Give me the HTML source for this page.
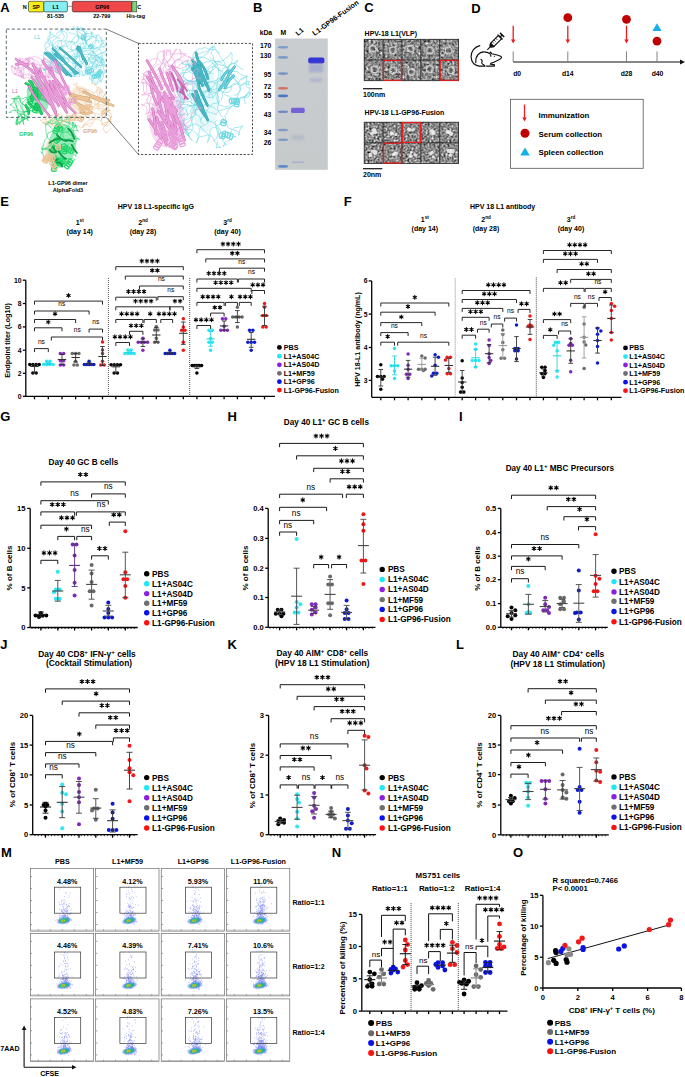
<!DOCTYPE html><html><head><meta charset="utf-8"><style>html,body{margin:0;padding:0;background:#fff;overflow:hidden;}svg{display:block;}</style></head><body><svg width="685" height="1077" viewBox="0 0 685 1077" font-family='"Liberation Sans", sans-serif'>
<rect width="685" height="1077" fill="#fff"/>
<text x="0.30" y="12.38" font-size="13" font-weight="bold" text-anchor="start" fill="#000">A</text>
<text x="24.80" y="9.18" font-size="5.5" font-weight="bold" text-anchor="middle" fill="#000">N</text>
<rect x="28.5" y="1.3" width="15.3" height="10.6" rx="1.5" fill="#f6ee1a" stroke="#222" stroke-width="0.6"/>
<text x="36.10" y="8.58" font-size="5.5" font-weight="bold" text-anchor="middle" fill="#000">SP</text>
<rect x="43.8" y="1.3" width="23.6" height="10.6" rx="1.5" fill="#84eef2" stroke="#222" stroke-width="0.6"/>
<text x="55.60" y="8.58" font-size="5.5" font-weight="bold" text-anchor="middle" fill="#000">L1</text>
<line x1="67.40" y1="6.30" x2="72.30" y2="6.30" stroke="#555" stroke-width="0.6"/>
<rect x="72.3" y="1.3" width="59.7" height="10.6" rx="1.5" fill="#f04848" stroke="#222" stroke-width="0.6"/>
<text x="102.20" y="8.58" font-size="5.5" font-weight="bold" text-anchor="middle" fill="#000">GP96</text>
<rect x="132" y="1.3" width="4.8" height="10.6" fill="#7ad67a" stroke="#222" stroke-width="0.5"/>
<text x="139.20" y="8.98" font-size="5.5" font-weight="bold" text-anchor="middle" fill="#000">C</text>
<text x="55.60" y="18.48" font-size="5.5" font-weight="bold" text-anchor="middle" fill="#000">81-535</text>
<text x="101.80" y="18.48" font-size="5.5" font-weight="bold" text-anchor="middle" fill="#000">22-799</text>
<text x="135.70" y="18.48" font-size="5.5" font-weight="bold" text-anchor="middle" fill="#000">His-tag</text>
<path d="M79.0,37.7 L80.8,38.4 L82.7,39.1 L84.4,40.2 L86.4,40.5 L88.3,40.0 L90.1,39.0 L92.0,38.5 L93.6,37.3 L95.6,37.3 L97.2,36.1 L98.3,34.4 L99.5,36.0 L100.1,37.9 L101.0,39.7 L102.0,41.4 L103.3,42.9 L104.4,44.6 L105.7,46.1 L103.7,46.4 L101.8,47.0 L100.1,48.0 L99.1,49.7 L97.5,50.9 L95.6,51.7 L93.7,51.9 L91.8,51.2 L89.9,50.7 L87.9,50.6 L85.9,50.6 L83.9,51.0 L81.9,50.8 L80.3,52.0 L78.7,53.2 L77.1,54.4 L75.8,55.9 L75.6,57.9 L75.0,59.8 L75.6,61.7 L76.1,63.6 L77.5,65.1 L79.4,65.5 L81.4,64.9 L82.7,63.4 L83.1,61.5 L84.0,59.7 M88.0,45.6 L86.8,44.0 L85.6,42.4 L85.3,40.4 L84.5,38.6 L84.8,36.6 L85.6,34.7 L86.8,33.1 L86.7,31.1 L85.6,29.5 L83.6,28.9 L81.7,28.8 L80.1,27.5 L81.8,28.6 L82.7,30.4 L84.4,31.4 L85.8,32.9 L86.5,34.8 L86.3,36.7 L85.4,38.5 L85.4,40.5 L86.3,42.3 L86.5,44.3 L85.9,46.2 L84.4,47.6 L83.1,49.0 L81.1,49.6 L79.7,51.0 L77.7,51.3 L75.9,50.5 L73.9,50.2 L72.1,51.0 L70.2,51.7 L68.3,51.9 L66.4,52.5 L65.2,54.1 L64.5,56.0 L63.1,57.4 L62.7,59.4 L61.2,60.8 L60.3,62.5 L60.2,64.5 L61.1,66.3 L60.7,68.3 L59.4,69.7 L58.4,71.5 M49.3,59.2 L49.6,57.2 L50.3,55.3 L51.9,54.0 L53.3,52.7 L54.9,51.4 L56.8,51.0 L58.5,49.8 L59.7,48.2 L61.2,46.9 L62.8,45.8 L64.5,44.7 L65.9,43.2 L67.9,42.9 L69.6,41.9 L71.6,41.4 L73.5,42.1 L75.4,42.4 L77.2,41.5 L78.6,40.0 L78.8,38.0 L78.1,36.2 L76.5,34.9 L74.7,34.1 L72.8,33.6 L70.8,33.2 L69.0,32.4 L67.4,31.1 L66.2,29.5 L64.8,28.2 L66.6,28.8 L68.5,29.6 L70.5,29.4 L72.5,29.3 L74.4,28.7 L76.4,28.6 L78.3,29.2 L80.3,29.0 L82.2,28.6 L84.2,28.1 L83.4,30.0 L83.8,31.9 L85.3,33.2 L85.7,35.2 L85.3,37.2 L85.2,39.2 M84.2,41.2 L84.9,39.3 L86.3,37.9 L87.6,36.4 L89.6,36.0 L91.4,36.8 L93.4,36.4 L95.3,35.8 L97.1,35.0 L96.7,37.0 L95.9,38.8 L96.1,40.8 L95.7,42.7 L94.3,44.2 L94.0,46.2 L93.3,48.0 L93.1,50.0 L92.6,52.0 L91.6,53.7 L89.7,54.4 L87.8,54.3 L85.8,54.7 L83.8,54.4 L81.9,55.1 L79.9,55.2 L78.0,55.6 L76.2,56.5 L74.9,58.0 L74.3,59.9 L73.0,61.4 L72.7,63.4 L73.1,65.4 L74.3,67.0 L76.1,67.8 L77.5,69.2 L78.8,70.8 L79.7,72.6 L79.5,74.6 L79.4,76.6 L77.5,75.9 L75.5,76.1 L73.5,76.3 L71.6,75.8 L70.2,74.4 L68.8,72.9 L67.0,72.1 M79.7,72.3 L77.9,73.2 L75.9,73.0 L73.9,72.5 L72.0,72.1 L70.1,72.7 L68.8,74.3 L68.6,76.3 L67.9,74.4 L67.6,72.4 L68.7,70.8 L70.1,69.3 L72.0,69.0 L73.9,68.4 L75.3,66.9 L75.6,65.0 L75.3,63.0 L75.1,61.0 L76.2,59.3 L76.8,57.4 L76.6,55.4 L77.1,53.5 L77.3,51.5 L77.6,49.5 L76.9,47.6 L77.3,45.6 L78.6,44.2 L80.4,43.3 L82.4,43.6 L84.4,43.4 L85.9,42.1 L86.9,40.4 L88.7,39.5 L90.5,38.5 L91.7,37.0 L92.0,35.0 L91.4,33.1 L90.7,31.2 L91.5,33.0 L91.3,35.0 L90.4,36.8 L88.9,38.2 L88.1,40.0 L86.7,41.4 L85.9,43.2 L85.0,45.1 M45.4,70.4 L43.5,69.8 L45.5,69.6 L43.8,70.6 L45.1,69.0 L45.3,71.0 L44.6,69.1 L45.3,71.0 L43.9,69.6 L45.3,71.0 L43.7,69.8 L45.3,68.7 L47.2,68.0 L48.4,66.4 L49.9,65.1 L51.2,63.5 L53.0,62.7 L54.0,61.0 L55.9,60.2 L56.9,58.5 L56.7,56.5 L55.2,55.1 L53.3,54.6 L52.1,53.0 L51.8,51.0 L52.6,49.2 L52.5,47.2 L53.0,45.2 L54.2,43.7 L55.9,42.5 L57.1,40.9 L59.0,40.4 L61.0,40.5 L62.9,41.1 L64.9,41.2 L66.9,40.9 L68.8,41.4 L70.8,41.9 L72.7,42.3 L74.1,43.8 L75.6,45.1 L76.3,47.0 L78.0,48.1 L79.6,49.2 L80.8,50.8 L82.8,51.3 M86.0,42.0 L84.9,40.3 L83.1,39.5 L82.1,37.7 L80.6,36.4 L78.7,36.0 L76.7,35.7 L74.9,36.7 L73.9,38.4 L72.3,39.7 L71.7,41.6 L70.9,43.4 L69.3,44.6 L67.8,45.9 L65.9,46.4 L63.9,46.1 L62.0,46.6 L60.7,48.1 L58.9,49.0 L56.9,48.9 L55.2,47.9 L53.9,46.4 L52.5,44.9 L52.4,42.9 L52.9,41.0 L54.1,39.4 L55.9,38.7 L57.0,37.0 L58.6,35.8 L60.3,34.7 L61.0,32.9 L61.0,30.9 L61.6,29.0 L62.2,30.9 L62.6,32.8 L63.5,34.6 L64.3,36.5 L64.0,38.4 L62.5,39.8 L61.0,41.1 L59.1,41.8 L58.0,43.4 L57.7,45.4 L57.3,47.4 L56.1,48.9 L55.8,50.9 M52.4,52.0 L52.7,54.0 L53.9,55.6 L55.3,57.1 L55.9,58.9 L57.3,60.3 L58.1,62.2 L59.7,63.4 L61.6,63.9 L63.4,64.8 L65.3,64.5 L67.2,63.6 L68.4,62.0 L68.9,60.1 L70.3,58.7 L71.0,56.8 L72.2,55.2 L74.1,54.5 L75.6,53.2 L77.6,52.8 L79.3,51.9 L81.3,51.8 L83.3,51.9 L85.3,51.5 L87.2,52.3 L88.8,53.5 L90.6,54.2 L92.4,55.2 L94.3,55.6 L96.3,55.4 L98.1,56.4 L98.8,58.3 L100.3,59.6 L100.9,61.5 L100.8,63.5 L102.1,65.1 L100.1,65.6 L98.3,66.3 L96.3,66.0 L94.8,64.7 L92.9,64.0 L91.0,63.4 L89.7,61.9 L87.9,61.0 L85.9,61.1 L84.0,61.5 M85.1,69.4 L85.3,67.5 L84.6,65.6 L83.1,64.3 L81.8,62.8 L80.3,61.5 L79.7,59.5 L79.5,57.6 L79.6,55.6 L80.2,53.7 L80.0,51.7 L80.9,49.9 L82.6,48.7 L84.5,48.4 L86.5,48.9 L88.4,48.4 L89.8,46.9 L90.8,45.2 L92.3,43.9 L93.1,42.1 L94.7,40.9 L96.7,40.6 L98.7,40.9 L100.6,41.1 L102.5,40.4 L104.5,40.5 L103.5,42.2 L102.4,44.0 L100.9,45.2 L99.1,46.1 L97.8,47.6 L95.9,48.2 L94.2,49.3 L92.6,50.6 L91.2,52.0 L89.4,52.9 L88.6,54.7 L87.4,56.3 L86.2,57.9 L84.5,58.9 L83.0,60.3 L81.4,61.4 L79.4,61.4 L77.7,62.5 L75.7,62.8 L73.8,63.2 M61.8,41.5 L61.2,43.4 L61.5,45.4 L60.5,47.1 L59.5,48.8 L59.0,50.8 L57.9,52.4 L56.5,53.9 L54.6,54.4 L53.2,55.9 L51.5,56.9 L50.7,58.7 L50.8,60.7 L51.2,62.7 L52.0,64.5 L53.4,66.0 L54.6,67.6 L55.1,69.5 L56.0,71.3 L56.7,73.2 L55.6,71.5 L53.8,70.5 L53.2,68.6 L51.5,67.5 L49.7,66.7 L48.4,65.2 L46.6,64.3 L44.7,63.8 L46.0,62.3 L48.0,62.0 L49.9,62.6 L51.8,62.2 L53.8,61.8 L55.3,60.6 L55.8,58.6 L55.5,56.6 L55.7,54.7 L56.0,52.7 L55.7,50.7 L55.7,48.7 L54.5,47.1 L53.1,45.7 L51.1,45.4 L49.5,44.2 L47.7,43.3 L46.2,41.9 M63.9,48.0 L62.0,47.8 L60.0,47.4 L58.3,46.3 L56.3,46.3 L54.5,47.1 L53.6,48.9 L52.7,50.7 L52.9,52.7 L53.1,54.7 L54.1,56.4 L55.1,58.2 L56.5,59.5 L57.4,61.3 L57.5,63.3 L56.3,65.0 L55.2,66.6 L53.4,67.5 L51.4,67.4 L49.5,67.8 L47.7,66.8 L46.9,65.0 L45.3,63.8 L44.2,62.1 L43.6,60.2 L43.3,58.2 L43.7,56.2 L43.4,54.3 L44.0,52.4 L45.1,50.7 L45.5,48.8 L47.0,47.4 L48.8,46.6 L49.9,44.9 L49.6,42.9 L48.5,41.3 L47.8,39.4 L47.8,37.4 L48.8,35.7 L50.6,34.8 L51.9,33.2 L52.6,35.1 L54.2,36.3 L56.0,37.2 L57.9,37.9 L59.9,38.3 M93.6,57.3 L95.1,56.0 L97.0,55.3 L98.9,54.6 L100.7,53.7 L102.5,52.9 L104.3,52.0 L106.3,51.6 L104.4,52.3 L102.4,52.5 L100.6,53.4 L98.8,54.1 L96.9,55.0 L95.8,56.6 L95.7,58.6 L95.7,60.6 L94.6,62.3 L93.0,63.5 L92.5,65.5 L91.0,66.8 L89.2,67.6 L87.2,68.1 L86.1,69.7 L85.4,71.6 L85.2,73.6 L85.0,75.6 L83.2,74.6 L81.7,73.3 L80.4,71.8 L79.3,70.1 L78.3,68.4 L77.4,66.6 L75.8,65.5 L74.7,63.8 L74.7,61.8 L75.6,60.0 L77.1,58.7 L78.0,56.9 L78.4,54.9 L77.6,53.1 L77.5,51.1 L78.4,49.3 L80.2,48.4 L82.0,47.7 L84.0,47.8 L85.7,48.9 M50.8,31.8 L49.3,33.2 L50.3,31.4 L50.2,33.4 L50.4,35.4 L49.6,37.2 L49.5,39.2 L50.5,41.0 L50.7,42.9 L52.0,44.4 L52.8,46.3 L53.2,48.2 L54.6,49.7 L56.1,51.0 L57.9,51.8 L59.2,53.3 L59.9,55.2 L61.0,56.9 L62.8,57.8 L64.7,58.4 L66.6,58.8 L68.5,59.5 L69.6,61.1 L71.1,62.5 L73.1,62.9 L74.9,63.7 L76.8,64.3 L78.4,65.5 L79.7,67.0 L80.9,68.6 L81.3,70.6 L82.5,72.2 L82.9,74.2 L84.2,75.8 L82.2,75.3 L80.3,74.6 L78.5,73.9 L76.5,74.2 L74.5,74.6 L72.8,75.6 L71.5,77.1 L71.5,75.1 L71.2,73.1 L70.2,71.4 L69.6,69.5 L70.3,67.6 M101.4,37.0 L101.9,39.0 L102.1,41.0 L101.8,42.9 L101.2,44.9 L100.7,46.8 L99.1,47.9 L97.1,47.8 L95.3,46.9 L93.3,46.7 L91.5,45.7 L89.6,46.0 L87.8,45.1 L86.3,43.7 L85.9,41.8 L85.3,39.9 L85.2,37.9 L84.5,36.0 L84.9,34.1 L84.4,32.1 L82.8,30.9 L81.0,30.2 L79.3,29.1 L77.7,28.0 L76.7,26.2 L78.2,27.5 L79.2,29.3 L78.9,31.2 L79.8,33.0 L81.6,34.0 L83.5,34.5 L85.4,34.0 L87.4,33.6 L89.4,33.8 L91.3,33.1 L93.2,32.5 L92.7,34.4 L93.5,36.2 L94.9,37.7 L96.6,38.6 L98.1,40.0 L98.5,41.9 L99.9,43.4 L101.3,44.8 L102.8,46.1 L104.0,47.7 M52.5,73.4 L51.8,71.5 L50.8,69.7 L50.1,67.9 L50.3,65.9 L50.9,64.0 L51.1,62.0 L52.4,60.5 L52.9,58.5 L54.4,57.3 L56.3,56.4 L57.7,55.0 L59.7,54.8 L61.5,55.6 L63.3,56.4 L64.6,57.9 L66.6,58.5 L68.6,58.4 L70.6,58.3 L72.3,59.3 L74.1,60.1 L75.1,61.8 L75.9,63.6 L76.0,65.6 L75.4,67.5 L75.9,69.5 L75.1,71.4 L74.2,73.1 L74.2,75.1 L75.2,76.9 L73.9,75.4 L72.7,73.7 L72.6,71.7 L73.5,70.0 L74.5,68.2 L75.4,66.4 L76.8,65.0 L78.8,64.8 L80.6,64.0 L82.5,63.3 L83.8,61.8 L83.8,59.8 L82.8,58.1 L81.4,56.6 L80.3,55.0 L80.1,53.0 M89.3,73.7 L88.3,75.4 L87.6,73.6 L86.6,71.8 L85.7,70.0 L86.2,68.1 L86.5,66.1 L85.7,64.3 L84.5,62.7 L83.5,61.0 L82.9,59.0 L81.6,57.6 L79.8,56.6 L77.8,56.5 L75.8,56.4 L73.8,56.6 L71.9,57.3 L70.1,57.9 L68.1,57.9 L66.1,57.5 L64.3,56.5 L62.5,55.8 L61.4,54.1 L59.6,53.3 L57.6,53.6 L56.1,54.9 L54.6,56.3 L53.5,58.0 L53.2,59.9 L54.3,61.7 L54.5,63.6 L55.9,65.1 L57.0,66.8 L56.8,68.8 L57.4,70.7 L57.6,72.7 L57.2,70.7 L56.6,68.8 L57.1,66.9 L56.3,65.1 L55.8,63.1 L56.0,61.1 L56.2,59.2 L57.3,57.5 L59.1,56.8 L61.1,57.1 M72.7,61.0 L74.3,59.8 L74.9,57.9 L74.7,55.9 L74.7,53.9 L73.8,52.1 L72.1,51.0 L71.5,49.1 L70.9,47.2 L71.7,45.3 L73.2,44.0 L75.0,43.3 L76.9,42.5 L78.2,41.0 L78.5,39.1 L78.1,37.1 L77.6,35.2 L77.4,33.2 L76.3,31.5 L75.1,29.9 L73.6,28.6 L73.1,26.6 L74.9,27.4 L76.3,28.8 L77.3,30.6 L77.1,32.6 L77.6,34.5 L78.6,36.2 L79.7,37.9 L81.3,39.1 L82.6,40.6 L82.9,42.6 L83.0,44.6 L84.0,46.3 L85.8,47.2 L87.5,48.3 L89.2,49.3 L91.2,49.1 L93.0,48.4 L95.0,48.6 L97.0,49.1 L99.0,49.2 L100.5,50.4 L101.0,52.4 L102.5,53.7 L104.4,54.3 M80.7,44.5 L80.4,46.5 L79.0,47.9 L77.6,49.4 L75.7,49.8 L73.7,49.9 L71.7,49.7 L69.7,49.4 L68.0,48.4 L67.1,46.6 L66.2,44.8 L65.3,43.1 L65.1,41.1 L65.9,39.2 L67.0,37.6 L67.3,35.6 L66.6,33.7 L65.5,32.1 L63.6,31.3 L61.6,31.0 L59.6,31.1 L57.9,32.2 L57.0,33.9 L55.7,35.4 L53.8,36.1 L52.2,37.4 L50.4,38.1 L48.7,39.1 L48.0,41.0 L46.3,42.1 L45.5,43.9 L44.7,45.8 L45.2,47.7 L46.3,49.4 L47.8,50.8 L49.4,52.0 L51.0,53.2 L51.5,55.1 L51.7,57.1 L52.1,59.1 L51.5,61.0 L51.1,62.9 L50.1,64.7 L49.3,66.5 L47.9,67.9 L47.1,66.1" fill="none" stroke="#6ad9e3" stroke-width="0.55" stroke-linecap="round" stroke-linejoin="round" opacity="1"/>
<path d="M102.8,63.1 L104.4,61.8 L104.4,63.8 L103.6,65.7 L103.4,67.7 L104.0,69.6 L105.0,71.3 L105.4,73.3 L103.5,72.8 L101.7,71.8 L99.8,71.3 L97.8,71.7 L95.9,72.2 L94.1,73.1 L92.3,74.1 L90.3,74.0 L88.7,72.8 L86.8,72.4 L88.7,72.9 L90.5,73.8 L91.4,75.6 L91.5,77.6 L91.5,79.6 L92.2,81.5 L91.6,83.4 L92.3,81.5 L93.2,79.7 L93.2,77.7 L94.0,75.9 L95.4,74.5 L97.3,74.0 L99.2,74.8 L100.1,76.6 L100.4,78.5 L101.0,80.5 L101.6,82.4 L100.0,81.1 L99.0,79.4 L98.3,77.5 L98.5,75.5 L98.8,73.5 M97.6,83.0 L99.1,81.7 L101.0,80.9 L102.1,79.3 L103.1,77.5 L103.5,75.6 L103.3,73.6 L102.1,72.0 L100.2,71.2 L98.3,70.5 L96.9,69.2 L96.3,67.3 L97.0,65.4 L97.9,63.6 L97.4,61.6 L96.2,60.0 L94.3,59.4 L93.0,58.0 L91.3,56.9 L90.0,55.4 L92.0,55.7 L93.9,56.3 L95.3,57.7 L96.3,59.4 L98.2,60.3 L99.8,61.4 L101.7,62.2 L102.6,63.9 L104.1,65.3 L105.9,66.1 L104.1,65.4 L102.1,64.9 L100.2,65.6 L98.2,65.5 L96.6,64.3 L95.0,63.1 L93.1,62.8 L91.5,61.5 L89.7,60.6 L87.7,60.4 L88.5,58.6 M102.9,59.4 L104.5,60.5 L102.6,60.1 L101.4,58.5 L99.6,57.5 L98.1,56.3 L96.2,55.6 L94.9,54.1 L93.5,52.6 L95.3,53.5 L96.5,55.1 L97.6,56.8 L98.8,58.4 L100.7,58.9 L102.7,58.5 L101.0,59.6 L99.0,60.0 L97.0,60.1 L95.5,61.5 L93.6,62.2 L91.7,62.0 L90.0,60.8 L88.9,59.2 L88.1,57.3 L90.0,58.0 L92.0,58.3 L93.9,57.8 L95.9,57.6 L97.8,57.1 L99.8,57.3 L101.7,56.8 L101.0,58.7 L101.4,60.7 L102.4,62.4 L102.7,64.4 L102.0,66.3 L100.5,67.5 L100.0,69.4 L99.0,71.2 L97.8,72.8 L97.1,74.7 M103.9,73.9 L102.4,75.2 L101.0,76.6 L99.7,78.1 L98.4,79.6 L97.1,81.2 L97.1,83.2 L96.2,85.0 L95.3,83.2 L94.4,81.5 L92.7,80.3 L91.2,79.0 L89.2,78.9 L89.9,77.0 L89.8,75.0 L90.8,73.3 L92.2,71.8 L93.9,70.8 L94.9,69.1 L95.7,67.3 L97.1,65.8 L98.9,64.9 L100.6,63.9 L101.5,62.1 L102.0,60.1 L103.5,58.9 L102.1,60.3 L100.4,61.4 L99.0,62.8 L97.5,64.0 L95.8,65.1 L94.1,66.2 L92.1,66.5 L90.1,66.5 L88.5,67.6 L86.5,68.1 L88.2,67.0 L89.0,65.2 L89.8,63.3 L91.6,62.4 L93.5,61.9 M99.1,67.3 L97.2,66.9 L95.2,67.1 L93.2,67.4 L91.7,68.7 L90.2,70.0 L88.4,70.9 L86.4,71.3 L88.4,70.9 L90.2,70.0 L91.4,68.4 L92.3,66.6 L92.8,64.7 L94.2,63.3 L95.0,61.5 L95.8,59.6 L97.5,58.7 L99.1,57.5 L100.7,56.2 L102.1,54.8 L102.3,56.8 L103.0,58.7 L102.8,60.6 L103.8,62.3 L101.9,62.8 L99.9,62.4 L98.2,61.4 L96.3,60.6 L94.5,59.9 L92.6,59.2 L90.6,59.2 L88.6,59.4 L89.8,57.8 L91.2,56.4 L92.3,54.7 L93.5,53.1 L93.6,51.1 L93.4,53.1 L94.5,54.8 L95.7,56.4 L97.1,57.7" fill="none" stroke="#6ad9e3" stroke-width="0.55" stroke-linecap="round" stroke-linejoin="round" opacity="1"/>
<path d="M45.1,53.5 Q57.2,63.0 68.2,73.8 M54.5,54.2 Q65.7,63.0 75.7,71.7 M61.9,57.6 Q68.0,66.8 77.8,73.0 M56.9,54.0 Q65.0,63.7 76.0,73.1 M46.5,52.6 Q55.3,61.7 66.7,74.8 M49.1,53.3 Q59.6,64.1 70.9,75.9 M59.7,47.8 Q71.0,57.0 81.0,66.9 M52.7,48.5 Q65.7,61.9 75.4,73.8" fill="none" stroke="#2a9aa8" stroke-width="2.2" stroke-linecap="round" opacity="1"/>
<path d="M45.1,53.5 Q57.2,63.0 68.2,73.8 M54.5,54.2 Q65.7,63.0 75.7,71.7 M61.9,57.6 Q68.0,66.8 77.8,73.0 M56.9,54.0 Q65.0,63.7 76.0,73.1 M46.5,52.6 Q55.3,61.7 66.7,74.8 M49.1,53.3 Q59.6,64.1 70.9,75.9 M59.7,47.8 Q71.0,57.0 81.0,66.9 M52.7,48.5 Q65.7,61.9 75.4,73.8" fill="none" stroke="#4fbcc8" stroke-width="1.4" stroke-linecap="round" opacity="1"/>
<path d="M76.7,48.5 Q83.3,54.2 86.7,64.3 M77.9,46.5 Q81.8,54.6 87.0,63.2 M79.6,47.1 Q81.2,51.2 82.9,59.0" fill="none" stroke="#2a9aa8" stroke-width="2.1" stroke-linecap="round" opacity="1"/>
<path d="M76.7,48.5 Q83.3,54.2 86.7,64.3 M77.9,46.5 Q81.8,54.6 87.0,63.2 M79.6,47.1 Q81.2,51.2 82.9,59.0" fill="none" stroke="#4fbcc8" stroke-width="1.3" stroke-linecap="round" opacity="1"/>
<g fill="none" stroke="#6ad9e3" stroke-width="1.2" transform="rotate(129 100.8 71.3)"><ellipse cx="100.8" cy="71.3" rx="1.2" ry="2.1"/><ellipse cx="102.7" cy="71.3" rx="1.2" ry="2.1"/><ellipse cx="104.7" cy="71.3" rx="1.2" ry="2.1"/><ellipse cx="106.6" cy="71.3" rx="1.2" ry="2.1"/></g>
<g fill="none" stroke="#6ad9e3" stroke-width="1.2" transform="rotate(164 99.2 75.0)"><ellipse cx="99.2" cy="75.0" rx="1.2" ry="2.1"/><ellipse cx="101.1" cy="75.0" rx="1.2" ry="2.1"/><ellipse cx="103.1" cy="75.0" rx="1.2" ry="2.1"/><ellipse cx="105.0" cy="75.0" rx="1.2" ry="2.1"/></g>
<g fill="none" stroke="#6ad9e3" stroke-width="1.2" transform="rotate(160 92.2 70.1)"><ellipse cx="92.2" cy="70.1" rx="1.2" ry="2.1"/><ellipse cx="94.2" cy="70.1" rx="1.2" ry="2.1"/><ellipse cx="96.1" cy="70.1" rx="1.2" ry="2.1"/><ellipse cx="98.1" cy="70.1" rx="1.2" ry="2.1"/></g>
<g fill="none" stroke="#6ad9e3" stroke-width="1.2" transform="rotate(132 91.4 45.7)"><ellipse cx="91.4" cy="45.7" rx="1.1" ry="2.0"/><ellipse cx="93.2" cy="45.7" rx="1.1" ry="2.0"/></g>
<g fill="none" stroke="#6ad9e3" stroke-width="1.2" transform="rotate(23 82.3 37.1)"><ellipse cx="82.3" cy="37.1" rx="1.1" ry="2.0"/><ellipse cx="84.1" cy="37.1" rx="1.1" ry="2.0"/></g>
<path d="M99.1,92.6 L101.0,91.9 L102.7,90.9 L101.6,92.5 L101.4,94.5 L101.9,96.4 L102.7,98.3 L104.2,99.7 L105.2,101.4 L106.4,103.0 L107.9,104.3 L105.9,104.7 L104.3,105.8 L102.4,106.4 L100.4,105.8 L98.4,105.7 L96.7,104.7 L94.7,104.3 L93.1,103.2 L91.1,102.7 L89.2,102.1 L87.3,101.7 L85.8,100.3 L84.8,98.6 L83.1,97.6 L81.1,97.6 L79.1,97.8 L77.4,98.7 L76.0,100.2 L74.1,100.6 L72.2,99.8 L70.3,100.4 L69.1,102.0 L67.7,103.4 L65.7,103.7 L63.9,102.9 L62.3,101.6 L64.2,102.4 L66.0,103.1 L67.9,103.8 L69.3,105.2 M68.0,112.9 L66.8,111.3 L66.2,109.4 L64.8,108.0 L64.6,106.0 L65.2,104.0 L65.6,102.1 L66.2,100.2 L67.9,99.1 L69.3,97.7 L70.0,95.8 L71.3,94.2 L73.1,93.5 L74.5,92.0 L76.3,91.1 L77.9,90.0 L79.7,89.3 L81.6,88.5 L83.5,89.0 L85.4,89.6 L86.5,91.3 L86.4,93.3 L87.2,95.1 L86.9,97.1 L85.9,98.8 L85.8,100.8 L85.5,102.8 L85.9,104.8 L87.4,106.1 L89.3,106.4 L91.3,106.3 L93.1,107.2 L95.1,107.0 L97.1,106.9 L98.8,107.9 L100.7,108.5 L102.4,109.7 L103.8,111.1 L104.7,112.9 L105.6,114.7 L105.2,116.6 M80.6,92.6 L82.5,93.4 L84.5,93.2 L86.2,94.1 L88.2,94.1 L90.0,95.0 L91.3,96.5 L92.7,98.0 L94.7,98.3 L96.6,97.8 L98.5,98.6 L100.4,99.1 L102.0,100.3 L104.0,100.5 L105.7,99.5 L107.3,98.2 L107.2,100.2 L108.0,102.0 L108.4,104.0 L108.5,106.0 L108.5,108.0 L107.0,106.7 L105.3,105.7 L103.3,105.2 L101.4,104.6 L99.5,104.3 L97.6,103.6 L96.5,101.9 L95.1,100.5 L93.8,99.0 L91.9,98.3 L90.5,96.9 L89.2,95.4 L88.0,93.8 L87.0,92.1 L85.3,91.1 L84.3,89.4 L82.4,88.7 L80.4,88.8 L78.4,89.0 L76.6,88.1 M93.6,122.4 L92.4,124.0 L91.0,125.4 L90.2,127.2 L88.8,125.8 L87.1,124.8 L85.1,124.8 L83.6,126.1 L82.8,128.0 L83.4,126.1 L84.2,124.3 L85.6,122.8 L87.2,121.6 L88.7,120.3 L90.7,120.0 L92.6,119.3 L94.1,118.0 L95.2,116.3 L95.1,114.3 L93.8,112.8 L92.1,111.7 L90.6,110.4 L88.7,109.8 L86.8,109.2 L84.8,109.3 L82.9,108.6 L80.9,108.7 L78.9,108.9 L77.0,108.4 L75.3,107.3 L74.4,105.5 L72.6,104.7 L70.7,103.9 L68.7,104.0 L67.0,103.1 L65.0,102.8 L63.3,101.7 L61.7,100.6 L63.5,101.2 L65.0,102.6 L65.6,104.5 M101.8,100.9 L102.0,98.9 L103.0,97.1 L103.8,95.3 L105.4,94.1 L104.2,95.7 L103.0,97.3 L102.1,99.1 L101.2,100.9 L99.5,101.9 L98.3,103.5 L96.4,104.0 L95.0,105.5 L94.1,107.3 L92.7,108.7 L91.0,109.7 L89.5,111.1 L88.5,112.8 L87.4,114.4 L85.8,115.6 L84.3,117.0 L82.9,118.4 L81.7,120.0 L79.9,120.8 L77.9,120.6 L76.0,120.0 L74.0,120.1 L72.0,120.4 L70.1,120.9 L68.1,121.1 L69.2,119.4 L70.6,117.9 L72.0,116.5 L73.5,115.2 L75.5,115.0 L77.4,114.6 L79.1,113.6 L79.8,111.7 L79.1,109.9 L78.9,107.9 L79.8,106.1 M92.1,92.4 L94.1,92.7 L95.9,91.8 L96.8,90.0 L98.1,88.5 L98.5,86.5 L99.4,88.3 L99.3,90.3 L99.3,92.3 L99.6,94.3 L99.8,96.3 L98.9,98.1 L98.9,100.1 L98.3,102.0 L98.5,104.0 L98.3,105.9 L99.3,107.6 L101.2,108.4 L103.2,108.3 L105.1,108.9 L107.1,108.7 L105.3,109.5 L103.7,110.7 L101.8,111.1 L99.9,110.4 L98.4,109.1 L96.5,108.5 L94.6,109.1 L92.7,109.9 L91.2,111.1 L90.8,113.1 L89.8,114.8 L88.1,116.0 L86.1,116.2 L84.3,115.2 L82.7,114.2 L81.0,113.0 L80.4,111.1 L79.6,109.3 L79.4,107.3 L78.6,105.5 M104.0,110.1 L105.8,111.0 L107.4,112.2 L105.4,112.1 L103.6,113.0 L102.3,114.5 L102.1,116.5 L101.6,118.4 L101.8,120.4 L99.8,120.2 L97.9,119.6 L96.2,118.7 L94.2,118.9 L92.4,119.7 L90.4,119.5 L88.5,118.8 L87.1,117.4 L85.3,116.6 L83.3,117.0 L81.3,116.9 L79.3,116.7 L77.4,116.2 L75.5,116.9 L73.6,117.3 L71.6,116.8 L69.7,116.3 L67.8,115.7 L65.8,116.1 L66.9,114.4 L67.3,112.5 L66.4,110.6 L66.9,108.7 L66.7,106.7 L65.6,105.0 L64.6,103.3 L63.0,102.1 L62.1,100.3 L64.1,100.4 L66.1,100.1 L67.9,99.2 L68.8,97.4 M98.3,109.2 L97.9,107.2 L96.5,105.7 L95.9,103.9 L94.8,102.2 L94.6,100.2 L95.8,98.5 L96.7,96.8 L98.3,95.6 L99.7,94.2 L100.2,92.2 L100.4,90.2 L101.0,88.3 L101.6,90.2 L102.3,92.1 L103.9,93.4 L105.2,94.9 L106.0,96.7 L106.6,98.6 L107.8,100.2 L108.4,102.1 L108.3,104.1 L108.7,106.1 L106.9,105.1 L105.1,104.4 L103.3,103.4 L102.5,101.6 L102.3,99.6 L101.0,98.1 L99.3,97.1 L97.7,95.9 L97.0,94.0 L96.8,92.0 L97.5,90.2 L97.3,88.2 L96.5,86.4 L95.2,84.8 L93.3,84.2 L91.7,83.0 L93.7,83.4 L95.5,84.3 M93.7,113.2 L95.6,113.7 L97.5,114.3 L99.5,114.2 L101.4,113.4 L103.4,113.5 L105.1,112.5 L105.8,110.6 L107.4,109.4 L105.9,110.7 L104.7,112.3 L103.7,114.0 L102.1,115.2 L100.3,116.1 L98.5,117.1 L97.1,118.4 L95.4,119.5 L93.7,120.7 L92.6,122.3 L90.6,122.8 L88.7,123.2 L86.9,124.0 L84.9,124.3 L83.2,125.3 L82.0,126.9 L80.8,128.6 L79.6,127.0 L78.2,125.6 L76.2,125.2 L74.5,124.1 L72.9,122.9 L72.1,121.1 L70.5,119.9 L68.6,119.6 L66.6,119.0 L68.6,118.6 L70.4,117.7 L71.3,115.9 L72.2,114.2 L74.0,113.3 L76.0,113.2 M67.8,112.3 L67.4,110.3 L65.9,109.0 L65.1,107.1 L63.3,106.2 L61.6,105.2 L63.1,103.9 L65.1,103.4 L66.8,102.5 L68.7,101.7 L70.7,101.4 L72.7,101.3 L74.6,101.8 L76.5,101.2 L77.8,99.6 L79.5,98.6 L80.2,96.7 L79.9,94.7 L79.6,92.7 L80.1,90.8 L79.6,88.9 L78.5,87.2 L76.6,86.6 L75.1,85.2 L73.2,84.7 L75.0,83.9 L76.5,82.6 L77.2,84.5 L76.7,86.4 L77.2,88.3 L78.8,89.6 L80.1,91.0 L82.1,91.5 L84.1,91.3 L86.0,90.8 L87.8,89.8 L89.7,90.0 L91.4,91.2 L92.7,92.6 L94.0,94.2 L95.0,95.9" fill="none" stroke="#ebc498" stroke-width="0.55" stroke-linecap="round" stroke-linejoin="round" opacity="1"/>
<ellipse cx="80" cy="100" rx="12" ry="14" fill="#ebc498" opacity="0.3" transform="rotate(0 80 100)"/>
<path d="M76.2,102.9 Q84.6,107.2 89.1,109.1 M70.6,93.9 Q78.6,96.4 81.9,96.7 M75.6,98.6 Q84.5,96.8 89.1,98.3 M77.3,96.1 Q79.9,99.2 86.8,100.5 M74.5,100.8 Q81.2,107.0 83.8,110.2 M68.8,92.9 Q71.8,97.5 79.7,98.8 M81.3,98.9 Q86.2,98.6 90.7,102.0 M81.0,112.8 Q86.7,114.5 91.6,112.4" fill="none" stroke="#c99a68" stroke-width="2.5" stroke-linecap="round" opacity="1"/>
<path d="M76.2,102.9 Q84.6,107.2 89.1,109.1 M70.6,93.9 Q78.6,96.4 81.9,96.7 M75.6,98.6 Q84.5,96.8 89.1,98.3 M77.3,96.1 Q79.9,99.2 86.8,100.5 M74.5,100.8 Q81.2,107.0 83.8,110.2 M68.8,92.9 Q71.8,97.5 79.7,98.8 M81.3,98.9 Q86.2,98.6 90.7,102.0 M81.0,112.8 Q86.7,114.5 91.6,112.4" fill="none" stroke="#ebc498" stroke-width="1.7" stroke-linecap="round" opacity="1"/>
<g fill="none" stroke="#ebc498" stroke-width="1.2" transform="rotate(130 74.5 116.6)"><ellipse cx="74.5" cy="116.6" rx="1.4" ry="2.4"/><ellipse cx="76.7" cy="116.6" rx="1.4" ry="2.4"/></g>
<g fill="none" stroke="#ebc498" stroke-width="1.2" transform="rotate(79 81.7 107.3)"><ellipse cx="81.7" cy="107.3" rx="1.4" ry="2.4"/><ellipse cx="83.9" cy="107.3" rx="1.4" ry="2.4"/></g>
<g fill="none" stroke="#ebc498" stroke-width="1.2" transform="rotate(108 87.7 106.4)"><ellipse cx="87.7" cy="106.4" rx="1.4" ry="2.4"/><ellipse cx="89.9" cy="106.4" rx="1.4" ry="2.4"/><ellipse cx="92.1" cy="106.4" rx="1.4" ry="2.4"/></g>
<g fill="none" stroke="#ebc498" stroke-width="1.2" transform="rotate(61 89.2 106.4)"><ellipse cx="89.2" cy="106.4" rx="1.4" ry="2.4"/><ellipse cx="91.4" cy="106.4" rx="1.4" ry="2.4"/></g>
<g fill="none" stroke="#ebc498" stroke-width="1.2" transform="rotate(132 81.5 118.1)"><ellipse cx="81.5" cy="118.1" rx="1.4" ry="2.4"/><ellipse cx="83.7" cy="118.1" rx="1.4" ry="2.4"/></g>
<path d="M103.2,109.9 L105.0,110.0 L106.8,110.4 L108.5,109.9 L110.1,110.6 L108.3,110.6 L106.6,111.0 L105.4,112.4 L103.8,113.1 L102.0,112.8 L103.4,111.7 L104.0,110.0 L105.5,109.0 L107.3,108.9 L109.1,108.8 L108.5,110.5 L107.4,111.9 L105.6,112.3 L104.1,113.2 L102.7,114.4 L100.9,114.7 L102.5,113.9 L104.3,114.1 L106.0,114.7 L107.8,114.5 L109.4,115.4 L110.4,116.9 L110.5,118.7 L111.0,120.5 L109.4,119.8 L108.4,118.3 M110.6,109.9 L109.2,111.0 L107.5,111.7 L106.2,113.0 L105.6,114.7 L105.0,116.3 L103.4,117.3 L101.9,118.3 L101.2,119.9 L101.4,121.7 L102.1,123.4 L103.1,124.9 L104.7,125.8 L106.5,125.7 L108.2,125.3 L109.6,124.2 L110.5,122.6 L110.4,120.8 L110.4,119.0 L111.0,117.3 L111.3,115.5 L110.7,113.9 L109.8,112.3 L108.2,111.4 L106.4,111.5 L104.7,112.1 L103.0,111.7 L101.3,112.5 L102.2,110.9 L103.5,112.1 L105.0,113.1 M111.2,128.6 L109.6,129.5 L108.4,130.9 L107.2,132.1 L106.0,133.5 L105.6,131.8 L104.1,130.7 L103.2,129.1 L103.5,127.4 L104.9,126.1 L106.2,124.9 L107.3,123.5 L107.6,121.8 L109.0,120.6 L110.2,119.3 L110.5,117.5 L111.8,116.2 L111.1,117.9 L109.9,119.2 L108.6,120.5 L107.9,122.2 L106.6,123.4 L105.0,124.2 L103.3,124.9 L101.6,124.5 L102.7,123.1 L104.5,122.7 L106.3,122.5 L107.7,121.4 L109.5,121.1 L111.2,121.7" fill="none" stroke="#ebc498" stroke-width="0.6" stroke-linecap="round" stroke-linejoin="round" opacity="1"/>
<path d="M93.4,96.1 Q102.4,100.0 108.9,100.2 M90.7,96.5 Q101.8,101.3 113.2,105.6 M83.4,91.7 Q97.5,98.5 106.9,102.8" fill="none" stroke="#c99a68" stroke-width="2.5" stroke-linecap="round" opacity="1"/>
<path d="M93.4,96.1 Q102.4,100.0 108.9,100.2 M90.7,96.5 Q101.8,101.3 113.2,105.6 M83.4,91.7 Q97.5,98.5 106.9,102.8" fill="none" stroke="#ebc498" stroke-width="1.7" stroke-linecap="round" opacity="1"/>
<path d="M11.1,112.4 L8.9,112.5 L10.8,111.4 L12.7,110.4 L14.9,110.6 L17.1,110.2 L19.2,110.9 L21.3,111.3 L23.3,112.3 L24.3,114.2 L24.4,116.4 L24.2,118.6 L23.1,120.5 L23.4,122.7 L23.9,124.8 L23.1,122.8 L23.1,120.6 L22.9,118.4 L22.0,116.4 L20.6,114.7 L19.1,113.1 L17.0,112.5 L15.6,110.8 L14.5,108.9 L13.6,106.9 L11.9,105.5 L9.9,104.6 L12.0,103.9 L13.5,102.3 L14.6,100.4 L15.3,98.3 L16.7,96.6 L18.7,95.8 L18.9,98.0 L20.1,99.9 L20.3,102.1 L21.9,103.6 L23.8,104.6 L25.7,105.8 L27.6,107.0 L29.7,107.4 M25.5,116.1 L27.6,116.8 L29.7,117.2 L27.8,118.2 L25.7,119.0 L23.6,119.4 L21.4,118.8 L19.3,119.2 L17.5,120.5 L16.3,122.3 L16.1,124.5 L15.9,122.4 L16.7,120.3 L17.1,118.1 L18.0,116.2 L19.7,114.7 L21.8,114.3 L24.0,114.6 L26.1,115.2 L27.8,116.7 L29.8,117.6 L27.6,117.7 L25.5,118.5 L23.6,119.5 L21.8,120.9 L20.1,122.2 L19.6,124.4 L18.6,122.5 L17.5,120.6 L17.6,118.4 L18.4,116.3 L18.1,114.1 L17.5,112.0 L17.6,109.8 L16.5,107.9 L16.5,105.7 L15.2,103.9 L14.4,101.9 L13.7,99.8 L14.5,97.7 L15.5,99.7 M15.9,100.8 L16.1,103.0 L16.0,105.2 L16.6,107.3 L18.1,108.9 L18.6,111.1 L20.2,112.6 L20.6,114.7 L21.7,116.6 L22.0,118.8 L21.6,121.0 L20.0,122.5 L18.0,123.3 L16.9,125.2 L17.4,123.1 L19.1,121.7 L21.3,121.1 L23.4,120.6 L24.8,118.9 L24.9,116.7 L24.2,114.6 L24.1,112.4 L23.1,110.5 L22.2,108.5 L22.0,106.3 L22.1,104.1 L22.9,102.0 L24.4,100.5 L26.3,99.4 L27.2,97.4 L27.2,99.6 L27.0,101.8 L25.8,103.7 L25.4,105.8 L26.0,107.9 L27.8,109.3 L29.6,110.5 L31.8,110.7 L29.6,111.0 L27.4,111.1 L25.3,111.5 M16.5,98.2 L17.0,100.4 L18.3,102.1 L19.6,103.9 L20.6,105.8 L21.0,108.0 L22.3,109.8 L23.8,111.4 L25.9,112.0 L28.0,111.4 L30.0,110.5 L28.9,112.4 L28.2,114.5 L27.9,116.7 L27.4,118.8 L28.3,120.8 L27.1,118.9 L25.0,118.2 L22.9,117.8 L20.9,116.7 L18.8,117.1 L17.1,118.5 L16.6,120.6 L17.2,122.7 L17.6,124.9 L16.6,122.9 L17.0,120.8 L17.6,118.6 L19.1,117.1 L20.4,115.3 L21.8,113.6 L24.0,113.1 L25.3,111.4 L27.4,110.7 L29.2,109.4 L30.9,108.0 L29.3,109.5 L27.7,111.0 L25.6,111.5 L23.4,111.4 L21.4,112.4 M30.3,96.5 L32.4,97.1 L30.3,96.4 L32.0,95.1 L32.4,97.3 L30.4,96.3 L32.6,96.6 L30.9,97.9 L31.8,95.9 L31.0,98.0 L31.1,95.8 L31.3,97.9 L29.4,96.9 L31.1,95.5 L30.5,97.6 L28.9,96.1 L30.9,97.1 L28.7,97.3 L26.5,97.2 L24.4,97.9 L22.5,98.9 L20.3,99.0 L18.1,98.6 L15.9,98.8 L13.7,98.8 L11.5,98.7 L13.7,98.5 L15.9,98.7 L17.8,97.7 L18.9,95.8 L20.0,97.7 L20.1,99.9 L20.6,102.0 L22.3,103.4 L23.7,105.0 L25.3,106.6 L27.3,107.5 L29.5,107.0 L31.7,107.2 L29.7,108.3 L27.6,108.0" fill="none" stroke="#1fd46a" stroke-width="0.6" stroke-linecap="round" stroke-linejoin="round" opacity="1"/>
<ellipse cx="38" cy="96" rx="11" ry="18" fill="#1fd46a" opacity="0.45" transform="rotate(-10 38 96)"/>
<g fill="none" stroke="#1fd46a" stroke-width="1.2" transform="rotate(32 47.2 99.5)"><ellipse cx="47.2" cy="99.5" rx="1.4" ry="2.5"/><ellipse cx="49.6" cy="99.5" rx="1.4" ry="2.5"/></g>
<g fill="none" stroke="#1fd46a" stroke-width="1.2" transform="rotate(6 36.3 107.2)"><ellipse cx="36.3" cy="107.2" rx="1.4" ry="2.5"/><ellipse cx="38.7" cy="107.2" rx="1.4" ry="2.5"/></g>
<g fill="none" stroke="#1fd46a" stroke-width="1.2" transform="rotate(76 35.9 92.0)"><ellipse cx="35.9" cy="92.0" rx="1.4" ry="2.5"/><ellipse cx="38.3" cy="92.0" rx="1.4" ry="2.5"/><ellipse cx="40.6" cy="92.0" rx="1.4" ry="2.5"/><ellipse cx="43.0" cy="92.0" rx="1.4" ry="2.5"/></g>
<g fill="none" stroke="#1fd46a" stroke-width="1.2" transform="rotate(41 37.5 95.6)"><ellipse cx="37.5" cy="95.6" rx="1.4" ry="2.5"/><ellipse cx="39.8" cy="95.6" rx="1.4" ry="2.5"/></g>
<g fill="none" stroke="#1fd46a" stroke-width="1.2" transform="rotate(70 36.1 88.7)"><ellipse cx="36.1" cy="88.7" rx="1.4" ry="2.5"/><ellipse cx="38.4" cy="88.7" rx="1.4" ry="2.5"/><ellipse cx="40.7" cy="88.7" rx="1.4" ry="2.5"/><ellipse cx="43.1" cy="88.7" rx="1.4" ry="2.5"/></g>
<g fill="none" stroke="#1fd46a" stroke-width="1.2" transform="rotate(72 35.1 91.5)"><ellipse cx="35.1" cy="91.5" rx="1.4" ry="2.5"/><ellipse cx="37.5" cy="91.5" rx="1.4" ry="2.5"/></g>
<g fill="none" stroke="#1fd46a" stroke-width="1.2" transform="rotate(109 37.1 104.6)"><ellipse cx="37.1" cy="104.6" rx="1.4" ry="2.5"/><ellipse cx="39.4" cy="104.6" rx="1.4" ry="2.5"/><ellipse cx="41.8" cy="104.6" rx="1.4" ry="2.5"/><ellipse cx="44.1" cy="104.6" rx="1.4" ry="2.5"/></g>
<g fill="none" stroke="#1fd46a" stroke-width="1.2" transform="rotate(86 30.2 100.2)"><ellipse cx="30.2" cy="100.2" rx="1.4" ry="2.5"/><ellipse cx="32.6" cy="100.2" rx="1.4" ry="2.5"/></g>
<g fill="none" stroke="#1fd46a" stroke-width="1.2" transform="rotate(24 40.1 96.2)"><ellipse cx="40.1" cy="96.2" rx="1.4" ry="2.5"/><ellipse cx="42.5" cy="96.2" rx="1.4" ry="2.5"/><ellipse cx="44.8" cy="96.2" rx="1.4" ry="2.5"/><ellipse cx="47.2" cy="96.2" rx="1.4" ry="2.5"/></g>
<g fill="none" stroke="#1fd46a" stroke-width="1.2" transform="rotate(33 35.7 90.0)"><ellipse cx="35.7" cy="90.0" rx="1.4" ry="2.5"/><ellipse cx="38.0" cy="90.0" rx="1.4" ry="2.5"/><ellipse cx="40.4" cy="90.0" rx="1.4" ry="2.5"/><ellipse cx="42.7" cy="90.0" rx="1.4" ry="2.5"/></g>
<path d="M25.8,83.5 Q29.9,84.1 30.1,89.4 M37.0,89.5 Q35.8,92.5 36.3,97.1 M29.5,81.0 Q31.9,81.9 33.4,87.1 M33.3,93.0 Q30.9,98.0 32.0,100.1 M25.9,105.6 Q29.1,110.9 28.8,113.4 M28.9,103.3 Q33.3,108.0 37.5,109.6 M32.5,90.2 Q33.6,95.8 32.9,100.1 M36.4,104.1 Q38.4,106.6 41.6,113.8" fill="none" stroke="#0b9c45" stroke-width="2.7" stroke-linecap="round" opacity="1"/>
<path d="M25.8,83.5 Q29.9,84.1 30.1,89.4 M37.0,89.5 Q35.8,92.5 36.3,97.1 M29.5,81.0 Q31.9,81.9 33.4,87.1 M33.3,93.0 Q30.9,98.0 32.0,100.1 M25.9,105.6 Q29.1,110.9 28.8,113.4 M28.9,103.3 Q33.3,108.0 37.5,109.6 M32.5,90.2 Q33.6,95.8 32.9,100.1 M36.4,104.1 Q38.4,106.6 41.6,113.8" fill="none" stroke="#1fd46a" stroke-width="1.9" stroke-linecap="round" opacity="1"/>
<ellipse cx="62" cy="146" rx="14" ry="22" fill="#1fd46a" opacity="0.45" transform="rotate(10 62 146)"/>
<ellipse cx="52" cy="150" rx="7" ry="11" fill="#ebc498" opacity="0.45" transform="rotate(0 52 150)"/>
<path d="M74.4,128.0 L74.6,126.0 L75.4,124.2 L76.2,126.0 L76.7,128.0 L76.9,129.9 L78.4,131.3 L76.6,130.5 L74.6,130.6 L72.6,130.7 L70.7,129.9 L69.1,128.7 L67.9,127.1 L66.4,125.9 L64.8,124.6 L62.8,124.2 L60.9,123.8 L59.0,124.4 L57.0,123.8 L55.0,123.8 L53.1,123.6 L51.1,123.2 L49.1,123.0 L47.5,121.9 L49.5,122.3 L51.1,123.4 L53.1,123.6 L55.0,122.9 L56.1,121.3 L57.8,120.2 L59.6,119.3 L60.7,117.6 L61.6,115.9 L61.8,117.9 L62.1,119.9 L62.0,121.9 L60.6,123.4 L59.6,125.1 L58.3,126.6 L56.5,127.5 L54.5,127.5 M57.4,144.1 L57.6,142.1 L58.6,140.3 L59.7,138.7 L60.1,136.7 L60.8,134.8 L61.6,133.0 L62.8,131.4 L63.9,129.7 L65.2,128.2 L66.9,127.2 L68.3,125.7 L69.3,124.0 L69.4,122.0 L69.2,120.1 L68.2,118.3 L67.5,116.5 L69.4,116.7 L67.9,118.0 L66.6,119.5 L64.6,119.9 L62.9,120.9 L61.1,121.9 L59.3,122.6 L57.3,122.8 L55.5,121.9 L53.9,120.7 L51.9,120.8 L50.1,121.6 L48.8,123.2 L47.1,124.2 L45.1,124.0 L46.8,122.9 L48.5,122.0 L49.9,120.6 L51.7,119.5 L52.9,118.0 L54.5,116.8 L55.8,115.2 L55.4,117.2 L54.0,118.6 M75.8,154.3 L76.1,156.3 L74.6,154.9 L73.2,153.5 L72.5,151.6 L73.2,149.7 L73.1,147.7 L73.1,145.7 L74.3,144.2 L75.5,142.6 L76.6,140.9 L76.8,138.9 L75.9,137.1 L75.2,135.3 L73.9,133.8 L73.2,131.9 L73.3,129.9 L73.3,127.9 L72.4,126.1 L72.5,124.1 L72.6,122.1 L73.7,123.8 L75.0,125.3 L76.5,126.6 L74.6,126.4 L72.8,125.4 L70.9,124.7 L69.1,123.8 L68.1,122.1 L66.2,121.5 L64.2,121.8 L62.4,120.9 L60.5,120.4 L58.5,120.7 L56.7,119.9 L55.6,118.2 L53.8,117.5 L55.7,118.1 L57.7,118.5 L59.6,118.2 L61.6,118.0 M69.2,143.3 L68.0,144.9 L66.8,146.5 L66.7,148.5 L67.2,150.5 L66.4,152.3 L64.6,153.2 L62.6,152.9 L60.6,152.8 L58.6,152.7 L56.9,151.7 L55.1,150.9 L53.1,150.9 L51.1,150.9 L49.1,150.9 L47.4,149.8 L45.6,149.0 L43.7,149.3 L41.8,150.0 L43.4,148.8 L45.3,148.2 L47.2,147.6 L48.8,146.4 L50.5,145.5 L51.6,143.8 L51.4,141.8 L50.1,140.3 L48.5,139.1 L47.5,137.4 L47.4,135.4 L46.2,133.8 L46.0,131.8 L46.0,129.8 L45.7,127.8 L45.9,125.8 L45.3,123.9 L47.3,124.3 L49.1,125.2 L50.0,126.9 L51.6,128.2 L53.0,129.6 M59.3,118.4 L61.2,119.1 L62.6,120.6 L64.5,121.2 L66.0,122.4 L68.0,122.9 L70.0,122.8 L71.9,123.2 L73.9,122.8 L73.2,124.7 L73.0,126.7 L71.7,128.2 L70.3,129.7 L69.0,131.2 L67.2,132.0 L65.2,132.3 L63.2,132.3 L61.2,132.1 L59.2,131.8 L57.4,131.0 L55.4,130.6 L53.5,130.3 L51.8,131.3 L50.0,132.3 L48.1,132.9 L47.0,134.5 L47.0,136.5 L46.0,138.3 L44.8,139.8 L44.6,141.8 L43.7,143.6 L43.7,145.6 L42.9,147.4 L42.5,149.4 L42.6,151.4 L42.1,153.3 L41.0,151.7 L42.4,153.1 L43.4,154.8 L43.5,156.8 L44.4,158.6 M43.3,157.7 L45.0,158.8 L46.9,159.5 L48.8,159.9 L50.7,159.3 L52.2,158.0 L54.2,157.9 L56.2,158.4 L57.7,159.6 L59.6,160.3 L61.6,160.0 L63.5,159.3 L65.3,158.5 L67.3,158.7 L69.3,158.6 L71.3,158.8 L73.3,158.9 L75.2,159.7 L73.5,160.8 L71.5,161.0 L70.0,162.3 L68.1,163.0 L66.2,162.3 L65.0,160.8 L64.9,158.8 L63.5,157.3 L61.6,156.7 L59.7,157.2 L57.7,157.0 L56.0,155.9 L55.2,154.1 L53.6,152.9 L51.9,151.9 L50.3,150.7 L49.1,149.1 L47.2,148.4 L45.3,149.0 L43.3,148.8 L41.3,148.9 L41.9,147.0 L43.2,145.5 M65.1,139.2 L63.7,137.7 L63.0,135.9 L62.8,133.9 L63.0,131.9 L62.5,129.9 L61.2,128.4 L61.1,126.4 L59.9,124.8 L59.3,122.9 L57.7,121.6 L56.4,120.2 L55.5,118.4 L55.1,116.4 L56.0,118.2 L56.3,120.2 L57.6,121.7 L59.2,122.9 L60.3,124.6 L60.5,126.6 L61.8,128.1 L63.7,128.7 L64.9,130.3 L66.3,131.8 L68.1,132.6 L69.1,134.3 L70.9,135.3 L72.7,136.2 L74.6,136.5 L76.6,137.1 L77.9,138.6 L79.6,139.6 L77.8,138.7 L75.8,139.0 L73.9,138.5 L71.9,138.2 L70.1,139.0 L68.1,139.1 L66.1,139.5 L64.1,139.5 L62.4,138.5" fill="none" stroke="#1fd46a" stroke-width="0.6" stroke-linecap="round" stroke-linejoin="round" opacity="1"/>
<g fill="none" stroke="#1fd46a" stroke-width="1.2" transform="rotate(82 63.7 145.4)"><ellipse cx="63.7" cy="145.4" rx="1.4" ry="2.5"/><ellipse cx="66.1" cy="145.4" rx="1.4" ry="2.5"/><ellipse cx="68.4" cy="145.4" rx="1.4" ry="2.5"/><ellipse cx="70.8" cy="145.4" rx="1.4" ry="2.5"/></g>
<g fill="none" stroke="#1fd46a" stroke-width="1.2" transform="rotate(41 54.2 158.7)"><ellipse cx="54.2" cy="158.7" rx="1.4" ry="2.5"/><ellipse cx="56.5" cy="158.7" rx="1.4" ry="2.5"/><ellipse cx="58.9" cy="158.7" rx="1.4" ry="2.5"/><ellipse cx="61.2" cy="158.7" rx="1.4" ry="2.5"/></g>
<g fill="none" stroke="#1fd46a" stroke-width="1.2" transform="rotate(16 53.2 147.6)"><ellipse cx="53.2" cy="147.6" rx="1.4" ry="2.5"/><ellipse cx="55.5" cy="147.6" rx="1.4" ry="2.5"/><ellipse cx="57.9" cy="147.6" rx="1.4" ry="2.5"/><ellipse cx="60.2" cy="147.6" rx="1.4" ry="2.5"/></g>
<g fill="none" stroke="#1fd46a" stroke-width="1.2" transform="rotate(36 57.1 126.2)"><ellipse cx="57.1" cy="126.2" rx="1.4" ry="2.5"/><ellipse cx="59.5" cy="126.2" rx="1.4" ry="2.5"/><ellipse cx="61.8" cy="126.2" rx="1.4" ry="2.5"/></g>
<g fill="none" stroke="#1fd46a" stroke-width="1.2" transform="rotate(144 59.3 138.3)"><ellipse cx="59.3" cy="138.3" rx="1.4" ry="2.5"/><ellipse cx="61.6" cy="138.3" rx="1.4" ry="2.5"/><ellipse cx="64.0" cy="138.3" rx="1.4" ry="2.5"/></g>
<g fill="none" stroke="#1fd46a" stroke-width="1.2" transform="rotate(142 61.7 162.3)"><ellipse cx="61.7" cy="162.3" rx="1.4" ry="2.5"/><ellipse cx="64.1" cy="162.3" rx="1.4" ry="2.5"/></g>
<g fill="none" stroke="#1fd46a" stroke-width="1.2" transform="rotate(114 57.2 127.7)"><ellipse cx="57.2" cy="127.7" rx="1.4" ry="2.5"/><ellipse cx="59.6" cy="127.7" rx="1.4" ry="2.5"/><ellipse cx="61.9" cy="127.7" rx="1.4" ry="2.5"/></g>
<g fill="none" stroke="#1fd46a" stroke-width="1.2" transform="rotate(11 59.0 160.5)"><ellipse cx="59.0" cy="160.5" rx="1.4" ry="2.5"/><ellipse cx="61.4" cy="160.5" rx="1.4" ry="2.5"/><ellipse cx="63.7" cy="160.5" rx="1.4" ry="2.5"/></g>
<g fill="none" stroke="#1fd46a" stroke-width="1.2" transform="rotate(99 54.9 163.0)"><ellipse cx="54.9" cy="163.0" rx="1.4" ry="2.5"/><ellipse cx="57.3" cy="163.0" rx="1.4" ry="2.5"/><ellipse cx="59.6" cy="163.0" rx="1.4" ry="2.5"/><ellipse cx="61.9" cy="163.0" rx="1.4" ry="2.5"/></g>
<g fill="none" stroke="#1fd46a" stroke-width="1.2" transform="rotate(28 65.7 148.1)"><ellipse cx="65.7" cy="148.1" rx="1.4" ry="2.5"/><ellipse cx="68.1" cy="148.1" rx="1.4" ry="2.5"/><ellipse cx="70.4" cy="148.1" rx="1.4" ry="2.5"/><ellipse cx="72.7" cy="148.1" rx="1.4" ry="2.5"/></g>
<g fill="none" stroke="#1fd46a" stroke-width="1.2" transform="rotate(126 70.7 161.2)"><ellipse cx="70.7" cy="161.2" rx="1.4" ry="2.5"/><ellipse cx="73.0" cy="161.2" rx="1.4" ry="2.5"/><ellipse cx="75.3" cy="161.2" rx="1.4" ry="2.5"/><ellipse cx="77.7" cy="161.2" rx="1.4" ry="2.5"/></g>
<path d="M50.0,149.7 Q50.7,153.2 56.1,152.2 M56.9,134.8 Q60.8,140.2 66.7,141.1 M56.8,162.4 Q61.6,162.5 62.2,166.4 M52.7,147.0 Q56.4,150.8 55.7,152.4 M65.2,140.5 Q69.1,139.7 72.9,141.3 M49.6,142.8 Q52.8,139.7 59.1,138.8 M58.6,150.8 Q61.1,156.4 66.0,158.9 M71.6,144.7 Q72.9,147.5 76.9,153.0 M68.1,128.8 Q72.4,132.1 74.3,138.9 M50.1,160.6 Q54.3,160.9 57.8,159.4" fill="none" stroke="#0b9c45" stroke-width="1.8" stroke-linecap="round" opacity="1"/>
<g fill="none" stroke="#ebc498" stroke-width="1.2" transform="rotate(92 58.2 146.2)"><ellipse cx="58.2" cy="146.2" rx="1.4" ry="2.4"/><ellipse cx="60.4" cy="146.2" rx="1.4" ry="2.4"/></g>
<g fill="none" stroke="#ebc498" stroke-width="1.2" transform="rotate(57 51.8 162.7)"><ellipse cx="51.8" cy="162.7" rx="1.4" ry="2.4"/><ellipse cx="54.0" cy="162.7" rx="1.4" ry="2.4"/><ellipse cx="56.2" cy="162.7" rx="1.4" ry="2.4"/><ellipse cx="58.4" cy="162.7" rx="1.4" ry="2.4"/></g>
<g fill="none" stroke="#ebc498" stroke-width="1.2" transform="rotate(128 48.5 155.7)"><ellipse cx="48.5" cy="155.7" rx="1.4" ry="2.4"/><ellipse cx="50.7" cy="155.7" rx="1.4" ry="2.4"/><ellipse cx="52.9" cy="155.7" rx="1.4" ry="2.4"/><ellipse cx="55.2" cy="155.7" rx="1.4" ry="2.4"/></g>
<g fill="none" stroke="#ebc498" stroke-width="1.2" transform="rotate(5 49.2 158.1)"><ellipse cx="49.2" cy="158.1" rx="1.4" ry="2.4"/><ellipse cx="51.4" cy="158.1" rx="1.4" ry="2.4"/><ellipse cx="53.6" cy="158.1" rx="1.4" ry="2.4"/></g>
<g fill="none" stroke="#ebc498" stroke-width="1.2" transform="rotate(116 46.7 159.3)"><ellipse cx="46.7" cy="159.3" rx="1.4" ry="2.4"/><ellipse cx="48.9" cy="159.3" rx="1.4" ry="2.4"/></g>
<path d="M58.5,124.1 L57.2,125.6 L55.4,126.3 L53.4,125.7 L51.6,124.8 L49.7,124.4 L48.1,123.1 L46.2,122.9 L44.2,122.5 L42.3,123.1 L44.0,122.1 L45.8,121.2 L47.8,121.1 L49.5,120.1 L51.5,119.6 L53.4,120.0 L55.3,119.3 L56.6,117.8 L56.8,115.8 L56.3,113.8 L57.4,115.6 L59.2,116.4 L60.1,118.2 L61.3,119.8 L62.9,120.9 L64.9,121.2 L66.7,120.4 L68.5,119.5 L69.5,117.7 L69.4,119.7 L69.8,121.7 M45.8,119.7 L45.2,117.8 L43.6,116.6 L45.6,116.7 L47.4,115.9 L49.4,116.1 L51.3,115.5 L53.1,114.7 L55.1,114.2 L57.1,114.4 L59.0,114.2 L60.8,115.1 L62.8,115.6 L64.1,117.1 L65.8,118.2 L67.6,119.0 L69.3,120.1 L70.9,121.3 L68.9,121.6 L66.9,121.4 L65.1,120.5 L63.1,121.0 L61.6,122.3 L60.6,124.0 L58.8,124.9 L57.0,125.7 L55.9,127.3 L56.1,125.4 L55.5,123.5 L54.1,122.0 L53.8,120.1 M52.1,115.3 L53.2,117.0 L54.3,118.7 L55.6,120.2 L57.3,121.2 L59.2,121.9 L60.5,123.4 L62.2,124.5 L64.1,124.9 L66.1,124.5 L67.4,123.0 L68.4,121.3 L69.6,119.7 L71.2,118.5 L71.5,120.4 L70.0,119.1 L69.5,117.2 L68.9,115.3 L70.8,115.8 L69.6,117.4 L67.8,118.3 L65.9,118.8 L64.5,120.2 L62.8,121.3 L61.9,123.1 L61.2,124.9 L60.3,126.7 L59.8,124.8 L59.5,122.8 L58.1,121.3 L56.2,120.7 M48.7,122.9 L46.8,123.4 L44.8,123.5 L42.8,123.1 L41.4,121.6 L40.1,120.1 L42.1,120.2 L44.1,119.6 L46.0,119.4 L47.8,118.4 L49.8,118.6 L51.3,119.9 L52.5,121.5 L52.5,123.5 L52.4,125.5 L51.1,127.0 L51.7,125.1 L52.5,123.2 L52.8,121.3 L54.2,119.9 L55.4,118.3 L55.9,116.3 L56.0,114.4 L54.9,112.7 L56.7,113.4 L58.7,113.1 L58.2,115.0 L59.0,116.9 L59.8,118.7 L60.9,120.3 L61.8,122.1" fill="none" stroke="#ebc498" stroke-width="0.55" stroke-linecap="round" stroke-linejoin="round" opacity="1"/>
<path d="M27.4,73.8 L29.3,74.3 L31.3,74.5 L32.9,75.7 L34.7,76.6 L36.4,77.7 L38.4,77.7 L40.2,76.8 L42.1,76.5 L44.1,76.3 L46.1,76.7 L48.1,77.0 L50.1,77.2 L52.0,76.6 L53.5,75.4 L54.0,73.4 L53.6,71.5 L53.0,69.5 L52.7,67.6 L53.1,65.6 L53.8,63.7 L55.3,62.4 L57.1,61.6 L57.4,63.5 L56.7,65.4 L56.0,67.3 L55.4,69.2 L56.0,71.1 L57.4,72.5 L59.3,72.9 L58.3,74.6 L58.9,72.7 L59.2,70.7 L60.3,69.0 L59.2,70.7 L57.8,72.1 L57.1,74.0 L55.7,72.5 L55.5,70.5 L55.3,68.5 L54.6,66.7 M57.3,60.9 L58.3,62.6 L59.4,64.3 L60.9,65.6 L61.2,67.6 L61.7,69.5 L60.3,68.1 L59.6,66.2 L59.3,64.2 L60.0,66.1 L59.7,68.1 L60.6,69.9 L58.6,70.0 L56.7,70.3 L54.8,71.0 L52.8,70.7 L50.9,71.5 L49.0,70.9 L47.5,69.5 L46.4,67.9 L44.7,66.8 L43.7,65.1 L43.1,63.2 L43.6,61.2 L43.5,59.2 L44.2,57.3 L45.4,58.9 L46.8,60.3 L48.7,61.0 L50.7,60.9 L52.4,62.1 L52.9,64.0 L54.3,65.5 L55.3,67.2 L57.2,67.8 L59.2,68.1 L61.2,68.2 L60.0,69.8 L60.0,71.8 L59.2,70.0 L59.5,68.0 M22.0,65.2 L22.5,63.3 L23.6,61.6 L24.2,59.7 L25.8,58.5 L27.7,58.0 L29.7,58.4 L31.5,59.1 L33.5,58.9 L35.2,59.9 L36.8,61.2 L38.4,62.4 L39.6,64.0 L40.2,65.9 L41.5,67.4 L43.4,68.1 L45.4,68.4 L47.3,67.8 L49.2,67.6 L50.9,66.6 L52.8,65.8 L54.8,65.4 L56.7,65.6 L58.5,66.6 L60.1,67.7 L58.4,68.7 L56.4,68.6 L54.4,68.1 L52.5,67.6 L51.0,66.2 L50.3,64.4 L49.8,62.4 L49.0,60.6 L47.6,59.2 L45.6,58.9 L43.9,59.9 L43.1,61.7 L41.8,63.3 L41.6,65.3 L40.8,67.1 L40.6,69.1 M21.8,77.9 L20.9,76.1 L20.5,74.2 L20.4,72.2 L21.6,70.5 L23.3,69.5 L24.8,68.2 L26.5,67.1 L27.5,65.3 L28.1,63.4 L28.6,61.5 L28.3,59.5 L29.0,57.6 L28.8,59.6 L28.9,61.6 L28.1,63.4 L27.5,65.4 L27.8,67.3 L28.8,69.1 L30.5,70.1 L31.9,71.6 L33.6,72.6 L35.6,72.5 L37.2,71.3 L38.7,70.0 L40.6,69.6 L42.3,68.5 L44.3,68.3 L46.2,68.9 L48.2,68.3 L49.8,67.2 L51.8,67.2 L53.7,67.9 L55.4,68.9 L57.4,68.7 L59.2,67.8 L61.1,67.4 L60.6,69.3 L60.9,71.3 L59.0,70.9 L57.0,70.5 M21.9,74.8 L23.3,76.2 L23.6,78.2 L21.8,77.3 L19.9,76.8 L18.3,75.6 L16.4,75.1 L14.4,74.6 L15.8,73.1 L16.8,71.4 L17.9,69.7 L17.8,67.7 L18.7,65.9 L19.4,64.1 L19.0,62.1 L17.6,60.7 L19.6,60.4 L21.0,59.0 L22.8,58.1 L22.7,60.1 L22.6,62.1 L22.5,64.0 L23.0,66.0 L23.2,68.0 L23.8,69.9 L23.8,71.9 L23.7,73.9 L23.1,75.8 L21.6,77.0 L22.7,75.4 L24.5,74.5 L26.5,74.4 L28.4,75.0 L30.4,75.4 L32.4,75.5 L33.9,76.8 L35.7,77.7 L37.5,78.4 L39.5,78.6 L41.3,77.6 L43.1,76.8 M25.9,60.9 L27.1,59.3 L28.4,57.7 L30.3,57.2 L32.1,58.0 L33.3,59.6 L33.9,61.5 L35.0,63.2 L36.3,64.7 L36.9,66.6 L37.7,68.5 L37.6,70.5 L38.2,72.4 L38.3,74.4 L37.3,76.1 L36.4,77.9 L36.8,79.9 L35.0,78.9 L33.0,78.8 L31.1,78.1 L29.2,77.9 L27.2,77.8 L25.2,78.2 L23.2,77.7 L21.3,77.3 L22.3,75.5 L22.3,73.5 L21.5,71.7 L21.0,69.7 L19.9,68.1 L18.5,66.7 L18.0,64.7 L17.9,62.7 L18.6,60.9 L19.2,59.0 L19.8,60.8 L21.4,62.1 L23.4,62.4 L25.4,62.7 L27.2,63.6 L29.1,63.2 M20.6,70.5 L21.2,72.4 L21.4,74.4 L21.1,76.4 L19.3,75.5 L17.3,75.7 L18.7,74.3 L19.5,72.4 L19.2,70.4 L18.5,68.6 L17.8,66.7 L17.4,64.8 L18.3,63.0 L20.1,62.2 L22.1,62.2 L24.1,61.8 L25.6,60.4 L26.5,58.7 L27.6,60.4 L27.8,62.3 L27.3,64.3 L26.6,66.1 L27.1,68.1 L28.2,69.7 L29.0,71.6 L30.2,73.2 L31.6,74.6 L32.6,76.3 L34.5,77.0 L36.5,77.2 L38.5,77.4 L40.4,77.8 L42.4,78.3 L44.3,77.7 L45.5,76.1 L46.1,74.2 L45.4,72.3 L45.8,70.4 L47.1,68.9 L47.4,66.9 L48.4,65.2 M19.3,57.7 L20.1,59.6 L19.7,61.6 L19.8,63.6 L18.9,65.4 L18.4,67.3 L16.7,68.4 L14.8,68.7 L13.0,67.7 L11.5,66.5 L13.5,66.5 L15.1,67.7 L16.8,68.7 L18.8,68.8 L20.5,67.7 L22.3,66.9 L24.0,65.7 L25.6,64.6 L26.3,62.7 L27.1,60.9 L28.9,60.0 L30.3,58.6 L32.0,57.5 L33.8,56.6 L35.8,57.0 L37.7,57.2 L39.3,58.4 L41.2,59.0 L42.8,60.3 L44.6,61.0 L46.6,61.5 L48.0,62.9 L48.7,64.8 L49.6,66.5 L49.4,68.5 L49.8,70.5 L49.0,72.3 L49.5,74.2 L49.0,76.2 L48.4,78.1 L48.1,76.1 M54.2,60.9 L54.2,62.9 L53.2,64.6 L51.6,65.8 L50.4,67.4 L50.0,69.3 L49.2,71.2 L48.4,73.0 L48.0,75.0 L46.5,76.3 L44.6,76.8 L42.6,76.8 L40.6,76.6 L38.6,76.2 L37.1,74.9 L35.6,73.6 L35.0,71.7 L34.8,69.7 L33.5,68.2 L32.6,66.4 L31.5,64.8 L30.0,63.4 L29.6,61.5 L28.2,60.1 L26.2,59.8 L24.8,58.4 L26.8,58.6 L28.5,59.8 L29.9,61.1 L30.6,63.0 L32.3,64.1 L34.3,63.8 L36.2,64.0 L38.1,64.7 L40.0,65.4 L42.0,65.0 L43.2,63.4 L44.0,61.6 L43.8,59.6 L44.2,57.7 L45.4,59.3 M20.5,57.7 L20.1,59.6 L18.6,61.0 L18.0,62.9 L16.9,64.6 L15.9,66.3 L14.8,68.0 L15.1,70.0 L14.2,71.7 L12.4,72.7 L11.9,70.7 L11.7,68.8 L11.3,66.8 L12.0,65.0 L13.2,66.6 L14.6,68.0 L15.6,69.7 L17.3,70.8 L19.2,70.6 L21.0,71.5 L22.5,72.9 L23.6,74.5 L23.6,76.5 L23.9,78.5 L22.8,76.9 L21.0,75.9 L19.3,74.9 L17.3,75.1 L15.6,74.0 L13.6,73.9 L15.6,73.6 L17.5,72.9 L19.4,72.3 L20.8,70.9 L21.5,69.1 L22.7,67.5 L24.2,66.1 L26.0,65.3 L27.4,63.8 L28.9,62.5 L29.9,60.7" fill="none" stroke="#e99ddb" stroke-width="0.55" stroke-linecap="round" stroke-linejoin="round" opacity="1"/>
<ellipse cx="52" cy="90" rx="14" ry="20" fill="#e99ddb" opacity="0.22" transform="rotate(-30 52 90)"/>
<path d="M39.7,68.6 Q46.6,86.8 55.4,101.5 M50.3,84.5 Q61.6,100.2 75.4,113.0 M31.6,77.1 Q42.1,92.2 50.0,103.8 M51.8,87.3 Q60.7,100.6 66.7,112.6 M50.8,67.7 Q56.7,85.7 65.7,100.8 M44.0,77.0 Q52.2,93.2 58.7,105.6 M32.5,63.7 Q38.4,71.9 48.0,84.6 M43.0,87.1 Q51.4,100.0 56.0,111.9 M44.4,63.2 Q50.2,73.3 60.1,84.7 M42.5,61.0 Q52.2,75.4 63.0,88.3 M32.6,63.5 Q38.4,79.1 48.2,93.5 M49.5,81.0 Q57.0,96.8 65.8,111.4 M35.0,73.7 Q44.6,90.3 51.8,105.1 M28.9,86.3 Q37.0,101.5 49.3,115.7 M43.0,90.1 Q51.0,102.7 56.6,115.7 M54.8,60.7 Q61.5,78.5 70.3,94.1 M52.9,81.1 Q59.0,96.8 65.4,107.9 M45.4,82.6 Q48.9,92.8 54.9,101.4" fill="none" stroke="#c864b0" stroke-width="2.3" stroke-linecap="round" opacity="1"/>
<path d="M39.7,68.6 Q46.6,86.8 55.4,101.5 M50.3,84.5 Q61.6,100.2 75.4,113.0 M31.6,77.1 Q42.1,92.2 50.0,103.8 M51.8,87.3 Q60.7,100.6 66.7,112.6 M50.8,67.7 Q56.7,85.7 65.7,100.8 M44.0,77.0 Q52.2,93.2 58.7,105.6 M32.5,63.7 Q38.4,71.9 48.0,84.6 M43.0,87.1 Q51.4,100.0 56.0,111.9 M44.4,63.2 Q50.2,73.3 60.1,84.7 M42.5,61.0 Q52.2,75.4 63.0,88.3 M32.6,63.5 Q38.4,79.1 48.2,93.5 M49.5,81.0 Q57.0,96.8 65.8,111.4 M35.0,73.7 Q44.6,90.3 51.8,105.1 M28.9,86.3 Q37.0,101.5 49.3,115.7 M43.0,90.1 Q51.0,102.7 56.6,115.7 M54.8,60.7 Q61.5,78.5 70.3,94.1 M52.9,81.1 Q59.0,96.8 65.4,107.9 M45.4,82.6 Q48.9,92.8 54.9,101.4" fill="none" stroke="#e99ddb" stroke-width="1.5" stroke-linecap="round" opacity="1"/>
<path d="M19.7,61.5 Q25.1,66.1 32.1,70.2 M22.6,62.6 Q29.8,68.5 33.2,72.7 M15.9,64.3 Q20.5,63.2 28.5,64.3 M15.9,58.9 Q21.2,64.1 24.9,65.3" fill="none" stroke="#c864b0" stroke-width="2.3" stroke-linecap="round" opacity="1"/>
<path d="M19.7,61.5 Q25.1,66.1 32.1,70.2 M22.6,62.6 Q29.8,68.5 33.2,72.7 M15.9,64.3 Q20.5,63.2 28.5,64.3 M15.9,58.9 Q21.2,64.1 24.9,65.3" fill="none" stroke="#e99ddb" stroke-width="1.5" stroke-linecap="round" opacity="1"/>
<g fill="none" stroke="#e99ddb" stroke-width="1.2" transform="rotate(177 67.8 88.0)"><ellipse cx="67.8" cy="88.0" rx="1.3" ry="2.2"/><ellipse cx="69.9" cy="88.0" rx="1.3" ry="2.2"/><ellipse cx="72.0" cy="88.0" rx="1.3" ry="2.2"/><ellipse cx="74.1" cy="88.0" rx="1.3" ry="2.2"/></g>
<g fill="none" stroke="#e99ddb" stroke-width="1.2" transform="rotate(5 70.5 100.7)"><ellipse cx="70.5" cy="100.7" rx="1.3" ry="2.2"/><ellipse cx="72.5" cy="100.7" rx="1.3" ry="2.2"/><ellipse cx="74.6" cy="100.7" rx="1.3" ry="2.2"/></g>
<g fill="none" stroke="#e99ddb" stroke-width="1.2" transform="rotate(88 64.1 91.8)"><ellipse cx="64.1" cy="91.8" rx="1.3" ry="2.2"/><ellipse cx="66.2" cy="91.8" rx="1.3" ry="2.2"/></g>
<g fill="none" stroke="#e99ddb" stroke-width="1.2" transform="rotate(172 69.0 103.9)"><ellipse cx="69.0" cy="103.9" rx="1.3" ry="2.2"/><ellipse cx="71.1" cy="103.9" rx="1.3" ry="2.2"/></g>
<path d="M183.4,80.7 L185.5,80.1 L187.7,80.2 L189.8,81.0 L191.9,81.6 L193.6,83.0 L195.4,84.2 L196.4,86.1 L197.1,88.2 L198.7,89.7 L200.2,91.4 L201.7,93.0 L203.2,94.6 L205.1,95.6 L206.8,97.1 L208.9,97.7 L211.1,97.8 L213.1,97.0 L214.9,95.7 L215.8,93.7 L217.4,92.2 L219.3,91.0 L220.1,89.0 L221.1,87.0 L220.9,84.9 L221.1,82.7 L221.0,80.5 L221.1,78.3 L221.9,76.2 L223.4,74.7 L225.3,73.5 L226.8,71.9 L227.2,69.7 L227.8,67.6 L228.6,65.6 L230.3,64.2 L232.5,63.9 L234.3,62.7 L236.0,61.2 L238.0,60.3 L237.1,62.4 L235.2,63.4 L234.3,65.5 L233.8,67.6 L232.3,69.2 L230.1,69.6 M213.4,73.8 L211.3,73.1 L209.5,71.8 L207.4,71.0 L205.3,71.1 L203.1,71.0 L201.1,70.0 L199.1,69.1 L197.2,67.9 L195.5,66.6 L193.8,65.2 L191.6,65.2 L189.4,65.5 L187.4,64.8 L185.3,64.0 L187.5,64.3 L189.1,65.8 L191.2,66.1 L193.2,67.0 L195.2,68.0 L197.4,67.4 L199.1,66.0 L200.8,64.6 L202.5,63.2 L204.6,62.7 L206.6,61.9 L208.8,61.8 L211.0,61.5 L213.0,62.6 L213.8,64.6 L215.5,66.0 L216.5,68.0 L218.3,69.2 L220.4,69.9 L221.8,71.7 L223.3,73.2 L225.5,73.5 L227.3,72.4 L229.5,72.6 L231.3,73.9 L232.0,76.0 L233.1,77.9 L234.6,79.4 L235.8,81.3 L237.8,82.2 L239.7,83.3 M189.3,67.7 L188.6,65.6 L189.4,63.5 L190.6,61.7 L192.1,60.1 L193.9,58.8 L195.0,56.9 L197.1,56.1 L198.3,54.3 L200.3,53.3 L202.3,52.5 L204.5,52.0 L206.6,51.6 L208.7,50.9 L210.2,49.3 L211.4,47.4 L212.9,45.8 L213.2,48.0 L212.6,50.1 L211.4,52.0 L211.7,54.2 L213.1,55.9 L213.5,58.0 L213.8,60.2 L215.2,61.9 L216.5,63.7 L217.6,65.6 L218.2,67.7 L218.8,69.8 L218.2,71.9 L219.0,74.0 L218.6,76.1 L217.6,78.1 L217.0,80.2 L217.5,82.3 L219.1,83.9 L220.1,85.9 L220.6,88.0 L221.1,90.2 L222.6,91.7 L224.8,92.2 L226.9,92.6 L229.0,91.9 L230.8,90.6 L231.4,88.5 L231.1,86.3 M216.5,125.5 L218.7,125.1 L220.7,124.1 L222.2,122.5 L223.5,120.7 L223.3,118.5 L222.2,116.6 L220.6,115.2 L219.8,113.1 L218.6,111.3 L217.8,109.3 L217.8,107.1 L218.4,104.9 L218.8,102.8 L218.7,100.6 L218.6,98.4 L218.1,96.3 L217.0,94.3 L215.6,92.6 L213.5,92.0 L211.5,91.2 L209.4,90.6 L207.3,91.3 L205.4,92.5 L204.6,94.5 L203.7,96.6 L202.8,98.5 L200.8,99.5 L199.5,101.2 L198.0,102.9 L196.0,103.8 L194.4,105.3 L193.0,107.0 L191.4,108.5 L190.7,110.6 L190.3,112.7 L188.7,114.3 L186.6,114.8 L184.5,114.0 L182.4,114.7 L180.2,114.9 L178.1,114.3 L179.9,113.0 L181.0,111.2 L182.6,109.7 L183.9,107.8 M241.4,79.9 L243.2,78.8 L244.9,77.3 L246.9,76.4 L244.9,77.4 L242.8,77.8 L240.8,78.9 L239.7,80.8 L238.3,82.5 L236.4,83.6 L234.3,84.4 L232.7,85.9 L230.8,87.0 L228.7,87.5 L226.7,88.3 L224.5,88.6 L222.3,88.3 L220.7,86.8 L218.5,86.5 L216.9,85.1 L215.8,83.2 L213.9,82.1 L211.7,81.9 L209.5,82.2 L207.3,82.0 L205.1,81.7 L202.9,81.6 L201.1,80.4 L199.2,79.2 L197.6,77.8 L196.4,75.9 L196.2,73.7 L195.0,71.9 L193.0,71.0 L190.9,70.2 L189.4,68.6 L189.0,66.4 L188.7,64.2 L187.4,62.4 L186.5,60.4 L187.7,62.3 L188.2,64.4 L189.6,66.2 L191.7,66.8 L193.8,67.2 L196.0,66.9 M200.8,120.2 L201.3,118.1 L202.8,116.6 L204.8,115.5 L206.0,113.7 L207.0,111.8 L207.4,109.6 L209.1,108.2 L210.6,106.6 L211.6,104.6 L213.3,103.3 L215.5,103.3 L217.7,102.9 L219.7,101.9 L221.3,100.4 L221.7,98.2 L222.6,96.2 L222.0,94.1 L222.9,92.1 L224.6,90.7 L226.1,89.0 L227.7,87.5 L229.8,87.0 L231.3,85.4 L233.2,84.2 L235.4,84.1 L237.6,84.0 L239.6,85.1 L241.7,85.4 L243.6,84.2 L244.9,82.4 L247.0,81.9 L249.0,80.9 L248.5,83.0 L249.3,85.1 L247.3,84.2 L245.1,84.0 L242.9,83.9 L241.1,85.1 L240.2,87.1 L240.7,89.3 L239.9,91.3 L238.4,93.0 L237.7,95.0 L237.6,97.2 L238.3,99.3 M212.7,98.1 L212.7,95.9 L211.4,94.1 L210.3,92.2 L208.3,91.4 L206.1,90.7 L204.1,91.4 L202.2,92.5 L201.0,94.4 L199.3,95.9 L197.9,97.5 L196.0,98.5 L194.9,100.5 L194.6,102.6 L194.3,104.8 L194.0,107.0 L195.0,109.0 L195.5,111.1 L196.0,113.3 L195.3,115.4 L193.5,116.6 L191.4,117.2 L189.5,118.3 L187.5,119.1 L185.4,120.0 L184.3,121.9 L183.0,123.6 L182.2,125.7 L180.9,123.9 L179.9,122.0 L182.1,122.2 L183.8,123.5 L184.5,125.6 L186.0,127.2 L186.2,129.4 L187.4,131.2 L188.2,133.3 L187.8,135.5 L186.4,133.8 L185.8,131.6 L185.1,129.5 L183.7,127.9 L183.2,125.7 L182.6,123.6 L182.8,121.4 L184.2,119.7 M207.2,142.9 L207.7,140.8 L208.4,138.7 L209.9,137.1 L210.3,134.9 L209.7,132.8 L210.0,130.6 L211.4,128.9 L213.1,127.6 L215.3,127.4 L217.3,128.3 L218.4,130.2 L218.4,132.4 L218.6,134.6 L220.1,136.2 L221.9,137.5 L222.8,139.5 L223.3,141.7 L224.8,143.3 L226.7,144.3 L224.6,144.9 L223.3,146.7 L224.0,144.6 L224.6,142.5 L226.4,141.1 L228.5,140.5 L230.5,139.7 L232.0,138.1 L233.7,136.6 L235.9,136.6 L233.7,137.2 L232.1,138.7 L231.4,140.7 L229.9,139.2 L228.3,137.6 L226.2,137.2 L224.6,135.6 L223.0,134.1 L221.5,132.5 L220.4,130.6 L219.1,128.9 L218.0,126.9 L216.0,126.0 L214.9,124.2 L215.2,122.0 L216.7,120.4 M210.0,57.5 L211.6,59.0 L213.4,60.3 L215.1,61.7 L216.1,63.7 L215.8,65.8 L215.0,67.9 L213.5,69.5 L211.8,70.9 L210.0,72.1 L208.4,73.7 L207.4,75.6 L205.4,76.5 L203.2,76.6 L201.0,76.3 L199.0,77.3 L196.8,77.4 L194.7,78.0 L192.8,79.1 L191.0,80.3 L188.9,80.9 L187.1,82.2 L185.3,83.4 L184.4,85.5 L182.9,87.1 L182.2,89.1 L180.6,90.7 L179.7,92.7 L178.7,94.7 L179.3,96.8 L180.5,98.6 L182.6,99.4 L184.7,99.2 L186.9,98.8 L188.4,97.2 L189.7,95.4 L190.0,93.2 L189.8,91.1 L188.4,89.4 L186.8,87.8 L185.0,86.5 L183.1,85.4 L181.4,84.1 L179.2,83.9 L177.4,82.5 L179.5,81.8 M179.4,118.1 L180.2,116.1 L182.1,115.0 L184.2,114.2 L185.8,112.7 L186.1,110.5 L187.1,108.5 L188.7,106.9 L190.8,106.5 L192.7,105.3 L194.9,105.7 L196.6,107.1 L198.3,108.4 L200.3,109.4 L202.5,109.5 L204.6,109.9 L206.8,110.4 L208.4,111.9 L210.6,112.5 L212.6,113.2 L214.7,114.0 L216.8,113.4 L218.2,111.7 L219.9,110.3 L222.1,110.0 L224.2,109.7 L225.9,108.3 L228.1,108.2 L230.3,107.7 L232.2,106.7 L233.7,105.1 L234.8,103.1 L236.2,101.4 L237.6,99.7 L239.3,98.3 L241.2,97.3 L243.4,96.9 L245.3,95.8 L247.5,95.7 L249.2,94.2 L250.4,92.4 L250.3,94.6 L249.0,96.4 L247.1,97.5 L244.9,97.1 L243.0,98.2 M202.9,123.7 L201.0,122.6 L200.3,120.6 L200.3,118.4 L199.5,116.3 L197.6,115.1 L195.8,113.9 L194.8,111.9 L193.4,110.3 L192.9,108.1 L191.7,106.3 L189.6,105.6 L187.4,105.7 L185.6,107.0 L183.5,107.7 L181.3,107.9 L179.2,108.2 L177.1,107.5 L179.3,107.5 L181.0,106.1 L182.5,104.5 L183.2,102.4 L183.1,100.2 L182.3,98.2 L180.9,96.5 L180.0,94.5 L180.6,92.4 L180.5,90.2 L180.6,88.0 L180.8,85.8 L180.9,83.6 L180.9,81.4 L180.5,79.2 L180.3,77.0 L181.1,75.0 L180.7,72.8 L182.9,73.0 L185.1,72.5 L187.3,72.5 L189.1,71.4 L191.0,70.3 L192.8,69.0 L193.8,67.0 L195.3,65.4 L197.4,64.6 L199.5,65.0 M216.4,110.1 L214.9,108.5 L213.1,107.3 L211.0,106.5 L209.0,105.7 L207.1,104.6 L204.9,104.8 L202.8,105.7 L200.7,105.9 L198.6,105.2 L196.4,104.7 L194.3,105.1 L192.2,105.9 L190.0,105.5 L188.0,104.7 L185.8,104.3 L183.6,104.6 L181.4,104.6 L179.2,104.8 L177.6,106.3 L179.1,104.7 L179.5,102.5 L180.5,100.6 L181.0,98.4 L181.0,96.2 L180.6,94.1 L178.9,92.6 L176.8,92.2 L178.5,90.9 L179.5,88.9 L179.2,86.7 L177.5,85.2 L179.7,84.9 L181.9,85.2 L183.8,84.2 L186.0,84.1 L188.1,84.7 L190.3,84.4 L192.5,84.2 L194.4,83.1 L196.6,83.4 L198.5,82.3 L200.3,81.1 L201.3,79.1 L203.0,77.7 L204.0,75.8 M182.5,62.2 L182.4,64.4 L181.6,62.3 L183.2,63.8 L185.2,64.8 L186.3,66.7 L187.2,68.7 L188.0,70.8 L189.8,72.0 L191.6,73.2 L193.8,73.5 L196.0,73.8 L197.9,72.7 L200.1,73.1 L201.9,74.3 L204.0,75.0 L206.2,75.3 L208.3,74.8 L209.9,73.2 L211.2,71.5 L212.3,69.6 L212.6,67.4 L213.7,65.5 L215.4,64.1 L217.6,64.0 L219.8,64.5 L221.8,65.4 L224.0,65.5 L225.9,66.5 L227.9,67.6 L229.5,69.1 L230.1,71.2 L231.1,73.2 L231.9,75.2 L233.2,77.0 L234.8,78.5 L235.8,80.4 L237.5,81.9 L238.7,83.7 L239.0,85.9 L240.0,87.9 L240.0,90.1 L239.4,92.2 L237.8,93.7 L236.1,95.1 L233.9,95.0 M230.1,134.3 L231.2,132.5 L231.5,130.3 L233.0,128.7 L234.9,127.6 L237.1,127.6 L239.2,126.8 L241.4,126.8 L243.2,125.7 L241.4,127.0 L240.7,129.0 L239.4,130.8 L239.5,133.0 L238.7,135.1 L238.6,132.9 L237.3,131.1 L235.2,130.4 L233.1,129.9 L231.1,129.0 L229.0,128.3 L227.6,126.6 L226.9,124.5 L225.9,122.6 L225.4,120.4 L225.4,118.2 L224.9,116.1 L225.9,114.1 L227.4,112.6 L228.0,110.5 L229.5,108.8 L230.3,106.8 L232.3,105.8 L233.2,103.8 L234.0,101.7 L233.6,99.6 L232.1,98.0 L230.1,97.0 L228.2,95.9 L226.1,95.4 L224.5,93.8 L222.9,92.3 L221.2,90.9 L219.0,90.7 L217.0,91.6 L215.0,92.5 L213.1,93.6 M181.4,135.1 L183.6,134.7 L181.6,135.7 L182.6,133.7 L182.9,135.9 L181.1,134.7 L182.8,133.4 L181.4,135.0 L182.0,132.9 L183.6,134.3 L181.7,133.2 L183.9,133.6 L181.8,134.1 L182.7,132.1 L183.5,134.2 L182.7,132.1 L184.9,132.4 L186.4,134.0 L187.9,135.6 L189.6,136.9 L191.2,138.5 L192.3,140.4 L190.4,139.3 L189.2,137.4 L189.1,135.2 L188.4,133.1 L186.9,131.4 L185.5,129.8 L183.3,129.4 L185.4,128.6 L186.8,126.9 L188.7,125.8 L190.8,125.3 L192.9,124.7 L195.0,123.9 L197.1,124.6 L199.0,125.7 L200.7,127.1 L202.4,128.4 L203.2,130.5 L205.1,131.7 L206.9,133.0 L208.2,134.7 L208.9,136.8 L209.3,138.9 L208.7,141.1 M191.9,103.3 L191.0,101.3 L191.3,99.1 L190.3,97.2 L188.7,95.7 L187.4,93.9 L186.9,91.8 L185.8,89.9 L184.8,87.9 L183.7,86.0 L182.0,84.6 L181.0,82.6 L181.4,80.5 L181.2,78.3 L182.5,76.5 L183.7,74.7 L184.8,72.8 L185.9,70.8 L187.5,69.4 L189.0,67.8 L191.0,66.7 L192.7,65.3 L194.0,63.6 L196.1,62.8 L197.1,60.9 L198.8,59.4 L200.2,57.7 L202.3,57.2 L203.8,55.5 L205.7,54.5 L207.6,53.3 L208.8,51.5 L209.2,49.3 L210.8,47.8 L213.0,47.5 L214.6,46.1 L214.9,48.3 L216.2,50.0 L217.7,51.7 L218.7,53.6 L219.5,55.6 L220.7,57.5 L222.4,58.8 L223.2,60.9 L224.6,62.6 L224.9,64.7 M197.6,135.7 L196.8,133.6 L195.1,132.3 L193.5,130.7 L191.7,129.5 L189.5,129.3 L187.3,129.6 L185.6,131.0 L186.4,128.9 L188.3,127.8 L190.1,126.6 L190.8,124.5 L191.1,122.3 L192.2,120.4 L192.5,118.2 L192.8,116.0 L194.3,114.4 L195.1,112.4 L195.7,110.3 L196.8,108.3 L197.0,106.1 L197.8,104.1 L198.7,102.1 L198.8,99.9 L199.2,97.7 L200.2,95.8 L201.5,94.0 L203.1,92.6 L205.2,91.7 L207.3,91.1 L209.2,90.0 L211.2,89.2 L212.6,87.5 L213.9,85.7 L214.9,83.7 L216.4,82.1 L218.5,81.4 L220.6,80.9 L221.9,79.1 L224.1,78.7 L226.2,78.0 L228.4,78.0 L230.6,77.9 L232.6,77.0 L234.8,77.0 L237.0,77.3 M183.4,127.1 L182.5,125.1 L181.6,123.1 L180.2,121.4 L182.2,120.6 L184.2,119.5 L186.0,118.4 L187.3,116.6 L187.7,114.4 L187.1,112.3 L186.6,110.1 L184.8,108.9 L182.6,108.4 L180.9,107.0 L178.8,106.2 L177.2,104.8 L176.6,102.7 L175.9,100.6 L177.9,101.3 L179.9,102.4 L182.1,102.7 L184.0,101.7 L185.6,100.1 L187.6,99.3 L189.6,98.3 L190.7,96.4 L190.9,94.2 L192.2,92.5 L192.4,90.3 L192.7,88.1 L194.0,86.3 L195.1,84.4 L197.1,83.5 L199.3,83.2 L201.5,83.7 L203.1,85.1 L205.3,85.5 L207.3,84.6 L208.5,82.8 L210.4,81.7 L212.6,81.6 L214.7,80.7 L216.8,80.2 L218.4,78.6 L220.6,78.4 L222.1,76.8 M214.3,140.6 L216.0,139.2 L217.0,137.2 L217.5,135.1 L217.7,132.9 L216.9,130.9 L216.6,128.7 L216.0,126.6 L215.8,124.4 L214.3,122.8 L212.3,121.7 L210.1,121.5 L208.0,122.1 L206.6,123.8 L204.9,125.2 L202.8,125.6 L200.8,126.7 L199.9,128.7 L199.6,130.9 L198.7,132.9 L199.1,135.1 L198.4,137.2 L197.9,139.3 L196.9,141.3 L195.9,143.2 L197.0,141.3 L197.8,139.2 L198.9,137.4 L201.0,136.5 L203.1,136.2 L205.3,135.8 L207.4,135.0 L209.6,135.2 L211.6,136.1 L212.9,137.9 L213.8,139.9 L214.5,141.9 L216.2,143.3 L217.4,145.2 L218.8,146.9 L220.8,147.7 L218.6,147.4 L216.5,148.1 L216.4,145.9 L217.4,143.9 L217.6,141.7 M209.2,97.5 L209.1,95.3 L209.0,93.1 L209.2,90.9 L210.3,89.0 L210.1,86.8 L208.9,85.0 L208.3,82.9 L209.2,80.9 L209.1,78.7 L208.1,76.7 L206.8,75.0 L206.3,72.8 L205.9,70.7 L206.4,68.5 L208.1,67.1 L209.9,65.8 L211.3,64.2 L213.2,63.1 L215.2,62.1 L217.2,61.2 L219.4,61.4 L221.5,61.0 L223.7,60.4 L225.0,58.7 L226.8,57.3 L228.6,56.1 L229.9,54.3 L230.7,52.3 L232.0,54.0 L232.1,56.2 L231.9,58.4 L232.1,60.6 L231.5,62.7 L230.4,64.6 L229.4,66.6 L228.2,68.5 L227.5,70.5 L227.9,72.7 L227.8,74.9 L227.7,77.1 L226.9,79.1 L225.6,80.9 L224.4,82.7 L224.1,84.9 L224.7,87.1 M220.6,71.1 L218.7,69.9 L217.6,68.0 L216.0,66.5 L213.8,66.1 L211.8,67.0 L209.9,68.1 L208.1,69.5 L207.2,71.5 L206.2,73.4 L205.1,75.3 L203.1,76.3 L201.1,77.2 L199.7,78.9 L198.6,80.8 L196.5,81.5 L194.3,81.5 L192.1,81.6 L189.9,81.8 L188.1,80.5 L186.1,79.6 L184.4,78.2 L182.3,77.6 L180.1,77.7 L178.4,79.1 L177.4,81.1 L178.0,79.0 L178.2,76.8 L179.2,78.8 L181.1,79.9 L183.0,81.0 L185.1,81.7 L187.0,82.8 L189.1,83.4 L191.3,83.1 L192.8,81.5 L194.9,80.9 L197.0,80.3 L199.1,81.0 L201.3,81.4 L203.5,81.5 L205.5,80.5 L206.9,78.8 L207.6,76.8 L208.7,74.8 L210.3,73.3 M191.4,59.6 L190.2,57.7 L192.4,57.8 L194.6,57.8 L196.8,58.0 L198.8,57.0 L201.0,57.2 L203.2,57.1 L205.3,57.5 L207.1,58.9 L209.0,59.8 L211.0,60.8 L213.2,60.6 L215.2,61.5 L217.4,61.9 L219.6,62.0 L221.6,62.8 L223.1,64.4 L224.5,66.1 L226.2,67.6 L227.9,69.0 L229.2,70.8 L231.2,71.7 L233.4,71.4 L235.6,71.4 L237.7,71.8 L239.3,73.3 L241.0,74.7 L243.1,75.2 L245.2,76.1 L247.3,75.6 L246.4,77.6 L246.9,79.8 L246.3,81.9 L246.2,84.1 L246.5,86.2 L248.1,87.8 L250.2,88.1 L249.4,90.1 L248.9,92.3 L247.1,93.5 L245.7,95.2 L244.8,97.2 L244.2,99.4 L245.0,101.4 L245.1,103.6 M243.2,69.7 L241.2,68.7 L239.4,67.5 L237.6,66.3 L236.5,64.3 L234.5,63.5 L232.3,63.6 L230.4,64.7 L228.9,66.3 L227.1,67.6 L224.9,67.7 L222.9,68.7 L222.1,70.8 L220.9,72.6 L220.8,74.8 L220.6,77.0 L219.2,78.7 L218.6,80.8 L217.6,82.8 L217.3,84.9 L216.5,87.0 L217.0,89.1 L216.8,91.3 L217.6,93.4 L217.6,95.6 L216.8,97.7 L217.1,99.8 L217.7,102.0 L218.6,104.0 L220.3,105.4 L222.5,105.7 L224.5,106.6 L226.7,106.9 L228.8,106.2 L230.3,104.6 L232.2,103.5 L234.4,103.2 L236.3,102.1 L237.5,100.2 L239.2,98.8 L241.3,98.0 L243.2,97.0 L245.3,96.6 L247.0,95.1 L247.9,93.1 L249.9,92.1 M190.8,93.0 L188.8,93.9 L187.3,95.5 L185.9,97.2 L183.9,98.0 L182.4,99.6 L181.1,101.4 L181.0,103.6 L180.7,105.8 L180.1,107.9 L180.1,110.1 L179.6,112.2 L180.4,114.3 L181.3,116.2 L181.6,118.4 L183.1,120.1 L183.5,122.2 L184.4,124.2 L184.8,126.4 L185.5,128.5 L185.7,130.7 L186.7,132.6 L187.5,134.7 L189.0,136.2 L187.5,134.7 L189.5,133.8 L190.5,131.8 L191.9,130.1 L193.1,128.3 L192.8,126.1 L192.7,123.9 L191.9,121.8 L191.2,119.7 L191.0,117.6 L191.0,115.4 L191.5,113.2 L192.7,111.4 L194.3,109.8 L196.4,109.4 L198.6,109.7 L200.5,110.8 L201.2,112.9 L202.5,114.7 L204.5,115.5 L206.0,117.1 L206.7,119.2 M209.3,95.2 L210.7,93.6 L211.3,91.5 L211.0,89.3 L209.5,87.7 L207.9,86.1 L206.0,85.1 L203.9,84.4 L202.4,82.8 L200.5,81.7 L198.3,81.4 L196.1,81.6 L193.9,81.6 L191.7,81.4 L189.6,82.0 L187.6,81.3 L186.4,79.4 L184.5,78.2 L183.5,76.3 L183.3,74.1 L183.0,71.9 L182.3,69.8 L184.5,70.1 L186.7,69.8 L188.6,68.7 L189.8,66.9 L190.5,64.8 L191.9,63.0 L191.9,60.8 L193.1,59.0 L192.9,56.8 L193.2,54.6 L194.1,52.6 L195.5,50.9 L197.4,49.9 L199.3,48.7 L201.5,49.0 L203.3,47.8 L205.5,47.7 L207.5,48.7 L209.6,49.2 L211.8,49.6 L214.0,49.5 L216.1,50.1 L217.4,51.9 L219.4,52.8 M199.8,104.4 L197.6,104.6 L195.4,104.9 L193.3,104.3 L191.6,102.8 L189.8,101.6 L187.6,101.4 L185.7,102.4 L183.5,102.3 L181.6,101.1 L179.4,100.9 L177.2,100.7 L178.7,99.1 L179.2,96.9 L178.3,94.9 L177.3,92.9 L176.0,91.2 L178.2,91.6 L180.2,92.3 L182.4,91.7 L184.5,92.2 L186.7,91.8 L188.5,90.6 L190.7,90.4 L192.9,90.2 L195.1,90.5 L197.0,89.4 L198.9,88.4 L200.4,86.8 L202.5,86.1 L204.7,85.8 L206.6,87.0 L208.7,87.4 L210.4,88.9 L212.4,89.7 L214.6,89.8 L216.4,88.6 L218.3,87.4 L219.8,85.8 L221.6,84.6 L223.8,84.3 L225.7,83.2 L227.4,81.8 L228.4,79.8 L229.0,77.7 L228.7,75.6" fill="none" stroke="#6ad9e3" stroke-width="0.6" stroke-linecap="round" stroke-linejoin="round" opacity="1"/>
<ellipse cx="205" cy="100" rx="14" ry="32" fill="#6ad9e3" opacity="0.15" transform="rotate(0 205 100)"/>
<path d="M198.9,87.3 Q204.1,98.7 207.5,105.5 M192.6,94.4 Q197.6,105.4 205.6,116.5 M195.0,91.3 Q200.5,103.8 207.7,120.0 M196.4,91.4 Q198.3,98.2 202.7,107.6 M195.6,98.1 Q201.6,107.8 203.7,113.7 M198.7,60.9 Q205.3,67.8 207.8,78.5 M192.1,68.3 Q197.9,76.7 199.0,87.2 M194.7,62.5 Q204.3,75.2 208.9,90.4 M192.7,60.3 Q198.3,70.9 203.7,80.8 M193.7,64.6 Q197.4,77.3 202.7,85.4 M196.0,52.9 Q200.5,71.1 206.1,84.4" fill="none" stroke="#2a9aa8" stroke-width="2.7" stroke-linecap="round" opacity="1"/>
<path d="M198.9,87.3 Q204.1,98.7 207.5,105.5 M192.6,94.4 Q197.6,105.4 205.6,116.5 M195.0,91.3 Q200.5,103.8 207.7,120.0 M196.4,91.4 Q198.3,98.2 202.7,107.6 M195.6,98.1 Q201.6,107.8 203.7,113.7 M198.7,60.9 Q205.3,67.8 207.8,78.5 M192.1,68.3 Q197.9,76.7 199.0,87.2 M194.7,62.5 Q204.3,75.2 208.9,90.4 M192.7,60.3 Q198.3,70.9 203.7,80.8 M193.7,64.6 Q197.4,77.3 202.7,85.4 M196.0,52.9 Q200.5,71.1 206.1,84.4" fill="none" stroke="#48b8c4" stroke-width="1.9" stroke-linecap="round" opacity="1"/>
<path d="M224.7,81.2 Q223.3,85.9 219.2,89.8 M233.6,75.7 Q228.5,79.8 225.0,87.9 M234.4,66.8 Q229.2,72.7 225.6,81.0 M228.0,70.8 Q222.7,75.7 221.6,79.6" fill="none" stroke="#2a9aa8" stroke-width="2.6" stroke-linecap="round" opacity="1"/>
<path d="M224.7,81.2 Q223.3,85.9 219.2,89.8 M233.6,75.7 Q228.5,79.8 225.0,87.9 M234.4,66.8 Q229.2,72.7 225.6,81.0 M228.0,70.8 Q222.7,75.7 221.6,79.6" fill="none" stroke="#6ad9e3" stroke-width="1.8" stroke-linecap="round" opacity="1"/>
<g fill="none" stroke="#6ad9e3" stroke-width="1.2" transform="rotate(105 223.8 121.4)"><ellipse cx="223.8" cy="121.4" rx="1.6" ry="2.8"/><ellipse cx="226.4" cy="121.4" rx="1.6" ry="2.8"/></g>
<g fill="none" stroke="#6ad9e3" stroke-width="1.2" transform="rotate(19 223.9 133.8)"><ellipse cx="223.9" cy="133.8" rx="1.6" ry="2.8"/><ellipse cx="226.5" cy="133.8" rx="1.6" ry="2.8"/><ellipse cx="229.1" cy="133.8" rx="1.6" ry="2.8"/><ellipse cx="231.7" cy="133.8" rx="1.6" ry="2.8"/></g>
<g fill="none" stroke="#6ad9e3" stroke-width="1.2" transform="rotate(13 220.9 135.5)"><ellipse cx="220.9" cy="135.5" rx="1.6" ry="2.8"/><ellipse cx="223.5" cy="135.5" rx="1.6" ry="2.8"/></g>
<g fill="none" stroke="#6ad9e3" stroke-width="1.2" transform="rotate(97 237.2 100.7)"><ellipse cx="237.2" cy="100.7" rx="1.4" ry="2.5"/><ellipse cx="239.6" cy="100.7" rx="1.4" ry="2.5"/><ellipse cx="241.9" cy="100.7" rx="1.4" ry="2.5"/></g>
<g fill="none" stroke="#6ad9e3" stroke-width="1.2" transform="rotate(175 237.6 100.5)"><ellipse cx="237.6" cy="100.5" rx="1.4" ry="2.5"/><ellipse cx="240.0" cy="100.5" rx="1.4" ry="2.5"/><ellipse cx="242.3" cy="100.5" rx="1.4" ry="2.5"/><ellipse cx="244.6" cy="100.5" rx="1.4" ry="2.5"/></g>
<path d="M175.7,111.1 L177.5,112.4 L178.9,114.1 L180.0,116.0 L180.0,118.2 L180.5,120.4 L180.2,122.5 L179.2,124.5 L179.4,126.7 L179.0,128.9 L178.3,130.9 L176.7,132.5 L174.6,133.2 L172.4,133.4 L170.2,133.3 L168.5,132.0 L166.3,131.5 L164.2,132.1 L162.0,132.2 L159.9,131.8 L158.4,130.1 L157.5,128.1 L156.7,126.1 L157.1,123.9 L156.4,121.8 L155.0,120.1 L155.0,117.9 L155.6,115.8 L156.6,113.9 L157.7,111.9 L157.4,109.8 L156.9,107.6 L155.5,105.9 L153.6,104.8 L151.7,103.7 L149.5,103.8 L147.5,102.9 L145.3,103.1 L143.7,104.7 L142.2,106.2 L141.8,104.1 L143.9,104.9 L145.5,106.3 L146.9,108.0 L147.3,110.2 L146.3,112.1 M159.0,94.8 L158.5,97.0 L158.8,99.2 L159.5,101.3 L160.3,103.3 L160.5,105.5 L159.3,107.4 L157.3,108.3 L156.2,110.3 L155.9,112.4 L154.4,114.1 L152.3,114.6 L150.1,115.0 L148.3,116.2 L147.4,118.2 L148.0,120.3 L147.4,118.2 L147.7,116.0 L148.1,113.9 L149.0,111.8 L149.4,109.7 L149.9,107.5 L149.4,105.4 L149.7,103.2 L150.3,101.1 L151.1,99.0 L150.8,96.8 L149.3,95.3 L147.1,95.0 L145.2,94.0 L144.1,92.1 L143.5,90.0 L143.6,87.8 L143.4,85.6 L143.1,83.4 L142.0,81.5 L142.0,79.3 L144.1,79.9 L145.8,81.3 L146.6,83.3 L148.1,84.9 L149.3,86.8 L150.7,88.5 L151.0,90.7 L152.3,92.5 L153.5,94.3 M173.1,79.1 L172.3,81.2 L171.3,83.1 L170.0,84.9 L168.3,86.4 L167.9,88.5 L166.2,90.0 L164.3,91.1 L162.6,92.5 L160.4,92.7 L158.5,91.6 L156.3,91.6 L154.1,91.8 L152.3,92.9 L150.1,93.4 L147.9,93.4 L145.9,94.5 L143.9,95.2 L141.7,94.8 L143.8,94.1 L145.7,93.0 L147.0,91.2 L146.9,89.0 L146.3,86.9 L146.8,84.7 L147.0,82.6 L146.0,80.6 L144.1,79.5 L143.2,77.5 L143.8,75.4 L143.1,73.3 L144.4,75.1 L146.5,75.8 L148.0,77.4 L149.5,78.9 L151.2,80.4 L151.9,82.5 L152.4,84.6 L152.5,86.8 L152.7,89.0 L152.0,91.1 L150.6,92.8 L148.9,94.2 L148.4,96.3 L147.9,98.5 L146.2,99.9 M166.3,56.1 L166.4,53.9 L166.4,51.7 L166.7,49.5 L168.7,50.4 L169.9,52.3 L171.2,54.0 L173.3,54.5 L175.3,53.5 L177.5,53.8 L179.6,53.2 L181.7,54.0 L183.7,54.7 L185.5,56.0 L187.7,56.1 L189.7,57.0 L191.6,58.1 L193.3,59.6 L191.1,59.8 L189.1,60.8 L186.9,61.0 L184.7,61.4 L182.6,60.9 L180.6,59.9 L178.6,59.2 L176.5,59.8 L174.6,61.0 L173.3,62.8 L172.8,64.9 L171.3,66.5 L170.1,68.3 L168.9,70.2 L169.1,72.4 L169.5,74.5 L170.4,76.5 L170.7,78.7 L170.3,80.9 L169.4,82.9 L168.0,84.5 L165.8,84.9 L163.7,85.7 L162.3,87.3 L161.4,89.4 L161.3,91.6 L160.1,93.4 L159.8,95.6 M179.9,122.2 L177.9,121.2 L175.7,121.5 L173.7,120.7 L172.5,118.8 L170.6,117.9 L168.4,117.7 L166.2,117.2 L164.0,117.3 L162.1,118.4 L160.8,120.1 L159.1,121.5 L157.3,122.8 L155.3,123.6 L153.7,125.1 L154.4,123.0 L155.1,120.9 L155.6,118.8 L157.1,117.2 L158.3,115.4 L159.0,113.3 L158.6,111.1 L158.1,109.0 L158.0,106.8 L157.8,104.6 L158.1,102.4 L156.9,100.6 L156.1,98.5 L156.3,96.3 L156.3,94.1 L156.7,92.0 L156.7,89.8 L157.0,87.6 L157.7,85.5 L159.6,84.4 L160.7,82.5 L162.5,81.2 L164.3,79.9 L166.2,78.8 L167.8,77.3 L169.3,75.7 L170.6,73.9 L171.2,71.8 L170.7,69.7 L170.0,67.6 L168.3,66.2 M170.6,85.8 L172.8,86.0 L174.5,87.3 L176.0,89.0 L176.6,91.1 L177.5,93.1 L178.3,95.1 L179.8,96.7 L180.9,98.6 L181.1,100.8 L180.1,102.8 L178.6,104.4 L177.3,106.1 L175.2,106.8 L173.2,107.8 L171.9,109.5 L171.2,111.6 L171.7,113.8 L172.4,115.9 L172.9,118.0 L172.9,120.2 L173.1,122.4 L173.6,124.6 L174.9,126.3 L176.6,127.7 L178.7,128.5 L180.9,128.7 L183.0,129.0 L185.2,129.5 L187.4,129.3 L185.2,129.7 L183.0,130.0 L181.3,131.4 L180.4,133.4 L179.0,131.7 L178.3,129.6 L176.7,128.1 L175.8,126.1 L173.9,125.0 L173.1,122.9 L171.7,121.3 L170.0,119.9 L167.8,119.4 L165.7,119.8 L163.6,119.0 L161.9,117.7 M147.7,80.2 L149.3,81.7 L151.3,82.7 L153.4,82.1 L155.6,82.5 L157.7,83.0 L159.6,84.2 L161.7,84.6 L163.9,84.9 L166.0,85.6 L168.2,85.9 L170.2,85.1 L172.4,85.1 L174.6,85.1 L176.7,85.5 L178.7,86.6 L179.6,88.5 L180.2,90.7 L179.5,92.8 L179.3,95.0 L177.8,96.6 L175.7,97.4 L173.6,98.0 L171.5,97.4 L169.4,97.8 L167.2,97.5 L165.2,96.5 L163.3,95.4 L162.2,93.5 L160.7,91.8 L160.5,89.6 L159.4,87.7 L159.1,85.5 L158.7,83.4 L158.8,81.2 L159.1,79.0 L159.8,76.9 L161.0,75.1 L161.3,72.9 L160.3,71.0 L159.8,68.8 L160.6,66.8 L161.0,64.6 L162.6,63.1 L163.5,61.2 L163.3,59.0 M188.7,56.6 L188.6,58.8 L187.3,60.6 L185.3,61.5 L183.5,62.8 L181.5,63.7 L179.5,64.7 L178.3,66.5 L176.5,67.7 L174.5,68.7 L172.3,68.5 L170.3,67.5 L169.0,65.8 L168.1,63.8 L167.1,61.8 L165.9,60.0 L164.5,58.3 L163.7,56.2 L163.1,54.1 L163.6,51.9 L164.3,49.8 L164.4,52.0 L163.9,54.2 L164.0,56.4 L164.2,58.6 L164.4,60.8 L163.4,62.7 L161.9,64.3 L160.3,65.9 L159.6,68.0 L157.9,69.3 L156.6,71.1 L155.0,72.6 L152.8,72.8 L150.6,72.4 L148.5,71.9 L146.3,72.1 L144.3,73.0 L145.9,71.5 L147.9,70.7 L149.9,69.6 L151.9,68.9 L154.0,68.2 L155.6,66.7 L157.2,65.2 L159.2,64.3 M154.9,111.1 L152.9,112.0 L151.6,113.8 L150.9,115.9 L150.3,118.0 L149.6,120.1 L149.2,122.3 L148.2,120.3 L150.3,120.6 L152.5,121.1 L154.6,121.8 L155.8,123.6 L155.8,125.8 L156.1,128.0 L157.4,129.8 L156.0,128.1 L154.7,126.3 L154.7,124.1 L155.9,122.3 L156.0,120.1 L157.4,118.4 L159.4,117.5 L161.5,118.0 L163.5,117.1 L164.8,115.3 L165.6,113.3 L167.4,112.0 L168.9,110.4 L170.5,109.0 L171.9,107.3 L173.0,105.4 L173.4,103.2 L174.1,101.1 L173.6,98.9 L174.6,97.0 L175.3,94.9 L174.5,92.8 L173.3,91.0 L171.8,89.4 L170.1,88.0 L169.4,85.9 L169.4,83.7 L170.3,81.7 L171.6,79.9 L171.9,77.7 L172.8,75.7 M193.3,60.2 L194.3,62.2 L195.7,63.9 L193.5,64.1 L191.3,63.9 L189.3,64.9 L187.2,65.4 L185.3,66.5 L183.3,67.6 L181.3,68.4 L179.1,68.3 L177.0,67.5 L174.9,67.0 L172.8,66.2 L170.7,65.6 L168.6,66.1 L166.5,65.3 L164.7,64.1 L162.5,63.9 L160.6,62.8 L159.7,60.8 L158.3,59.1 L156.3,58.1 L154.2,58.7 L152.1,59.4 L150.2,60.5 L149.4,62.6 L149.9,64.7 L150.6,66.8 L151.3,68.9 L150.8,71.0 L150.2,73.2 L150.0,75.3 L148.4,76.9 L146.8,78.4 L144.8,79.3 L142.7,79.1 L143.9,77.3 L145.9,76.2 L148.0,76.6 L149.7,78.0 L151.9,78.0 L153.8,76.9 L155.5,75.4 L157.6,74.8 L159.0,73.1 M146.9,99.6 L147.3,101.8 L147.6,103.9 L149.0,105.7 L150.0,107.6 L149.8,109.8 L149.2,112.0 L147.7,113.5 L145.5,114.1 L147.3,112.8 L149.4,112.3 L151.6,112.8 L153.8,113.0 L155.9,112.4 L158.1,112.8 L160.2,112.2 L162.3,112.6 L164.3,111.7 L166.5,111.5 L168.7,111.7 L170.9,111.4 L173.0,110.7 L175.2,110.6 L177.3,110.0 L179.2,108.9 L180.1,106.9 L181.5,105.2 L183.4,104.0 L184.1,102.0 L183.8,99.8 L182.3,98.2 L182.0,96.0 L182.6,93.9 L182.6,91.7 L183.9,90.0 L184.1,87.8 L184.1,85.6 L185.4,83.8 L187.5,83.2 L189.6,82.5 L191.2,81.0 L192.5,79.2 L194.4,78.1 L196.5,77.6 L198.6,78.1 L200.8,78.6 M162.0,61.7 L162.8,59.7 L164.1,57.9 L164.4,55.7 L164.7,53.5 L166.3,52.0 L168.3,51.0 L169.9,49.5 L170.5,51.6 L170.7,53.8 L170.8,56.0 L170.9,58.2 L169.9,60.2 L168.2,61.6 L166.4,62.9 L165.4,64.9 L164.2,66.7 L163.1,68.6 L163.4,70.8 L162.7,72.8 L161.0,74.3 L159.3,75.5 L157.8,77.2 L155.7,77.9 L153.5,77.5 L151.6,78.6 L149.5,78.4 L147.8,77.0 L145.9,75.8 L143.8,75.1 L146.0,74.5 L148.1,74.1 L149.7,72.6 L150.7,70.6 L152.4,69.2 L152.9,67.1 L153.9,65.1 L155.6,63.8 L156.4,61.7 L156.7,59.5 L157.5,57.5 L157.1,55.3 L158.0,53.3 L159.5,51.8 L161.7,51.4 L163.9,51.0 M186.2,82.5 L187.2,84.4 L187.0,86.6 L185.6,88.3 L184.1,89.9 L181.9,90.2 L179.9,89.4 L177.8,88.7 L175.6,89.1 L173.4,88.5 L172.2,86.7 L171.8,84.6 L171.1,82.5 L170.8,80.3 L170.4,78.1 L171.2,76.1 L171.9,74.0 L172.6,71.9 L172.9,69.7 L174.3,68.1 L175.1,66.0 L174.9,63.8 L174.8,61.6 L173.9,59.6 L172.3,58.1 L171.8,56.0 L172.9,54.0 L174.1,52.2 L175.3,50.4 L177.0,48.9 L175.3,50.4 L174.8,52.5 L173.2,54.0 L172.0,55.9 L170.7,57.7 L169.4,59.4 L168.1,61.2 L166.0,61.9 L164.9,63.8 L165.2,66.0 L165.7,68.2 L167.5,69.5 L169.7,69.7 L171.9,69.3 L173.3,67.7 L175.4,66.8 M170.6,93.0 L168.9,94.5 L168.2,96.5 L169.0,98.6 L169.2,100.8 L168.3,102.8 L168.3,105.0 L168.3,107.2 L168.0,109.4 L168.5,111.5 L169.7,113.3 L170.6,115.4 L172.0,117.1 L173.1,119.0 L173.2,121.2 L173.5,123.4 L173.5,125.6 L173.6,127.7 L173.7,129.9 L172.5,131.8 L171.6,133.8 L169.7,134.8 L169.3,132.7 L170.2,130.7 L171.7,129.1 L171.9,126.9 L172.1,124.7 L173.7,123.1 L175.8,122.6 L177.9,123.4 L180.0,122.9 L182.2,123.1 L183.9,124.5 L185.9,125.3 L187.6,126.8 L189.4,128.1 L187.4,127.0 L185.8,125.5 L183.7,125.0 L181.5,125.3 L179.4,124.7 L177.2,124.5 L175.1,125.2 L173.0,124.8 L170.8,124.8 L168.9,123.7 M177.9,61.0 L179.3,59.3 L180.6,57.6 L181.3,55.5 L180.5,53.5 L180.4,51.3 L179.5,49.2 L180.6,51.1 L181.9,52.9 L183.9,53.8 L186.1,53.5 L184.9,55.3 L183.0,56.4 L181.2,57.6 L179.6,59.1 L177.5,59.7 L176.1,61.5 L174.1,62.4 L172.8,64.1 L171.1,65.6 L170.0,67.4 L168.8,69.3 L167.1,70.7 L165.0,71.4 L163.6,73.1 L162.4,74.9 L161.1,76.7 L160.9,78.9 L161.2,81.1 L160.3,83.1 L159.4,85.1 L157.6,86.4 L155.5,86.3 L153.3,86.1 L151.4,84.9 L149.3,84.3 L147.6,82.9 L145.5,82.7 L143.3,83.1 L141.1,82.8 L143.3,82.5 L145.4,83.0 L147.6,83.2 L149.3,84.6 L149.8,86.7 L151.5,88.1 M180.5,125.3 L182.4,126.4 L183.6,128.2 L184.1,130.4 L184.1,132.6 L182.6,130.9 L182.0,128.8 L182.8,126.8 L184.7,125.6 L185.6,123.6 L187.4,122.4 L189.4,121.5 L190.5,119.6 L191.4,117.6 L191.3,115.4 L192.3,113.4 L194.3,112.4 L195.9,110.9 L197.3,109.2 L199.1,108.0 L201.1,107.0 L200.7,109.2 L199.0,107.9 L198.1,105.9 L197.0,104.0 L195.3,102.5 L194.3,100.6 L194.5,98.4 L195.1,96.3 L195.0,94.1 L194.7,91.9 L194.7,89.7 L193.5,87.8 L192.4,86.0 L192.1,83.8 L192.3,81.6 L192.7,79.4 L192.3,77.2 L192.8,75.1 L193.0,72.9 L194.0,71.0 L195.8,69.6 L197.8,68.8 L198.1,70.9 L197.7,73.1 L197.1,75.2" fill="none" stroke="#e99ddb" stroke-width="0.6" stroke-linecap="round" stroke-linejoin="round" opacity="1"/>
<ellipse cx="167" cy="120" rx="18" ry="28" fill="#e99ddb" opacity="0.35" transform="rotate(0 167 120)"/>
<path d="M161.7,122.4 Q164.4,129.2 166.5,139.5 M152.7,108.8 Q155.0,119.7 155.9,134.2 M147.3,76.9 Q153.8,89.1 163.8,101.7 M149.0,72.3 Q153.5,84.0 160.0,95.1 M166.8,73.0 Q170.7,83.2 173.0,90.4 M174.0,109.2 Q180.2,125.4 184.5,140.1 M147.0,60.6 Q156.6,76.2 162.1,88.6 M159.7,68.9 Q165.3,85.6 173.4,98.5 M165.1,95.0 Q168.9,106.0 175.2,113.8 M150.9,84.2 Q152.4,97.0 157.1,104.7 M156.8,117.6 Q161.1,131.4 166.4,144.8 M158.5,111.1 Q165.6,123.0 171.1,131.0 M149.2,119.7 Q154.6,127.5 161.1,138.3 M172.1,66.0 Q178.7,74.9 182.6,88.3 M162.7,114.7 Q171.8,122.3 176.3,133.8 M158.2,93.8 Q159.9,108.1 164.7,119.0 M169.9,72.1 Q175.8,81.6 177.3,88.0 M164.3,92.5 Q169.2,102.1 176.7,110.8 M170.2,98.3 Q173.4,111.1 177.6,122.9 M165.4,104.5 Q168.2,120.6 171.1,134.9 M163.7,96.2 Q167.1,107.9 172.1,116.1 M166.0,101.0 Q173.5,117.8 176.4,129.9 M167.1,99.0 Q168.9,108.5 174.9,115.5 M173.7,69.0 Q180.9,76.6 184.1,86.5" fill="none" stroke="#c864b0" stroke-width="2.7" stroke-linecap="round" opacity="1"/>
<path d="M161.7,122.4 Q164.4,129.2 166.5,139.5 M152.7,108.8 Q155.0,119.7 155.9,134.2 M147.3,76.9 Q153.8,89.1 163.8,101.7 M149.0,72.3 Q153.5,84.0 160.0,95.1 M166.8,73.0 Q170.7,83.2 173.0,90.4 M174.0,109.2 Q180.2,125.4 184.5,140.1 M147.0,60.6 Q156.6,76.2 162.1,88.6 M159.7,68.9 Q165.3,85.6 173.4,98.5 M165.1,95.0 Q168.9,106.0 175.2,113.8 M150.9,84.2 Q152.4,97.0 157.1,104.7 M156.8,117.6 Q161.1,131.4 166.4,144.8 M158.5,111.1 Q165.6,123.0 171.1,131.0 M149.2,119.7 Q154.6,127.5 161.1,138.3 M172.1,66.0 Q178.7,74.9 182.6,88.3 M162.7,114.7 Q171.8,122.3 176.3,133.8 M158.2,93.8 Q159.9,108.1 164.7,119.0 M169.9,72.1 Q175.8,81.6 177.3,88.0 M164.3,92.5 Q169.2,102.1 176.7,110.8 M170.2,98.3 Q173.4,111.1 177.6,122.9 M165.4,104.5 Q168.2,120.6 171.1,134.9 M163.7,96.2 Q167.1,107.9 172.1,116.1 M166.0,101.0 Q173.5,117.8 176.4,129.9 M167.1,99.0 Q168.9,108.5 174.9,115.5 M173.7,69.0 Q180.9,76.6 184.1,86.5" fill="none" stroke="#e99ddb" stroke-width="1.9" stroke-linecap="round" opacity="1"/>
<g fill="none" stroke="#e99ddb" stroke-width="1.2" transform="rotate(4 161.7 133.5)"><ellipse cx="161.7" cy="133.5" rx="1.6" ry="2.8"/><ellipse cx="164.3" cy="133.5" rx="1.6" ry="2.8"/><ellipse cx="166.9" cy="133.5" rx="1.6" ry="2.8"/></g>
<g fill="none" stroke="#e99ddb" stroke-width="1.2" transform="rotate(29 171.0 144.6)"><ellipse cx="171.0" cy="144.6" rx="1.6" ry="2.8"/><ellipse cx="173.6" cy="144.6" rx="1.6" ry="2.8"/><ellipse cx="176.2" cy="144.6" rx="1.6" ry="2.8"/></g>
<g fill="none" stroke="#e99ddb" stroke-width="1.2" transform="rotate(61 170.5 133.5)"><ellipse cx="170.5" cy="133.5" rx="1.6" ry="2.8"/><ellipse cx="173.1" cy="133.5" rx="1.6" ry="2.8"/><ellipse cx="175.7" cy="133.5" rx="1.6" ry="2.8"/><ellipse cx="178.3" cy="133.5" rx="1.6" ry="2.8"/></g>
<g fill="none" stroke="#e99ddb" stroke-width="1.2" transform="rotate(36 169.1 141.5)"><ellipse cx="169.1" cy="141.5" rx="1.6" ry="2.8"/><ellipse cx="171.7" cy="141.5" rx="1.6" ry="2.8"/><ellipse cx="174.3" cy="141.5" rx="1.6" ry="2.8"/><ellipse cx="176.9" cy="141.5" rx="1.6" ry="2.8"/></g>
<g fill="none" stroke="#e99ddb" stroke-width="1.2" transform="rotate(53 174.3 139.3)"><ellipse cx="174.3" cy="139.3" rx="1.6" ry="2.8"/><ellipse cx="176.9" cy="139.3" rx="1.6" ry="2.8"/></g>
<g fill="none" stroke="#e99ddb" stroke-width="1.2" transform="rotate(37 175.6 135.0)"><ellipse cx="175.6" cy="135.0" rx="1.6" ry="2.8"/><ellipse cx="178.2" cy="135.0" rx="1.6" ry="2.8"/><ellipse cx="180.8" cy="135.0" rx="1.6" ry="2.8"/></g>
<g fill="none" stroke="#e99ddb" stroke-width="1.2" transform="rotate(47 171.2 131.9)"><ellipse cx="171.2" cy="131.9" rx="1.6" ry="2.8"/><ellipse cx="173.8" cy="131.9" rx="1.6" ry="2.8"/><ellipse cx="176.4" cy="131.9" rx="1.6" ry="2.8"/></g>
<g fill="none" stroke="#e99ddb" stroke-width="1.2" transform="rotate(68 180.7 140.0)"><ellipse cx="180.7" cy="140.0" rx="1.6" ry="2.8"/><ellipse cx="183.3" cy="140.0" rx="1.6" ry="2.8"/><ellipse cx="185.9" cy="140.0" rx="1.6" ry="2.8"/></g>
<g fill="none" stroke="#e99ddb" stroke-width="1.2" transform="rotate(122 160.3 141.3)"><ellipse cx="160.3" cy="141.3" rx="1.6" ry="2.8"/><ellipse cx="162.9" cy="141.3" rx="1.6" ry="2.8"/><ellipse cx="165.5" cy="141.3" rx="1.6" ry="2.8"/><ellipse cx="168.1" cy="141.3" rx="1.6" ry="2.8"/></g>
<path d="M177.6,79.4 Q182.0,83.7 187.0,90.8 M171.8,73.4 Q175.6,81.0 177.6,90.9 M180.9,89.5 Q185.2,95.7 184.7,98.8 M179.7,91.5 Q184.6,94.4 187.8,98.9 M182.1,86.5 Q183.7,94.2 186.0,97.4" fill="none" stroke="#c864b0" stroke-width="1.8" stroke-linecap="round" opacity="1"/>
<rect x="6.3" y="29.1" width="100" height="88.3" fill="none" stroke="#4a5963" stroke-width="0.9" stroke-dasharray="3.2,2.2"/>
<text x="37.00" y="39.48" font-size="5.5" font-weight="normal" text-anchor="middle" fill="#5cd3e0">L1</text>
<text x="15.00" y="93.48" font-size="5.5" font-weight="normal" text-anchor="middle" fill="#d070c0">L1</text>
<text x="26.00" y="136.48" font-size="5.5" font-weight="bold" text-anchor="middle" fill="#19c860">GP96</text>
<text x="90.00" y="133.48" font-size="5.5" font-weight="bold" text-anchor="middle" fill="#d9ad80">GP96</text>
<text x="68.00" y="184.82" font-size="5.6" font-weight="bold" text-anchor="middle" fill="#000">L1-GP96 dimer</text>
<text x="68.00" y="191.62" font-size="5.6" font-weight="bold" text-anchor="middle" fill="#000">AlphaFold3</text>
<line x1="106.30" y1="29.10" x2="138.50" y2="43.40" stroke="#222" stroke-width="0.6"/>
<line x1="106.30" y1="117.40" x2="138.50" y2="154.50" stroke="#222" stroke-width="0.6"/>
<rect x="138.5" y="43.4" width="114" height="111.1" fill="none" stroke="#222" stroke-width="0.8" stroke-dasharray="2.2,1.6"/>
<text x="253.00" y="12.48" font-size="13" font-weight="bold" text-anchor="start" fill="#000">B</text>
<text x="265.90" y="34.55" font-size="6.8" font-weight="bold" text-anchor="middle" fill="#000">kDa</text>
<text x="283.30" y="34.55" font-size="6.8" font-weight="bold" text-anchor="middle" fill="#000">M</text>
<text x="298" y="36" font-size="6.8" font-weight="bold" transform="rotate(-40 298 36)">L1</text>
<text x="314.6" y="36.0" font-size="7.2" font-weight="bold" transform="rotate(-36 314.6 36.0)">L1-GP96-Fusion</text>
<defs><linearGradient id="gel" x1="0" y1="0" x2="0" y2="1"><stop offset="0" stop-color="#cacdd0"/><stop offset="1" stop-color="#c6cacb"/></linearGradient><filter id="blur1" x="-20%" y="-50%" width="140%" height="200%"><feGaussianBlur stdDeviation="0.6"/></filter><filter id="blur2" x="-20%" y="-50%" width="140%" height="200%"><feGaussianBlur stdDeviation="1.2"/></filter></defs>
<rect x="275.10" y="38.50" width="52.70" height="131.30" fill="url(#gel)" stroke="none" stroke-width="1"/>
<ellipse cx="283" cy="47.3" rx="5.2" ry="1.3" fill="#7d9cc8" filter="url(#blur1)"/>
<ellipse cx="283" cy="57.4" rx="5.2" ry="1.3" fill="#7d9cc8" filter="url(#blur1)"/>
<ellipse cx="283" cy="73.6" rx="5.2" ry="1.3" fill="#7894c4" filter="url(#blur1)"/>
<ellipse cx="283" cy="88.2" rx="5.2" ry="1.3" fill="#d47060" filter="url(#blur1)"/>
<ellipse cx="283" cy="95.9" rx="5.2" ry="1.3" fill="#4a78c8" filter="url(#blur1)"/>
<ellipse cx="283" cy="111.7" rx="5.2" ry="1.3" fill="#6f8cc4" filter="url(#blur1)"/>
<ellipse cx="283" cy="130.0" rx="5.2" ry="1.3" fill="#7d9cc8" filter="url(#blur1)"/>
<ellipse cx="283" cy="139.7" rx="5.2" ry="1.3" fill="#7d9cc8" filter="url(#blur1)"/>
<ellipse cx="283" cy="166.4" rx="5.2" ry="1.3" fill="#5f8ad0" filter="url(#blur1)"/>
<rect x="291" y="107.8" width="13.7" height="5.2" rx="1.5" fill="#7464d6" filter="url(#blur1)"/>
<rect x="292" y="135" width="12" height="5" fill="#aab4c8" opacity="0.6" filter="url(#blur2)"/>
<rect x="292" y="161.5" width="12" height="1.6" fill="#a8b2cc" filter="url(#blur1)"/>
<rect x="308.2" y="57.6" width="16.2" height="6.0" rx="2" fill="#3434d4" filter="url(#blur1)"/>
<rect x="309" y="63.5" width="14" height="9" fill="#9098d0" opacity="0.55" filter="url(#blur2)"/>
<rect x="310" y="78" width="12" height="4" fill="#a0a8cc" opacity="0.6" filter="url(#blur2)"/>
<text x="271.40" y="48.45" font-size="6.8" font-weight="bold" text-anchor="end" fill="#000">170</text>
<text x="271.40" y="58.45" font-size="6.8" font-weight="bold" text-anchor="end" fill="#000">130</text>
<text x="271.40" y="76.85" font-size="6.8" font-weight="bold" text-anchor="end" fill="#000">95</text>
<text x="271.40" y="88.55" font-size="6.8" font-weight="bold" text-anchor="end" fill="#000">72</text>
<text x="271.40" y="98.15" font-size="6.8" font-weight="bold" text-anchor="end" fill="#000">55</text>
<text x="271.40" y="117.05" font-size="6.8" font-weight="bold" text-anchor="end" fill="#000">43</text>
<text x="271.40" y="135.45" font-size="6.8" font-weight="bold" text-anchor="end" fill="#000">34</text>
<text x="271.40" y="144.65" font-size="6.8" font-weight="bold" text-anchor="end" fill="#000">26</text>
<text x="364.30" y="12.28" font-size="13" font-weight="bold" text-anchor="start" fill="#000">C</text>
<defs><filter id="noisea" x="0" y="0" width="100%" height="100%" filterUnits="objectBoundingBox" color-interpolation-filters="sRGB"><feTurbulence type="fractalNoise" baseFrequency="0.42" numOctaves="2" seed="3"/><feColorMatrix type="matrix" values="0.6 0.6 0.6 0 -0.36  0.6 0.6 0.6 0 -0.36  0.6 0.6 0.6 0 -0.36  0 0 0 0 1"/></filter><filter id="noiseb" x="0" y="0" width="100%" height="100%" filterUnits="objectBoundingBox" color-interpolation-filters="sRGB"><feTurbulence type="fractalNoise" baseFrequency="0.5" numOctaves="2" seed="9"/><feColorMatrix type="matrix" values="0.65 0.65 0.65 0 -0.44  0.65 0.65 0.65 0 -0.44  0.65 0.65 0.65 0 -0.44  0 0 0 0 1"/></filter></defs>
<text x="364.60" y="36.12" font-size="7.0" font-weight="bold" text-anchor="start" fill="#000">HPV-18 L1(VLP)</text>
<rect x="364.2" y="39.3" width="94.4" height="41.4" fill="#333"/>
<rect x="364.80" y="39.90" width="17.68" height="19.50" fill="#888" filter="url(#noisea)"/>
<circle cx="372.8" cy="48.6" r="3.3" fill="none" stroke="#dadada" stroke-width="1.2" opacity="0.85"/>
<circle cx="372.8" cy="48.6" r="1.6" fill="#555" opacity="0.8"/>
<rect x="383.68" y="39.90" width="17.68" height="19.50" fill="#888" filter="url(#noisea)"/>
<circle cx="392.8" cy="50.3" r="3.3" fill="none" stroke="#dadada" stroke-width="1.2" opacity="0.85"/>
<circle cx="392.8" cy="50.3" r="1.6" fill="#555" opacity="0.8"/>
<rect x="402.56" y="39.90" width="17.68" height="19.50" fill="#888" filter="url(#noisea)"/>
<circle cx="410.9" cy="48.6" r="3.3" fill="none" stroke="#dadada" stroke-width="1.2" opacity="0.85"/>
<circle cx="410.9" cy="48.6" r="1.6" fill="#555" opacity="0.8"/>
<rect x="421.44" y="39.90" width="17.68" height="19.50" fill="#888" filter="url(#noisea)"/>
<circle cx="430.1" cy="50.5" r="3.3" fill="none" stroke="#dadada" stroke-width="1.2" opacity="0.85"/>
<circle cx="430.1" cy="50.5" r="1.6" fill="#555" opacity="0.8"/>
<rect x="440.32" y="39.90" width="17.68" height="19.50" fill="#888" filter="url(#noisea)"/>
<circle cx="448.7" cy="50.5" r="3.3" fill="none" stroke="#dadada" stroke-width="1.2" opacity="0.85"/>
<circle cx="448.7" cy="50.5" r="1.6" fill="#555" opacity="0.8"/>
<rect x="364.80" y="60.60" width="17.68" height="19.50" fill="#888" filter="url(#noisea)"/>
<circle cx="374.7" cy="69.4" r="3.3" fill="none" stroke="#dadada" stroke-width="1.2" opacity="0.85"/>
<circle cx="374.7" cy="69.4" r="1.6" fill="#555" opacity="0.8"/>
<rect x="383.68" y="60.60" width="17.68" height="19.50" fill="#888" filter="url(#noisea)"/>
<circle cx="393.2" cy="70.3" r="3.3" fill="none" stroke="#dadada" stroke-width="1.2" opacity="0.85"/>
<circle cx="393.2" cy="70.3" r="1.6" fill="#555" opacity="0.8"/>
<rect x="402.56" y="60.60" width="17.68" height="19.50" fill="#888" filter="url(#noisea)"/>
<circle cx="411.7" cy="71.9" r="3.3" fill="none" stroke="#dadada" stroke-width="1.2" opacity="0.85"/>
<circle cx="411.7" cy="71.9" r="1.6" fill="#555" opacity="0.8"/>
<rect x="421.44" y="60.60" width="17.68" height="19.50" fill="#888" filter="url(#noisea)"/>
<circle cx="429.7" cy="69.0" r="3.3" fill="none" stroke="#dadada" stroke-width="1.2" opacity="0.85"/>
<circle cx="429.7" cy="69.0" r="1.6" fill="#555" opacity="0.8"/>
<rect x="440.32" y="60.60" width="17.68" height="19.50" fill="#888" filter="url(#noisea)"/>
<circle cx="451.1" cy="70.2" r="3.3" fill="none" stroke="#dadada" stroke-width="1.2" opacity="0.85"/>
<circle cx="451.1" cy="70.2" r="1.6" fill="#555" opacity="0.8"/>
<line x1="383.08" y1="39.30" x2="383.08" y2="80.70" stroke="#2a2a2a" stroke-width="0.9"/>
<line x1="401.96" y1="39.30" x2="401.96" y2="80.70" stroke="#2a2a2a" stroke-width="0.9"/>
<line x1="420.84" y1="39.30" x2="420.84" y2="80.70" stroke="#2a2a2a" stroke-width="0.9"/>
<line x1="439.72" y1="39.30" x2="439.72" y2="80.70" stroke="#2a2a2a" stroke-width="0.9"/>
<line x1="364.20" y1="60.00" x2="458.60" y2="60.00" stroke="#2a2a2a" stroke-width="0.9"/>
<rect x="364.20" y="39.30" width="94.40" height="41.40" fill="none" stroke="#2a2a2a" stroke-width="0.8"/>
<rect x="383.48" y="60.40" width="18.08" height="19.90" fill="none" stroke="#e41e1e" stroke-width="1.25"/>
<rect x="440.12" y="60.40" width="18.08" height="19.90" fill="none" stroke="#e41e1e" stroke-width="1.25"/>
<line x1="363.00" y1="88.70" x2="382.30" y2="88.70" stroke="#111" stroke-width="1.2"/>
<text x="363.00" y="96.92" font-size="7.0" font-weight="bold" text-anchor="start" fill="#000">100nm</text>
<text x="364.60" y="115.32" font-size="7.0" font-weight="bold" text-anchor="start" fill="#000">HPV-18 L1-GP96-Fusion</text>
<rect x="364.2" y="122.2" width="94.4" height="41.2" fill="#333"/>
<rect x="364.80" y="122.80" width="17.68" height="19.40" fill="#888" filter="url(#noiseb)"/>
<circle cx="372.0" cy="133.7" r="1.9" fill="#eee" opacity="0.85"/>
<circle cx="374.1" cy="129.7" r="1.9" fill="#eee" opacity="0.85"/>
<circle cx="374.7" cy="131.9" r="2.3" fill="#eee" opacity="0.85"/>
<rect x="383.68" y="122.80" width="17.68" height="19.40" fill="#888" filter="url(#noiseb)"/>
<circle cx="391.8" cy="133.5" r="1.5" fill="#eee" opacity="0.85"/>
<circle cx="391.8" cy="133.4" r="2.2" fill="#eee" opacity="0.85"/>
<circle cx="395.9" cy="134.5" r="1.6" fill="#eee" opacity="0.85"/>
<rect x="402.56" y="122.80" width="17.68" height="19.40" fill="#888" filter="url(#noiseb)"/>
<circle cx="413.1" cy="129.5" r="1.6" fill="#eee" opacity="0.85"/>
<circle cx="408.3" cy="129.2" r="1.4" fill="#eee" opacity="0.85"/>
<circle cx="410.0" cy="129.8" r="1.7" fill="#eee" opacity="0.85"/>
<rect x="421.44" y="122.80" width="17.68" height="19.40" fill="#888" filter="url(#noiseb)"/>
<circle cx="433.7" cy="132.8" r="2.0" fill="#eee" opacity="0.85"/>
<circle cx="432.5" cy="133.0" r="2.0" fill="#eee" opacity="0.85"/>
<circle cx="430.8" cy="130.7" r="1.6" fill="#eee" opacity="0.85"/>
<rect x="440.32" y="122.80" width="17.68" height="19.40" fill="#888" filter="url(#noiseb)"/>
<circle cx="449.1" cy="131.9" r="1.9" fill="#eee" opacity="0.85"/>
<circle cx="451.0" cy="133.8" r="2.1" fill="#eee" opacity="0.85"/>
<circle cx="447.4" cy="131.9" r="2.1" fill="#eee" opacity="0.85"/>
<rect x="364.80" y="143.40" width="17.68" height="19.40" fill="#888" filter="url(#noiseb)"/>
<circle cx="372.3" cy="151.1" r="1.4" fill="#eee" opacity="0.85"/>
<circle cx="370.4" cy="154.9" r="2.1" fill="#eee" opacity="0.85"/>
<circle cx="375.1" cy="152.6" r="2.4" fill="#eee" opacity="0.85"/>
<rect x="383.68" y="143.40" width="17.68" height="19.40" fill="#888" filter="url(#noiseb)"/>
<circle cx="394.3" cy="153.6" r="1.6" fill="#eee" opacity="0.85"/>
<circle cx="393.6" cy="154.7" r="1.6" fill="#eee" opacity="0.85"/>
<circle cx="396.0" cy="153.6" r="2.0" fill="#eee" opacity="0.85"/>
<rect x="402.56" y="143.40" width="17.68" height="19.40" fill="#888" filter="url(#noiseb)"/>
<circle cx="411.2" cy="152.4" r="1.4" fill="#eee" opacity="0.85"/>
<circle cx="410.6" cy="155.9" r="2.0" fill="#eee" opacity="0.85"/>
<circle cx="415.3" cy="155.0" r="1.7" fill="#eee" opacity="0.85"/>
<rect x="421.44" y="143.40" width="17.68" height="19.40" fill="#888" filter="url(#noiseb)"/>
<circle cx="432.1" cy="152.4" r="1.7" fill="#eee" opacity="0.85"/>
<circle cx="430.6" cy="153.8" r="1.5" fill="#eee" opacity="0.85"/>
<circle cx="433.3" cy="156.9" r="1.6" fill="#eee" opacity="0.85"/>
<rect x="440.32" y="143.40" width="17.68" height="19.40" fill="#888" filter="url(#noiseb)"/>
<circle cx="450.5" cy="155.5" r="1.8" fill="#eee" opacity="0.85"/>
<circle cx="452.2" cy="151.1" r="2.4" fill="#eee" opacity="0.85"/>
<circle cx="449.0" cy="151.0" r="2.3" fill="#eee" opacity="0.85"/>
<line x1="383.08" y1="122.20" x2="383.08" y2="163.40" stroke="#2a2a2a" stroke-width="0.9"/>
<line x1="401.96" y1="122.20" x2="401.96" y2="163.40" stroke="#2a2a2a" stroke-width="0.9"/>
<line x1="420.84" y1="122.20" x2="420.84" y2="163.40" stroke="#2a2a2a" stroke-width="0.9"/>
<line x1="439.72" y1="122.20" x2="439.72" y2="163.40" stroke="#2a2a2a" stroke-width="0.9"/>
<line x1="364.20" y1="142.80" x2="458.60" y2="142.80" stroke="#2a2a2a" stroke-width="0.9"/>
<rect x="364.20" y="122.20" width="94.40" height="41.20" fill="none" stroke="#2a2a2a" stroke-width="0.8"/>
<rect x="402.36" y="122.60" width="18.08" height="19.80" fill="none" stroke="#e41e1e" stroke-width="1.25"/>
<rect x="383.48" y="143.20" width="18.08" height="19.80" fill="none" stroke="#e41e1e" stroke-width="1.25"/>
<line x1="363.00" y1="168.70" x2="382.30" y2="168.70" stroke="#111" stroke-width="1.2"/>
<text x="363.00" y="177.22" font-size="7.0" font-weight="bold" text-anchor="start" fill="#000">20nm</text>
<text x="471.20" y="12.68" font-size="13" font-weight="bold" text-anchor="start" fill="#000">D</text>
<g fill="none" stroke="#111" stroke-width="1.15" stroke-linecap="round" stroke-linejoin="round"><path d="M479.8,45.6 C474.5,46.8 471,51.5 471.1,56.8 C471.3,62 474.6,65.4 479.2,66.1 L484.8,66.1"/><path d="M486.4,66.1 L494.2,66.1 C494.8,65.5 494.6,64.8 493.8,64.6 L490.4,64.3"/><path d="M475.8,62.6 C475.2,56.5 479,51.8 484,51.8 C486.6,51.8 488.6,52.6 489.8,53.4"/><path d="M489.6,53.6 L490.6,52.0 L491.8,53.8 C495.2,54.4 498.8,55.4 501.2,56.6 C501.9,57.5 501.3,58.6 499.5,59.4 C496.6,60.8 493.4,62.6 490.6,63.4"/><path d="M481.0,59.4 C482.2,60.2 482.6,61.6 481.6,63.0 C482.6,64.2 483.8,64.8 484.8,66.0"/><path d="M490.6,54.6 L490.9,56.3"/></g>
<circle cx="494.40" cy="56.30" r="0.6" fill="#111"/>
<g transform="translate(487.3,49.8) rotate(-45) scale(1.22)" fill="none" stroke="#111" stroke-width="1.0" stroke-linejoin="round"><line x1="0" y1="0" x2="3.6" y2="0" stroke-width="0.9"/><path d="M3.6,-0.6 L5.6,-1.9 L5.6,1.9 L3.6,0.6 Z" fill="#111"/><rect x="5.6" y="-1.9" width="9.2" height="3.8"/><line x1="7.6" y1="-1.9" x2="7.6" y2="0.2" stroke-width="0.6"/><line x1="9.6" y1="-1.9" x2="9.6" y2="0.2" stroke-width="0.6"/><line x1="11.6" y1="-1.9" x2="11.6" y2="0.2" stroke-width="0.6"/><line x1="14.8" y1="-2.8" x2="14.8" y2="2.8" stroke-width="1.0"/><line x1="14.8" y1="0" x2="17.2" y2="0" stroke-width="1.0"/><line x1="17.2" y1="-2.4" x2="17.2" y2="2.4" stroke-width="1.2"/></g>
<line x1="513.20" y1="62.00" x2="681.00" y2="62.00" stroke="#111" stroke-width="1.1"/>
<polygon points="680,59.6 685,62 680,64.4" fill="#111"/>
<line x1="513.20" y1="51.40" x2="513.20" y2="62.00" stroke="#777" stroke-width="0.9"/>
<line x1="567.80" y1="51.40" x2="567.80" y2="62.00" stroke="#777" stroke-width="0.9"/>
<line x1="626.50" y1="51.40" x2="626.50" y2="62.00" stroke="#777" stroke-width="0.9"/>
<line x1="657.00" y1="51.40" x2="657.00" y2="62.00" stroke="#777" stroke-width="0.9"/>
<line x1="513.20" y1="25.70" x2="513.20" y2="40.40" stroke="#ee1c1c" stroke-width="1.3"/>
<polygon points="511.0,39.4 515.4,39.4 513.2,43.4" fill="#ee1c1c"/>
<line x1="567.80" y1="25.70" x2="567.80" y2="40.40" stroke="#ee1c1c" stroke-width="1.3"/>
<polygon points="565.6,39.4 570.0,39.4 567.8,43.4" fill="#ee1c1c"/>
<line x1="626.50" y1="25.70" x2="626.50" y2="40.40" stroke="#ee1c1c" stroke-width="1.3"/>
<polygon points="624.3,39.4 628.7,39.4 626.5,43.4" fill="#ee1c1c"/>
<circle cx="567.80" cy="17.70" r="4.4" fill="#c00000"/>
<circle cx="626.50" cy="19.30" r="4.4" fill="#c00000"/>
<circle cx="657.00" cy="41.10" r="4.4" fill="#c00000"/>
<polygon points="657,23.2 661.6,31.0 652.4,31.0" fill="#18aee8"/>
<text x="513.20" y="75.65" font-size="6.8" font-weight="bold" text-anchor="start" fill="#000">d0</text>
<text x="567.80" y="75.65" font-size="6.8" font-weight="bold" text-anchor="middle" fill="#000">d14</text>
<text x="626.50" y="75.65" font-size="6.8" font-weight="bold" text-anchor="middle" fill="#000">d28</text>
<text x="657.50" y="75.65" font-size="6.8" font-weight="bold" text-anchor="middle" fill="#000">d40</text>
<rect x="510.50" y="99.30" width="132.70" height="69.00" fill="none" stroke="#555" stroke-width="0.8"/>
<line x1="524.50" y1="104.50" x2="524.50" y2="118.50" stroke="#ee1c1c" stroke-width="1.3"/>
<polygon points="522.3,117.5 526.7,117.5 524.5,121.5" fill="#ee1c1c"/>
<text x="538.50" y="117.84" font-size="7.9" font-weight="bold" text-anchor="start" fill="#000">Immunization</text>
<circle cx="525.00" cy="133.20" r="4.5" fill="#c00000"/>
<text x="538.50" y="137.24" font-size="7.9" font-weight="bold" text-anchor="start" fill="#000">Serum collection</text>
<polygon points="525,147.6 529.8,155.6 520.2,155.6" fill="#18aee8"/>
<text x="538.50" y="155.04" font-size="7.9" font-weight="bold" text-anchor="start" fill="#000">Spleen collection</text>
<text x="0.30" y="206.08" font-size="13" font-weight="bold" text-anchor="start" fill="#000">E</text>
<text x="155.80" y="209.42" font-size="7.0" font-weight="bold" text-anchor="middle" fill="#000">HPV 18 L1-specific IgG</text>
<text x="79.70" y="224.50" font-size="7" font-weight="bold" text-anchor="middle">1<tspan dy="-2.6" font-size="4.6">st</tspan></text>
<text x="79.70" y="233.82" font-size="7" font-weight="bold" text-anchor="middle" fill="#000">(day 14)</text>
<text x="143.00" y="224.50" font-size="7" font-weight="bold" text-anchor="middle">2<tspan dy="-2.6" font-size="4.6">nd</tspan></text>
<text x="143.00" y="233.82" font-size="7" font-weight="bold" text-anchor="middle" fill="#000">(day 28)</text>
<text x="227.50" y="224.50" font-size="7" font-weight="bold" text-anchor="middle">3<tspan dy="-2.6" font-size="4.6">rd</tspan></text>
<text x="227.50" y="233.82" font-size="7" font-weight="bold" text-anchor="middle" fill="#000">(day 40)</text>
<line x1="25.80" y1="280.20" x2="25.80" y2="396.20" stroke="#000" stroke-width="1.3"/>
<line x1="22.80" y1="280.20" x2="25.80" y2="280.20" stroke="#000" stroke-width="1.3"/>
<text x="21.50" y="282.65" font-size="6.8" font-weight="bold" text-anchor="end" fill="#000">10</text>
<line x1="22.80" y1="303.50" x2="25.80" y2="303.50" stroke="#000" stroke-width="1.3"/>
<text x="21.50" y="305.95" font-size="6.8" font-weight="bold" text-anchor="end" fill="#000">8</text>
<line x1="22.80" y1="326.90" x2="25.80" y2="326.90" stroke="#000" stroke-width="1.3"/>
<text x="21.50" y="329.35" font-size="6.8" font-weight="bold" text-anchor="end" fill="#000">6</text>
<line x1="22.80" y1="350.20" x2="25.80" y2="350.20" stroke="#000" stroke-width="1.3"/>
<text x="21.50" y="352.65" font-size="6.8" font-weight="bold" text-anchor="end" fill="#000">4</text>
<line x1="22.80" y1="373.30" x2="25.80" y2="373.30" stroke="#000" stroke-width="1.3"/>
<text x="21.50" y="375.75" font-size="6.8" font-weight="bold" text-anchor="end" fill="#000">2</text>
<line x1="22.80" y1="396.30" x2="25.80" y2="396.30" stroke="#000" stroke-width="1.3"/>
<text x="21.50" y="398.75" font-size="6.8" font-weight="bold" text-anchor="end" fill="#000">0</text>
<text x="7.80" y="343.09" font-size="7.2" font-weight="bold" text-anchor="middle" fill="#000" transform="rotate(-90 7.80 340.50)">Endpoint titer (Log10)</text>
<line x1="25.80" y1="396.30" x2="275.00" y2="396.30" stroke="#000" stroke-width="1.3"/>
<line x1="34.50" y1="396.30" x2="34.50" y2="399.30" stroke="#000" stroke-width="1.3"/>
<line x1="48.30" y1="396.30" x2="48.30" y2="399.30" stroke="#000" stroke-width="1.3"/>
<line x1="62.00" y1="396.30" x2="62.00" y2="399.30" stroke="#000" stroke-width="1.3"/>
<line x1="75.60" y1="396.30" x2="75.60" y2="399.30" stroke="#000" stroke-width="1.3"/>
<line x1="89.10" y1="396.30" x2="89.10" y2="399.30" stroke="#000" stroke-width="1.3"/>
<line x1="102.50" y1="396.30" x2="102.50" y2="399.30" stroke="#000" stroke-width="1.3"/>
<line x1="115.80" y1="396.30" x2="115.80" y2="399.30" stroke="#000" stroke-width="1.3"/>
<line x1="129.50" y1="396.30" x2="129.50" y2="399.30" stroke="#000" stroke-width="1.3"/>
<line x1="142.90" y1="396.30" x2="142.90" y2="399.30" stroke="#000" stroke-width="1.3"/>
<line x1="156.30" y1="396.30" x2="156.30" y2="399.30" stroke="#000" stroke-width="1.3"/>
<line x1="169.90" y1="396.30" x2="169.90" y2="399.30" stroke="#000" stroke-width="1.3"/>
<line x1="183.30" y1="396.30" x2="183.30" y2="399.30" stroke="#000" stroke-width="1.3"/>
<line x1="196.90" y1="396.30" x2="196.90" y2="399.30" stroke="#000" stroke-width="1.3"/>
<line x1="210.60" y1="396.30" x2="210.60" y2="399.30" stroke="#000" stroke-width="1.3"/>
<line x1="224.10" y1="396.30" x2="224.10" y2="399.30" stroke="#000" stroke-width="1.3"/>
<line x1="237.40" y1="396.30" x2="237.40" y2="399.30" stroke="#000" stroke-width="1.3"/>
<line x1="251.20" y1="396.30" x2="251.20" y2="399.30" stroke="#000" stroke-width="1.3"/>
<line x1="264.50" y1="396.30" x2="264.50" y2="399.30" stroke="#000" stroke-width="1.3"/>
<line x1="108.40" y1="278.00" x2="108.40" y2="396.00" stroke="#222" stroke-width="0.8" stroke-dasharray="1,1"/>
<line x1="189.70" y1="278.00" x2="189.70" y2="396.00" stroke="#222" stroke-width="0.8" stroke-dasharray="1,1"/>
<circle cx="32.92" cy="364.50" r="1.75" fill="#000000"/>
<circle cx="39.23" cy="364.50" r="1.75" fill="#000000"/>
<circle cx="29.77" cy="364.50" r="1.75" fill="#000000"/>
<circle cx="36.08" cy="364.50" r="1.75" fill="#000000"/>
<circle cx="32.84" cy="373.00" r="1.75" fill="#000000"/>
<circle cx="36.16" cy="373.00" r="1.75" fill="#000000"/>
<line x1="34.50" y1="364.80" x2="34.50" y2="373.00" stroke="#333" stroke-width="0.9"/>
<line x1="32.20" y1="364.80" x2="36.80" y2="364.80" stroke="#333" stroke-width="0.9"/>
<line x1="32.20" y1="373.00" x2="36.80" y2="373.00" stroke="#333" stroke-width="0.9"/>
<line x1="30.30" y1="366.50" x2="38.70" y2="366.50" stroke="#333" stroke-width="1.08"/>
<circle cx="46.64" cy="361.30" r="1.75" fill="#2ee6f2"/>
<circle cx="49.96" cy="361.30" r="1.75" fill="#2ee6f2"/>
<circle cx="49.88" cy="364.60" r="1.75" fill="#2ee6f2"/>
<circle cx="43.57" cy="364.60" r="1.75" fill="#2ee6f2"/>
<circle cx="46.72" cy="364.60" r="1.75" fill="#2ee6f2"/>
<circle cx="53.02" cy="364.60" r="1.75" fill="#2ee6f2"/>
<line x1="48.30" y1="362.20" x2="48.30" y2="364.90" stroke="#22d8e6" stroke-width="0.9"/>
<line x1="46.00" y1="362.20" x2="50.60" y2="362.20" stroke="#22d8e6" stroke-width="0.9"/>
<line x1="46.00" y1="364.90" x2="50.60" y2="364.90" stroke="#22d8e6" stroke-width="0.9"/>
<line x1="44.10" y1="363.50" x2="52.50" y2="363.50" stroke="#22d8e6" stroke-width="1.08"/>
<circle cx="60.34" cy="353.40" r="1.75" fill="#7f2aba"/>
<circle cx="63.66" cy="353.40" r="1.75" fill="#7f2aba"/>
<circle cx="60.34" cy="360.70" r="1.75" fill="#7f2aba"/>
<circle cx="63.66" cy="360.70" r="1.75" fill="#7f2aba"/>
<circle cx="60.34" cy="364.90" r="1.75" fill="#7f2aba"/>
<circle cx="63.66" cy="364.90" r="1.75" fill="#7f2aba"/>
<line x1="62.00" y1="354.50" x2="62.00" y2="364.50" stroke="#333" stroke-width="0.9"/>
<line x1="59.70" y1="354.50" x2="64.30" y2="354.50" stroke="#333" stroke-width="0.9"/>
<line x1="59.70" y1="364.50" x2="64.30" y2="364.50" stroke="#333" stroke-width="0.9"/>
<line x1="57.80" y1="359.50" x2="66.20" y2="359.50" stroke="#333" stroke-width="1.08"/>
<circle cx="75.60" cy="353.40" r="1.75" fill="#6a6a6a"/>
<circle cx="78.92" cy="353.40" r="1.75" fill="#6a6a6a"/>
<circle cx="72.27" cy="353.40" r="1.75" fill="#6a6a6a"/>
<circle cx="75.60" cy="361.30" r="1.75" fill="#6a6a6a"/>
<circle cx="73.94" cy="364.90" r="1.75" fill="#6a6a6a"/>
<circle cx="77.26" cy="364.90" r="1.75" fill="#6a6a6a"/>
<line x1="75.60" y1="353.50" x2="75.60" y2="362.00" stroke="#333" stroke-width="0.9"/>
<line x1="73.30" y1="353.50" x2="77.90" y2="353.50" stroke="#333" stroke-width="0.9"/>
<line x1="73.30" y1="362.00" x2="77.90" y2="362.00" stroke="#333" stroke-width="0.9"/>
<line x1="71.40" y1="357.50" x2="79.80" y2="357.50" stroke="#333" stroke-width="1.08"/>
<circle cx="89.10" cy="361.30" r="1.75" fill="#0c1ad0"/>
<circle cx="91.46" cy="364.60" r="1.75" fill="#0c1ad0"/>
<circle cx="86.74" cy="364.60" r="1.75" fill="#0c1ad0"/>
<circle cx="89.10" cy="364.60" r="1.75" fill="#0c1ad0"/>
<circle cx="93.82" cy="364.60" r="1.75" fill="#0c1ad0"/>
<circle cx="84.38" cy="364.60" r="1.75" fill="#0c1ad0"/>
<line x1="89.10" y1="362.80" x2="89.10" y2="364.80" stroke="#333" stroke-width="0.9"/>
<line x1="86.80" y1="362.80" x2="91.40" y2="362.80" stroke="#333" stroke-width="0.9"/>
<line x1="86.80" y1="364.80" x2="91.40" y2="364.80" stroke="#333" stroke-width="0.9"/>
<line x1="84.90" y1="364.00" x2="93.30" y2="364.00" stroke="#333" stroke-width="1.08"/>
<circle cx="102.50" cy="342.00" r="1.75" fill="#f01818"/>
<circle cx="102.50" cy="349.90" r="1.75" fill="#f01818"/>
<circle cx="102.50" cy="353.40" r="1.75" fill="#f01818"/>
<circle cx="102.50" cy="361.30" r="1.75" fill="#f01818"/>
<circle cx="100.84" cy="364.90" r="1.75" fill="#f01818"/>
<circle cx="104.16" cy="364.90" r="1.75" fill="#f01818"/>
<line x1="102.50" y1="346.50" x2="102.50" y2="365.50" stroke="#333" stroke-width="0.9"/>
<line x1="100.20" y1="346.50" x2="104.80" y2="346.50" stroke="#333" stroke-width="0.9"/>
<line x1="100.20" y1="365.50" x2="104.80" y2="365.50" stroke="#333" stroke-width="0.9"/>
<line x1="98.30" y1="356.50" x2="106.70" y2="356.50" stroke="#333" stroke-width="1.08"/>
<circle cx="114.22" cy="364.80" r="1.75" fill="#000000"/>
<circle cx="120.52" cy="364.80" r="1.75" fill="#000000"/>
<circle cx="111.08" cy="364.80" r="1.75" fill="#000000"/>
<circle cx="117.38" cy="364.80" r="1.75" fill="#000000"/>
<circle cx="114.14" cy="372.90" r="1.75" fill="#000000"/>
<circle cx="117.46" cy="372.90" r="1.75" fill="#000000"/>
<line x1="115.80" y1="364.80" x2="115.80" y2="372.50" stroke="#333" stroke-width="0.9"/>
<line x1="113.50" y1="364.80" x2="118.10" y2="364.80" stroke="#333" stroke-width="0.9"/>
<line x1="113.50" y1="372.50" x2="118.10" y2="372.50" stroke="#333" stroke-width="0.9"/>
<line x1="111.60" y1="366.80" x2="120.00" y2="366.80" stroke="#333" stroke-width="1.08"/>
<circle cx="127.84" cy="349.90" r="1.75" fill="#2ee6f2"/>
<circle cx="131.16" cy="349.90" r="1.75" fill="#2ee6f2"/>
<circle cx="127.92" cy="353.60" r="1.75" fill="#2ee6f2"/>
<circle cx="134.22" cy="353.60" r="1.75" fill="#2ee6f2"/>
<circle cx="124.78" cy="353.60" r="1.75" fill="#2ee6f2"/>
<circle cx="131.07" cy="353.60" r="1.75" fill="#2ee6f2"/>
<line x1="129.50" y1="351.00" x2="129.50" y2="353.80" stroke="#22d8e6" stroke-width="0.9"/>
<line x1="127.20" y1="351.00" x2="131.80" y2="351.00" stroke="#22d8e6" stroke-width="0.9"/>
<line x1="127.20" y1="353.80" x2="131.80" y2="353.80" stroke="#22d8e6" stroke-width="0.9"/>
<line x1="125.30" y1="352.50" x2="133.70" y2="352.50" stroke="#22d8e6" stroke-width="1.08"/>
<circle cx="142.90" cy="338.30" r="1.75" fill="#7f2aba"/>
<circle cx="141.33" cy="342.20" r="1.75" fill="#7f2aba"/>
<circle cx="147.62" cy="342.20" r="1.75" fill="#7f2aba"/>
<circle cx="138.18" cy="342.20" r="1.75" fill="#7f2aba"/>
<circle cx="144.47" cy="342.20" r="1.75" fill="#7f2aba"/>
<circle cx="142.90" cy="350.20" r="1.75" fill="#7f2aba"/>
<line x1="142.90" y1="338.80" x2="142.90" y2="346.50" stroke="#333" stroke-width="0.9"/>
<line x1="140.60" y1="338.80" x2="145.20" y2="338.80" stroke="#333" stroke-width="0.9"/>
<line x1="140.60" y1="346.50" x2="145.20" y2="346.50" stroke="#333" stroke-width="0.9"/>
<line x1="138.70" y1="342.20" x2="147.10" y2="342.20" stroke="#333" stroke-width="1.08"/>
<circle cx="156.30" cy="326.40" r="1.75" fill="#6a6a6a"/>
<circle cx="154.64" cy="329.90" r="1.75" fill="#6a6a6a"/>
<circle cx="157.96" cy="329.90" r="1.75" fill="#6a6a6a"/>
<circle cx="156.30" cy="338.30" r="1.75" fill="#6a6a6a"/>
<circle cx="154.64" cy="342.20" r="1.75" fill="#6a6a6a"/>
<circle cx="157.96" cy="342.20" r="1.75" fill="#6a6a6a"/>
<line x1="156.30" y1="327.50" x2="156.30" y2="342.00" stroke="#333" stroke-width="0.9"/>
<line x1="154.00" y1="327.50" x2="158.60" y2="327.50" stroke="#333" stroke-width="0.9"/>
<line x1="154.00" y1="342.00" x2="158.60" y2="342.00" stroke="#333" stroke-width="0.9"/>
<line x1="152.10" y1="335.00" x2="160.50" y2="335.00" stroke="#333" stroke-width="1.08"/>
<circle cx="169.90" cy="350.20" r="1.75" fill="#0c1ad0"/>
<circle cx="169.90" cy="353.60" r="1.75" fill="#0c1ad0"/>
<circle cx="174.62" cy="353.60" r="1.75" fill="#0c1ad0"/>
<circle cx="165.18" cy="353.60" r="1.75" fill="#0c1ad0"/>
<circle cx="172.26" cy="353.60" r="1.75" fill="#0c1ad0"/>
<circle cx="167.54" cy="353.60" r="1.75" fill="#0c1ad0"/>
<line x1="169.90" y1="352.20" x2="169.90" y2="354.00" stroke="#333" stroke-width="0.9"/>
<line x1="167.60" y1="352.20" x2="172.20" y2="352.20" stroke="#333" stroke-width="0.9"/>
<line x1="167.60" y1="354.00" x2="172.20" y2="354.00" stroke="#333" stroke-width="0.9"/>
<line x1="165.70" y1="353.20" x2="174.10" y2="353.20" stroke="#333" stroke-width="1.08"/>
<circle cx="183.30" cy="318.70" r="1.75" fill="#f01818"/>
<circle cx="183.30" cy="326.90" r="1.75" fill="#f01818"/>
<circle cx="184.96" cy="330.20" r="1.75" fill="#f01818"/>
<circle cx="181.64" cy="330.20" r="1.75" fill="#f01818"/>
<circle cx="183.30" cy="342.20" r="1.75" fill="#f01818"/>
<circle cx="183.30" cy="350.20" r="1.75" fill="#f01818"/>
<line x1="183.30" y1="322.00" x2="183.30" y2="344.40" stroke="#333" stroke-width="0.9"/>
<line x1="181.00" y1="322.00" x2="185.60" y2="322.00" stroke="#333" stroke-width="0.9"/>
<line x1="181.00" y1="344.40" x2="185.60" y2="344.40" stroke="#333" stroke-width="0.9"/>
<line x1="179.10" y1="333.30" x2="187.50" y2="333.30" stroke="#333" stroke-width="1.08"/>
<circle cx="196.90" cy="365.60" r="1.75" fill="#000000"/>
<circle cx="201.62" cy="365.60" r="1.75" fill="#000000"/>
<circle cx="192.18" cy="365.60" r="1.75" fill="#000000"/>
<circle cx="199.26" cy="365.60" r="1.75" fill="#000000"/>
<circle cx="194.54" cy="365.60" r="1.75" fill="#000000"/>
<circle cx="196.90" cy="373.10" r="1.75" fill="#000000"/>
<line x1="196.90" y1="365.60" x2="196.90" y2="368.50" stroke="#333" stroke-width="0.9"/>
<line x1="194.60" y1="365.60" x2="199.20" y2="365.60" stroke="#333" stroke-width="0.9"/>
<line x1="194.60" y1="368.50" x2="199.20" y2="368.50" stroke="#333" stroke-width="0.9"/>
<line x1="192.70" y1="366.80" x2="201.10" y2="366.80" stroke="#333" stroke-width="1.08"/>
<circle cx="208.94" cy="330.20" r="1.75" fill="#2ee6f2"/>
<circle cx="212.26" cy="330.20" r="1.75" fill="#2ee6f2"/>
<circle cx="210.60" cy="338.40" r="1.75" fill="#2ee6f2"/>
<circle cx="208.94" cy="342.30" r="1.75" fill="#2ee6f2"/>
<circle cx="212.26" cy="342.30" r="1.75" fill="#2ee6f2"/>
<circle cx="210.60" cy="350.30" r="1.75" fill="#2ee6f2"/>
<line x1="210.60" y1="331.40" x2="210.60" y2="346.30" stroke="#22d8e6" stroke-width="0.9"/>
<line x1="208.30" y1="331.40" x2="212.90" y2="331.40" stroke="#22d8e6" stroke-width="0.9"/>
<line x1="208.30" y1="346.30" x2="212.90" y2="346.30" stroke="#22d8e6" stroke-width="0.9"/>
<line x1="206.40" y1="338.90" x2="214.80" y2="338.90" stroke="#22d8e6" stroke-width="1.08"/>
<circle cx="222.44" cy="318.80" r="1.75" fill="#7f2aba"/>
<circle cx="225.76" cy="318.80" r="1.75" fill="#7f2aba"/>
<circle cx="224.10" cy="326.20" r="1.75" fill="#7f2aba"/>
<circle cx="224.10" cy="330.20" r="1.75" fill="#7f2aba"/>
<circle cx="227.42" cy="330.20" r="1.75" fill="#7f2aba"/>
<circle cx="220.78" cy="330.20" r="1.75" fill="#7f2aba"/>
<line x1="224.10" y1="321.00" x2="224.10" y2="330.00" stroke="#333" stroke-width="0.9"/>
<line x1="221.80" y1="321.00" x2="226.40" y2="321.00" stroke="#333" stroke-width="0.9"/>
<line x1="221.80" y1="330.00" x2="226.40" y2="330.00" stroke="#333" stroke-width="0.9"/>
<line x1="219.90" y1="325.90" x2="228.30" y2="325.90" stroke="#333" stroke-width="1.08"/>
<circle cx="237.40" cy="307.20" r="1.75" fill="#6a6a6a"/>
<circle cx="235.83" cy="317.00" r="1.75" fill="#6a6a6a"/>
<circle cx="242.12" cy="317.00" r="1.75" fill="#6a6a6a"/>
<circle cx="232.68" cy="317.00" r="1.75" fill="#6a6a6a"/>
<circle cx="238.97" cy="317.00" r="1.75" fill="#6a6a6a"/>
<circle cx="237.40" cy="327.00" r="1.75" fill="#6a6a6a"/>
<line x1="237.40" y1="310.60" x2="237.40" y2="322.50" stroke="#333" stroke-width="0.9"/>
<line x1="235.10" y1="310.60" x2="239.70" y2="310.60" stroke="#333" stroke-width="0.9"/>
<line x1="235.10" y1="322.50" x2="239.70" y2="322.50" stroke="#333" stroke-width="0.9"/>
<line x1="233.20" y1="317.00" x2="241.60" y2="317.00" stroke="#333" stroke-width="1.08"/>
<circle cx="249.54" cy="330.20" r="1.75" fill="#0c1ad0"/>
<circle cx="252.86" cy="330.20" r="1.75" fill="#0c1ad0"/>
<circle cx="251.20" cy="342.30" r="1.75" fill="#0c1ad0"/>
<circle cx="254.52" cy="342.30" r="1.75" fill="#0c1ad0"/>
<circle cx="247.88" cy="342.30" r="1.75" fill="#0c1ad0"/>
<circle cx="251.20" cy="350.30" r="1.75" fill="#0c1ad0"/>
<line x1="251.20" y1="332.50" x2="251.20" y2="347.30" stroke="#333" stroke-width="0.9"/>
<line x1="248.90" y1="332.50" x2="253.50" y2="332.50" stroke="#333" stroke-width="0.9"/>
<line x1="248.90" y1="347.30" x2="253.50" y2="347.30" stroke="#333" stroke-width="0.9"/>
<line x1="247.00" y1="339.30" x2="255.40" y2="339.30" stroke="#333" stroke-width="1.08"/>
<circle cx="264.50" cy="303.60" r="1.75" fill="#f01818"/>
<circle cx="264.50" cy="307.20" r="1.75" fill="#f01818"/>
<circle cx="262.84" cy="315.50" r="1.75" fill="#f01818"/>
<circle cx="266.16" cy="315.50" r="1.75" fill="#f01818"/>
<circle cx="262.84" cy="327.00" r="1.75" fill="#f01818"/>
<circle cx="266.16" cy="327.00" r="1.75" fill="#f01818"/>
<line x1="264.50" y1="306.20" x2="264.50" y2="325.50" stroke="#333" stroke-width="0.9"/>
<line x1="262.20" y1="306.20" x2="266.80" y2="306.20" stroke="#333" stroke-width="0.9"/>
<line x1="262.20" y1="325.50" x2="266.80" y2="325.50" stroke="#333" stroke-width="0.9"/>
<line x1="260.30" y1="315.80" x2="268.70" y2="315.80" stroke="#333" stroke-width="1.08"/>
<polyline points="34.50,304.60 34.50,301.10 102.50,301.10 102.50,304.60" fill="none" stroke="#111" stroke-width="0.9"/>
<path d="M68.50,293.47L68.50,297.33M70.17,294.43L66.83,296.37M70.17,296.37L66.83,294.43" stroke="#000" stroke-width="1.05" stroke-linecap="round"/>
<circle cx="68.50" cy="295.40" r="0.80" fill="#000"/>
<polyline points="34.50,314.50 34.50,311.00 89.10,311.00 89.10,314.50" fill="none" stroke="#111" stroke-width="0.9"/>
<text x="61.80" y="306.38" font-size="6.6" font-weight="normal" text-anchor="middle" fill="#000">ns</text>
<polyline points="34.50,323.00 34.50,319.50 75.60,319.50 75.60,323.00" fill="none" stroke="#111" stroke-width="0.9"/>
<path d="M55.05,311.87L55.05,315.73M56.72,312.83L53.38,314.77M56.72,314.77L53.38,312.83" stroke="#000" stroke-width="1.05" stroke-linecap="round"/>
<circle cx="55.05" cy="313.80" r="0.80" fill="#000"/>
<polyline points="34.50,331.30 34.50,327.80 62.00,327.80 62.00,331.30" fill="none" stroke="#111" stroke-width="0.9"/>
<path d="M48.25,320.17L48.25,324.03M49.92,321.13L46.58,323.07M49.92,323.07L46.58,321.13" stroke="#000" stroke-width="1.05" stroke-linecap="round"/>
<circle cx="48.25" cy="322.10" r="0.80" fill="#000"/>
<polyline points="89.10,332.60 89.10,329.10 102.50,329.10 102.50,332.60" fill="none" stroke="#111" stroke-width="0.9"/>
<text x="95.80" y="324.48" font-size="6.6" font-weight="normal" text-anchor="middle" fill="#000">ns</text>
<polyline points="51.30,340.50 51.30,337.00 102.50,337.00 102.50,340.50" fill="none" stroke="#111" stroke-width="0.9"/>
<text x="77.30" y="332.38" font-size="6.6" font-weight="normal" text-anchor="middle" fill="#000">ns</text>
<polyline points="34.50,352.10 34.50,348.60 48.30,348.60 48.30,352.10" fill="none" stroke="#111" stroke-width="0.9"/>
<text x="41.40" y="343.98" font-size="6.6" font-weight="normal" text-anchor="middle" fill="#000">ns</text>
<polyline points="115.80,270.20 115.80,266.70 183.30,266.70 183.30,270.20" fill="none" stroke="#111" stroke-width="0.9"/>
<path d="M141.75,259.07L141.75,262.93M143.42,260.03L140.08,261.97M143.42,261.97L140.08,260.03" stroke="#000" stroke-width="1.05" stroke-linecap="round"/>
<circle cx="141.75" cy="261.00" r="0.80" fill="#000"/>
<path d="M146.95,259.07L146.95,262.93M148.62,260.03L145.28,261.97M148.62,261.97L145.28,260.03" stroke="#000" stroke-width="1.05" stroke-linecap="round"/>
<circle cx="146.95" cy="261.00" r="0.80" fill="#000"/>
<path d="M152.15,259.07L152.15,262.93M153.82,260.03L150.48,261.97M153.82,261.97L150.48,260.03" stroke="#000" stroke-width="1.05" stroke-linecap="round"/>
<circle cx="152.15" cy="261.00" r="0.80" fill="#000"/>
<path d="M157.35,259.07L157.35,262.93M159.02,260.03L155.68,261.97M159.02,261.97L155.68,260.03" stroke="#000" stroke-width="1.05" stroke-linecap="round"/>
<circle cx="157.35" cy="261.00" r="0.80" fill="#000"/>
<polyline points="125.30,279.60 125.30,276.10 183.30,276.10 183.30,279.60" fill="none" stroke="#111" stroke-width="0.9"/>
<path d="M152.20,268.47L152.20,272.33M153.87,269.43L150.53,271.37M153.87,271.37L150.53,269.43" stroke="#000" stroke-width="1.05" stroke-linecap="round"/>
<circle cx="152.20" cy="270.40" r="0.80" fill="#000"/>
<path d="M157.40,268.47L157.40,272.33M159.07,269.43L155.73,271.37M159.07,271.37L155.73,269.43" stroke="#000" stroke-width="1.05" stroke-linecap="round"/>
<circle cx="157.40" cy="270.40" r="0.80" fill="#000"/>
<polyline points="139.50,289.50 139.50,286.00 183.30,286.00 183.30,289.50" fill="none" stroke="#111" stroke-width="0.9"/>
<text x="161.40" y="281.38" font-size="6.6" font-weight="normal" text-anchor="middle" fill="#000">ns</text>
<polyline points="115.80,300.70 115.80,297.20 156.30,297.20 156.30,300.70" fill="none" stroke="#111" stroke-width="0.9"/>
<path d="M128.40,289.57L128.40,293.43M130.07,290.53L126.73,292.47M130.07,292.47L126.73,290.53" stroke="#000" stroke-width="1.05" stroke-linecap="round"/>
<circle cx="128.40" cy="291.50" r="0.80" fill="#000"/>
<path d="M133.60,289.57L133.60,293.43M135.27,290.53L131.93,292.47M135.27,292.47L131.93,290.53" stroke="#000" stroke-width="1.05" stroke-linecap="round"/>
<circle cx="133.60" cy="291.50" r="0.80" fill="#000"/>
<path d="M138.80,289.57L138.80,293.43M140.47,290.53L137.13,292.47M140.47,292.47L137.13,290.53" stroke="#000" stroke-width="1.05" stroke-linecap="round"/>
<circle cx="138.80" cy="291.50" r="0.80" fill="#000"/>
<path d="M144.00,289.57L144.00,293.43M145.67,290.53L142.33,292.47M145.67,292.47L142.33,290.53" stroke="#000" stroke-width="1.05" stroke-linecap="round"/>
<circle cx="144.00" cy="291.50" r="0.80" fill="#000"/>
<polyline points="157.80,300.20 157.80,296.70 183.30,296.70 183.30,300.20" fill="none" stroke="#111" stroke-width="0.9"/>
<text x="170.80" y="292.08" font-size="6.6" font-weight="normal" text-anchor="middle" fill="#000">ns</text>
<polyline points="115.80,310.30 115.80,306.80 169.90,306.80 169.90,310.30" fill="none" stroke="#111" stroke-width="0.9"/>
<path d="M135.50,299.17L135.50,303.03M137.17,300.13L133.83,302.07M137.17,302.07L133.83,300.13" stroke="#000" stroke-width="1.05" stroke-linecap="round"/>
<circle cx="135.50" cy="301.10" r="0.80" fill="#000"/>
<path d="M140.70,299.17L140.70,303.03M142.37,300.13L139.03,302.07M142.37,302.07L139.03,300.13" stroke="#000" stroke-width="1.05" stroke-linecap="round"/>
<circle cx="140.70" cy="301.10" r="0.80" fill="#000"/>
<path d="M145.90,299.17L145.90,303.03M147.57,300.13L144.23,302.07M147.57,302.07L144.23,300.13" stroke="#000" stroke-width="1.05" stroke-linecap="round"/>
<circle cx="145.90" cy="301.10" r="0.80" fill="#000"/>
<path d="M151.10,299.17L151.10,303.03M152.77,300.13L149.43,302.07M152.77,302.07L149.43,300.13" stroke="#000" stroke-width="1.05" stroke-linecap="round"/>
<circle cx="151.10" cy="301.10" r="0.80" fill="#000"/>
<polyline points="169.90,310.30 169.90,306.80 183.30,306.80 183.30,310.30" fill="none" stroke="#111" stroke-width="0.9"/>
<path d="M174.90,299.17L174.90,303.03M176.57,300.13L173.23,302.07M176.57,302.07L173.23,300.13" stroke="#000" stroke-width="1.05" stroke-linecap="round"/>
<circle cx="174.90" cy="301.10" r="0.80" fill="#000"/>
<path d="M180.10,299.17L180.10,303.03M181.77,300.13L178.43,302.07M181.77,302.07L178.43,300.13" stroke="#000" stroke-width="1.05" stroke-linecap="round"/>
<circle cx="180.10" cy="301.10" r="0.80" fill="#000"/>
<polyline points="115.80,323.00 115.80,319.50 142.90,319.50 142.90,323.00" fill="none" stroke="#111" stroke-width="0.9"/>
<path d="M121.55,311.87L121.55,315.73M123.22,312.83L119.88,314.77M123.22,314.77L119.88,312.83" stroke="#000" stroke-width="1.05" stroke-linecap="round"/>
<circle cx="121.55" cy="313.80" r="0.80" fill="#000"/>
<path d="M126.75,311.87L126.75,315.73M128.42,312.83L125.08,314.77M128.42,314.77L125.08,312.83" stroke="#000" stroke-width="1.05" stroke-linecap="round"/>
<circle cx="126.75" cy="313.80" r="0.80" fill="#000"/>
<path d="M131.95,311.87L131.95,315.73M133.62,312.83L130.28,314.77M133.62,314.77L130.28,312.83" stroke="#000" stroke-width="1.05" stroke-linecap="round"/>
<circle cx="131.95" cy="313.80" r="0.80" fill="#000"/>
<path d="M137.15,311.87L137.15,315.73M138.82,312.83L135.48,314.77M138.82,314.77L135.48,312.83" stroke="#000" stroke-width="1.05" stroke-linecap="round"/>
<circle cx="137.15" cy="313.80" r="0.80" fill="#000"/>
<polyline points="144.10,323.00 144.10,319.50 156.30,319.50 156.30,323.00" fill="none" stroke="#111" stroke-width="0.9"/>
<path d="M150.20,311.87L150.20,315.73M151.87,312.83L148.53,314.77M151.87,314.77L148.53,312.83" stroke="#000" stroke-width="1.05" stroke-linecap="round"/>
<circle cx="150.20" cy="313.80" r="0.80" fill="#000"/>
<polyline points="160.80,323.00 160.80,319.50 172.60,319.50 172.60,323.00" fill="none" stroke="#111" stroke-width="0.9"/>
<path d="M158.90,311.87L158.90,315.73M160.57,312.83L157.23,314.77M160.57,314.77L157.23,312.83" stroke="#000" stroke-width="1.05" stroke-linecap="round"/>
<circle cx="158.90" cy="313.80" r="0.80" fill="#000"/>
<path d="M164.10,311.87L164.10,315.73M165.77,312.83L162.43,314.77M165.77,314.77L162.43,312.83" stroke="#000" stroke-width="1.05" stroke-linecap="round"/>
<circle cx="164.10" cy="313.80" r="0.80" fill="#000"/>
<path d="M169.30,311.87L169.30,315.73M170.97,312.83L167.63,314.77M170.97,314.77L167.63,312.83" stroke="#000" stroke-width="1.05" stroke-linecap="round"/>
<circle cx="169.30" cy="313.80" r="0.80" fill="#000"/>
<path d="M174.50,311.87L174.50,315.73M176.17,312.83L172.83,314.77M176.17,314.77L172.83,312.83" stroke="#000" stroke-width="1.05" stroke-linecap="round"/>
<circle cx="174.50" cy="313.80" r="0.80" fill="#000"/>
<polyline points="129.50,334.80 129.50,331.30 142.90,331.30 142.90,334.80" fill="none" stroke="#111" stroke-width="0.9"/>
<path d="M131.00,323.67L131.00,327.53M132.67,324.63L129.33,326.57M132.67,326.57L129.33,324.63" stroke="#000" stroke-width="1.05" stroke-linecap="round"/>
<circle cx="131.00" cy="325.60" r="0.80" fill="#000"/>
<path d="M136.20,323.67L136.20,327.53M137.87,324.63L134.53,326.57M137.87,326.57L134.53,324.63" stroke="#000" stroke-width="1.05" stroke-linecap="round"/>
<circle cx="136.20" cy="325.60" r="0.80" fill="#000"/>
<path d="M141.40,323.67L141.40,327.53M143.07,324.63L139.73,326.57M143.07,326.57L139.73,324.63" stroke="#000" stroke-width="1.05" stroke-linecap="round"/>
<circle cx="141.40" cy="325.60" r="0.80" fill="#000"/>
<polyline points="115.80,346.00 115.80,342.50 129.50,342.50 129.50,346.00" fill="none" stroke="#111" stroke-width="0.9"/>
<path d="M114.85,334.87L114.85,338.73M116.52,335.83L113.18,337.77M116.52,337.77L113.18,335.83" stroke="#000" stroke-width="1.05" stroke-linecap="round"/>
<circle cx="114.85" cy="336.80" r="0.80" fill="#000"/>
<path d="M120.05,334.87L120.05,338.73M121.72,335.83L118.38,337.77M121.72,337.77L118.38,335.83" stroke="#000" stroke-width="1.05" stroke-linecap="round"/>
<circle cx="120.05" cy="336.80" r="0.80" fill="#000"/>
<path d="M125.25,334.87L125.25,338.73M126.92,335.83L123.58,337.77M126.92,337.77L123.58,335.83" stroke="#000" stroke-width="1.05" stroke-linecap="round"/>
<circle cx="125.25" cy="336.80" r="0.80" fill="#000"/>
<path d="M130.45,334.87L130.45,338.73M132.12,335.83L128.78,337.77M132.12,337.77L128.78,335.83" stroke="#000" stroke-width="1.05" stroke-linecap="round"/>
<circle cx="130.45" cy="336.80" r="0.80" fill="#000"/>
<polyline points="196.90,253.20 196.90,249.70 264.50,249.70 264.50,253.20" fill="none" stroke="#111" stroke-width="0.9"/>
<path d="M222.90,242.07L222.90,245.93M224.57,243.03L221.23,244.97M224.57,244.97L221.23,243.03" stroke="#000" stroke-width="1.05" stroke-linecap="round"/>
<circle cx="222.90" cy="244.00" r="0.80" fill="#000"/>
<path d="M228.10,242.07L228.10,245.93M229.77,243.03L226.43,244.97M229.77,244.97L226.43,243.03" stroke="#000" stroke-width="1.05" stroke-linecap="round"/>
<circle cx="228.10" cy="244.00" r="0.80" fill="#000"/>
<path d="M233.30,242.07L233.30,245.93M234.97,243.03L231.63,244.97M234.97,244.97L231.63,243.03" stroke="#000" stroke-width="1.05" stroke-linecap="round"/>
<circle cx="233.30" cy="244.00" r="0.80" fill="#000"/>
<path d="M238.50,242.07L238.50,245.93M240.17,243.03L236.83,244.97M240.17,244.97L236.83,243.03" stroke="#000" stroke-width="1.05" stroke-linecap="round"/>
<circle cx="238.50" cy="244.00" r="0.80" fill="#000"/>
<polyline points="205.80,262.40 205.80,258.90 264.50,258.90 264.50,262.40" fill="none" stroke="#111" stroke-width="0.9"/>
<path d="M232.20,251.27L232.20,255.13M233.87,252.23L230.53,254.17M233.87,254.17L230.53,252.23" stroke="#000" stroke-width="1.05" stroke-linecap="round"/>
<circle cx="232.20" cy="253.20" r="0.80" fill="#000"/>
<path d="M237.40,251.27L237.40,255.13M239.07,252.23L235.73,254.17M239.07,254.17L235.73,252.23" stroke="#000" stroke-width="1.05" stroke-linecap="round"/>
<circle cx="237.40" cy="253.20" r="0.80" fill="#000"/>
<polyline points="219.50,271.70 219.50,268.20 264.50,268.20 264.50,271.70" fill="none" stroke="#111" stroke-width="0.9"/>
<text x="241.80" y="263.58" font-size="6.6" font-weight="normal" text-anchor="middle" fill="#000">ns</text>
<polyline points="196.90,282.50 196.90,279.00 237.40,279.00 237.40,282.50" fill="none" stroke="#111" stroke-width="0.9"/>
<path d="M208.70,271.37L208.70,275.23M210.37,272.33L207.03,274.27M210.37,274.27L207.03,272.33" stroke="#000" stroke-width="1.05" stroke-linecap="round"/>
<circle cx="208.70" cy="273.30" r="0.80" fill="#000"/>
<path d="M213.90,271.37L213.90,275.23M215.57,272.33L212.23,274.27M215.57,274.27L212.23,272.33" stroke="#000" stroke-width="1.05" stroke-linecap="round"/>
<circle cx="213.90" cy="273.30" r="0.80" fill="#000"/>
<path d="M219.10,271.37L219.10,275.23M220.77,272.33L217.43,274.27M220.77,274.27L217.43,272.33" stroke="#000" stroke-width="1.05" stroke-linecap="round"/>
<circle cx="219.10" cy="273.30" r="0.80" fill="#000"/>
<path d="M224.30,271.37L224.30,275.23M225.97,272.33L222.63,274.27M225.97,274.27L222.63,272.33" stroke="#000" stroke-width="1.05" stroke-linecap="round"/>
<circle cx="224.30" cy="273.30" r="0.80" fill="#000"/>
<polyline points="238.40,282.50 238.40,279.00 264.50,279.00 264.50,282.50" fill="none" stroke="#111" stroke-width="0.9"/>
<text x="251.50" y="274.38" font-size="6.6" font-weight="normal" text-anchor="middle" fill="#000">ns</text>
<polyline points="196.90,291.80 196.90,288.30 251.20,288.30 251.20,291.80" fill="none" stroke="#111" stroke-width="0.9"/>
<path d="M215.60,280.67L215.60,284.53M217.27,281.63L213.93,283.57M217.27,283.57L213.93,281.63" stroke="#000" stroke-width="1.05" stroke-linecap="round"/>
<circle cx="215.60" cy="282.60" r="0.80" fill="#000"/>
<path d="M220.80,280.67L220.80,284.53M222.47,281.63L219.13,283.57M222.47,283.57L219.13,281.63" stroke="#000" stroke-width="1.05" stroke-linecap="round"/>
<circle cx="220.80" cy="282.60" r="0.80" fill="#000"/>
<path d="M226.00,280.67L226.00,284.53M227.67,281.63L224.33,283.57M227.67,283.57L224.33,281.63" stroke="#000" stroke-width="1.05" stroke-linecap="round"/>
<circle cx="226.00" cy="282.60" r="0.80" fill="#000"/>
<path d="M231.20,280.67L231.20,284.53M232.87,281.63L229.53,283.57M232.87,283.57L229.53,281.63" stroke="#000" stroke-width="1.05" stroke-linecap="round"/>
<circle cx="231.20" cy="282.60" r="0.80" fill="#000"/>
<polyline points="251.90,294.00 251.90,290.50 264.50,290.50 264.50,294.00" fill="none" stroke="#111" stroke-width="0.9"/>
<path d="M252.70,282.87L252.70,286.73M254.37,283.83L251.03,285.77M254.37,285.77L251.03,283.83" stroke="#000" stroke-width="1.05" stroke-linecap="round"/>
<circle cx="252.70" cy="284.80" r="0.80" fill="#000"/>
<path d="M257.90,282.87L257.90,286.73M259.57,283.83L256.23,285.77M259.57,285.77L256.23,283.83" stroke="#000" stroke-width="1.05" stroke-linecap="round"/>
<circle cx="257.90" cy="284.80" r="0.80" fill="#000"/>
<path d="M263.10,282.87L263.10,286.73M264.77,283.83L261.43,285.77M264.77,285.77L261.43,283.83" stroke="#000" stroke-width="1.05" stroke-linecap="round"/>
<circle cx="263.10" cy="284.80" r="0.80" fill="#000"/>
<polyline points="196.90,305.90 196.90,302.40 224.10,302.40 224.10,305.90" fill="none" stroke="#111" stroke-width="0.9"/>
<path d="M202.70,294.77L202.70,298.63M204.37,295.73L201.03,297.67M204.37,297.67L201.03,295.73" stroke="#000" stroke-width="1.05" stroke-linecap="round"/>
<circle cx="202.70" cy="296.70" r="0.80" fill="#000"/>
<path d="M207.90,294.77L207.90,298.63M209.57,295.73L206.23,297.67M209.57,297.67L206.23,295.73" stroke="#000" stroke-width="1.05" stroke-linecap="round"/>
<circle cx="207.90" cy="296.70" r="0.80" fill="#000"/>
<path d="M213.10,294.77L213.10,298.63M214.77,295.73L211.43,297.67M214.77,297.67L211.43,295.73" stroke="#000" stroke-width="1.05" stroke-linecap="round"/>
<circle cx="213.10" cy="296.70" r="0.80" fill="#000"/>
<path d="M218.30,294.77L218.30,298.63M219.97,295.73L216.63,297.67M219.97,297.67L216.63,295.73" stroke="#000" stroke-width="1.05" stroke-linecap="round"/>
<circle cx="218.30" cy="296.70" r="0.80" fill="#000"/>
<polyline points="225.40,305.90 225.40,302.40 237.40,302.40 237.40,305.90" fill="none" stroke="#111" stroke-width="0.9"/>
<path d="M231.40,294.77L231.40,298.63M233.07,295.73L229.73,297.67M233.07,297.67L229.73,295.73" stroke="#000" stroke-width="1.05" stroke-linecap="round"/>
<circle cx="231.40" cy="296.70" r="0.80" fill="#000"/>
<polyline points="239.30,305.90 239.30,302.40 251.20,302.40 251.20,305.90" fill="none" stroke="#111" stroke-width="0.9"/>
<path d="M240.05,294.77L240.05,298.63M241.72,295.73L238.38,297.67M241.72,297.67L238.38,295.73" stroke="#000" stroke-width="1.05" stroke-linecap="round"/>
<circle cx="240.05" cy="296.70" r="0.80" fill="#000"/>
<path d="M245.25,294.77L245.25,298.63M246.92,295.73L243.58,297.67M246.92,297.67L243.58,295.73" stroke="#000" stroke-width="1.05" stroke-linecap="round"/>
<circle cx="245.25" cy="296.70" r="0.80" fill="#000"/>
<path d="M250.45,294.77L250.45,298.63M252.12,295.73L248.78,297.67M252.12,297.67L248.78,295.73" stroke="#000" stroke-width="1.05" stroke-linecap="round"/>
<circle cx="250.45" cy="296.70" r="0.80" fill="#000"/>
<polyline points="210.60,316.60 210.60,313.10 224.10,313.10 224.10,316.60" fill="none" stroke="#111" stroke-width="0.9"/>
<path d="M214.75,305.47L214.75,309.33M216.42,306.43L213.08,308.37M216.42,308.37L213.08,306.43" stroke="#000" stroke-width="1.05" stroke-linecap="round"/>
<circle cx="214.75" cy="307.40" r="0.80" fill="#000"/>
<path d="M219.95,305.47L219.95,309.33M221.62,306.43L218.28,308.37M221.62,308.37L218.28,306.43" stroke="#000" stroke-width="1.05" stroke-linecap="round"/>
<circle cx="219.95" cy="307.40" r="0.80" fill="#000"/>
<polyline points="196.90,329.00 196.90,325.50 210.60,325.50 210.60,329.00" fill="none" stroke="#111" stroke-width="0.9"/>
<path d="M195.95,317.87L195.95,321.73M197.62,318.83L194.28,320.77M197.62,320.77L194.28,318.83" stroke="#000" stroke-width="1.05" stroke-linecap="round"/>
<circle cx="195.95" cy="319.80" r="0.80" fill="#000"/>
<path d="M201.15,317.87L201.15,321.73M202.82,318.83L199.48,320.77M202.82,320.77L199.48,318.83" stroke="#000" stroke-width="1.05" stroke-linecap="round"/>
<circle cx="201.15" cy="319.80" r="0.80" fill="#000"/>
<path d="M206.35,317.87L206.35,321.73M208.02,318.83L204.68,320.77M208.02,320.77L204.68,318.83" stroke="#000" stroke-width="1.05" stroke-linecap="round"/>
<circle cx="206.35" cy="319.80" r="0.80" fill="#000"/>
<path d="M211.55,317.87L211.55,321.73M213.22,318.83L209.88,320.77M213.22,320.77L209.88,318.83" stroke="#000" stroke-width="1.05" stroke-linecap="round"/>
<circle cx="211.55" cy="319.80" r="0.80" fill="#000"/>
<circle cx="279.40" cy="347.40" r="2.4" fill="#000000"/>
<text x="283.70" y="349.99" font-size="7.2" font-weight="bold" text-anchor="start" fill="#000">PBS</text>
<circle cx="279.40" cy="356.20" r="2.4" fill="#1ee8f5"/>
<text x="283.70" y="358.79" font-size="7.2" font-weight="bold" text-anchor="start" fill="#000">L1+AS04C</text>
<circle cx="279.40" cy="364.80" r="2.4" fill="#8a1fe0"/>
<text x="283.70" y="367.39" font-size="7.2" font-weight="bold" text-anchor="start" fill="#000">L1+AS04D</text>
<circle cx="279.40" cy="373.30" r="2.4" fill="#6e6e6e"/>
<text x="283.70" y="375.89" font-size="7.2" font-weight="bold" text-anchor="start" fill="#000">L1+MF59</text>
<circle cx="279.40" cy="381.70" r="2.4" fill="#0a12e8"/>
<text x="283.70" y="384.29" font-size="7.2" font-weight="bold" text-anchor="start" fill="#000">L1+GP96</text>
<circle cx="279.40" cy="390.10" r="2.4" fill="#ff1010"/>
<text x="283.70" y="392.69" font-size="7.2" font-weight="bold" text-anchor="start" fill="#000">L1-GP96-Fusion</text>
<text x="343.80" y="205.68" font-size="13" font-weight="bold" text-anchor="start" fill="#000">F</text>
<text x="502.60" y="209.12" font-size="7.0" font-weight="bold" text-anchor="middle" fill="#000">HPV 18 L1 antibody</text>
<text x="424.80" y="221.50" font-size="7" font-weight="bold" text-anchor="middle">1<tspan dy="-2.6" font-size="4.6">st</tspan></text>
<text x="424.80" y="230.82" font-size="7" font-weight="bold" text-anchor="middle" fill="#000">(day 14)</text>
<text x="486.00" y="221.50" font-size="7" font-weight="bold" text-anchor="middle">2<tspan dy="-2.6" font-size="4.6">nd</tspan></text>
<text x="486.00" y="230.82" font-size="7" font-weight="bold" text-anchor="middle" fill="#000">(day 28)</text>
<text x="571.00" y="222.00" font-size="7" font-weight="bold" text-anchor="middle">3<tspan dy="-2.6" font-size="4.6">rd</tspan></text>
<text x="571.00" y="231.32" font-size="7" font-weight="bold" text-anchor="middle" fill="#000">(day 40)</text>
<line x1="371.70" y1="280.90" x2="371.70" y2="397.30" stroke="#000" stroke-width="1.3"/>
<line x1="368.70" y1="280.90" x2="371.70" y2="280.90" stroke="#000" stroke-width="1.3"/>
<text x="367.50" y="283.35" font-size="6.8" font-weight="bold" text-anchor="end" fill="#000">6</text>
<line x1="368.70" y1="314.10" x2="371.70" y2="314.10" stroke="#000" stroke-width="1.3"/>
<text x="367.50" y="316.55" font-size="6.8" font-weight="bold" text-anchor="end" fill="#000">5</text>
<line x1="368.70" y1="347.50" x2="371.70" y2="347.50" stroke="#000" stroke-width="1.3"/>
<text x="367.50" y="349.95" font-size="6.8" font-weight="bold" text-anchor="end" fill="#000">4</text>
<line x1="368.70" y1="380.40" x2="371.70" y2="380.40" stroke="#000" stroke-width="1.3"/>
<text x="367.50" y="382.85" font-size="6.8" font-weight="bold" text-anchor="end" fill="#000">3</text>
<text x="357.20" y="342.06" font-size="7.1" font-weight="bold" text-anchor="middle" fill="#000" transform="rotate(-90 357.20 339.50)">HPV 18-L1 antibody (ng/mL)</text>
<line x1="371.70" y1="397.30" x2="621.50" y2="397.30" stroke="#000" stroke-width="1.3"/>
<line x1="380.80" y1="397.30" x2="380.80" y2="400.30" stroke="#000" stroke-width="1.3"/>
<line x1="394.50" y1="397.30" x2="394.50" y2="400.30" stroke="#000" stroke-width="1.3"/>
<line x1="408.10" y1="397.30" x2="408.10" y2="400.30" stroke="#000" stroke-width="1.3"/>
<line x1="421.80" y1="397.30" x2="421.80" y2="400.30" stroke="#000" stroke-width="1.3"/>
<line x1="435.10" y1="397.30" x2="435.10" y2="400.30" stroke="#000" stroke-width="1.3"/>
<line x1="448.80" y1="397.30" x2="448.80" y2="400.30" stroke="#000" stroke-width="1.3"/>
<line x1="462.20" y1="397.30" x2="462.20" y2="400.30" stroke="#000" stroke-width="1.3"/>
<line x1="475.60" y1="397.30" x2="475.60" y2="400.30" stroke="#000" stroke-width="1.3"/>
<line x1="489.10" y1="397.30" x2="489.10" y2="400.30" stroke="#000" stroke-width="1.3"/>
<line x1="502.80" y1="397.30" x2="502.80" y2="400.30" stroke="#000" stroke-width="1.3"/>
<line x1="516.50" y1="397.30" x2="516.50" y2="400.30" stroke="#000" stroke-width="1.3"/>
<line x1="530.00" y1="397.30" x2="530.00" y2="400.30" stroke="#000" stroke-width="1.3"/>
<line x1="543.40" y1="397.30" x2="543.40" y2="400.30" stroke="#000" stroke-width="1.3"/>
<line x1="557.10" y1="397.30" x2="557.10" y2="400.30" stroke="#000" stroke-width="1.3"/>
<line x1="570.70" y1="397.30" x2="570.70" y2="400.30" stroke="#000" stroke-width="1.3"/>
<line x1="584.10" y1="397.30" x2="584.10" y2="400.30" stroke="#000" stroke-width="1.3"/>
<line x1="597.50" y1="397.30" x2="597.50" y2="400.30" stroke="#000" stroke-width="1.3"/>
<line x1="611.30" y1="397.30" x2="611.30" y2="400.30" stroke="#000" stroke-width="1.3"/>
<line x1="455.20" y1="278.40" x2="455.20" y2="397.00" stroke="#888" stroke-width="1.0" stroke-dasharray="1,1"/>
<line x1="536.30" y1="277.30" x2="536.30" y2="397.00" stroke="#222" stroke-width="0.8" stroke-dasharray="1,1"/>
<circle cx="380.80" cy="364.70" r="1.75" fill="#000000"/>
<circle cx="380.80" cy="376.40" r="1.75" fill="#000000"/>
<circle cx="384.12" cy="376.40" r="1.75" fill="#000000"/>
<circle cx="377.48" cy="376.40" r="1.75" fill="#000000"/>
<circle cx="382.46" cy="379.20" r="1.75" fill="#000000"/>
<circle cx="380.80" cy="389.30" r="1.75" fill="#000000"/>
<line x1="380.80" y1="369.50" x2="380.80" y2="386.00" stroke="#333" stroke-width="0.9"/>
<line x1="378.50" y1="369.50" x2="383.10" y2="369.50" stroke="#333" stroke-width="0.9"/>
<line x1="378.50" y1="386.00" x2="383.10" y2="386.00" stroke="#333" stroke-width="0.9"/>
<line x1="376.60" y1="377.20" x2="385.00" y2="377.20" stroke="#333" stroke-width="1.08"/>
<circle cx="394.50" cy="348.60" r="1.75" fill="#2ee6f2"/>
<circle cx="394.50" cy="365.70" r="1.75" fill="#2ee6f2"/>
<circle cx="397.82" cy="365.70" r="1.75" fill="#2ee6f2"/>
<circle cx="391.18" cy="365.70" r="1.75" fill="#2ee6f2"/>
<circle cx="394.50" cy="378.50" r="1.75" fill="#2ee6f2"/>
<circle cx="394.50" cy="371.00" r="1.75" fill="#2ee6f2"/>
<line x1="394.50" y1="356.00" x2="394.50" y2="374.80" stroke="#22d8e6" stroke-width="0.9"/>
<line x1="392.20" y1="356.00" x2="396.80" y2="356.00" stroke="#22d8e6" stroke-width="0.9"/>
<line x1="392.20" y1="374.80" x2="396.80" y2="374.80" stroke="#22d8e6" stroke-width="0.9"/>
<line x1="390.30" y1="365.70" x2="398.70" y2="365.70" stroke="#22d8e6" stroke-width="1.08"/>
<circle cx="408.10" cy="354.00" r="1.75" fill="#7f2aba"/>
<circle cx="408.10" cy="365.20" r="1.75" fill="#7f2aba"/>
<circle cx="408.10" cy="369.20" r="1.75" fill="#7f2aba"/>
<circle cx="406.44" cy="374.30" r="1.75" fill="#7f2aba"/>
<circle cx="409.76" cy="374.30" r="1.75" fill="#7f2aba"/>
<circle cx="408.10" cy="378.50" r="1.75" fill="#7f2aba"/>
<line x1="408.10" y1="360.40" x2="408.10" y2="377.20" stroke="#333" stroke-width="0.9"/>
<line x1="405.80" y1="360.40" x2="410.40" y2="360.40" stroke="#333" stroke-width="0.9"/>
<line x1="405.80" y1="377.20" x2="410.40" y2="377.20" stroke="#333" stroke-width="0.9"/>
<line x1="403.90" y1="369.20" x2="412.30" y2="369.20" stroke="#333" stroke-width="1.08"/>
<circle cx="421.80" cy="356.00" r="1.75" fill="#6a6a6a"/>
<circle cx="425.12" cy="358.00" r="1.75" fill="#6a6a6a"/>
<circle cx="421.80" cy="369.20" r="1.75" fill="#6a6a6a"/>
<circle cx="425.12" cy="369.20" r="1.75" fill="#6a6a6a"/>
<circle cx="418.48" cy="369.20" r="1.75" fill="#6a6a6a"/>
<circle cx="423.46" cy="370.50" r="1.75" fill="#6a6a6a"/>
<line x1="421.80" y1="358.30" x2="421.80" y2="370.00" stroke="#999" stroke-width="0.9"/>
<line x1="419.50" y1="358.30" x2="424.10" y2="358.30" stroke="#999" stroke-width="0.9"/>
<line x1="419.50" y1="370.00" x2="424.10" y2="370.00" stroke="#999" stroke-width="0.9"/>
<line x1="417.60" y1="364.40" x2="426.00" y2="364.40" stroke="#999" stroke-width="1.08"/>
<circle cx="435.10" cy="354.70" r="1.75" fill="#0c1ad0"/>
<circle cx="438.43" cy="357.20" r="1.75" fill="#0c1ad0"/>
<circle cx="435.10" cy="365.20" r="1.75" fill="#0c1ad0"/>
<circle cx="433.44" cy="373.20" r="1.75" fill="#0c1ad0"/>
<circle cx="436.76" cy="373.20" r="1.75" fill="#0c1ad0"/>
<circle cx="431.78" cy="376.00" r="1.75" fill="#0c1ad0"/>
<line x1="435.10" y1="357.20" x2="435.10" y2="375.30" stroke="#333" stroke-width="0.9"/>
<line x1="432.80" y1="357.20" x2="437.40" y2="357.20" stroke="#333" stroke-width="0.9"/>
<line x1="432.80" y1="375.30" x2="437.40" y2="375.30" stroke="#333" stroke-width="0.9"/>
<line x1="430.90" y1="366.30" x2="439.30" y2="366.30" stroke="#333" stroke-width="1.08"/>
<circle cx="447.14" cy="357.20" r="1.75" fill="#f01818"/>
<circle cx="450.46" cy="357.20" r="1.75" fill="#f01818"/>
<circle cx="445.48" cy="359.90" r="1.75" fill="#f01818"/>
<circle cx="448.80" cy="368.40" r="1.75" fill="#f01818"/>
<circle cx="447.14" cy="373.70" r="1.75" fill="#f01818"/>
<circle cx="450.46" cy="373.70" r="1.75" fill="#f01818"/>
<line x1="448.80" y1="358.30" x2="448.80" y2="372.40" stroke="#333" stroke-width="0.9"/>
<line x1="446.50" y1="358.30" x2="451.10" y2="358.30" stroke="#333" stroke-width="0.9"/>
<line x1="446.50" y1="372.40" x2="451.10" y2="372.40" stroke="#333" stroke-width="0.9"/>
<line x1="444.60" y1="365.50" x2="453.00" y2="365.50" stroke="#333" stroke-width="1.08"/>
<circle cx="462.20" cy="360.70" r="1.75" fill="#000000"/>
<circle cx="462.20" cy="378.00" r="1.75" fill="#000000"/>
<circle cx="462.20" cy="382.40" r="1.75" fill="#000000"/>
<circle cx="462.20" cy="387.20" r="1.75" fill="#000000"/>
<circle cx="460.54" cy="392.00" r="1.75" fill="#000000"/>
<circle cx="463.86" cy="392.00" r="1.75" fill="#000000"/>
<line x1="462.20" y1="370.50" x2="462.20" y2="393.10" stroke="#333" stroke-width="0.9"/>
<line x1="459.90" y1="370.50" x2="464.50" y2="370.50" stroke="#333" stroke-width="0.9"/>
<line x1="459.90" y1="393.10" x2="464.50" y2="393.10" stroke="#333" stroke-width="0.9"/>
<line x1="458.00" y1="382.00" x2="466.40" y2="382.00" stroke="#333" stroke-width="1.08"/>
<circle cx="475.60" cy="344.10" r="1.75" fill="#2ee6f2"/>
<circle cx="475.60" cy="349.30" r="1.75" fill="#2ee6f2"/>
<circle cx="475.60" cy="360.40" r="1.75" fill="#2ee6f2"/>
<circle cx="478.93" cy="360.40" r="1.75" fill="#2ee6f2"/>
<circle cx="472.28" cy="360.40" r="1.75" fill="#2ee6f2"/>
<circle cx="475.60" cy="367.10" r="1.75" fill="#2ee6f2"/>
<line x1="475.60" y1="349.30" x2="475.60" y2="367.10" stroke="#22d8e6" stroke-width="0.9"/>
<line x1="473.30" y1="349.30" x2="477.90" y2="349.30" stroke="#22d8e6" stroke-width="0.9"/>
<line x1="473.30" y1="367.10" x2="477.90" y2="367.10" stroke="#22d8e6" stroke-width="0.9"/>
<line x1="471.40" y1="357.80" x2="479.80" y2="357.80" stroke="#22d8e6" stroke-width="1.08"/>
<circle cx="489.10" cy="340.10" r="1.75" fill="#7f2aba"/>
<circle cx="489.10" cy="345.60" r="1.75" fill="#7f2aba"/>
<circle cx="489.10" cy="353.70" r="1.75" fill="#7f2aba"/>
<circle cx="489.10" cy="357.50" r="1.75" fill="#7f2aba"/>
<circle cx="490.76" cy="360.40" r="1.75" fill="#7f2aba"/>
<circle cx="489.10" cy="363.40" r="1.75" fill="#7f2aba"/>
<line x1="489.10" y1="344.50" x2="489.10" y2="362.70" stroke="#333" stroke-width="0.9"/>
<line x1="486.80" y1="344.50" x2="491.40" y2="344.50" stroke="#333" stroke-width="0.9"/>
<line x1="486.80" y1="362.70" x2="491.40" y2="362.70" stroke="#333" stroke-width="0.9"/>
<line x1="484.90" y1="353.70" x2="493.30" y2="353.70" stroke="#333" stroke-width="1.08"/>
<circle cx="502.80" cy="330.00" r="1.75" fill="#6a6a6a"/>
<circle cx="502.80" cy="334.40" r="1.75" fill="#6a6a6a"/>
<circle cx="502.80" cy="342.60" r="1.75" fill="#6a6a6a"/>
<circle cx="502.80" cy="349.70" r="1.75" fill="#6a6a6a"/>
<circle cx="501.14" cy="358.20" r="1.75" fill="#6a6a6a"/>
<circle cx="504.46" cy="358.20" r="1.75" fill="#6a6a6a"/>
<line x1="502.80" y1="333.70" x2="502.80" y2="358.20" stroke="#999" stroke-width="0.9"/>
<line x1="500.50" y1="333.70" x2="505.10" y2="333.70" stroke="#999" stroke-width="0.9"/>
<line x1="500.50" y1="358.20" x2="505.10" y2="358.20" stroke="#999" stroke-width="0.9"/>
<line x1="498.60" y1="345.60" x2="507.00" y2="345.60" stroke="#999" stroke-width="1.08"/>
<circle cx="516.50" cy="325.00" r="1.75" fill="#0c1ad0"/>
<circle cx="514.84" cy="348.50" r="1.75" fill="#0c1ad0"/>
<circle cx="518.16" cy="348.50" r="1.75" fill="#0c1ad0"/>
<circle cx="514.84" cy="350.80" r="1.75" fill="#0c1ad0"/>
<circle cx="518.16" cy="350.80" r="1.75" fill="#0c1ad0"/>
<circle cx="516.50" cy="358.90" r="1.75" fill="#0c1ad0"/>
<line x1="516.50" y1="336.60" x2="516.50" y2="361.60" stroke="#333" stroke-width="0.9"/>
<line x1="514.20" y1="336.60" x2="518.80" y2="336.60" stroke="#333" stroke-width="0.9"/>
<line x1="514.20" y1="361.60" x2="518.80" y2="361.60" stroke="#333" stroke-width="0.9"/>
<line x1="512.30" y1="348.50" x2="520.70" y2="348.50" stroke="#333" stroke-width="1.08"/>
<circle cx="530.00" cy="316.10" r="1.75" fill="#f01818"/>
<circle cx="530.00" cy="325.00" r="1.75" fill="#f01818"/>
<circle cx="531.66" cy="325.90" r="1.75" fill="#f01818"/>
<circle cx="528.34" cy="325.90" r="1.75" fill="#f01818"/>
<circle cx="530.00" cy="327.00" r="1.75" fill="#f01818"/>
<circle cx="530.00" cy="339.60" r="1.75" fill="#f01818"/>
<line x1="530.00" y1="319.50" x2="530.00" y2="334.40" stroke="#333" stroke-width="0.9"/>
<line x1="527.70" y1="319.50" x2="532.30" y2="319.50" stroke="#333" stroke-width="0.9"/>
<line x1="527.70" y1="334.40" x2="532.30" y2="334.40" stroke="#333" stroke-width="0.9"/>
<line x1="525.80" y1="327.00" x2="534.20" y2="327.00" stroke="#333" stroke-width="1.08"/>
<circle cx="541.74" cy="367.30" r="1.75" fill="#000000"/>
<circle cx="545.06" cy="367.30" r="1.75" fill="#000000"/>
<circle cx="545.06" cy="370.40" r="1.75" fill="#000000"/>
<circle cx="541.74" cy="373.60" r="1.75" fill="#000000"/>
<circle cx="545.06" cy="373.60" r="1.75" fill="#000000"/>
<circle cx="543.40" cy="377.50" r="1.75" fill="#000000"/>
<line x1="543.40" y1="368.90" x2="543.40" y2="376.00" stroke="#333" stroke-width="0.9"/>
<line x1="541.10" y1="368.90" x2="545.70" y2="368.90" stroke="#333" stroke-width="0.9"/>
<line x1="541.10" y1="376.00" x2="545.70" y2="376.00" stroke="#333" stroke-width="0.9"/>
<line x1="539.20" y1="372.80" x2="547.60" y2="372.80" stroke="#333" stroke-width="1.08"/>
<circle cx="555.44" cy="342.40" r="1.75" fill="#2ee6f2"/>
<circle cx="558.76" cy="342.40" r="1.75" fill="#2ee6f2"/>
<circle cx="553.77" cy="345.20" r="1.75" fill="#2ee6f2"/>
<circle cx="557.10" cy="350.70" r="1.75" fill="#2ee6f2"/>
<circle cx="557.10" cy="371.20" r="1.75" fill="#2ee6f2"/>
<circle cx="557.10" cy="377.10" r="1.75" fill="#2ee6f2"/>
<line x1="557.10" y1="341.30" x2="557.10" y2="370.40" stroke="#22d8e6" stroke-width="0.9"/>
<line x1="554.80" y1="341.30" x2="559.40" y2="341.30" stroke="#22d8e6" stroke-width="0.9"/>
<line x1="554.80" y1="370.40" x2="559.40" y2="370.40" stroke="#22d8e6" stroke-width="0.9"/>
<line x1="552.90" y1="355.80" x2="561.30" y2="355.80" stroke="#22d8e6" stroke-width="1.08"/>
<circle cx="570.70" cy="338.60" r="1.75" fill="#7f2aba"/>
<circle cx="570.70" cy="343.60" r="1.75" fill="#7f2aba"/>
<circle cx="572.36" cy="345.20" r="1.75" fill="#7f2aba"/>
<circle cx="569.04" cy="345.20" r="1.75" fill="#7f2aba"/>
<circle cx="570.70" cy="360.20" r="1.75" fill="#7f2aba"/>
<circle cx="570.70" cy="371.70" r="1.75" fill="#7f2aba"/>
<line x1="570.70" y1="338.90" x2="570.70" y2="363.30" stroke="#333" stroke-width="0.9"/>
<line x1="568.40" y1="338.90" x2="573.00" y2="338.90" stroke="#333" stroke-width="0.9"/>
<line x1="568.40" y1="363.30" x2="573.00" y2="363.30" stroke="#333" stroke-width="0.9"/>
<line x1="566.50" y1="350.90" x2="574.90" y2="350.90" stroke="#333" stroke-width="1.08"/>
<circle cx="584.10" cy="307.30" r="1.75" fill="#6a6a6a"/>
<circle cx="584.10" cy="323.90" r="1.75" fill="#6a6a6a"/>
<circle cx="584.10" cy="337.30" r="1.75" fill="#6a6a6a"/>
<circle cx="584.10" cy="342.00" r="1.75" fill="#6a6a6a"/>
<circle cx="585.76" cy="344.90" r="1.75" fill="#6a6a6a"/>
<circle cx="584.10" cy="368.60" r="1.75" fill="#6a6a6a"/>
<line x1="584.10" y1="316.80" x2="584.10" y2="358.10" stroke="#999" stroke-width="0.9"/>
<line x1="581.80" y1="316.80" x2="586.40" y2="316.80" stroke="#999" stroke-width="0.9"/>
<line x1="581.80" y1="358.10" x2="586.40" y2="358.10" stroke="#999" stroke-width="0.9"/>
<line x1="579.90" y1="337.30" x2="588.30" y2="337.30" stroke="#999" stroke-width="1.08"/>
<circle cx="597.50" cy="328.20" r="1.75" fill="#0c1ad0"/>
<circle cx="600.83" cy="331.00" r="1.75" fill="#0c1ad0"/>
<circle cx="597.50" cy="334.20" r="1.75" fill="#0c1ad0"/>
<circle cx="597.50" cy="340.50" r="1.75" fill="#0c1ad0"/>
<circle cx="597.50" cy="346.50" r="1.75" fill="#0c1ad0"/>
<circle cx="597.50" cy="362.90" r="1.75" fill="#0c1ad0"/>
<line x1="597.50" y1="327.80" x2="597.50" y2="353.10" stroke="#333" stroke-width="0.9"/>
<line x1="595.20" y1="327.80" x2="599.80" y2="327.80" stroke="#333" stroke-width="0.9"/>
<line x1="595.20" y1="353.10" x2="599.80" y2="353.10" stroke="#333" stroke-width="0.9"/>
<line x1="593.30" y1="340.50" x2="601.70" y2="340.50" stroke="#333" stroke-width="1.08"/>
<circle cx="611.30" cy="303.40" r="1.75" fill="#f01818"/>
<circle cx="614.62" cy="306.20" r="1.75" fill="#f01818"/>
<circle cx="611.30" cy="310.50" r="1.75" fill="#f01818"/>
<circle cx="611.30" cy="318.40" r="1.75" fill="#f01818"/>
<circle cx="611.30" cy="332.60" r="1.75" fill="#f01818"/>
<circle cx="611.30" cy="340.00" r="1.75" fill="#f01818"/>
<line x1="611.30" y1="305.00" x2="611.30" y2="332.60" stroke="#333" stroke-width="0.9"/>
<line x1="609.00" y1="305.00" x2="613.60" y2="305.00" stroke="#333" stroke-width="0.9"/>
<line x1="609.00" y1="332.60" x2="613.60" y2="332.60" stroke="#333" stroke-width="0.9"/>
<line x1="607.10" y1="318.40" x2="615.50" y2="318.40" stroke="#333" stroke-width="1.08"/>
<polyline points="380.80,306.50 380.80,303.00 448.80,303.00 448.80,306.50" fill="none" stroke="#111" stroke-width="0.9"/>
<path d="M414.80,295.37L414.80,299.23M416.47,296.33L413.13,298.27M416.47,298.27L413.13,296.33" stroke="#000" stroke-width="1.05" stroke-linecap="round"/>
<circle cx="414.80" cy="297.30" r="0.80" fill="#000"/>
<polyline points="380.80,315.70 380.80,312.20 435.10,312.20 435.10,315.70" fill="none" stroke="#111" stroke-width="0.9"/>
<path d="M407.95,304.57L407.95,308.43M409.62,305.53L406.28,307.47M409.62,307.47L406.28,305.53" stroke="#000" stroke-width="1.05" stroke-linecap="round"/>
<circle cx="407.95" cy="306.50" r="0.80" fill="#000"/>
<polyline points="380.80,326.10 380.80,322.60 421.80,322.60 421.80,326.10" fill="none" stroke="#111" stroke-width="0.9"/>
<path d="M401.30,314.97L401.30,318.83M402.97,315.93L399.63,317.87M402.97,317.87L399.63,315.93" stroke="#000" stroke-width="1.05" stroke-linecap="round"/>
<circle cx="401.30" cy="316.90" r="0.80" fill="#000"/>
<polyline points="380.80,336.10 380.80,332.60 408.10,332.60 408.10,336.10" fill="none" stroke="#111" stroke-width="0.9"/>
<text x="394.45" y="327.98" font-size="6.6" font-weight="normal" text-anchor="middle" fill="#000">ns</text>
<polyline points="380.80,345.70 380.80,342.20 394.50,342.20 394.50,345.70" fill="none" stroke="#111" stroke-width="0.9"/>
<path d="M387.65,334.57L387.65,338.43M389.32,335.53L385.98,337.47M389.32,337.47L385.98,335.53" stroke="#000" stroke-width="1.05" stroke-linecap="round"/>
<circle cx="387.65" cy="336.50" r="0.80" fill="#000"/>
<polyline points="397.70,345.70 397.70,342.20 448.80,342.20 448.80,345.70" fill="none" stroke="#111" stroke-width="0.9"/>
<text x="423.50" y="337.58" font-size="6.6" font-weight="normal" text-anchor="middle" fill="#000">ns</text>
<polyline points="462.20,294.00 462.20,290.50 530.00,290.50 530.00,294.00" fill="none" stroke="#111" stroke-width="0.9"/>
<path d="M488.30,282.87L488.30,286.73M489.97,283.83L486.63,285.77M489.97,285.77L486.63,283.83" stroke="#000" stroke-width="1.05" stroke-linecap="round"/>
<circle cx="488.30" cy="284.80" r="0.80" fill="#000"/>
<path d="M493.50,282.87L493.50,286.73M495.17,283.83L491.83,285.77M495.17,285.77L491.83,283.83" stroke="#000" stroke-width="1.05" stroke-linecap="round"/>
<circle cx="493.50" cy="284.80" r="0.80" fill="#000"/>
<path d="M498.70,282.87L498.70,286.73M500.37,283.83L497.03,285.77M500.37,285.77L497.03,283.83" stroke="#000" stroke-width="1.05" stroke-linecap="round"/>
<circle cx="498.70" cy="284.80" r="0.80" fill="#000"/>
<path d="M503.90,282.87L503.90,286.73M505.57,283.83L502.23,285.77M505.57,285.77L502.23,283.83" stroke="#000" stroke-width="1.05" stroke-linecap="round"/>
<circle cx="503.90" cy="284.80" r="0.80" fill="#000"/>
<polyline points="462.20,303.00 462.20,299.50 516.50,299.50 516.50,303.00" fill="none" stroke="#111" stroke-width="0.9"/>
<path d="M484.15,291.87L484.15,295.73M485.82,292.83L482.48,294.77M485.82,294.77L482.48,292.83" stroke="#000" stroke-width="1.05" stroke-linecap="round"/>
<circle cx="484.15" cy="293.80" r="0.80" fill="#000"/>
<path d="M489.35,291.87L489.35,295.73M491.02,292.83L487.68,294.77M491.02,294.77L487.68,292.83" stroke="#000" stroke-width="1.05" stroke-linecap="round"/>
<circle cx="489.35" cy="293.80" r="0.80" fill="#000"/>
<path d="M494.55,291.87L494.55,295.73M496.22,292.83L492.88,294.77M496.22,294.77L492.88,292.83" stroke="#000" stroke-width="1.05" stroke-linecap="round"/>
<circle cx="494.55" cy="293.80" r="0.80" fill="#000"/>
<polyline points="462.20,311.90 462.20,308.40 502.80,308.40 502.80,311.90" fill="none" stroke="#111" stroke-width="0.9"/>
<path d="M477.30,300.77L477.30,304.63M478.97,301.73L475.63,303.67M478.97,303.67L475.63,301.73" stroke="#000" stroke-width="1.05" stroke-linecap="round"/>
<circle cx="477.30" cy="302.70" r="0.80" fill="#000"/>
<path d="M482.50,300.77L482.50,304.63M484.17,301.73L480.83,303.67M484.17,303.67L480.83,301.73" stroke="#000" stroke-width="1.05" stroke-linecap="round"/>
<circle cx="482.50" cy="302.70" r="0.80" fill="#000"/>
<path d="M487.70,300.77L487.70,304.63M489.37,301.73L486.03,303.67M489.37,303.67L486.03,301.73" stroke="#000" stroke-width="1.05" stroke-linecap="round"/>
<circle cx="487.70" cy="302.70" r="0.80" fill="#000"/>
<polyline points="518.10,312.90 518.10,309.40 530.00,309.40 530.00,312.90" fill="none" stroke="#111" stroke-width="0.9"/>
<path d="M521.45,301.77L521.45,305.63M523.12,302.73L519.78,304.67M523.12,304.67L519.78,302.73" stroke="#000" stroke-width="1.05" stroke-linecap="round"/>
<circle cx="521.45" cy="303.70" r="0.80" fill="#000"/>
<path d="M526.65,301.77L526.65,305.63M528.32,302.73L524.98,304.67M528.32,304.67L524.98,302.73" stroke="#000" stroke-width="1.05" stroke-linecap="round"/>
<circle cx="526.65" cy="303.70" r="0.80" fill="#000"/>
<polyline points="462.20,320.80 462.20,317.30 489.10,317.30 489.10,320.80" fill="none" stroke="#111" stroke-width="0.9"/>
<path d="M470.45,309.67L470.45,313.53M472.12,310.63L468.78,312.57M472.12,312.57L468.78,310.63" stroke="#000" stroke-width="1.05" stroke-linecap="round"/>
<circle cx="470.45" cy="311.60" r="0.80" fill="#000"/>
<path d="M475.65,309.67L475.65,313.53M477.32,310.63L473.98,312.57M477.32,312.57L473.98,310.63" stroke="#000" stroke-width="1.05" stroke-linecap="round"/>
<circle cx="475.65" cy="311.60" r="0.80" fill="#000"/>
<path d="M480.85,309.67L480.85,313.53M482.52,310.63L479.18,312.57M482.52,312.57L479.18,310.63" stroke="#000" stroke-width="1.05" stroke-linecap="round"/>
<circle cx="480.85" cy="311.60" r="0.80" fill="#000"/>
<polyline points="504.60,321.60 504.60,318.10 516.50,318.10 516.50,321.60" fill="none" stroke="#111" stroke-width="0.9"/>
<text x="510.55" y="313.48" font-size="6.6" font-weight="normal" text-anchor="middle" fill="#000">ns</text>
<polyline points="491.30,327.50 491.30,324.00 502.80,324.00 502.80,327.50" fill="none" stroke="#111" stroke-width="0.9"/>
<text x="497.05" y="319.38" font-size="6.6" font-weight="normal" text-anchor="middle" fill="#000">ns</text>
<polyline points="477.50,332.70 477.50,329.20 489.10,329.20 489.10,332.70" fill="none" stroke="#111" stroke-width="0.9"/>
<text x="483.30" y="324.58" font-size="6.6" font-weight="normal" text-anchor="middle" fill="#000">ns</text>
<polyline points="462.20,338.70 462.20,335.20 475.60,335.20 475.60,338.70" fill="none" stroke="#111" stroke-width="0.9"/>
<path d="M466.30,327.57L466.30,331.43M467.97,328.53L464.63,330.47M467.97,330.47L464.63,328.53" stroke="#000" stroke-width="1.05" stroke-linecap="round"/>
<circle cx="466.30" cy="329.50" r="0.80" fill="#000"/>
<path d="M471.50,327.57L471.50,331.43M473.17,328.53L469.83,330.47M473.17,330.47L469.83,328.53" stroke="#000" stroke-width="1.05" stroke-linecap="round"/>
<circle cx="471.50" cy="329.50" r="0.80" fill="#000"/>
<polyline points="543.40,254.00 543.40,250.50 611.30,250.50 611.30,254.00" fill="none" stroke="#111" stroke-width="0.9"/>
<path d="M569.55,242.87L569.55,246.73M571.22,243.83L567.88,245.77M571.22,245.77L567.88,243.83" stroke="#000" stroke-width="1.05" stroke-linecap="round"/>
<circle cx="569.55" cy="244.80" r="0.80" fill="#000"/>
<path d="M574.75,242.87L574.75,246.73M576.42,243.83L573.08,245.77M576.42,245.77L573.08,243.83" stroke="#000" stroke-width="1.05" stroke-linecap="round"/>
<circle cx="574.75" cy="244.80" r="0.80" fill="#000"/>
<path d="M579.95,242.87L579.95,246.73M581.62,243.83L578.28,245.77M581.62,245.77L578.28,243.83" stroke="#000" stroke-width="1.05" stroke-linecap="round"/>
<circle cx="579.95" cy="244.80" r="0.80" fill="#000"/>
<path d="M585.15,242.87L585.15,246.73M586.82,243.83L583.48,245.77M586.82,245.77L583.48,243.83" stroke="#000" stroke-width="1.05" stroke-linecap="round"/>
<circle cx="585.15" cy="244.80" r="0.80" fill="#000"/>
<polyline points="543.40,262.90 543.40,259.40 597.50,259.40 597.50,262.90" fill="none" stroke="#111" stroke-width="0.9"/>
<path d="M565.25,251.77L565.25,255.63M566.92,252.73L563.58,254.67M566.92,254.67L563.58,252.73" stroke="#000" stroke-width="1.05" stroke-linecap="round"/>
<circle cx="565.25" cy="253.70" r="0.80" fill="#000"/>
<path d="M570.45,251.77L570.45,255.63M572.12,252.73L568.78,254.67M572.12,254.67L568.78,252.73" stroke="#000" stroke-width="1.05" stroke-linecap="round"/>
<circle cx="570.45" cy="253.70" r="0.80" fill="#000"/>
<path d="M575.65,251.77L575.65,255.63M577.32,252.73L573.98,254.67M577.32,254.67L573.98,252.73" stroke="#000" stroke-width="1.05" stroke-linecap="round"/>
<circle cx="575.65" cy="253.70" r="0.80" fill="#000"/>
<polyline points="557.10,273.00 557.10,269.50 611.30,269.50 611.30,273.00" fill="none" stroke="#111" stroke-width="0.9"/>
<path d="M581.60,261.87L581.60,265.73M583.27,262.83L579.93,264.77M583.27,264.77L579.93,262.83" stroke="#000" stroke-width="1.05" stroke-linecap="round"/>
<circle cx="581.60" cy="263.80" r="0.80" fill="#000"/>
<path d="M586.80,261.87L586.80,265.73M588.47,262.83L585.13,264.77M588.47,264.77L585.13,262.83" stroke="#000" stroke-width="1.05" stroke-linecap="round"/>
<circle cx="586.80" cy="263.80" r="0.80" fill="#000"/>
<polyline points="570.70,282.90 570.70,279.40 611.30,279.40 611.30,282.90" fill="none" stroke="#111" stroke-width="0.9"/>
<path d="M588.40,271.77L588.40,275.63M590.07,272.73L586.73,274.67M590.07,274.67L586.73,272.73" stroke="#000" stroke-width="1.05" stroke-linecap="round"/>
<circle cx="588.40" cy="273.70" r="0.80" fill="#000"/>
<path d="M593.60,271.77L593.60,275.63M595.27,272.73L591.93,274.67M595.27,274.67L591.93,272.73" stroke="#000" stroke-width="1.05" stroke-linecap="round"/>
<circle cx="593.60" cy="273.70" r="0.80" fill="#000"/>
<polyline points="543.40,291.90 543.40,288.40 584.10,288.40 584.10,291.90" fill="none" stroke="#111" stroke-width="0.9"/>
<path d="M560.50,280.77L560.50,284.63M562.17,281.73L558.83,283.67M562.17,283.67L558.83,281.73" stroke="#000" stroke-width="1.05" stroke-linecap="round"/>
<circle cx="560.50" cy="282.70" r="0.80" fill="#000"/>
<path d="M565.70,280.77L565.70,284.63M567.37,281.73L564.03,283.67M567.37,283.67L564.03,281.73" stroke="#000" stroke-width="1.05" stroke-linecap="round"/>
<circle cx="565.70" cy="282.70" r="0.80" fill="#000"/>
<polyline points="585.20,291.90 585.20,288.40 611.30,288.40 611.30,291.90" fill="none" stroke="#111" stroke-width="0.9"/>
<text x="597.90" y="283.78" font-size="6.6" font-weight="normal" text-anchor="middle" fill="#000">ns</text>
<polyline points="599.00,301.00 599.00,297.50 611.30,297.50 611.30,301.00" fill="none" stroke="#111" stroke-width="0.9"/>
<path d="M605.15,289.87L605.15,293.73M606.82,290.83L603.48,292.77M606.82,292.77L603.48,290.83" stroke="#000" stroke-width="1.05" stroke-linecap="round"/>
<circle cx="605.15" cy="291.80" r="0.80" fill="#000"/>
<polyline points="570.70,306.90 570.70,303.40 584.10,303.40 584.10,306.90" fill="none" stroke="#111" stroke-width="0.9"/>
<text x="577.40" y="298.78" font-size="6.6" font-weight="normal" text-anchor="middle" fill="#000">ns</text>
<polyline points="585.20,306.90 585.20,303.40 597.50,303.40 597.50,306.90" fill="none" stroke="#111" stroke-width="0.9"/>
<text x="591.35" y="298.78" font-size="6.6" font-weight="normal" text-anchor="middle" fill="#000">ns</text>
<polyline points="543.40,323.10 543.40,319.60 570.70,319.60 570.70,323.10" fill="none" stroke="#111" stroke-width="0.9"/>
<path d="M554.45,311.97L554.45,315.83M556.12,312.93L552.78,314.87M556.12,314.87L552.78,312.93" stroke="#000" stroke-width="1.05" stroke-linecap="round"/>
<circle cx="554.45" cy="313.90" r="0.80" fill="#000"/>
<path d="M559.65,311.97L559.65,315.83M561.32,312.93L557.98,314.87M561.32,314.87L557.98,312.93" stroke="#000" stroke-width="1.05" stroke-linecap="round"/>
<circle cx="559.65" cy="313.90" r="0.80" fill="#000"/>
<polyline points="558.60,334.50 558.60,331.00 570.70,331.00 570.70,334.50" fill="none" stroke="#111" stroke-width="0.9"/>
<text x="564.65" y="326.38" font-size="6.6" font-weight="normal" text-anchor="middle" fill="#000">ns</text>
<polyline points="543.40,338.90 543.40,335.40 557.10,335.40 557.10,338.90" fill="none" stroke="#111" stroke-width="0.9"/>
<path d="M550.25,327.77L550.25,331.63M551.92,328.73L548.58,330.67M551.92,330.67L548.58,328.73" stroke="#000" stroke-width="1.05" stroke-linecap="round"/>
<circle cx="550.25" cy="329.70" r="0.80" fill="#000"/>
<circle cx="625.50" cy="347.90" r="2.4" fill="#000000"/>
<text x="629.30" y="350.49" font-size="7.2" font-weight="bold" text-anchor="start" fill="#000">PBS</text>
<circle cx="625.50" cy="356.60" r="2.4" fill="#1ee8f5"/>
<text x="629.30" y="359.19" font-size="7.2" font-weight="bold" text-anchor="start" fill="#000">L1+AS04C</text>
<circle cx="625.50" cy="365.00" r="2.4" fill="#8a1fe0"/>
<text x="629.30" y="367.59" font-size="7.2" font-weight="bold" text-anchor="start" fill="#000">L1+AS04D</text>
<circle cx="625.50" cy="373.50" r="2.4" fill="#6e6e6e"/>
<text x="629.30" y="376.09" font-size="7.2" font-weight="bold" text-anchor="start" fill="#000">L1+MF59</text>
<circle cx="625.50" cy="382.20" r="2.4" fill="#0a12e8"/>
<text x="629.30" y="384.79" font-size="7.2" font-weight="bold" text-anchor="start" fill="#000">L1+GP96</text>
<circle cx="625.50" cy="390.70" r="2.4" fill="#ff1010"/>
<text x="629.30" y="393.29" font-size="7.2" font-weight="bold" text-anchor="start" fill="#000">L1-GP96-Fusion</text>
<text x="0.30" y="420.68" font-size="13" font-weight="bold" text-anchor="start" fill="#000">G</text>
<text x="83.40" y="464.65" font-size="8.2" font-weight="bold" text-anchor="middle" fill="#000">Day 40 GC B cells</text>
<line x1="30.20" y1="508.40" x2="30.20" y2="627.50" stroke="#000" stroke-width="1.3"/>
<line x1="27.20" y1="508.40" x2="30.20" y2="508.40" stroke="#000" stroke-width="1.3"/>
<text x="25.50" y="511.14" font-size="7.6" font-weight="bold" text-anchor="end" fill="#000">15</text>
<line x1="27.20" y1="548.30" x2="30.20" y2="548.30" stroke="#000" stroke-width="1.3"/>
<text x="25.50" y="551.04" font-size="7.6" font-weight="bold" text-anchor="end" fill="#000">10</text>
<line x1="27.20" y1="587.90" x2="30.20" y2="587.90" stroke="#000" stroke-width="1.3"/>
<text x="25.50" y="590.64" font-size="7.6" font-weight="bold" text-anchor="end" fill="#000">5</text>
<line x1="27.20" y1="627.50" x2="30.20" y2="627.50" stroke="#000" stroke-width="1.3"/>
<text x="25.50" y="630.24" font-size="7.6" font-weight="bold" text-anchor="end" fill="#000">0</text>
<text x="9.40" y="570.88" font-size="8.0" font-weight="bold" text-anchor="middle" fill="#000" transform="rotate(-90 9.40 568.00)">% of B cells</text>
<line x1="30.20" y1="627.50" x2="137.70" y2="627.50" stroke="#000" stroke-width="1.3"/>
<line x1="40.90" y1="627.50" x2="40.90" y2="630.50" stroke="#000" stroke-width="1.3"/>
<line x1="57.80" y1="627.50" x2="57.80" y2="630.50" stroke="#000" stroke-width="1.3"/>
<line x1="74.60" y1="627.50" x2="74.60" y2="630.50" stroke="#000" stroke-width="1.3"/>
<line x1="91.60" y1="627.50" x2="91.60" y2="630.50" stroke="#000" stroke-width="1.3"/>
<line x1="108.30" y1="627.50" x2="108.30" y2="630.50" stroke="#000" stroke-width="1.3"/>
<line x1="125.30" y1="627.50" x2="125.30" y2="630.50" stroke="#000" stroke-width="1.3"/>
<line x1="32.00" y1="627.50" x2="32.00" y2="629.00" stroke="#000" stroke-width="0.8"/>
<line x1="35.30" y1="627.50" x2="35.30" y2="629.00" stroke="#000" stroke-width="0.8"/>
<line x1="38.60" y1="627.50" x2="38.60" y2="629.00" stroke="#000" stroke-width="0.8"/>
<line x1="41.90" y1="627.50" x2="41.90" y2="629.00" stroke="#000" stroke-width="0.8"/>
<line x1="45.20" y1="627.50" x2="45.20" y2="629.00" stroke="#000" stroke-width="0.8"/>
<line x1="48.50" y1="627.50" x2="48.50" y2="629.00" stroke="#000" stroke-width="0.8"/>
<line x1="51.80" y1="627.50" x2="51.80" y2="629.00" stroke="#000" stroke-width="0.8"/>
<line x1="55.10" y1="627.50" x2="55.10" y2="629.00" stroke="#000" stroke-width="0.8"/>
<line x1="58.40" y1="627.50" x2="58.40" y2="629.00" stroke="#000" stroke-width="0.8"/>
<line x1="61.70" y1="627.50" x2="61.70" y2="629.00" stroke="#000" stroke-width="0.8"/>
<line x1="65.00" y1="627.50" x2="65.00" y2="629.00" stroke="#000" stroke-width="0.8"/>
<line x1="68.30" y1="627.50" x2="68.30" y2="629.00" stroke="#000" stroke-width="0.8"/>
<line x1="71.60" y1="627.50" x2="71.60" y2="629.00" stroke="#000" stroke-width="0.8"/>
<line x1="74.90" y1="627.50" x2="74.90" y2="629.00" stroke="#000" stroke-width="0.8"/>
<line x1="78.20" y1="627.50" x2="78.20" y2="629.00" stroke="#000" stroke-width="0.8"/>
<line x1="81.50" y1="627.50" x2="81.50" y2="629.00" stroke="#000" stroke-width="0.8"/>
<line x1="84.80" y1="627.50" x2="84.80" y2="629.00" stroke="#000" stroke-width="0.8"/>
<line x1="88.10" y1="627.50" x2="88.10" y2="629.00" stroke="#000" stroke-width="0.8"/>
<line x1="91.40" y1="627.50" x2="91.40" y2="629.00" stroke="#000" stroke-width="0.8"/>
<line x1="94.70" y1="627.50" x2="94.70" y2="629.00" stroke="#000" stroke-width="0.8"/>
<line x1="98.00" y1="627.50" x2="98.00" y2="629.00" stroke="#000" stroke-width="0.8"/>
<line x1="101.30" y1="627.50" x2="101.30" y2="629.00" stroke="#000" stroke-width="0.8"/>
<line x1="104.60" y1="627.50" x2="104.60" y2="629.00" stroke="#000" stroke-width="0.8"/>
<line x1="107.90" y1="627.50" x2="107.90" y2="629.00" stroke="#000" stroke-width="0.8"/>
<line x1="111.20" y1="627.50" x2="111.20" y2="629.00" stroke="#000" stroke-width="0.8"/>
<line x1="114.50" y1="627.50" x2="114.50" y2="629.00" stroke="#000" stroke-width="0.8"/>
<line x1="117.80" y1="627.50" x2="117.80" y2="629.00" stroke="#000" stroke-width="0.8"/>
<line x1="121.10" y1="627.50" x2="121.10" y2="629.00" stroke="#000" stroke-width="0.8"/>
<line x1="124.40" y1="627.50" x2="124.40" y2="629.00" stroke="#000" stroke-width="0.8"/>
<line x1="127.70" y1="627.50" x2="127.70" y2="629.00" stroke="#000" stroke-width="0.8"/>
<line x1="131.00" y1="627.50" x2="131.00" y2="629.00" stroke="#000" stroke-width="0.8"/>
<line x1="134.30" y1="627.50" x2="134.30" y2="629.00" stroke="#000" stroke-width="0.8"/>
<circle cx="40.90" cy="613.00" r="2.0" fill="#000000"/>
<circle cx="46.30" cy="615.50" r="2.0" fill="#000000"/>
<circle cx="35.50" cy="615.50" r="2.0" fill="#000000"/>
<circle cx="39.10" cy="615.50" r="2.0" fill="#000000"/>
<circle cx="42.70" cy="615.50" r="2.0" fill="#000000"/>
<circle cx="39.00" cy="617.10" r="2.0" fill="#000000"/>
<line x1="40.90" y1="612.00" x2="40.90" y2="617.00" stroke="#222" stroke-width="0.9"/>
<line x1="37.90" y1="612.00" x2="43.90" y2="612.00" stroke="#222" stroke-width="0.9"/>
<line x1="37.90" y1="617.00" x2="43.90" y2="617.00" stroke="#222" stroke-width="0.9"/>
<line x1="35.40" y1="614.50" x2="46.40" y2="614.50" stroke="#222" stroke-width="1.08"/>
<circle cx="57.80" cy="571.80" r="2.0" fill="#2ee6f2"/>
<circle cx="55.90" cy="589.60" r="2.0" fill="#2ee6f2"/>
<circle cx="59.70" cy="589.60" r="2.0" fill="#2ee6f2"/>
<circle cx="54.00" cy="592.20" r="2.0" fill="#2ee6f2"/>
<circle cx="55.90" cy="598.80" r="2.0" fill="#2ee6f2"/>
<circle cx="59.70" cy="598.80" r="2.0" fill="#2ee6f2"/>
<line x1="57.80" y1="580.40" x2="57.80" y2="601.20" stroke="#444" stroke-width="0.9"/>
<line x1="54.80" y1="580.40" x2="60.80" y2="580.40" stroke="#444" stroke-width="0.9"/>
<line x1="54.80" y1="601.20" x2="60.80" y2="601.20" stroke="#444" stroke-width="0.9"/>
<line x1="52.30" y1="591.00" x2="63.30" y2="591.00" stroke="#444" stroke-width="1.08"/>
<circle cx="72.70" cy="544.60" r="2.0" fill="#7f2aba"/>
<circle cx="76.50" cy="544.60" r="2.0" fill="#7f2aba"/>
<circle cx="74.60" cy="555.40" r="2.0" fill="#7f2aba"/>
<circle cx="74.60" cy="570.10" r="2.0" fill="#7f2aba"/>
<circle cx="74.60" cy="582.80" r="2.0" fill="#7f2aba"/>
<circle cx="74.60" cy="595.50" r="2.0" fill="#7f2aba"/>
<line x1="74.60" y1="544.00" x2="74.60" y2="586.50" stroke="#5a2a80" stroke-width="0.9"/>
<line x1="71.60" y1="544.00" x2="77.60" y2="544.00" stroke="#5a2a80" stroke-width="0.9"/>
<line x1="71.60" y1="586.50" x2="77.60" y2="586.50" stroke="#5a2a80" stroke-width="0.9"/>
<line x1="69.10" y1="565.40" x2="80.10" y2="565.40" stroke="#5a2a80" stroke-width="1.08"/>
<circle cx="91.60" cy="565.00" r="2.0" fill="#6a6a6a"/>
<circle cx="91.60" cy="573.60" r="2.0" fill="#6a6a6a"/>
<circle cx="91.60" cy="582.00" r="2.0" fill="#6a6a6a"/>
<circle cx="89.70" cy="591.20" r="2.0" fill="#6a6a6a"/>
<circle cx="93.50" cy="591.20" r="2.0" fill="#6a6a6a"/>
<circle cx="91.60" cy="605.50" r="2.0" fill="#6a6a6a"/>
<line x1="91.60" y1="570.10" x2="91.60" y2="599.20" stroke="#444" stroke-width="0.9"/>
<line x1="88.60" y1="570.10" x2="94.60" y2="570.10" stroke="#444" stroke-width="0.9"/>
<line x1="88.60" y1="599.20" x2="94.60" y2="599.20" stroke="#444" stroke-width="0.9"/>
<line x1="86.10" y1="584.40" x2="97.10" y2="584.40" stroke="#444" stroke-width="1.08"/>
<circle cx="108.30" cy="602.40" r="2.0" fill="#0c1ad0"/>
<circle cx="108.30" cy="609.00" r="2.0" fill="#0c1ad0"/>
<circle cx="108.30" cy="613.10" r="2.0" fill="#0c1ad0"/>
<circle cx="108.30" cy="617.60" r="2.0" fill="#0c1ad0"/>
<circle cx="112.10" cy="617.60" r="2.0" fill="#0c1ad0"/>
<circle cx="104.50" cy="617.60" r="2.0" fill="#0c1ad0"/>
<line x1="108.30" y1="605.30" x2="108.30" y2="616.00" stroke="#444" stroke-width="0.9"/>
<line x1="105.30" y1="605.30" x2="111.30" y2="605.30" stroke="#444" stroke-width="0.9"/>
<line x1="105.30" y1="616.00" x2="111.30" y2="616.00" stroke="#444" stroke-width="0.9"/>
<line x1="102.80" y1="611.00" x2="113.80" y2="611.00" stroke="#444" stroke-width="1.08"/>
<circle cx="125.30" cy="531.30" r="2.0" fill="#f01818"/>
<circle cx="125.30" cy="572.20" r="2.0" fill="#f01818"/>
<circle cx="123.40" cy="579.30" r="2.0" fill="#f01818"/>
<circle cx="127.20" cy="579.30" r="2.0" fill="#f01818"/>
<circle cx="125.30" cy="586.10" r="2.0" fill="#f01818"/>
<circle cx="125.30" cy="597.70" r="2.0" fill="#f01818"/>
<line x1="125.30" y1="552.20" x2="125.30" y2="597.70" stroke="#444" stroke-width="0.9"/>
<line x1="122.30" y1="552.20" x2="128.30" y2="552.20" stroke="#444" stroke-width="0.9"/>
<line x1="122.30" y1="597.70" x2="128.30" y2="597.70" stroke="#444" stroke-width="0.9"/>
<line x1="119.80" y1="574.80" x2="130.80" y2="574.80" stroke="#444" stroke-width="1.08"/>
<polyline points="40.90,485.70 40.90,481.90 125.30,481.90 125.30,485.70" fill="none" stroke="#1a1a1a" stroke-width="1.0"/>
<path d="M80.30,472.48L80.30,476.52M82.05,473.49L78.55,475.51M82.05,475.51L78.55,473.49" stroke="#000" stroke-width="1.10" stroke-linecap="round"/>
<circle cx="80.30" cy="474.50" r="0.84" fill="#000"/>
<path d="M85.90,472.48L85.90,476.52M87.65,473.49L84.15,475.51M87.65,475.51L84.15,473.49" stroke="#000" stroke-width="1.10" stroke-linecap="round"/>
<circle cx="85.90" cy="474.50" r="0.84" fill="#000"/>
<polyline points="91.60,497.70 91.60,493.90 125.30,493.90 125.30,497.70" fill="none" stroke="#1a1a1a" stroke-width="1.0"/>
<text x="108.30" y="489.45" font-size="8.2" font-weight="normal" text-anchor="middle" fill="#000">ns</text>
<polyline points="40.90,504.50 40.90,500.70 108.30,500.70 108.30,504.50" fill="none" stroke="#1a1a1a" stroke-width="1.0"/>
<text x="74.60" y="496.25" font-size="8.2" font-weight="normal" text-anchor="middle" fill="#000">ns</text>
<polyline points="40.90,515.70 40.90,511.90 74.60,511.90 74.60,515.70" fill="none" stroke="#1a1a1a" stroke-width="1.0"/>
<path d="M52.20,502.48L52.20,506.52M53.95,503.49L50.45,505.51M53.95,505.51L50.45,503.49" stroke="#000" stroke-width="1.10" stroke-linecap="round"/>
<circle cx="52.20" cy="504.50" r="0.84" fill="#000"/>
<path d="M57.80,502.48L57.80,506.52M59.55,503.49L56.05,505.51M59.55,505.51L56.05,503.49" stroke="#000" stroke-width="1.10" stroke-linecap="round"/>
<circle cx="57.80" cy="504.50" r="0.84" fill="#000"/>
<path d="M63.40,502.48L63.40,506.52M65.15,503.49L61.65,505.51M65.15,505.51L61.65,503.49" stroke="#000" stroke-width="1.10" stroke-linecap="round"/>
<circle cx="63.40" cy="504.50" r="0.84" fill="#000"/>
<polyline points="76.40,515.70 76.40,511.90 125.30,511.90 125.30,515.70" fill="none" stroke="#1a1a1a" stroke-width="1.0"/>
<text x="101.20" y="507.45" font-size="8.2" font-weight="normal" text-anchor="middle" fill="#000">ns</text>
<polyline points="40.90,529.00 40.90,525.20 91.60,525.20 91.60,529.00" fill="none" stroke="#1a1a1a" stroke-width="1.0"/>
<path d="M61.40,515.78L61.40,519.82M63.15,516.79L59.65,518.81M63.15,518.81L59.65,516.79" stroke="#000" stroke-width="1.10" stroke-linecap="round"/>
<circle cx="61.40" cy="517.80" r="0.84" fill="#000"/>
<path d="M67.00,515.78L67.00,519.82M68.75,516.79L65.25,518.81M68.75,518.81L65.25,516.79" stroke="#000" stroke-width="1.10" stroke-linecap="round"/>
<circle cx="67.00" cy="517.80" r="0.84" fill="#000"/>
<path d="M72.60,515.78L72.60,519.82M74.35,516.79L70.85,518.81M74.35,518.81L70.85,516.79" stroke="#000" stroke-width="1.10" stroke-linecap="round"/>
<circle cx="72.60" cy="517.80" r="0.84" fill="#000"/>
<polyline points="109.30,525.90 109.30,522.10 125.30,522.10 125.30,525.90" fill="none" stroke="#1a1a1a" stroke-width="1.0"/>
<path d="M113.70,512.68L113.70,516.72M115.45,513.69L111.95,515.71M115.45,515.71L111.95,513.69" stroke="#000" stroke-width="1.10" stroke-linecap="round"/>
<circle cx="113.70" cy="514.70" r="0.84" fill="#000"/>
<path d="M119.30,512.68L119.30,516.72M121.05,513.69L117.55,515.71M121.05,515.71L117.55,513.69" stroke="#000" stroke-width="1.10" stroke-linecap="round"/>
<circle cx="119.30" cy="514.70" r="0.84" fill="#000"/>
<polyline points="57.80,540.20 57.80,536.40 74.60,536.40 74.60,540.20" fill="none" stroke="#1a1a1a" stroke-width="1.0"/>
<path d="M66.40,526.98L66.40,531.02M68.15,527.99L64.65,530.01M68.15,530.01L64.65,527.99" stroke="#000" stroke-width="1.10" stroke-linecap="round"/>
<circle cx="66.40" cy="529.00" r="0.84" fill="#000"/>
<polyline points="76.80,540.20 76.80,536.40 91.60,536.40 91.60,540.20" fill="none" stroke="#1a1a1a" stroke-width="1.0"/>
<text x="85.40" y="531.95" font-size="8.2" font-weight="normal" text-anchor="middle" fill="#000">ns</text>
<polyline points="40.90,564.10 40.90,560.30 57.80,560.30 57.80,564.10" fill="none" stroke="#1a1a1a" stroke-width="1.0"/>
<path d="M43.90,550.88L43.90,554.92M45.65,551.89L42.15,553.91M45.65,553.91L42.15,551.89" stroke="#000" stroke-width="1.10" stroke-linecap="round"/>
<circle cx="43.90" cy="552.90" r="0.84" fill="#000"/>
<path d="M49.50,550.88L49.50,554.92M51.25,551.89L47.75,553.91M51.25,553.91L47.75,551.89" stroke="#000" stroke-width="1.10" stroke-linecap="round"/>
<circle cx="49.50" cy="552.90" r="0.84" fill="#000"/>
<path d="M55.10,550.88L55.10,554.92M56.85,551.89L53.35,553.91M56.85,553.91L53.35,551.89" stroke="#000" stroke-width="1.10" stroke-linecap="round"/>
<circle cx="55.10" cy="552.90" r="0.84" fill="#000"/>
<polyline points="91.60,559.60 91.60,555.80 108.30,555.80 108.30,559.60" fill="none" stroke="#1a1a1a" stroke-width="1.0"/>
<path d="M99.40,546.38L99.40,550.42M101.15,547.39L97.65,549.41M101.15,549.41L97.65,547.39" stroke="#000" stroke-width="1.10" stroke-linecap="round"/>
<circle cx="99.40" cy="548.40" r="0.84" fill="#000"/>
<path d="M105.00,546.38L105.00,550.42M106.75,547.39L103.25,549.41M106.75,549.41L103.25,547.39" stroke="#000" stroke-width="1.10" stroke-linecap="round"/>
<circle cx="105.00" cy="548.40" r="0.84" fill="#000"/>
<circle cx="146.70" cy="573.80" r="2.7" fill="#000000"/>
<text x="152.10" y="576.75" font-size="8.2" font-weight="bold" text-anchor="start" fill="#000">PBS</text>
<circle cx="146.70" cy="583.80" r="2.7" fill="#1ee8f5"/>
<text x="152.10" y="586.75" font-size="8.2" font-weight="bold" text-anchor="start" fill="#000">L1+AS04C</text>
<circle cx="146.70" cy="593.60" r="2.7" fill="#8a1fe0"/>
<text x="152.10" y="596.55" font-size="8.2" font-weight="bold" text-anchor="start" fill="#000">L1+AS04D</text>
<circle cx="146.70" cy="603.30" r="2.7" fill="#6e6e6e"/>
<text x="152.10" y="606.25" font-size="8.2" font-weight="bold" text-anchor="start" fill="#000">L1+MF59</text>
<circle cx="146.70" cy="612.70" r="2.7" fill="#0a12e8"/>
<text x="152.10" y="615.65" font-size="8.2" font-weight="bold" text-anchor="start" fill="#000">L1+GP96</text>
<circle cx="146.70" cy="622.80" r="2.7" fill="#ff1010"/>
<text x="152.10" y="625.75" font-size="8.2" font-weight="bold" text-anchor="start" fill="#000">L1-GP96-Fusion</text>
<text x="227.60" y="421.18" font-size="13" font-weight="bold" text-anchor="start" fill="#000">H</text>
<text x="326.4" y="424.8" font-size="8.2" font-weight="bold" text-anchor="middle">Day 40 L1<tspan dy="-3" font-size="6.2">+</tspan><tspan dy="3"> GC B cells</tspan></text>
<line x1="268.20" y1="508.40" x2="268.20" y2="627.50" stroke="#000" stroke-width="1.3"/>
<line x1="265.20" y1="508.40" x2="268.20" y2="508.40" stroke="#000" stroke-width="1.3"/>
<text x="263.80" y="511.14" font-size="7.6" font-weight="bold" text-anchor="end" fill="#000">0.4</text>
<line x1="265.20" y1="538.40" x2="268.20" y2="538.40" stroke="#000" stroke-width="1.3"/>
<text x="263.80" y="541.14" font-size="7.6" font-weight="bold" text-anchor="end" fill="#000">0.3</text>
<line x1="265.20" y1="568.20" x2="268.20" y2="568.20" stroke="#000" stroke-width="1.3"/>
<text x="263.80" y="570.94" font-size="7.6" font-weight="bold" text-anchor="end" fill="#000">0.2</text>
<line x1="265.20" y1="597.50" x2="268.20" y2="597.50" stroke="#000" stroke-width="1.3"/>
<text x="263.80" y="600.24" font-size="7.6" font-weight="bold" text-anchor="end" fill="#000">0.1</text>
<line x1="265.20" y1="627.30" x2="268.20" y2="627.30" stroke="#000" stroke-width="1.3"/>
<text x="263.80" y="630.04" font-size="7.6" font-weight="bold" text-anchor="end" fill="#000">0.0</text>
<text x="245.20" y="570.88" font-size="8.0" font-weight="bold" text-anchor="middle" fill="#000" transform="rotate(-90 245.20 568.00)">% of B cells</text>
<line x1="268.20" y1="627.30" x2="375.50" y2="627.30" stroke="#000" stroke-width="1.3"/>
<line x1="279.60" y1="627.30" x2="279.60" y2="630.30" stroke="#000" stroke-width="1.3"/>
<line x1="296.60" y1="627.30" x2="296.60" y2="630.30" stroke="#000" stroke-width="1.3"/>
<line x1="313.70" y1="627.30" x2="313.70" y2="630.30" stroke="#000" stroke-width="1.3"/>
<line x1="330.10" y1="627.30" x2="330.10" y2="630.30" stroke="#000" stroke-width="1.3"/>
<line x1="346.60" y1="627.30" x2="346.60" y2="630.30" stroke="#000" stroke-width="1.3"/>
<line x1="363.40" y1="627.30" x2="363.40" y2="630.30" stroke="#000" stroke-width="1.3"/>
<line x1="270.00" y1="627.30" x2="270.00" y2="628.80" stroke="#000" stroke-width="0.8"/>
<line x1="273.30" y1="627.30" x2="273.30" y2="628.80" stroke="#000" stroke-width="0.8"/>
<line x1="276.60" y1="627.30" x2="276.60" y2="628.80" stroke="#000" stroke-width="0.8"/>
<line x1="279.90" y1="627.30" x2="279.90" y2="628.80" stroke="#000" stroke-width="0.8"/>
<line x1="283.20" y1="627.30" x2="283.20" y2="628.80" stroke="#000" stroke-width="0.8"/>
<line x1="286.50" y1="627.30" x2="286.50" y2="628.80" stroke="#000" stroke-width="0.8"/>
<line x1="289.80" y1="627.30" x2="289.80" y2="628.80" stroke="#000" stroke-width="0.8"/>
<line x1="293.10" y1="627.30" x2="293.10" y2="628.80" stroke="#000" stroke-width="0.8"/>
<line x1="296.40" y1="627.30" x2="296.40" y2="628.80" stroke="#000" stroke-width="0.8"/>
<line x1="299.70" y1="627.30" x2="299.70" y2="628.80" stroke="#000" stroke-width="0.8"/>
<line x1="303.00" y1="627.30" x2="303.00" y2="628.80" stroke="#000" stroke-width="0.8"/>
<line x1="306.30" y1="627.30" x2="306.30" y2="628.80" stroke="#000" stroke-width="0.8"/>
<line x1="309.60" y1="627.30" x2="309.60" y2="628.80" stroke="#000" stroke-width="0.8"/>
<line x1="312.90" y1="627.30" x2="312.90" y2="628.80" stroke="#000" stroke-width="0.8"/>
<line x1="316.20" y1="627.30" x2="316.20" y2="628.80" stroke="#000" stroke-width="0.8"/>
<line x1="319.50" y1="627.30" x2="319.50" y2="628.80" stroke="#000" stroke-width="0.8"/>
<line x1="322.80" y1="627.30" x2="322.80" y2="628.80" stroke="#000" stroke-width="0.8"/>
<line x1="326.10" y1="627.30" x2="326.10" y2="628.80" stroke="#000" stroke-width="0.8"/>
<line x1="329.40" y1="627.30" x2="329.40" y2="628.80" stroke="#000" stroke-width="0.8"/>
<line x1="332.70" y1="627.30" x2="332.70" y2="628.80" stroke="#000" stroke-width="0.8"/>
<line x1="336.00" y1="627.30" x2="336.00" y2="628.80" stroke="#000" stroke-width="0.8"/>
<line x1="339.30" y1="627.30" x2="339.30" y2="628.80" stroke="#000" stroke-width="0.8"/>
<line x1="342.60" y1="627.30" x2="342.60" y2="628.80" stroke="#000" stroke-width="0.8"/>
<line x1="345.90" y1="627.30" x2="345.90" y2="628.80" stroke="#000" stroke-width="0.8"/>
<line x1="349.20" y1="627.30" x2="349.20" y2="628.80" stroke="#000" stroke-width="0.8"/>
<line x1="352.50" y1="627.30" x2="352.50" y2="628.80" stroke="#000" stroke-width="0.8"/>
<line x1="355.80" y1="627.30" x2="355.80" y2="628.80" stroke="#000" stroke-width="0.8"/>
<line x1="359.10" y1="627.30" x2="359.10" y2="628.80" stroke="#000" stroke-width="0.8"/>
<line x1="362.40" y1="627.30" x2="362.40" y2="628.80" stroke="#000" stroke-width="0.8"/>
<line x1="365.70" y1="627.30" x2="365.70" y2="628.80" stroke="#000" stroke-width="0.8"/>
<line x1="369.00" y1="627.30" x2="369.00" y2="628.80" stroke="#000" stroke-width="0.8"/>
<line x1="372.30" y1="627.30" x2="372.30" y2="628.80" stroke="#000" stroke-width="0.8"/>
<circle cx="277.70" cy="609.80" r="2.0" fill="#000000"/>
<circle cx="281.50" cy="609.80" r="2.0" fill="#000000"/>
<circle cx="279.60" cy="613.70" r="2.0" fill="#000000"/>
<circle cx="283.40" cy="613.70" r="2.0" fill="#000000"/>
<circle cx="275.80" cy="613.70" r="2.0" fill="#000000"/>
<circle cx="281.50" cy="616.30" r="2.0" fill="#000000"/>
<line x1="279.60" y1="610.00" x2="279.60" y2="614.50" stroke="#444" stroke-width="0.9"/>
<line x1="276.60" y1="610.00" x2="282.60" y2="610.00" stroke="#444" stroke-width="0.9"/>
<line x1="276.60" y1="614.50" x2="282.60" y2="614.50" stroke="#444" stroke-width="0.9"/>
<line x1="274.10" y1="612.00" x2="285.10" y2="612.00" stroke="#444" stroke-width="1.08"/>
<circle cx="296.60" cy="539.00" r="2.0" fill="#2ee6f2"/>
<circle cx="296.60" cy="602.10" r="2.0" fill="#2ee6f2"/>
<circle cx="300.40" cy="604.30" r="2.0" fill="#2ee6f2"/>
<circle cx="296.60" cy="607.60" r="2.0" fill="#2ee6f2"/>
<circle cx="294.70" cy="612.40" r="2.0" fill="#2ee6f2"/>
<circle cx="298.50" cy="612.40" r="2.0" fill="#2ee6f2"/>
<line x1="296.60" y1="568.20" x2="296.60" y2="624.40" stroke="#444" stroke-width="0.9"/>
<line x1="293.60" y1="568.20" x2="299.60" y2="568.20" stroke="#444" stroke-width="0.9"/>
<line x1="293.60" y1="624.40" x2="299.60" y2="624.40" stroke="#444" stroke-width="0.9"/>
<line x1="291.10" y1="596.20" x2="302.10" y2="596.20" stroke="#444" stroke-width="1.08"/>
<circle cx="311.80" cy="604.30" r="2.0" fill="#7f2aba"/>
<circle cx="315.60" cy="604.30" r="2.0" fill="#7f2aba"/>
<circle cx="315.60" cy="607.60" r="2.0" fill="#7f2aba"/>
<circle cx="311.80" cy="609.80" r="2.0" fill="#7f2aba"/>
<circle cx="315.60" cy="612.40" r="2.0" fill="#7f2aba"/>
<circle cx="311.80" cy="614.60" r="2.0" fill="#7f2aba"/>
<line x1="313.70" y1="606.50" x2="313.70" y2="613.50" stroke="#444" stroke-width="0.9"/>
<line x1="310.70" y1="606.50" x2="316.70" y2="606.50" stroke="#444" stroke-width="0.9"/>
<line x1="310.70" y1="613.50" x2="316.70" y2="613.50" stroke="#444" stroke-width="0.9"/>
<line x1="308.20" y1="610.20" x2="319.20" y2="610.20" stroke="#444" stroke-width="1.08"/>
<circle cx="330.10" cy="576.50" r="2.0" fill="#6a6a6a"/>
<circle cx="328.20" cy="584.60" r="2.0" fill="#6a6a6a"/>
<circle cx="332.00" cy="584.60" r="2.0" fill="#6a6a6a"/>
<circle cx="328.20" cy="603.20" r="2.0" fill="#6a6a6a"/>
<circle cx="332.00" cy="603.20" r="2.0" fill="#6a6a6a"/>
<circle cx="330.10" cy="615.20" r="2.0" fill="#6a6a6a"/>
<line x1="330.10" y1="579.60" x2="330.10" y2="609.30" stroke="#444" stroke-width="0.9"/>
<line x1="327.10" y1="579.60" x2="333.10" y2="579.60" stroke="#444" stroke-width="0.9"/>
<line x1="327.10" y1="609.30" x2="333.10" y2="609.30" stroke="#444" stroke-width="0.9"/>
<line x1="324.60" y1="594.40" x2="335.60" y2="594.40" stroke="#444" stroke-width="1.08"/>
<circle cx="346.60" cy="600.60" r="2.0" fill="#0c1ad0"/>
<circle cx="346.60" cy="609.30" r="2.0" fill="#0c1ad0"/>
<circle cx="344.70" cy="613.10" r="2.0" fill="#0c1ad0"/>
<circle cx="348.50" cy="613.10" r="2.0" fill="#0c1ad0"/>
<circle cx="344.70" cy="619.00" r="2.0" fill="#0c1ad0"/>
<circle cx="348.50" cy="619.00" r="2.0" fill="#0c1ad0"/>
<line x1="346.60" y1="605.40" x2="346.60" y2="619.60" stroke="#444" stroke-width="0.9"/>
<line x1="343.60" y1="605.40" x2="349.60" y2="605.40" stroke="#444" stroke-width="0.9"/>
<line x1="343.60" y1="619.60" x2="349.60" y2="619.60" stroke="#444" stroke-width="0.9"/>
<line x1="341.10" y1="612.40" x2="352.10" y2="612.40" stroke="#444" stroke-width="1.08"/>
<circle cx="363.40" cy="514.30" r="2.0" fill="#f01818"/>
<circle cx="363.40" cy="524.20" r="2.0" fill="#f01818"/>
<circle cx="363.40" cy="530.70" r="2.0" fill="#f01818"/>
<circle cx="361.50" cy="560.50" r="2.0" fill="#f01818"/>
<circle cx="365.30" cy="560.50" r="2.0" fill="#f01818"/>
<circle cx="363.40" cy="583.90" r="2.0" fill="#f01818"/>
<line x1="363.40" y1="519.30" x2="363.40" y2="573.00" stroke="#444" stroke-width="0.9"/>
<line x1="360.40" y1="519.30" x2="366.40" y2="519.30" stroke="#444" stroke-width="0.9"/>
<line x1="360.40" y1="573.00" x2="366.40" y2="573.00" stroke="#444" stroke-width="0.9"/>
<line x1="357.90" y1="545.60" x2="368.90" y2="545.60" stroke="#444" stroke-width="1.08"/>
<polyline points="279.60,447.20 279.60,443.40 363.40,443.40 363.40,447.20" fill="none" stroke="#1a1a1a" stroke-width="1.0"/>
<path d="M315.90,433.98L315.90,438.02M317.65,434.99L314.15,437.01M317.65,437.01L314.15,434.99" stroke="#000" stroke-width="1.10" stroke-linecap="round"/>
<circle cx="315.90" cy="436.00" r="0.84" fill="#000"/>
<path d="M321.50,433.98L321.50,438.02M323.25,434.99L319.75,437.01M323.25,437.01L319.75,434.99" stroke="#000" stroke-width="1.10" stroke-linecap="round"/>
<circle cx="321.50" cy="436.00" r="0.84" fill="#000"/>
<path d="M327.10,433.98L327.10,438.02M328.85,434.99L325.35,437.01M328.85,437.01L325.35,434.99" stroke="#000" stroke-width="1.10" stroke-linecap="round"/>
<circle cx="327.10" cy="436.00" r="0.84" fill="#000"/>
<polyline points="296.60,459.60 296.60,455.80 363.40,455.80 363.40,459.60" fill="none" stroke="#1a1a1a" stroke-width="1.0"/>
<path d="M335.40,446.38L335.40,450.42M337.15,447.39L333.65,449.41M337.15,449.41L333.65,447.39" stroke="#000" stroke-width="1.10" stroke-linecap="round"/>
<circle cx="335.40" cy="448.40" r="0.84" fill="#000"/>
<polyline points="313.70,472.10 313.70,468.30 363.40,468.30 363.40,472.10" fill="none" stroke="#1a1a1a" stroke-width="1.0"/>
<path d="M341.40,458.88L341.40,462.92M343.15,459.89L339.65,461.91M343.15,461.91L339.65,459.89" stroke="#000" stroke-width="1.10" stroke-linecap="round"/>
<circle cx="341.40" cy="460.90" r="0.84" fill="#000"/>
<path d="M347.00,458.88L347.00,462.92M348.75,459.89L345.25,461.91M348.75,461.91L345.25,459.89" stroke="#000" stroke-width="1.10" stroke-linecap="round"/>
<circle cx="347.00" cy="460.90" r="0.84" fill="#000"/>
<path d="M352.60,458.88L352.60,462.92M354.35,459.89L350.85,461.91M354.35,461.91L350.85,459.89" stroke="#000" stroke-width="1.10" stroke-linecap="round"/>
<circle cx="352.60" cy="460.90" r="0.84" fill="#000"/>
<polyline points="330.10,482.60 330.10,478.80 363.40,478.80 363.40,482.60" fill="none" stroke="#1a1a1a" stroke-width="1.0"/>
<path d="M342.40,469.38L342.40,473.42M344.15,470.39L340.65,472.41M344.15,472.41L340.65,470.39" stroke="#000" stroke-width="1.10" stroke-linecap="round"/>
<circle cx="342.40" cy="471.40" r="0.84" fill="#000"/>
<path d="M348.00,469.38L348.00,473.42M349.75,470.39L346.25,472.41M349.75,472.41L346.25,470.39" stroke="#000" stroke-width="1.10" stroke-linecap="round"/>
<circle cx="348.00" cy="471.40" r="0.84" fill="#000"/>
<polyline points="279.60,498.00 279.60,494.20 342.60,494.20 342.60,498.00" fill="none" stroke="#1a1a1a" stroke-width="1.0"/>
<text x="310.90" y="489.75" font-size="8.2" font-weight="normal" text-anchor="middle" fill="#000">ns</text>
<polyline points="346.30,498.00 346.30,494.20 363.40,494.20 363.40,498.00" fill="none" stroke="#1a1a1a" stroke-width="1.0"/>
<path d="M349.10,484.78L349.10,488.82M350.85,485.79L347.35,487.81M350.85,487.81L347.35,485.79" stroke="#000" stroke-width="1.10" stroke-linecap="round"/>
<circle cx="349.10" cy="486.80" r="0.84" fill="#000"/>
<path d="M354.70,484.78L354.70,488.82M356.45,485.79L352.95,487.81M356.45,487.81L352.95,485.79" stroke="#000" stroke-width="1.10" stroke-linecap="round"/>
<circle cx="354.70" cy="486.80" r="0.84" fill="#000"/>
<path d="M360.30,484.78L360.30,488.82M362.05,485.79L358.55,487.81M362.05,487.81L358.55,485.79" stroke="#000" stroke-width="1.10" stroke-linecap="round"/>
<circle cx="360.30" cy="486.80" r="0.84" fill="#000"/>
<polyline points="279.60,511.10 279.60,507.30 326.60,507.30 326.60,511.10" fill="none" stroke="#1a1a1a" stroke-width="1.0"/>
<path d="M302.80,497.88L302.80,501.92M304.55,498.89L301.05,500.91M304.55,500.91L301.05,498.89" stroke="#000" stroke-width="1.10" stroke-linecap="round"/>
<circle cx="302.80" cy="499.90" r="0.84" fill="#000"/>
<polyline points="279.60,524.20 279.60,520.40 313.70,520.40 313.70,524.20" fill="none" stroke="#1a1a1a" stroke-width="1.0"/>
<text x="296.20" y="515.95" font-size="8.2" font-weight="normal" text-anchor="middle" fill="#000">ns</text>
<polyline points="279.60,535.80 279.60,532.00 296.60,532.00 296.60,535.80" fill="none" stroke="#1a1a1a" stroke-width="1.0"/>
<text x="287.90" y="527.55" font-size="8.2" font-weight="normal" text-anchor="middle" fill="#000">ns</text>
<polyline points="313.70,568.30 313.70,564.50 328.60,564.50 328.60,568.30" fill="none" stroke="#1a1a1a" stroke-width="1.0"/>
<path d="M321.15,555.08L321.15,559.12M322.90,556.09L319.40,558.11M322.90,558.11L319.40,556.09" stroke="#000" stroke-width="1.10" stroke-linecap="round"/>
<circle cx="321.15" cy="557.10" r="0.84" fill="#000"/>
<polyline points="331.60,568.30 331.60,564.50 346.60,564.50 346.60,568.30" fill="none" stroke="#1a1a1a" stroke-width="1.0"/>
<path d="M339.10,555.08L339.10,559.12M340.85,556.09L337.35,558.11M340.85,558.11L337.35,556.09" stroke="#000" stroke-width="1.10" stroke-linecap="round"/>
<circle cx="339.10" cy="557.10" r="0.84" fill="#000"/>
<circle cx="382.20" cy="569.40" r="2.7" fill="#000000"/>
<text x="387.90" y="572.35" font-size="8.2" font-weight="bold" text-anchor="start" fill="#000">PBS</text>
<circle cx="382.20" cy="579.50" r="2.7" fill="#1ee8f5"/>
<text x="387.90" y="582.45" font-size="8.2" font-weight="bold" text-anchor="start" fill="#000">L1+AS04C</text>
<circle cx="382.20" cy="589.50" r="2.7" fill="#8a1fe0"/>
<text x="387.90" y="592.45" font-size="8.2" font-weight="bold" text-anchor="start" fill="#000">L1+AS04D</text>
<circle cx="382.20" cy="599.60" r="2.7" fill="#6e6e6e"/>
<text x="387.90" y="602.55" font-size="8.2" font-weight="bold" text-anchor="start" fill="#000">L1+MF59</text>
<circle cx="382.20" cy="609.40" r="2.7" fill="#0a12e8"/>
<text x="387.90" y="612.35" font-size="8.2" font-weight="bold" text-anchor="start" fill="#000">L1+GP96</text>
<circle cx="382.20" cy="619.40" r="2.7" fill="#ff1010"/>
<text x="387.90" y="622.35" font-size="8.2" font-weight="bold" text-anchor="start" fill="#000">L1-GP96-Fusion</text>
<text x="459.00" y="420.68" font-size="13" font-weight="bold" text-anchor="start" fill="#000">I</text>
<text x="559.8" y="471.2" font-size="8.2" font-weight="bold" text-anchor="middle">Day 40 L1<tspan dy="-3" font-size="6.2">+</tspan><tspan dy="3"> MBC Precursors</tspan></text>
<line x1="500.80" y1="508.40" x2="500.80" y2="627.30" stroke="#000" stroke-width="1.3"/>
<line x1="497.80" y1="508.40" x2="500.80" y2="508.40" stroke="#000" stroke-width="1.3"/>
<text x="496.30" y="511.14" font-size="7.6" font-weight="bold" text-anchor="end" fill="#000">0.5</text>
<line x1="497.80" y1="532.60" x2="500.80" y2="532.60" stroke="#000" stroke-width="1.3"/>
<text x="496.30" y="535.34" font-size="7.6" font-weight="bold" text-anchor="end" fill="#000">0.4</text>
<line x1="497.80" y1="556.20" x2="500.80" y2="556.20" stroke="#000" stroke-width="1.3"/>
<text x="496.30" y="558.94" font-size="7.6" font-weight="bold" text-anchor="end" fill="#000">0.3</text>
<line x1="497.80" y1="579.70" x2="500.80" y2="579.70" stroke="#000" stroke-width="1.3"/>
<text x="496.30" y="582.44" font-size="7.6" font-weight="bold" text-anchor="end" fill="#000">0.2</text>
<line x1="497.80" y1="603.60" x2="500.80" y2="603.60" stroke="#000" stroke-width="1.3"/>
<text x="496.30" y="606.34" font-size="7.6" font-weight="bold" text-anchor="end" fill="#000">0.1</text>
<line x1="497.80" y1="627.30" x2="500.80" y2="627.30" stroke="#000" stroke-width="1.3"/>
<text x="496.30" y="630.04" font-size="7.6" font-weight="bold" text-anchor="end" fill="#000">0.0</text>
<text x="477.40" y="571.28" font-size="8.0" font-weight="bold" text-anchor="middle" fill="#000" transform="rotate(-90 477.40 568.40)">% of B cells</text>
<line x1="500.80" y1="627.30" x2="607.80" y2="627.30" stroke="#000" stroke-width="1.3"/>
<line x1="511.50" y1="627.30" x2="511.50" y2="630.30" stroke="#000" stroke-width="1.3"/>
<line x1="528.40" y1="627.30" x2="528.40" y2="630.30" stroke="#000" stroke-width="1.3"/>
<line x1="545.20" y1="627.30" x2="545.20" y2="630.30" stroke="#000" stroke-width="1.3"/>
<line x1="562.10" y1="627.30" x2="562.10" y2="630.30" stroke="#000" stroke-width="1.3"/>
<line x1="578.80" y1="627.30" x2="578.80" y2="630.30" stroke="#000" stroke-width="1.3"/>
<line x1="595.60" y1="627.30" x2="595.60" y2="630.30" stroke="#000" stroke-width="1.3"/>
<line x1="503.00" y1="627.30" x2="503.00" y2="628.80" stroke="#000" stroke-width="0.8"/>
<line x1="506.30" y1="627.30" x2="506.30" y2="628.80" stroke="#000" stroke-width="0.8"/>
<line x1="509.60" y1="627.30" x2="509.60" y2="628.80" stroke="#000" stroke-width="0.8"/>
<line x1="512.90" y1="627.30" x2="512.90" y2="628.80" stroke="#000" stroke-width="0.8"/>
<line x1="516.20" y1="627.30" x2="516.20" y2="628.80" stroke="#000" stroke-width="0.8"/>
<line x1="519.50" y1="627.30" x2="519.50" y2="628.80" stroke="#000" stroke-width="0.8"/>
<line x1="522.80" y1="627.30" x2="522.80" y2="628.80" stroke="#000" stroke-width="0.8"/>
<line x1="526.10" y1="627.30" x2="526.10" y2="628.80" stroke="#000" stroke-width="0.8"/>
<line x1="529.40" y1="627.30" x2="529.40" y2="628.80" stroke="#000" stroke-width="0.8"/>
<line x1="532.70" y1="627.30" x2="532.70" y2="628.80" stroke="#000" stroke-width="0.8"/>
<line x1="536.00" y1="627.30" x2="536.00" y2="628.80" stroke="#000" stroke-width="0.8"/>
<line x1="539.30" y1="627.30" x2="539.30" y2="628.80" stroke="#000" stroke-width="0.8"/>
<line x1="542.60" y1="627.30" x2="542.60" y2="628.80" stroke="#000" stroke-width="0.8"/>
<line x1="545.90" y1="627.30" x2="545.90" y2="628.80" stroke="#000" stroke-width="0.8"/>
<line x1="549.20" y1="627.30" x2="549.20" y2="628.80" stroke="#000" stroke-width="0.8"/>
<line x1="552.50" y1="627.30" x2="552.50" y2="628.80" stroke="#000" stroke-width="0.8"/>
<line x1="555.80" y1="627.30" x2="555.80" y2="628.80" stroke="#000" stroke-width="0.8"/>
<line x1="559.10" y1="627.30" x2="559.10" y2="628.80" stroke="#000" stroke-width="0.8"/>
<line x1="562.40" y1="627.30" x2="562.40" y2="628.80" stroke="#000" stroke-width="0.8"/>
<line x1="565.70" y1="627.30" x2="565.70" y2="628.80" stroke="#000" stroke-width="0.8"/>
<line x1="569.00" y1="627.30" x2="569.00" y2="628.80" stroke="#000" stroke-width="0.8"/>
<line x1="572.30" y1="627.30" x2="572.30" y2="628.80" stroke="#000" stroke-width="0.8"/>
<line x1="575.60" y1="627.30" x2="575.60" y2="628.80" stroke="#000" stroke-width="0.8"/>
<line x1="578.90" y1="627.30" x2="578.90" y2="628.80" stroke="#000" stroke-width="0.8"/>
<line x1="582.20" y1="627.30" x2="582.20" y2="628.80" stroke="#000" stroke-width="0.8"/>
<line x1="585.50" y1="627.30" x2="585.50" y2="628.80" stroke="#000" stroke-width="0.8"/>
<line x1="588.80" y1="627.30" x2="588.80" y2="628.80" stroke="#000" stroke-width="0.8"/>
<line x1="592.10" y1="627.30" x2="592.10" y2="628.80" stroke="#000" stroke-width="0.8"/>
<line x1="595.40" y1="627.30" x2="595.40" y2="628.80" stroke="#000" stroke-width="0.8"/>
<line x1="598.70" y1="627.30" x2="598.70" y2="628.80" stroke="#000" stroke-width="0.8"/>
<line x1="602.00" y1="627.30" x2="602.00" y2="628.80" stroke="#000" stroke-width="0.8"/>
<line x1="605.30" y1="627.30" x2="605.30" y2="628.80" stroke="#000" stroke-width="0.8"/>
<circle cx="511.50" cy="607.60" r="2.0" fill="#000000"/>
<circle cx="515.30" cy="610.20" r="2.0" fill="#000000"/>
<circle cx="511.50" cy="613.10" r="2.0" fill="#000000"/>
<circle cx="515.30" cy="615.20" r="2.0" fill="#000000"/>
<circle cx="507.70" cy="616.30" r="2.0" fill="#000000"/>
<circle cx="511.50" cy="619.00" r="2.0" fill="#000000"/>
<line x1="511.50" y1="610.50" x2="511.50" y2="617.00" stroke="#444" stroke-width="0.9"/>
<line x1="508.50" y1="610.50" x2="514.50" y2="610.50" stroke="#444" stroke-width="0.9"/>
<line x1="508.50" y1="617.00" x2="514.50" y2="617.00" stroke="#444" stroke-width="0.9"/>
<line x1="506.00" y1="613.70" x2="517.00" y2="613.70" stroke="#444" stroke-width="1.08"/>
<circle cx="528.40" cy="586.10" r="2.0" fill="#2ee6f2"/>
<circle cx="528.40" cy="604.30" r="2.0" fill="#2ee6f2"/>
<circle cx="528.40" cy="612.00" r="2.0" fill="#2ee6f2"/>
<circle cx="530.30" cy="613.10" r="2.0" fill="#2ee6f2"/>
<circle cx="526.50" cy="613.10" r="2.0" fill="#2ee6f2"/>
<line x1="528.40" y1="594.40" x2="528.40" y2="614.20" stroke="#444" stroke-width="0.9"/>
<line x1="525.40" y1="594.40" x2="531.40" y2="594.40" stroke="#444" stroke-width="0.9"/>
<line x1="525.40" y1="614.20" x2="531.40" y2="614.20" stroke="#444" stroke-width="0.9"/>
<line x1="522.90" y1="604.30" x2="533.90" y2="604.30" stroke="#444" stroke-width="1.08"/>
<circle cx="545.20" cy="597.70" r="2.0" fill="#7f2aba"/>
<circle cx="545.20" cy="604.30" r="2.0" fill="#7f2aba"/>
<circle cx="549.00" cy="607.10" r="2.0" fill="#7f2aba"/>
<circle cx="547.10" cy="610.20" r="2.0" fill="#7f2aba"/>
<circle cx="543.30" cy="610.20" r="2.0" fill="#7f2aba"/>
<circle cx="549.00" cy="613.10" r="2.0" fill="#7f2aba"/>
<line x1="545.20" y1="600.60" x2="545.20" y2="612.00" stroke="#444" stroke-width="0.9"/>
<line x1="542.20" y1="600.60" x2="548.20" y2="600.60" stroke="#444" stroke-width="0.9"/>
<line x1="542.20" y1="612.00" x2="548.20" y2="612.00" stroke="#444" stroke-width="0.9"/>
<line x1="539.70" y1="606.50" x2="550.70" y2="606.50" stroke="#444" stroke-width="1.08"/>
<circle cx="560.20" cy="597.70" r="2.0" fill="#6a6a6a"/>
<circle cx="564.00" cy="597.70" r="2.0" fill="#6a6a6a"/>
<circle cx="564.00" cy="601.50" r="2.0" fill="#6a6a6a"/>
<circle cx="560.20" cy="604.30" r="2.0" fill="#6a6a6a"/>
<circle cx="560.20" cy="609.30" r="2.0" fill="#6a6a6a"/>
<circle cx="564.00" cy="609.30" r="2.0" fill="#6a6a6a"/>
<line x1="562.10" y1="599.30" x2="562.10" y2="607.60" stroke="#444" stroke-width="0.9"/>
<line x1="559.10" y1="599.30" x2="565.10" y2="599.30" stroke="#444" stroke-width="0.9"/>
<line x1="559.10" y1="607.60" x2="565.10" y2="607.60" stroke="#444" stroke-width="0.9"/>
<line x1="556.60" y1="603.60" x2="567.60" y2="603.60" stroke="#444" stroke-width="1.08"/>
<circle cx="578.80" cy="570.40" r="2.0" fill="#0c1ad0"/>
<circle cx="578.80" cy="590.50" r="2.0" fill="#0c1ad0"/>
<circle cx="576.90" cy="612.40" r="2.0" fill="#0c1ad0"/>
<circle cx="580.70" cy="612.40" r="2.0" fill="#0c1ad0"/>
<circle cx="575.00" cy="613.10" r="2.0" fill="#0c1ad0"/>
<circle cx="578.80" cy="619.60" r="2.0" fill="#0c1ad0"/>
<line x1="578.80" y1="584.60" x2="578.80" y2="622.30" stroke="#444" stroke-width="0.9"/>
<line x1="575.80" y1="584.60" x2="581.80" y2="584.60" stroke="#444" stroke-width="0.9"/>
<line x1="575.80" y1="622.30" x2="581.80" y2="622.30" stroke="#444" stroke-width="0.9"/>
<line x1="573.30" y1="603.20" x2="584.30" y2="603.20" stroke="#444" stroke-width="1.08"/>
<circle cx="595.60" cy="534.20" r="2.0" fill="#f01818"/>
<circle cx="595.60" cy="575.80" r="2.0" fill="#f01818"/>
<circle cx="599.40" cy="578.70" r="2.0" fill="#f01818"/>
<circle cx="595.60" cy="583.90" r="2.0" fill="#f01818"/>
<circle cx="593.70" cy="591.20" r="2.0" fill="#f01818"/>
<circle cx="597.50" cy="591.20" r="2.0" fill="#f01818"/>
<line x1="595.60" y1="554.60" x2="595.60" y2="597.10" stroke="#444" stroke-width="0.9"/>
<line x1="592.60" y1="554.60" x2="598.60" y2="554.60" stroke="#444" stroke-width="0.9"/>
<line x1="592.60" y1="597.10" x2="598.60" y2="597.10" stroke="#444" stroke-width="0.9"/>
<line x1="590.10" y1="575.40" x2="601.10" y2="575.40" stroke="#444" stroke-width="1.08"/>
<polyline points="511.50,499.00 511.50,495.20 595.60,495.20 595.60,499.00" fill="none" stroke="#1a1a1a" stroke-width="1.0"/>
<path d="M550.75,485.78L550.75,489.82M552.50,486.79L549.00,488.81M552.50,488.81L549.00,486.79" stroke="#000" stroke-width="1.10" stroke-linecap="round"/>
<circle cx="550.75" cy="487.80" r="0.84" fill="#000"/>
<path d="M556.35,485.78L556.35,489.82M558.10,486.79L554.60,488.81M558.10,488.81L554.60,486.79" stroke="#000" stroke-width="1.10" stroke-linecap="round"/>
<circle cx="556.35" cy="487.80" r="0.84" fill="#000"/>
<polyline points="547.20,510.40 547.20,506.60 595.60,506.60 595.60,510.40" fill="none" stroke="#1a1a1a" stroke-width="1.0"/>
<path d="M568.30,497.18L568.30,501.22M570.05,498.19L566.55,500.21M570.05,500.21L566.55,498.19" stroke="#000" stroke-width="1.10" stroke-linecap="round"/>
<circle cx="568.30" cy="499.20" r="0.84" fill="#000"/>
<path d="M573.90,497.18L573.90,501.22M575.65,498.19L572.15,500.21M575.65,500.21L572.15,498.19" stroke="#000" stroke-width="1.10" stroke-linecap="round"/>
<circle cx="573.90" cy="499.20" r="0.84" fill="#000"/>
<polyline points="563.90,520.50 563.90,516.70 595.60,516.70 595.60,520.50" fill="none" stroke="#1a1a1a" stroke-width="1.0"/>
<path d="M579.60,507.28L579.60,511.32M581.35,508.29L577.85,510.31M581.35,510.31L577.85,508.29" stroke="#000" stroke-width="1.10" stroke-linecap="round"/>
<circle cx="579.60" cy="509.30" r="0.84" fill="#000"/>
<polyline points="578.50,530.40 578.50,526.60 595.60,526.60 595.60,530.40" fill="none" stroke="#1a1a1a" stroke-width="1.0"/>
<path d="M586.90,517.18L586.90,521.22M588.65,518.19L585.15,520.21M588.65,520.21L585.15,518.19" stroke="#000" stroke-width="1.10" stroke-linecap="round"/>
<circle cx="586.90" cy="519.20" r="0.84" fill="#000"/>
<polyline points="511.50,548.30 511.50,544.50 578.80,544.50 578.80,548.30" fill="none" stroke="#1a1a1a" stroke-width="1.0"/>
<text x="544.80" y="540.05" font-size="8.2" font-weight="normal" text-anchor="middle" fill="#000">ns</text>
<polyline points="511.50,559.70 511.50,555.90 562.10,555.90 562.10,559.70" fill="none" stroke="#1a1a1a" stroke-width="1.0"/>
<path d="M534.00,546.48L534.00,550.52M535.75,547.49L532.25,549.51M535.75,549.51L532.25,547.49" stroke="#000" stroke-width="1.10" stroke-linecap="round"/>
<circle cx="534.00" cy="548.50" r="0.84" fill="#000"/>
<path d="M539.60,546.48L539.60,550.52M541.35,547.49L537.85,549.51M541.35,549.51L537.85,547.49" stroke="#000" stroke-width="1.10" stroke-linecap="round"/>
<circle cx="539.60" cy="548.50" r="0.84" fill="#000"/>
<polyline points="511.50,570.20 511.50,566.40 545.20,566.40 545.20,570.20" fill="none" stroke="#1a1a1a" stroke-width="1.0"/>
<path d="M528.35,556.98L528.35,561.02M530.10,557.99L526.60,560.01M530.10,560.01L526.60,557.99" stroke="#000" stroke-width="1.10" stroke-linecap="round"/>
<circle cx="528.35" cy="559.00" r="0.84" fill="#000"/>
<polyline points="511.50,582.50 511.50,578.70 528.40,578.70 528.40,582.50" fill="none" stroke="#1a1a1a" stroke-width="1.0"/>
<text x="520.00" y="574.25" font-size="8.2" font-weight="normal" text-anchor="middle" fill="#000">ns</text>
<circle cx="614.00" cy="571.30" r="2.7" fill="#000000"/>
<text x="619.10" y="574.25" font-size="8.2" font-weight="bold" text-anchor="start" fill="#000">PBS</text>
<circle cx="614.00" cy="581.60" r="2.7" fill="#1ee8f5"/>
<text x="619.10" y="584.55" font-size="8.2" font-weight="bold" text-anchor="start" fill="#000">L1+AS04C</text>
<circle cx="614.00" cy="591.90" r="2.7" fill="#8a1fe0"/>
<text x="619.10" y="594.85" font-size="8.2" font-weight="bold" text-anchor="start" fill="#000">L1+AS04D</text>
<circle cx="614.00" cy="601.20" r="2.7" fill="#6e6e6e"/>
<text x="619.10" y="604.15" font-size="8.2" font-weight="bold" text-anchor="start" fill="#000">L1+MF59</text>
<circle cx="614.00" cy="611.50" r="2.7" fill="#0a12e8"/>
<text x="619.10" y="614.45" font-size="8.2" font-weight="bold" text-anchor="start" fill="#000">L1+GP96</text>
<circle cx="614.00" cy="621.80" r="2.7" fill="#ff1010"/>
<text x="619.10" y="624.75" font-size="8.2" font-weight="bold" text-anchor="start" fill="#000">L1-GP96-Fusion</text>
<text x="0.30" y="649.18" font-size="13" font-weight="bold" text-anchor="start" fill="#000">J</text>
<text x="87" y="657.0" font-size="8.4" font-weight="bold" text-anchor="middle">Day 40 CD8<tspan dy="-3" font-size="6.2">+</tspan><tspan dy="3"> IFN-γ</tspan><tspan dy="-3" font-size="6.2">+</tspan><tspan dy="3"> cells</tspan></text>
<text x="89.00" y="665.72" font-size="8.4" font-weight="bold" text-anchor="middle" fill="#000">(Cocktail Stimulation)</text>
<line x1="32.70" y1="715.40" x2="32.70" y2="834.80" stroke="#000" stroke-width="1.3"/>
<line x1="29.70" y1="715.40" x2="32.70" y2="715.40" stroke="#000" stroke-width="1.3"/>
<text x="28.20" y="718.14" font-size="7.6" font-weight="bold" text-anchor="end" fill="#000">20</text>
<line x1="29.70" y1="745.10" x2="32.70" y2="745.10" stroke="#000" stroke-width="1.3"/>
<text x="28.20" y="747.84" font-size="7.6" font-weight="bold" text-anchor="end" fill="#000">15</text>
<line x1="29.70" y1="774.90" x2="32.70" y2="774.90" stroke="#000" stroke-width="1.3"/>
<text x="28.20" y="777.64" font-size="7.6" font-weight="bold" text-anchor="end" fill="#000">10</text>
<line x1="29.70" y1="805.00" x2="32.70" y2="805.00" stroke="#000" stroke-width="1.3"/>
<text x="28.20" y="807.74" font-size="7.6" font-weight="bold" text-anchor="end" fill="#000">5</text>
<line x1="29.70" y1="834.70" x2="32.70" y2="834.70" stroke="#000" stroke-width="1.3"/>
<text x="28.20" y="837.44" font-size="7.6" font-weight="bold" text-anchor="end" fill="#000">0</text>
<text x="11.9" y="774.5" font-size="8" font-weight="bold" text-anchor="middle" transform="rotate(-90 11.9 774.5)" dy="2.9">% of CD8<tspan dy="-3" font-size="5.2">+</tspan><tspan dy="3"> T cells</tspan></text>
<line x1="32.70" y1="834.70" x2="137.70" y2="834.70" stroke="#000" stroke-width="1.3"/>
<line x1="45.50" y1="834.70" x2="45.50" y2="837.70" stroke="#000" stroke-width="1.3"/>
<line x1="62.20" y1="834.70" x2="62.20" y2="837.70" stroke="#000" stroke-width="1.3"/>
<line x1="79.00" y1="834.70" x2="79.00" y2="837.70" stroke="#000" stroke-width="1.3"/>
<line x1="95.80" y1="834.70" x2="95.80" y2="837.70" stroke="#000" stroke-width="1.3"/>
<line x1="112.60" y1="834.70" x2="112.60" y2="837.70" stroke="#000" stroke-width="1.3"/>
<line x1="129.50" y1="834.70" x2="129.50" y2="837.70" stroke="#000" stroke-width="1.3"/>
<line x1="35.00" y1="834.70" x2="35.00" y2="836.20" stroke="#000" stroke-width="0.8"/>
<line x1="38.30" y1="834.70" x2="38.30" y2="836.20" stroke="#000" stroke-width="0.8"/>
<line x1="41.60" y1="834.70" x2="41.60" y2="836.20" stroke="#000" stroke-width="0.8"/>
<line x1="44.90" y1="834.70" x2="44.90" y2="836.20" stroke="#000" stroke-width="0.8"/>
<line x1="48.20" y1="834.70" x2="48.20" y2="836.20" stroke="#000" stroke-width="0.8"/>
<line x1="51.50" y1="834.70" x2="51.50" y2="836.20" stroke="#000" stroke-width="0.8"/>
<line x1="54.80" y1="834.70" x2="54.80" y2="836.20" stroke="#000" stroke-width="0.8"/>
<line x1="58.10" y1="834.70" x2="58.10" y2="836.20" stroke="#000" stroke-width="0.8"/>
<line x1="61.40" y1="834.70" x2="61.40" y2="836.20" stroke="#000" stroke-width="0.8"/>
<line x1="64.70" y1="834.70" x2="64.70" y2="836.20" stroke="#000" stroke-width="0.8"/>
<line x1="68.00" y1="834.70" x2="68.00" y2="836.20" stroke="#000" stroke-width="0.8"/>
<line x1="71.30" y1="834.70" x2="71.30" y2="836.20" stroke="#000" stroke-width="0.8"/>
<line x1="74.60" y1="834.70" x2="74.60" y2="836.20" stroke="#000" stroke-width="0.8"/>
<line x1="77.90" y1="834.70" x2="77.90" y2="836.20" stroke="#000" stroke-width="0.8"/>
<line x1="81.20" y1="834.70" x2="81.20" y2="836.20" stroke="#000" stroke-width="0.8"/>
<line x1="84.50" y1="834.70" x2="84.50" y2="836.20" stroke="#000" stroke-width="0.8"/>
<line x1="87.80" y1="834.70" x2="87.80" y2="836.20" stroke="#000" stroke-width="0.8"/>
<line x1="91.10" y1="834.70" x2="91.10" y2="836.20" stroke="#000" stroke-width="0.8"/>
<line x1="94.40" y1="834.70" x2="94.40" y2="836.20" stroke="#000" stroke-width="0.8"/>
<line x1="97.70" y1="834.70" x2="97.70" y2="836.20" stroke="#000" stroke-width="0.8"/>
<line x1="101.00" y1="834.70" x2="101.00" y2="836.20" stroke="#000" stroke-width="0.8"/>
<line x1="104.30" y1="834.70" x2="104.30" y2="836.20" stroke="#000" stroke-width="0.8"/>
<line x1="107.60" y1="834.70" x2="107.60" y2="836.20" stroke="#000" stroke-width="0.8"/>
<line x1="110.90" y1="834.70" x2="110.90" y2="836.20" stroke="#000" stroke-width="0.8"/>
<line x1="114.20" y1="834.70" x2="114.20" y2="836.20" stroke="#000" stroke-width="0.8"/>
<line x1="117.50" y1="834.70" x2="117.50" y2="836.20" stroke="#000" stroke-width="0.8"/>
<line x1="120.80" y1="834.70" x2="120.80" y2="836.20" stroke="#000" stroke-width="0.8"/>
<line x1="124.10" y1="834.70" x2="124.10" y2="836.20" stroke="#000" stroke-width="0.8"/>
<line x1="127.40" y1="834.70" x2="127.40" y2="836.20" stroke="#000" stroke-width="0.8"/>
<line x1="130.70" y1="834.70" x2="130.70" y2="836.20" stroke="#000" stroke-width="0.8"/>
<line x1="134.00" y1="834.70" x2="134.00" y2="836.20" stroke="#000" stroke-width="0.8"/>
<circle cx="45.50" cy="803.80" r="2.0" fill="#000000"/>
<circle cx="47.40" cy="805.00" r="2.0" fill="#000000"/>
<circle cx="43.60" cy="805.00" r="2.0" fill="#000000"/>
<circle cx="45.50" cy="806.40" r="2.0" fill="#000000"/>
<circle cx="45.50" cy="810.50" r="2.0" fill="#000000"/>
<circle cx="45.50" cy="817.70" r="2.0" fill="#000000"/>
<line x1="45.50" y1="802.30" x2="45.50" y2="813.20" stroke="#111" stroke-width="0.9"/>
<line x1="42.50" y1="802.30" x2="48.50" y2="802.30" stroke="#111" stroke-width="0.9"/>
<line x1="42.50" y1="813.20" x2="48.50" y2="813.20" stroke="#111" stroke-width="0.9"/>
<line x1="40.00" y1="807.00" x2="51.00" y2="807.00" stroke="#111" stroke-width="1.08"/>
<circle cx="62.20" cy="784.60" r="2.0" fill="#2ee6f2"/>
<circle cx="62.20" cy="792.70" r="2.0" fill="#2ee6f2"/>
<circle cx="66.00" cy="794.20" r="2.0" fill="#2ee6f2"/>
<circle cx="62.20" cy="803.80" r="2.0" fill="#2ee6f2"/>
<circle cx="62.20" cy="811.50" r="2.0" fill="#2ee6f2"/>
<circle cx="62.20" cy="828.30" r="2.0" fill="#2ee6f2"/>
<line x1="62.20" y1="786.60" x2="62.20" y2="817.70" stroke="#333" stroke-width="0.9"/>
<line x1="59.20" y1="786.60" x2="65.20" y2="786.60" stroke="#333" stroke-width="0.9"/>
<line x1="59.20" y1="817.70" x2="65.20" y2="817.70" stroke="#333" stroke-width="0.9"/>
<line x1="56.70" y1="802.30" x2="67.70" y2="802.30" stroke="#333" stroke-width="1.08"/>
<circle cx="79.00" cy="778.40" r="2.0" fill="#7f2aba"/>
<circle cx="79.00" cy="785.00" r="2.0" fill="#7f2aba"/>
<circle cx="79.00" cy="792.10" r="2.0" fill="#7f2aba"/>
<circle cx="79.00" cy="797.20" r="2.0" fill="#7f2aba"/>
<circle cx="79.00" cy="802.30" r="2.0" fill="#7f2aba"/>
<circle cx="79.00" cy="824.20" r="2.0" fill="#7f2aba"/>
<line x1="79.00" y1="781.50" x2="79.00" y2="813.20" stroke="#444" stroke-width="0.9"/>
<line x1="76.00" y1="781.50" x2="82.00" y2="781.50" stroke="#444" stroke-width="0.9"/>
<line x1="76.00" y1="813.20" x2="82.00" y2="813.20" stroke="#444" stroke-width="0.9"/>
<line x1="73.50" y1="797.20" x2="84.50" y2="797.20" stroke="#444" stroke-width="1.08"/>
<circle cx="95.80" cy="789.70" r="2.0" fill="#6a6a6a"/>
<circle cx="93.90" cy="808.50" r="2.0" fill="#6a6a6a"/>
<circle cx="97.70" cy="808.50" r="2.0" fill="#6a6a6a"/>
<circle cx="92.00" cy="810.50" r="2.0" fill="#6a6a6a"/>
<circle cx="95.80" cy="819.70" r="2.0" fill="#6a6a6a"/>
<line x1="95.80" y1="798.70" x2="95.80" y2="818.30" stroke="#444" stroke-width="0.9"/>
<line x1="92.80" y1="798.70" x2="98.80" y2="798.70" stroke="#444" stroke-width="0.9"/>
<line x1="92.80" y1="818.30" x2="98.80" y2="818.30" stroke="#444" stroke-width="0.9"/>
<line x1="90.30" y1="808.10" x2="101.30" y2="808.10" stroke="#444" stroke-width="1.08"/>
<circle cx="112.60" cy="803.80" r="2.0" fill="#0c1ad0"/>
<circle cx="112.60" cy="812.60" r="2.0" fill="#0c1ad0"/>
<circle cx="112.60" cy="818.70" r="2.0" fill="#0c1ad0"/>
<circle cx="112.60" cy="829.90" r="2.0" fill="#0c1ad0"/>
<circle cx="116.40" cy="829.90" r="2.0" fill="#0c1ad0"/>
<circle cx="108.80" cy="829.90" r="2.0" fill="#0c1ad0"/>
<line x1="112.60" y1="809.90" x2="112.60" y2="832.00" stroke="#333" stroke-width="0.9"/>
<line x1="109.60" y1="809.90" x2="115.60" y2="809.90" stroke="#333" stroke-width="0.9"/>
<line x1="109.60" y1="832.00" x2="115.60" y2="832.00" stroke="#333" stroke-width="0.9"/>
<line x1="107.10" y1="820.70" x2="118.10" y2="820.70" stroke="#333" stroke-width="1.08"/>
<circle cx="129.50" cy="745.70" r="2.0" fill="#f01818"/>
<circle cx="129.50" cy="760.00" r="2.0" fill="#f01818"/>
<circle cx="129.50" cy="768.20" r="2.0" fill="#f01818"/>
<circle cx="129.50" cy="772.30" r="2.0" fill="#f01818"/>
<circle cx="133.30" cy="775.20" r="2.0" fill="#f01818"/>
<circle cx="129.50" cy="801.30" r="2.0" fill="#f01818"/>
<line x1="129.50" y1="752.30" x2="129.50" y2="789.00" stroke="#333" stroke-width="0.9"/>
<line x1="126.50" y1="752.30" x2="132.50" y2="752.30" stroke="#333" stroke-width="0.9"/>
<line x1="126.50" y1="789.00" x2="132.50" y2="789.00" stroke="#333" stroke-width="0.9"/>
<line x1="124.00" y1="770.20" x2="135.00" y2="770.20" stroke="#333" stroke-width="1.08"/>
<polyline points="45.50,692.70 45.50,688.90 129.50,688.90 129.50,692.70" fill="none" stroke="#1a1a1a" stroke-width="1.0"/>
<path d="M81.90,679.48L81.90,683.52M83.65,680.49L80.15,682.51M83.65,682.51L80.15,680.49" stroke="#000" stroke-width="1.10" stroke-linecap="round"/>
<circle cx="81.90" cy="681.50" r="0.84" fill="#000"/>
<path d="M87.50,679.48L87.50,683.52M89.25,680.49L85.75,682.51M89.25,682.51L85.75,680.49" stroke="#000" stroke-width="1.10" stroke-linecap="round"/>
<circle cx="87.50" cy="681.50" r="0.84" fill="#000"/>
<path d="M93.10,679.48L93.10,683.52M94.85,680.49L91.35,682.51M94.85,682.51L91.35,680.49" stroke="#000" stroke-width="1.10" stroke-linecap="round"/>
<circle cx="93.10" cy="681.50" r="0.84" fill="#000"/>
<polyline points="62.20,704.90 62.20,701.10 129.50,701.10 129.50,704.90" fill="none" stroke="#1a1a1a" stroke-width="1.0"/>
<path d="M96.10,691.68L96.10,695.72M97.85,692.69L94.35,694.71M97.85,694.71L94.35,692.69" stroke="#000" stroke-width="1.10" stroke-linecap="round"/>
<circle cx="96.10" cy="693.70" r="0.84" fill="#000"/>
<polyline points="79.00,716.60 79.00,712.80 129.50,712.80 129.50,716.60" fill="none" stroke="#1a1a1a" stroke-width="1.0"/>
<path d="M101.80,703.38L101.80,707.42M103.55,704.39L100.05,706.41M103.55,706.41L100.05,704.39" stroke="#000" stroke-width="1.10" stroke-linecap="round"/>
<circle cx="101.80" cy="705.40" r="0.84" fill="#000"/>
<path d="M107.40,703.38L107.40,707.42M109.15,704.39L105.65,706.41M109.15,706.41L105.65,704.39" stroke="#000" stroke-width="1.10" stroke-linecap="round"/>
<circle cx="107.40" cy="705.40" r="0.84" fill="#000"/>
<polyline points="95.80,728.80 95.80,725.00 129.50,725.00 129.50,728.80" fill="none" stroke="#1a1a1a" stroke-width="1.0"/>
<path d="M110.20,715.58L110.20,719.62M111.95,716.59L108.45,718.61M111.95,718.61L108.45,716.59" stroke="#000" stroke-width="1.10" stroke-linecap="round"/>
<circle cx="110.20" cy="717.60" r="0.84" fill="#000"/>
<path d="M115.80,715.58L115.80,719.62M117.55,716.59L114.05,718.61M117.55,718.61L114.05,716.59" stroke="#000" stroke-width="1.10" stroke-linecap="round"/>
<circle cx="115.80" cy="717.60" r="0.84" fill="#000"/>
<polyline points="45.50,745.20 45.50,741.40 112.60,741.40 112.60,745.20" fill="none" stroke="#1a1a1a" stroke-width="1.0"/>
<path d="M79.30,731.98L79.30,736.02M81.05,732.99L77.55,735.01M81.05,735.01L77.55,732.99" stroke="#000" stroke-width="1.10" stroke-linecap="round"/>
<circle cx="79.30" cy="734.00" r="0.84" fill="#000"/>
<polyline points="113.40,741.70 113.40,737.90 129.50,737.90 129.50,741.70" fill="none" stroke="#1a1a1a" stroke-width="1.0"/>
<path d="M116.00,728.48L116.00,732.52M117.75,729.49L114.25,731.51M117.75,731.51L114.25,729.49" stroke="#000" stroke-width="1.10" stroke-linecap="round"/>
<circle cx="116.00" cy="730.50" r="0.84" fill="#000"/>
<path d="M121.60,728.48L121.60,732.52M123.35,729.49L119.85,731.51M123.35,731.51L119.85,729.49" stroke="#000" stroke-width="1.10" stroke-linecap="round"/>
<circle cx="121.60" cy="730.50" r="0.84" fill="#000"/>
<path d="M127.20,728.48L127.20,732.52M128.95,729.49L125.45,731.51M128.95,731.51L125.45,729.49" stroke="#000" stroke-width="1.10" stroke-linecap="round"/>
<circle cx="127.20" cy="730.50" r="0.84" fill="#000"/>
<polyline points="45.50,756.40 45.50,752.60 95.80,752.60 95.80,756.40" fill="none" stroke="#1a1a1a" stroke-width="1.0"/>
<text x="70.50" y="748.15" font-size="8.2" font-weight="normal" text-anchor="middle" fill="#000">ns</text>
<polyline points="45.50,767.70 45.50,763.90 79.00,763.90 79.00,767.70" fill="none" stroke="#1a1a1a" stroke-width="1.0"/>
<text x="62.30" y="759.45" font-size="8.2" font-weight="normal" text-anchor="middle" fill="#000">ns</text>
<polyline points="45.50,778.50 45.50,774.70 62.20,774.70 62.20,778.50" fill="none" stroke="#1a1a1a" stroke-width="1.0"/>
<text x="53.50" y="770.25" font-size="8.2" font-weight="normal" text-anchor="middle" fill="#000">ns</text>
<circle cx="146.70" cy="777.60" r="2.7" fill="#000000"/>
<text x="152.10" y="780.55" font-size="8.2" font-weight="bold" text-anchor="start" fill="#000">PBS</text>
<circle cx="146.70" cy="787.70" r="2.7" fill="#1ee8f5"/>
<text x="152.10" y="790.65" font-size="8.2" font-weight="bold" text-anchor="start" fill="#000">L1+AS04C</text>
<circle cx="146.70" cy="797.70" r="2.7" fill="#8a1fe0"/>
<text x="152.10" y="800.65" font-size="8.2" font-weight="bold" text-anchor="start" fill="#000">L1+AS04D</text>
<circle cx="146.70" cy="807.80" r="2.7" fill="#6e6e6e"/>
<text x="152.10" y="810.75" font-size="8.2" font-weight="bold" text-anchor="start" fill="#000">L1+MF59</text>
<circle cx="146.70" cy="817.90" r="2.7" fill="#0a12e8"/>
<text x="152.10" y="820.85" font-size="8.2" font-weight="bold" text-anchor="start" fill="#000">L1+GP96</text>
<circle cx="146.70" cy="828.00" r="2.7" fill="#ff1010"/>
<text x="152.10" y="830.95" font-size="8.2" font-weight="bold" text-anchor="start" fill="#000">L1-GP96-Fusion</text>
<text x="227.60" y="648.98" font-size="13" font-weight="bold" text-anchor="start" fill="#000">K</text>
<text x="322.3" y="656.0" font-size="8.4" font-weight="bold" text-anchor="middle">Day 40 AIM<tspan dy="-3" font-size="6.2">+</tspan><tspan dy="3"> CD8</tspan><tspan dy="-3" font-size="6.2">+</tspan><tspan dy="3"> cells</tspan></text>
<text x="322.20" y="666.32" font-size="8.4" font-weight="bold" text-anchor="middle" fill="#000">(HPV 18 L1 Stimulation)</text>
<line x1="268.60" y1="715.40" x2="268.60" y2="834.70" stroke="#000" stroke-width="1.3"/>
<line x1="265.60" y1="715.40" x2="268.60" y2="715.40" stroke="#000" stroke-width="1.3"/>
<text x="264.00" y="718.14" font-size="7.6" font-weight="bold" text-anchor="end" fill="#000">3</text>
<line x1="265.60" y1="755.20" x2="268.60" y2="755.20" stroke="#000" stroke-width="1.3"/>
<text x="264.00" y="757.94" font-size="7.6" font-weight="bold" text-anchor="end" fill="#000">2</text>
<line x1="265.60" y1="795.00" x2="268.60" y2="795.00" stroke="#000" stroke-width="1.3"/>
<text x="264.00" y="797.74" font-size="7.6" font-weight="bold" text-anchor="end" fill="#000">1</text>
<line x1="265.60" y1="834.70" x2="268.60" y2="834.70" stroke="#000" stroke-width="1.3"/>
<text x="264.00" y="837.44" font-size="7.6" font-weight="bold" text-anchor="end" fill="#000">0</text>
<text x="251.7" y="775.5" font-size="8" font-weight="bold" text-anchor="middle" transform="rotate(-90 251.7 775.5)" dy="2.9">% of CD8<tspan dy="-3" font-size="5.2">+</tspan><tspan dy="3"> T cells</tspan></text>
<line x1="268.60" y1="834.70" x2="376.10" y2="834.70" stroke="#000" stroke-width="1.3"/>
<line x1="280.20" y1="834.70" x2="280.20" y2="837.70" stroke="#000" stroke-width="1.3"/>
<line x1="297.10" y1="834.70" x2="297.10" y2="837.70" stroke="#000" stroke-width="1.3"/>
<line x1="314.10" y1="834.70" x2="314.10" y2="837.70" stroke="#000" stroke-width="1.3"/>
<line x1="331.10" y1="834.70" x2="331.10" y2="837.70" stroke="#000" stroke-width="1.3"/>
<line x1="347.90" y1="834.70" x2="347.90" y2="837.70" stroke="#000" stroke-width="1.3"/>
<line x1="364.60" y1="834.70" x2="364.60" y2="837.70" stroke="#000" stroke-width="1.3"/>
<line x1="271.00" y1="834.70" x2="271.00" y2="836.20" stroke="#000" stroke-width="0.8"/>
<line x1="274.30" y1="834.70" x2="274.30" y2="836.20" stroke="#000" stroke-width="0.8"/>
<line x1="277.60" y1="834.70" x2="277.60" y2="836.20" stroke="#000" stroke-width="0.8"/>
<line x1="280.90" y1="834.70" x2="280.90" y2="836.20" stroke="#000" stroke-width="0.8"/>
<line x1="284.20" y1="834.70" x2="284.20" y2="836.20" stroke="#000" stroke-width="0.8"/>
<line x1="287.50" y1="834.70" x2="287.50" y2="836.20" stroke="#000" stroke-width="0.8"/>
<line x1="290.80" y1="834.70" x2="290.80" y2="836.20" stroke="#000" stroke-width="0.8"/>
<line x1="294.10" y1="834.70" x2="294.10" y2="836.20" stroke="#000" stroke-width="0.8"/>
<line x1="297.40" y1="834.70" x2="297.40" y2="836.20" stroke="#000" stroke-width="0.8"/>
<line x1="300.70" y1="834.70" x2="300.70" y2="836.20" stroke="#000" stroke-width="0.8"/>
<line x1="304.00" y1="834.70" x2="304.00" y2="836.20" stroke="#000" stroke-width="0.8"/>
<line x1="307.30" y1="834.70" x2="307.30" y2="836.20" stroke="#000" stroke-width="0.8"/>
<line x1="310.60" y1="834.70" x2="310.60" y2="836.20" stroke="#000" stroke-width="0.8"/>
<line x1="313.90" y1="834.70" x2="313.90" y2="836.20" stroke="#000" stroke-width="0.8"/>
<line x1="317.20" y1="834.70" x2="317.20" y2="836.20" stroke="#000" stroke-width="0.8"/>
<line x1="320.50" y1="834.70" x2="320.50" y2="836.20" stroke="#000" stroke-width="0.8"/>
<line x1="323.80" y1="834.70" x2="323.80" y2="836.20" stroke="#000" stroke-width="0.8"/>
<line x1="327.10" y1="834.70" x2="327.10" y2="836.20" stroke="#000" stroke-width="0.8"/>
<line x1="330.40" y1="834.70" x2="330.40" y2="836.20" stroke="#000" stroke-width="0.8"/>
<line x1="333.70" y1="834.70" x2="333.70" y2="836.20" stroke="#000" stroke-width="0.8"/>
<line x1="337.00" y1="834.70" x2="337.00" y2="836.20" stroke="#000" stroke-width="0.8"/>
<line x1="340.30" y1="834.70" x2="340.30" y2="836.20" stroke="#000" stroke-width="0.8"/>
<line x1="343.60" y1="834.70" x2="343.60" y2="836.20" stroke="#000" stroke-width="0.8"/>
<line x1="346.90" y1="834.70" x2="346.90" y2="836.20" stroke="#000" stroke-width="0.8"/>
<line x1="350.20" y1="834.70" x2="350.20" y2="836.20" stroke="#000" stroke-width="0.8"/>
<line x1="353.50" y1="834.70" x2="353.50" y2="836.20" stroke="#000" stroke-width="0.8"/>
<line x1="356.80" y1="834.70" x2="356.80" y2="836.20" stroke="#000" stroke-width="0.8"/>
<line x1="360.10" y1="834.70" x2="360.10" y2="836.20" stroke="#000" stroke-width="0.8"/>
<line x1="363.40" y1="834.70" x2="363.40" y2="836.20" stroke="#000" stroke-width="0.8"/>
<line x1="366.70" y1="834.70" x2="366.70" y2="836.20" stroke="#000" stroke-width="0.8"/>
<line x1="370.00" y1="834.70" x2="370.00" y2="836.20" stroke="#000" stroke-width="0.8"/>
<line x1="373.30" y1="834.70" x2="373.30" y2="836.20" stroke="#000" stroke-width="0.8"/>
<circle cx="280.20" cy="818.40" r="2.0" fill="#000000"/>
<circle cx="284.00" cy="819.90" r="2.0" fill="#000000"/>
<circle cx="282.10" cy="821.50" r="2.0" fill="#000000"/>
<circle cx="284.00" cy="822.80" r="2.0" fill="#000000"/>
<circle cx="278.30" cy="824.30" r="2.0" fill="#000000"/>
<circle cx="278.30" cy="821.00" r="2.0" fill="#000000"/>
<line x1="280.20" y1="819.50" x2="280.20" y2="823.50" stroke="#444" stroke-width="0.9"/>
<line x1="277.20" y1="819.50" x2="283.20" y2="819.50" stroke="#444" stroke-width="0.9"/>
<line x1="277.20" y1="823.50" x2="283.20" y2="823.50" stroke="#444" stroke-width="0.9"/>
<line x1="274.70" y1="821.50" x2="285.70" y2="821.50" stroke="#444" stroke-width="1.08"/>
<circle cx="297.10" cy="794.30" r="2.0" fill="#2ee6f2"/>
<circle cx="297.10" cy="799.10" r="2.0" fill="#2ee6f2"/>
<circle cx="299.00" cy="802.40" r="2.0" fill="#2ee6f2"/>
<circle cx="297.10" cy="811.80" r="2.0" fill="#2ee6f2"/>
<circle cx="297.10" cy="818.40" r="2.0" fill="#2ee6f2"/>
<circle cx="297.10" cy="826.50" r="2.0" fill="#2ee6f2"/>
<line x1="297.10" y1="795.20" x2="297.10" y2="819.30" stroke="#444" stroke-width="0.9"/>
<line x1="294.10" y1="795.20" x2="300.10" y2="795.20" stroke="#444" stroke-width="0.9"/>
<line x1="294.10" y1="819.30" x2="300.10" y2="819.30" stroke="#444" stroke-width="0.9"/>
<line x1="291.60" y1="807.40" x2="302.60" y2="807.40" stroke="#444" stroke-width="1.08"/>
<circle cx="314.10" cy="793.00" r="2.0" fill="#7f2aba"/>
<circle cx="314.10" cy="797.40" r="2.0" fill="#7f2aba"/>
<circle cx="314.10" cy="805.70" r="2.0" fill="#7f2aba"/>
<circle cx="316.00" cy="809.00" r="2.0" fill="#7f2aba"/>
<circle cx="312.20" cy="811.20" r="2.0" fill="#7f2aba"/>
<circle cx="314.10" cy="817.70" r="2.0" fill="#7f2aba"/>
<line x1="314.10" y1="796.50" x2="314.10" y2="814.00" stroke="#444" stroke-width="0.9"/>
<line x1="311.10" y1="796.50" x2="317.10" y2="796.50" stroke="#444" stroke-width="0.9"/>
<line x1="311.10" y1="814.00" x2="317.10" y2="814.00" stroke="#444" stroke-width="0.9"/>
<line x1="308.60" y1="805.30" x2="319.60" y2="805.30" stroke="#444" stroke-width="1.08"/>
<circle cx="331.10" cy="807.90" r="2.0" fill="#6a6a6a"/>
<circle cx="331.10" cy="811.80" r="2.0" fill="#6a6a6a"/>
<circle cx="333.00" cy="814.40" r="2.0" fill="#6a6a6a"/>
<circle cx="329.20" cy="814.40" r="2.0" fill="#6a6a6a"/>
<circle cx="331.10" cy="816.60" r="2.0" fill="#6a6a6a"/>
<circle cx="334.90" cy="818.40" r="2.0" fill="#6a6a6a"/>
<line x1="331.10" y1="811.20" x2="331.10" y2="817.70" stroke="#444" stroke-width="0.9"/>
<line x1="328.10" y1="811.20" x2="334.10" y2="811.20" stroke="#444" stroke-width="0.9"/>
<line x1="328.10" y1="817.70" x2="334.10" y2="817.70" stroke="#444" stroke-width="0.9"/>
<line x1="325.60" y1="814.40" x2="336.60" y2="814.40" stroke="#444" stroke-width="1.08"/>
<circle cx="347.90" cy="809.00" r="2.0" fill="#0c1ad0"/>
<circle cx="347.90" cy="815.50" r="2.0" fill="#0c1ad0"/>
<circle cx="347.90" cy="820.60" r="2.0" fill="#0c1ad0"/>
<circle cx="351.70" cy="823.20" r="2.0" fill="#0c1ad0"/>
<circle cx="346.00" cy="828.70" r="2.0" fill="#0c1ad0"/>
<circle cx="349.80" cy="828.70" r="2.0" fill="#0c1ad0"/>
<line x1="347.90" y1="812.30" x2="347.90" y2="828.70" stroke="#444" stroke-width="0.9"/>
<line x1="344.90" y1="812.30" x2="350.90" y2="812.30" stroke="#444" stroke-width="0.9"/>
<line x1="344.90" y1="828.70" x2="350.90" y2="828.70" stroke="#444" stroke-width="0.9"/>
<line x1="342.40" y1="820.60" x2="353.40" y2="820.60" stroke="#444" stroke-width="1.08"/>
<circle cx="364.60" cy="735.80" r="2.0" fill="#f01818"/>
<circle cx="368.40" cy="736.90" r="2.0" fill="#f01818"/>
<circle cx="364.60" cy="765.20" r="2.0" fill="#f01818"/>
<circle cx="366.50" cy="768.50" r="2.0" fill="#f01818"/>
<circle cx="364.60" cy="790.40" r="2.0" fill="#f01818"/>
<circle cx="368.40" cy="793.60" r="2.0" fill="#f01818"/>
<line x1="364.60" y1="739.90" x2="364.60" y2="789.90" stroke="#444" stroke-width="0.9"/>
<line x1="361.60" y1="739.90" x2="367.60" y2="739.90" stroke="#444" stroke-width="0.9"/>
<line x1="361.60" y1="789.90" x2="367.60" y2="789.90" stroke="#444" stroke-width="0.9"/>
<line x1="359.10" y1="765.20" x2="370.10" y2="765.20" stroke="#444" stroke-width="1.08"/>
<polyline points="280.20,688.50 280.20,684.70 364.60,684.70 364.60,688.50" fill="none" stroke="#1a1a1a" stroke-width="1.0"/>
<path d="M316.80,675.28L316.80,679.32M318.55,676.29L315.05,678.31M318.55,678.31L315.05,676.29" stroke="#000" stroke-width="1.10" stroke-linecap="round"/>
<circle cx="316.80" cy="677.30" r="0.84" fill="#000"/>
<path d="M322.40,675.28L322.40,679.32M324.15,676.29L320.65,678.31M324.15,678.31L320.65,676.29" stroke="#000" stroke-width="1.10" stroke-linecap="round"/>
<circle cx="322.40" cy="677.30" r="0.84" fill="#000"/>
<path d="M328.00,675.28L328.00,679.32M329.75,676.29L326.25,678.31M329.75,678.31L326.25,676.29" stroke="#000" stroke-width="1.10" stroke-linecap="round"/>
<circle cx="328.00" cy="677.30" r="0.84" fill="#000"/>
<polyline points="297.10,700.10 297.10,696.30 364.60,696.30 364.60,700.10" fill="none" stroke="#1a1a1a" stroke-width="1.0"/>
<path d="M328.20,686.88L328.20,690.92M329.95,687.89L326.45,689.91M329.95,689.91L326.45,687.89" stroke="#000" stroke-width="1.10" stroke-linecap="round"/>
<circle cx="328.20" cy="688.90" r="0.84" fill="#000"/>
<path d="M333.80,686.88L333.80,690.92M335.55,687.89L332.05,689.91M335.55,689.91L332.05,687.89" stroke="#000" stroke-width="1.10" stroke-linecap="round"/>
<circle cx="333.80" cy="688.90" r="0.84" fill="#000"/>
<polyline points="314.10,710.40 314.10,706.60 364.60,706.60 364.60,710.40" fill="none" stroke="#1a1a1a" stroke-width="1.0"/>
<path d="M336.50,697.18L336.50,701.22M338.25,698.19L334.75,700.21M338.25,700.21L334.75,698.19" stroke="#000" stroke-width="1.10" stroke-linecap="round"/>
<circle cx="336.50" cy="699.20" r="0.84" fill="#000"/>
<path d="M342.10,697.18L342.10,701.22M343.85,698.19L340.35,700.21M343.85,700.21L340.35,698.19" stroke="#000" stroke-width="1.10" stroke-linecap="round"/>
<circle cx="342.10" cy="699.20" r="0.84" fill="#000"/>
<polyline points="331.10,722.50 331.10,718.70 364.60,718.70 364.60,722.50" fill="none" stroke="#1a1a1a" stroke-width="1.0"/>
<path d="M342.10,709.28L342.10,713.32M343.85,710.29L340.35,712.31M343.85,712.31L340.35,710.29" stroke="#000" stroke-width="1.10" stroke-linecap="round"/>
<circle cx="342.10" cy="711.30" r="0.84" fill="#000"/>
<path d="M347.70,709.28L347.70,713.32M349.45,710.29L345.95,712.31M349.45,712.31L345.95,710.29" stroke="#000" stroke-width="1.10" stroke-linecap="round"/>
<circle cx="347.70" cy="711.30" r="0.84" fill="#000"/>
<path d="M353.30,709.28L353.30,713.32M355.05,710.29L351.55,712.31M355.05,712.31L351.55,710.29" stroke="#000" stroke-width="1.10" stroke-linecap="round"/>
<circle cx="353.30" cy="711.30" r="0.84" fill="#000"/>
<polyline points="347.90,734.10 347.90,730.30 364.60,730.30 364.60,734.10" fill="none" stroke="#1a1a1a" stroke-width="1.0"/>
<path d="M349.70,720.88L349.70,724.92M351.45,721.89L347.95,723.91M351.45,723.91L347.95,721.89" stroke="#000" stroke-width="1.10" stroke-linecap="round"/>
<circle cx="349.70" cy="722.90" r="0.84" fill="#000"/>
<path d="M355.30,720.88L355.30,724.92M357.05,721.89L353.55,723.91M357.05,723.91L353.55,721.89" stroke="#000" stroke-width="1.10" stroke-linecap="round"/>
<circle cx="355.30" cy="722.90" r="0.84" fill="#000"/>
<path d="M360.90,720.88L360.90,724.92M362.65,721.89L359.15,723.91M362.65,723.91L359.15,721.89" stroke="#000" stroke-width="1.10" stroke-linecap="round"/>
<circle cx="360.90" cy="722.90" r="0.84" fill="#000"/>
<polyline points="280.20,747.70 280.20,743.90 347.90,743.90 347.90,747.70" fill="none" stroke="#1a1a1a" stroke-width="1.0"/>
<text x="314.20" y="739.45" font-size="8.2" font-weight="normal" text-anchor="middle" fill="#000">ns</text>
<polyline points="280.20,759.30 280.20,755.50 331.10,755.50 331.10,759.30" fill="none" stroke="#1a1a1a" stroke-width="1.0"/>
<path d="M302.85,746.08L302.85,750.12M304.60,747.09L301.10,749.11M304.60,749.11L301.10,747.09" stroke="#000" stroke-width="1.10" stroke-linecap="round"/>
<circle cx="302.85" cy="748.10" r="0.84" fill="#000"/>
<path d="M308.45,746.08L308.45,750.12M310.20,747.09L306.70,749.11M310.20,749.11L306.70,747.09" stroke="#000" stroke-width="1.10" stroke-linecap="round"/>
<circle cx="308.45" cy="748.10" r="0.84" fill="#000"/>
<polyline points="280.20,770.70 280.20,766.90 314.10,766.90 314.10,770.70" fill="none" stroke="#1a1a1a" stroke-width="1.0"/>
<path d="M294.35,757.48L294.35,761.52M296.10,758.49L292.60,760.51M296.10,760.51L292.60,758.49" stroke="#000" stroke-width="1.10" stroke-linecap="round"/>
<circle cx="294.35" cy="759.50" r="0.84" fill="#000"/>
<path d="M299.95,757.48L299.95,761.52M301.70,758.49L298.20,760.51M301.70,760.51L298.20,758.49" stroke="#000" stroke-width="1.10" stroke-linecap="round"/>
<circle cx="299.95" cy="759.50" r="0.84" fill="#000"/>
<polyline points="280.20,788.70 280.20,784.90 297.10,784.90 297.10,788.70" fill="none" stroke="#1a1a1a" stroke-width="1.0"/>
<path d="M288.65,775.48L288.65,779.52M290.40,776.49L286.90,778.51M290.40,778.51L286.90,776.49" stroke="#000" stroke-width="1.10" stroke-linecap="round"/>
<circle cx="288.65" cy="777.50" r="0.84" fill="#000"/>
<polyline points="298.40,788.70 298.40,784.90 314.10,784.90 314.10,788.70" fill="none" stroke="#1a1a1a" stroke-width="1.0"/>
<text x="306.00" y="780.45" font-size="8.2" font-weight="normal" text-anchor="middle" fill="#000">ns</text>
<polyline points="315.10,788.70 315.10,784.90 331.10,784.90 331.10,788.70" fill="none" stroke="#1a1a1a" stroke-width="1.0"/>
<path d="M322.50,775.48L322.50,779.52M324.25,776.49L320.75,778.51M324.25,778.51L320.75,776.49" stroke="#000" stroke-width="1.10" stroke-linecap="round"/>
<circle cx="322.50" cy="777.50" r="0.84" fill="#000"/>
<polyline points="331.70,788.70 331.70,784.90 347.90,784.90 347.90,788.70" fill="none" stroke="#1a1a1a" stroke-width="1.0"/>
<text x="339.80" y="780.45" font-size="8.2" font-weight="normal" text-anchor="middle" fill="#000">ns</text>
<circle cx="382.20" cy="777.60" r="2.7" fill="#000000"/>
<text x="387.90" y="780.55" font-size="8.2" font-weight="bold" text-anchor="start" fill="#000">PBS</text>
<circle cx="382.20" cy="787.70" r="2.7" fill="#1ee8f5"/>
<text x="387.90" y="790.65" font-size="8.2" font-weight="bold" text-anchor="start" fill="#000">L1+AS04C</text>
<circle cx="382.20" cy="797.70" r="2.7" fill="#8a1fe0"/>
<text x="387.90" y="800.65" font-size="8.2" font-weight="bold" text-anchor="start" fill="#000">L1+AS04D</text>
<circle cx="382.20" cy="807.80" r="2.7" fill="#6e6e6e"/>
<text x="387.90" y="810.75" font-size="8.2" font-weight="bold" text-anchor="start" fill="#000">L1+MF59</text>
<circle cx="382.20" cy="817.90" r="2.7" fill="#0a12e8"/>
<text x="387.90" y="820.85" font-size="8.2" font-weight="bold" text-anchor="start" fill="#000">L1+GP96</text>
<circle cx="382.20" cy="828.00" r="2.7" fill="#ff1010"/>
<text x="387.90" y="830.95" font-size="8.2" font-weight="bold" text-anchor="start" fill="#000">L1-GP96-Fusion</text>
<text x="456.00" y="648.98" font-size="13" font-weight="bold" text-anchor="start" fill="#000">L</text>
<text x="558.4" y="657.0" font-size="8.4" font-weight="bold" text-anchor="middle">Day 40 AIM<tspan dy="-3" font-size="6.2">+</tspan><tspan dy="3"> CD4</tspan><tspan dy="-3" font-size="6.2">+</tspan><tspan dy="3"> cells</tspan></text>
<text x="557.70" y="666.72" font-size="8.4" font-weight="bold" text-anchor="middle" fill="#000">(HPV 18 L1 Stimulation)</text>
<line x1="500.80" y1="715.40" x2="500.80" y2="834.80" stroke="#000" stroke-width="1.3"/>
<line x1="497.80" y1="715.40" x2="500.80" y2="715.40" stroke="#000" stroke-width="1.3"/>
<text x="496.30" y="718.14" font-size="7.6" font-weight="bold" text-anchor="end" fill="#000">20</text>
<line x1="497.80" y1="745.00" x2="500.80" y2="745.00" stroke="#000" stroke-width="1.3"/>
<text x="496.30" y="747.74" font-size="7.6" font-weight="bold" text-anchor="end" fill="#000">15</text>
<line x1="497.80" y1="774.60" x2="500.80" y2="774.60" stroke="#000" stroke-width="1.3"/>
<text x="496.30" y="777.34" font-size="7.6" font-weight="bold" text-anchor="end" fill="#000">10</text>
<line x1="497.80" y1="805.00" x2="500.80" y2="805.00" stroke="#000" stroke-width="1.3"/>
<text x="496.30" y="807.74" font-size="7.6" font-weight="bold" text-anchor="end" fill="#000">5</text>
<line x1="497.80" y1="834.80" x2="500.80" y2="834.80" stroke="#000" stroke-width="1.3"/>
<text x="496.30" y="837.54" font-size="7.6" font-weight="bold" text-anchor="end" fill="#000">0</text>
<text x="479.6" y="775" font-size="8" font-weight="bold" text-anchor="middle" transform="rotate(-90 479.6 775)" dy="2.9">% of CD4<tspan dy="-3" font-size="5.2">+</tspan><tspan dy="3"> T cells</tspan></text>
<line x1="500.80" y1="834.80" x2="608.80" y2="834.80" stroke="#000" stroke-width="1.3"/>
<line x1="510.90" y1="834.80" x2="510.90" y2="837.80" stroke="#000" stroke-width="1.3"/>
<line x1="528.10" y1="834.80" x2="528.10" y2="837.80" stroke="#000" stroke-width="1.3"/>
<line x1="545.40" y1="834.80" x2="545.40" y2="837.80" stroke="#000" stroke-width="1.3"/>
<line x1="562.60" y1="834.80" x2="562.60" y2="837.80" stroke="#000" stroke-width="1.3"/>
<line x1="579.60" y1="834.80" x2="579.60" y2="837.80" stroke="#000" stroke-width="1.3"/>
<line x1="596.30" y1="834.80" x2="596.30" y2="837.80" stroke="#000" stroke-width="1.3"/>
<line x1="503.00" y1="834.80" x2="503.00" y2="836.30" stroke="#000" stroke-width="0.8"/>
<line x1="506.30" y1="834.80" x2="506.30" y2="836.30" stroke="#000" stroke-width="0.8"/>
<line x1="509.60" y1="834.80" x2="509.60" y2="836.30" stroke="#000" stroke-width="0.8"/>
<line x1="512.90" y1="834.80" x2="512.90" y2="836.30" stroke="#000" stroke-width="0.8"/>
<line x1="516.20" y1="834.80" x2="516.20" y2="836.30" stroke="#000" stroke-width="0.8"/>
<line x1="519.50" y1="834.80" x2="519.50" y2="836.30" stroke="#000" stroke-width="0.8"/>
<line x1="522.80" y1="834.80" x2="522.80" y2="836.30" stroke="#000" stroke-width="0.8"/>
<line x1="526.10" y1="834.80" x2="526.10" y2="836.30" stroke="#000" stroke-width="0.8"/>
<line x1="529.40" y1="834.80" x2="529.40" y2="836.30" stroke="#000" stroke-width="0.8"/>
<line x1="532.70" y1="834.80" x2="532.70" y2="836.30" stroke="#000" stroke-width="0.8"/>
<line x1="536.00" y1="834.80" x2="536.00" y2="836.30" stroke="#000" stroke-width="0.8"/>
<line x1="539.30" y1="834.80" x2="539.30" y2="836.30" stroke="#000" stroke-width="0.8"/>
<line x1="542.60" y1="834.80" x2="542.60" y2="836.30" stroke="#000" stroke-width="0.8"/>
<line x1="545.90" y1="834.80" x2="545.90" y2="836.30" stroke="#000" stroke-width="0.8"/>
<line x1="549.20" y1="834.80" x2="549.20" y2="836.30" stroke="#000" stroke-width="0.8"/>
<line x1="552.50" y1="834.80" x2="552.50" y2="836.30" stroke="#000" stroke-width="0.8"/>
<line x1="555.80" y1="834.80" x2="555.80" y2="836.30" stroke="#000" stroke-width="0.8"/>
<line x1="559.10" y1="834.80" x2="559.10" y2="836.30" stroke="#000" stroke-width="0.8"/>
<line x1="562.40" y1="834.80" x2="562.40" y2="836.30" stroke="#000" stroke-width="0.8"/>
<line x1="565.70" y1="834.80" x2="565.70" y2="836.30" stroke="#000" stroke-width="0.8"/>
<line x1="569.00" y1="834.80" x2="569.00" y2="836.30" stroke="#000" stroke-width="0.8"/>
<line x1="572.30" y1="834.80" x2="572.30" y2="836.30" stroke="#000" stroke-width="0.8"/>
<line x1="575.60" y1="834.80" x2="575.60" y2="836.30" stroke="#000" stroke-width="0.8"/>
<line x1="578.90" y1="834.80" x2="578.90" y2="836.30" stroke="#000" stroke-width="0.8"/>
<line x1="582.20" y1="834.80" x2="582.20" y2="836.30" stroke="#000" stroke-width="0.8"/>
<line x1="585.50" y1="834.80" x2="585.50" y2="836.30" stroke="#000" stroke-width="0.8"/>
<line x1="588.80" y1="834.80" x2="588.80" y2="836.30" stroke="#000" stroke-width="0.8"/>
<line x1="592.10" y1="834.80" x2="592.10" y2="836.30" stroke="#000" stroke-width="0.8"/>
<line x1="595.40" y1="834.80" x2="595.40" y2="836.30" stroke="#000" stroke-width="0.8"/>
<line x1="598.70" y1="834.80" x2="598.70" y2="836.30" stroke="#000" stroke-width="0.8"/>
<line x1="602.00" y1="834.80" x2="602.00" y2="836.30" stroke="#000" stroke-width="0.8"/>
<line x1="605.30" y1="834.80" x2="605.30" y2="836.30" stroke="#000" stroke-width="0.8"/>
<circle cx="510.90" cy="795.80" r="2.0" fill="#000000"/>
<circle cx="514.70" cy="798.00" r="2.0" fill="#000000"/>
<circle cx="510.90" cy="799.60" r="2.0" fill="#000000"/>
<circle cx="509.00" cy="801.30" r="2.0" fill="#000000"/>
<circle cx="512.80" cy="801.30" r="2.0" fill="#000000"/>
<circle cx="510.90" cy="803.50" r="2.0" fill="#000000"/>
<line x1="510.90" y1="797.50" x2="510.90" y2="801.50" stroke="#444" stroke-width="0.9"/>
<line x1="507.90" y1="797.50" x2="513.90" y2="797.50" stroke="#444" stroke-width="0.9"/>
<line x1="507.90" y1="801.50" x2="513.90" y2="801.50" stroke="#444" stroke-width="0.9"/>
<line x1="505.40" y1="799.60" x2="516.40" y2="799.60" stroke="#444" stroke-width="1.08"/>
<circle cx="526.20" cy="782.70" r="2.0" fill="#2ee6f2"/>
<circle cx="530.00" cy="782.70" r="2.0" fill="#2ee6f2"/>
<circle cx="528.10" cy="787.10" r="2.0" fill="#2ee6f2"/>
<circle cx="528.10" cy="791.50" r="2.0" fill="#2ee6f2"/>
<circle cx="528.10" cy="797.40" r="2.0" fill="#2ee6f2"/>
<circle cx="528.10" cy="805.70" r="2.0" fill="#2ee6f2"/>
<line x1="528.10" y1="783.40" x2="528.10" y2="799.60" stroke="#444" stroke-width="0.9"/>
<line x1="525.10" y1="783.40" x2="531.10" y2="783.40" stroke="#444" stroke-width="0.9"/>
<line x1="525.10" y1="799.60" x2="531.10" y2="799.60" stroke="#444" stroke-width="0.9"/>
<line x1="522.60" y1="791.50" x2="533.60" y2="791.50" stroke="#444" stroke-width="1.08"/>
<circle cx="545.40" cy="780.90" r="2.0" fill="#7f2aba"/>
<circle cx="549.20" cy="780.90" r="2.0" fill="#7f2aba"/>
<circle cx="541.60" cy="780.90" r="2.0" fill="#7f2aba"/>
<circle cx="545.40" cy="789.30" r="2.0" fill="#7f2aba"/>
<circle cx="545.40" cy="798.70" r="2.0" fill="#7f2aba"/>
<circle cx="545.40" cy="803.50" r="2.0" fill="#7f2aba"/>
<line x1="545.40" y1="780.50" x2="545.40" y2="799.10" stroke="#444" stroke-width="0.9"/>
<line x1="542.40" y1="780.50" x2="548.40" y2="780.50" stroke="#444" stroke-width="0.9"/>
<line x1="542.40" y1="799.10" x2="548.40" y2="799.10" stroke="#444" stroke-width="0.9"/>
<line x1="539.90" y1="789.30" x2="550.90" y2="789.30" stroke="#444" stroke-width="1.08"/>
<circle cx="562.60" cy="774.60" r="2.0" fill="#6a6a6a"/>
<circle cx="562.60" cy="784.90" r="2.0" fill="#6a6a6a"/>
<circle cx="562.60" cy="789.90" r="2.0" fill="#6a6a6a"/>
<circle cx="566.40" cy="792.60" r="2.0" fill="#6a6a6a"/>
<circle cx="562.60" cy="797.40" r="2.0" fill="#6a6a6a"/>
<circle cx="566.40" cy="798.70" r="2.0" fill="#6a6a6a"/>
<line x1="562.60" y1="780.50" x2="562.60" y2="799.10" stroke="#444" stroke-width="0.9"/>
<line x1="559.60" y1="780.50" x2="565.60" y2="780.50" stroke="#444" stroke-width="0.9"/>
<line x1="559.60" y1="799.10" x2="565.60" y2="799.10" stroke="#444" stroke-width="0.9"/>
<line x1="557.10" y1="789.90" x2="568.10" y2="789.90" stroke="#444" stroke-width="1.08"/>
<circle cx="579.60" cy="748.80" r="2.0" fill="#0c1ad0"/>
<circle cx="579.60" cy="787.10" r="2.0" fill="#0c1ad0"/>
<circle cx="581.50" cy="789.90" r="2.0" fill="#0c1ad0"/>
<circle cx="577.70" cy="789.90" r="2.0" fill="#0c1ad0"/>
<circle cx="579.60" cy="801.70" r="2.0" fill="#0c1ad0"/>
<circle cx="579.60" cy="812.70" r="2.0" fill="#0c1ad0"/>
<line x1="579.60" y1="767.40" x2="579.60" y2="810.50" stroke="#444" stroke-width="0.9"/>
<line x1="576.60" y1="767.40" x2="582.60" y2="767.40" stroke="#444" stroke-width="0.9"/>
<line x1="576.60" y1="810.50" x2="582.60" y2="810.50" stroke="#444" stroke-width="0.9"/>
<line x1="574.10" y1="788.60" x2="585.10" y2="788.60" stroke="#444" stroke-width="1.08"/>
<circle cx="596.30" cy="749.90" r="2.0" fill="#f01818"/>
<circle cx="596.30" cy="762.30" r="2.0" fill="#f01818"/>
<circle cx="596.30" cy="770.70" r="2.0" fill="#f01818"/>
<circle cx="600.10" cy="771.70" r="2.0" fill="#f01818"/>
<circle cx="596.30" cy="780.50" r="2.0" fill="#f01818"/>
<circle cx="600.10" cy="782.00" r="2.0" fill="#f01818"/>
<line x1="596.30" y1="758.00" x2="596.30" y2="781.20" stroke="#444" stroke-width="0.9"/>
<line x1="593.30" y1="758.00" x2="599.30" y2="758.00" stroke="#444" stroke-width="0.9"/>
<line x1="593.30" y1="781.20" x2="599.30" y2="781.20" stroke="#444" stroke-width="0.9"/>
<line x1="590.80" y1="769.60" x2="601.80" y2="769.60" stroke="#444" stroke-width="1.08"/>
<polyline points="528.10,692.50 528.10,688.70 596.30,688.70 596.30,692.50" fill="none" stroke="#1a1a1a" stroke-width="1.0"/>
<path d="M560.00,679.28L560.00,683.32M561.75,680.29L558.25,682.31M561.75,682.31L558.25,680.29" stroke="#000" stroke-width="1.10" stroke-linecap="round"/>
<circle cx="560.00" cy="681.30" r="0.84" fill="#000"/>
<path d="M565.60,679.28L565.60,683.32M567.35,680.29L563.85,682.31M567.35,682.31L563.85,680.29" stroke="#000" stroke-width="1.10" stroke-linecap="round"/>
<circle cx="565.60" cy="681.30" r="0.84" fill="#000"/>
<polyline points="545.40,703.90 545.40,700.10 596.30,700.10 596.30,703.90" fill="none" stroke="#1a1a1a" stroke-width="1.0"/>
<path d="M571.10,690.68L571.10,694.72M572.85,691.69L569.35,693.71M572.85,693.71L569.35,691.69" stroke="#000" stroke-width="1.10" stroke-linecap="round"/>
<circle cx="571.10" cy="692.70" r="0.84" fill="#000"/>
<polyline points="561.60,715.30 561.60,711.50 596.30,711.50 596.30,715.30" fill="none" stroke="#1a1a1a" stroke-width="1.0"/>
<path d="M575.90,702.08L575.90,706.12M577.65,703.09L574.15,705.11M577.65,705.11L574.15,703.09" stroke="#000" stroke-width="1.10" stroke-linecap="round"/>
<circle cx="575.90" cy="704.10" r="0.84" fill="#000"/>
<path d="M581.50,702.08L581.50,706.12M583.25,703.09L579.75,705.11M583.25,705.11L579.75,703.09" stroke="#000" stroke-width="1.10" stroke-linecap="round"/>
<circle cx="581.50" cy="704.10" r="0.84" fill="#000"/>
<polyline points="510.90,729.50 510.90,725.70 596.30,725.70 596.30,729.50" fill="none" stroke="#1a1a1a" stroke-width="1.0"/>
<path d="M548.40,716.28L548.40,720.32M550.15,717.29L546.65,719.31M550.15,719.31L546.65,717.29" stroke="#000" stroke-width="1.10" stroke-linecap="round"/>
<circle cx="548.40" cy="718.30" r="0.84" fill="#000"/>
<path d="M554.00,716.28L554.00,720.32M555.75,717.29L552.25,719.31M555.75,719.31L552.25,717.29" stroke="#000" stroke-width="1.10" stroke-linecap="round"/>
<circle cx="554.00" cy="718.30" r="0.84" fill="#000"/>
<path d="M559.60,716.28L559.60,720.32M561.35,717.29L557.85,719.31M561.35,719.31L557.85,717.29" stroke="#000" stroke-width="1.10" stroke-linecap="round"/>
<circle cx="559.60" cy="718.30" r="0.84" fill="#000"/>
<polyline points="510.90,741.80 510.90,738.00 579.60,738.00 579.60,741.80" fill="none" stroke="#1a1a1a" stroke-width="1.0"/>
<text x="544.80" y="733.55" font-size="8.2" font-weight="normal" text-anchor="middle" fill="#000">ns</text>
<polyline points="581.40,741.80 581.40,738.00 596.30,738.00 596.30,741.80" fill="none" stroke="#1a1a1a" stroke-width="1.0"/>
<text x="589.00" y="733.55" font-size="8.2" font-weight="normal" text-anchor="middle" fill="#000">ns</text>
<polyline points="510.90,753.80 510.90,750.00 562.60,750.00 562.60,753.80" fill="none" stroke="#1a1a1a" stroke-width="1.0"/>
<path d="M537.10,740.58L537.10,744.62M538.85,741.59L535.35,743.61M538.85,743.61L535.35,741.59" stroke="#000" stroke-width="1.10" stroke-linecap="round"/>
<circle cx="537.10" cy="742.60" r="0.84" fill="#000"/>
<polyline points="510.90,766.30 510.90,762.50 545.40,762.50 545.40,766.30" fill="none" stroke="#1a1a1a" stroke-width="1.0"/>
<path d="M528.40,753.08L528.40,757.12M530.15,754.09L526.65,756.11M530.15,756.11L526.65,754.09" stroke="#000" stroke-width="1.10" stroke-linecap="round"/>
<circle cx="528.40" cy="755.10" r="0.84" fill="#000"/>
<polyline points="510.90,777.90 510.90,774.10 528.10,774.10 528.10,777.90" fill="none" stroke="#1a1a1a" stroke-width="1.0"/>
<path d="M519.00,764.68L519.00,768.72M520.75,765.69L517.25,767.71M520.75,767.71L517.25,765.69" stroke="#000" stroke-width="1.10" stroke-linecap="round"/>
<circle cx="519.00" cy="766.70" r="0.84" fill="#000"/>
<circle cx="614.00" cy="776.90" r="2.7" fill="#000000"/>
<text x="619.10" y="779.85" font-size="8.2" font-weight="bold" text-anchor="start" fill="#000">PBS</text>
<circle cx="614.00" cy="787.20" r="2.7" fill="#1ee8f5"/>
<text x="619.10" y="790.15" font-size="8.2" font-weight="bold" text-anchor="start" fill="#000">L1+AS04C</text>
<circle cx="614.00" cy="796.80" r="2.7" fill="#8a1fe0"/>
<text x="619.10" y="799.75" font-size="8.2" font-weight="bold" text-anchor="start" fill="#000">L1+AS04D</text>
<circle cx="614.00" cy="807.10" r="2.7" fill="#6e6e6e"/>
<text x="619.10" y="810.05" font-size="8.2" font-weight="bold" text-anchor="start" fill="#000">L1+MF59</text>
<circle cx="614.00" cy="817.10" r="2.7" fill="#0a12e8"/>
<text x="619.10" y="820.05" font-size="8.2" font-weight="bold" text-anchor="start" fill="#000">L1+GP96</text>
<circle cx="614.00" cy="827.40" r="2.7" fill="#ff1010"/>
<text x="619.10" y="830.35" font-size="8.2" font-weight="bold" text-anchor="start" fill="#000">L1-GP96-Fusion</text>
<defs><filter id="fblur" x="-30%" y="-50%" width="160%" height="200%"><feGaussianBlur stdDeviation="0.45"/></filter></defs>
<text x="1.00" y="856.68" font-size="13" font-weight="bold" text-anchor="start" fill="#000">M</text>
<text x="62.30" y="863.79" font-size="7.2" font-weight="bold" text-anchor="middle" fill="#000">PBS</text>
<text x="127.60" y="863.79" font-size="7.2" font-weight="bold" text-anchor="middle" fill="#000">L1+MF59</text>
<text x="193.20" y="863.79" font-size="7.2" font-weight="bold" text-anchor="middle" fill="#000">L1+GP96</text>
<text x="258.40" y="863.79" font-size="7.2" font-weight="bold" text-anchor="middle" fill="#000">L1-GP96-Fusion</text>
<rect x="30.30" y="868.50" width="63.40" height="62.60" fill="#fff" stroke="#555" stroke-width="0.6"/>
<line x1="30.70" y1="876.50" x2="32.10" y2="876.50" stroke="#444" stroke-width="0.5"/>
<line x1="30.70" y1="888.50" x2="32.10" y2="888.50" stroke="#444" stroke-width="0.5"/>
<line x1="30.70" y1="900.50" x2="32.10" y2="900.50" stroke="#444" stroke-width="0.5"/>
<line x1="30.70" y1="912.50" x2="32.10" y2="912.50" stroke="#444" stroke-width="0.5"/>
<line x1="30.70" y1="924.50" x2="32.10" y2="924.50" stroke="#444" stroke-width="0.5"/>
<line x1="38.30" y1="930.70" x2="38.30" y2="929.30" stroke="#444" stroke-width="0.5"/>
<line x1="50.30" y1="930.70" x2="50.30" y2="929.30" stroke="#444" stroke-width="0.5"/>
<line x1="62.30" y1="930.70" x2="62.30" y2="929.30" stroke="#444" stroke-width="0.5"/>
<line x1="74.30" y1="930.70" x2="74.30" y2="929.30" stroke="#444" stroke-width="0.5"/>
<line x1="86.30" y1="930.70" x2="86.30" y2="929.30" stroke="#444" stroke-width="0.5"/>
<rect x="31.1" y="929.6" width="61.8" height="0.9" fill="#888" opacity="0.5"/>
<path d="M66.4,904.2h0.6 M67.0,906.5h0.6 M64.2,903.0h0.6 M61.6,910.6h0.6 M67.2,917.0h0.6 M66.0,893.1h0.6 M66.9,914.1h0.6 M63.7,904.3h0.6 M65.0,915.6h0.6 M66.2,913.6h0.6 M59.5,915.3h0.6 M59.4,889.3h0.6 M58.9,902.1h0.6 M62.5,915.9h0.6 M63.7,917.4h0.6 M63.4,912.9h0.6 M65.1,915.5h0.6 M61.0,900.9h0.6 M66.3,912.1h0.6 M63.5,908.3h0.6 M65.7,910.2h0.6 M63.7,886.3h0.6 M61.1,904.0h0.6 M61.7,911.1h0.6 M63.6,910.7h0.6 M68.2,913.7h0.6 M66.2,911.5h0.6 M62.4,904.6h0.6 M66.8,908.0h0.6 M59.1,914.8h0.6 M68.1,906.2h0.6 M59.5,904.3h0.6 M61.3,909.6h0.6 M64.3,916.0h0.6 M62.0,915.8h0.6 M59.6,904.8h0.6 M64.1,917.0h0.6 M63.2,909.3h0.6 M65.0,908.7h0.6 M66.9,908.0h0.6 M64.5,913.8h0.6 M60.9,917.3h0.6 M65.9,910.8h0.6 M65.7,906.0h0.6 M65.2,892.7h0.6 M67.2,912.9h0.6 M63.6,907.8h0.6 M60.8,911.6h0.6 M60.4,915.9h0.6 M63.3,903.0h0.6 M65.1,915.5h0.6 M63.9,914.9h0.6 M65.8,908.2h0.6 M65.4,916.3h0.6 M70.7,912.8h0.6 M67.3,910.5h0.6 M62.0,912.0h0.6 M65.0,915.5h0.6 M62.7,916.0h0.6 M63.5,915.4h0.6 M59.0,909.3h0.6 M67.9,881.9h0.6 M62.8,906.3h0.6 M65.8,915.6h0.6 M67.3,914.6h0.6 M64.5,914.6h0.6 M70.7,910.1h0.6 M64.6,916.7h0.6 M64.9,914.3h0.6 M62.1,900.2h0.6 M61.5,902.0h0.6 M62.0,912.2h0.6 M67.9,905.7h0.6 M67.6,917.3h0.6 M71.6,908.8h0.6 M61.5,916.1h0.6 M68.6,897.5h0.6 M69.1,906.5h0.6 M64.6,911.1h0.6 M65.8,912.1h0.6 M67.0,915.3h0.6 M67.4,910.3h0.6 M69.1,914.6h0.6 M61.7,916.1h0.6 M61.7,909.6h0.6 M63.4,914.2h0.6 M63.8,899.6h0.6 M62.8,913.0h0.6 M63.6,911.9h0.6 M63.1,916.6h0.6 M59.2,917.0h0.6 M64.0,915.9h0.6 M64.7,916.4h0.6 M67.9,916.6h0.6 M66.6,909.9h0.6 M66.0,904.7h0.6 M64.2,909.6h0.6 M67.8,905.4h0.6 M70.5,913.2h0.6 M65.5,901.3h0.6 M63.7,900.8h0.6 M69.2,903.7h0.6 M68.7,895.3h0.6 M63.6,903.8h0.6 M69.0,913.6h0.6 M65.0,911.1h0.6 M64.6,910.3h0.6 M67.3,917.0h0.6 M67.3,911.6h0.6 M62.7,917.0h0.6 M64.4,896.5h0.6 M66.8,917.2h0.6 M61.6,910.8h0.6 M69.2,907.0h0.6 M63.4,917.1h0.6 M63.6,917.4h0.6 M65.5,916.3h0.6 M70.2,914.2h0.6 M62.5,906.7h0.6 M70.0,893.0h0.6 M65.0,921.1h0.6 M61.7,922.7h0.6 M59.4,917.9h0.6 M64.2,919.8h0.6 M63.7,921.4h0.6 M64.0,922.8h0.6 M59.8,921.4h0.6 M71.1,920.8h0.6 M67.1,922.7h0.6 M65.0,920.1h0.6 M56.7,919.3h0.6 M68.1,920.5h0.6 M61.9,921.2h0.6 M65.2,921.4h0.6 M64.3,921.6h0.6 M62.8,923.8h0.6 M66.7,920.1h0.6 M66.9,920.7h0.6 M65.7,919.7h0.6 M63.8,919.9h0.6 M63.4,921.2h0.6 M62.4,919.4h0.6 M65.1,918.5h0.6 M64.0,920.6h0.6 M65.0,920.1h0.6 M55.6,920.5h0.6 M65.2,919.0h0.6 M66.6,919.9h0.6 M61.1,919.4h0.6 M64.1,919.2h0.6 M62.4,921.3h0.6 M68.8,919.2h0.6 M61.8,922.8h0.6 M62.9,919.6h0.6 M63.2,920.5h0.6 M64.8,921.1h0.6 M68.2,921.5h0.6 M67.3,917.8h0.6 M65.9,924.3h0.6 M62.2,922.6h0.6 M61.7,919.4h0.6 M62.2,917.3h0.6 M63.3,918.7h0.6 M67.7,918.4h0.6 M58.7,923.6h0.6 M63.8,920.7h0.6 M71.5,919.6h0.6 M59.7,919.9h0.6 M64.1,919.8h0.6 M65.7,918.3h0.6 M67.9,920.1h0.6 M63.6,923.2h0.6 M58.8,919.4h0.6 M68.9,921.1h0.6 M66.1,919.9h0.6 M67.5,921.5h0.6 M62.1,918.6h0.6 M61.9,920.2h0.6 M62.3,915.8h0.6 M61.5,920.4h0.6 M66.4,920.3h0.6 M59.2,919.3h0.6 M65.8,917.9h0.6 M63.2,918.9h0.6 M64.7,920.4h0.6 M61.6,921.3h0.6 M64.0,919.2h0.6 M65.6,922.1h0.6 M62.1,919.0h0.6 M66.9,919.2h0.6 M65.7,922.7h0.6 M64.0,920.7h0.6 M63.4,920.9h0.6 M60.4,917.8h0.6 M63.7,916.5h0.6 M68.1,922.8h0.6 M64.7,919.3h0.6 M62.7,920.6h0.6 M63.2,922.3h0.6 M62.3,921.5h0.6 M63.4,918.1h0.6 M67.4,921.8h0.6 M64.7,920.1h0.6 M64.5,920.1h0.6 M61.9,921.1h0.6 M65.7,920.5h0.6 M63.4,919.4h0.6 M62.8,920.3h0.6 M59.3,918.0h0.6 M64.6,918.9h0.6" stroke="#4050f0" stroke-width="0.75" opacity="0.7"/>
<g transform="rotate(-12 64.0 920.5)" filter="url(#fblur)"><ellipse cx="64.0" cy="920.5" rx="7.2" ry="3.3" fill="#6a80f0" opacity="0.6"/><ellipse cx="64.0" cy="920.5" rx="5.2" ry="2.4" fill="#2f9ae0"/><ellipse cx="63.4" cy="920.5" rx="4.2" ry="1.9" fill="#22c060"/><ellipse cx="63.2" cy="920.5" rx="2.2" ry="1.1" fill="#d8d020"/><ellipse cx="63.2" cy="920.5" rx="0.9" ry="0.5" fill="#e07020"/></g>
<rect x="54.60" y="887.20" width="26.10" height="26.00" fill="none" stroke="#333" stroke-width="0.7"/>
<text x="67.15" y="883.59" font-size="7.2" font-weight="bold" text-anchor="middle" fill="#000">4.48%</text>
<rect x="95.60" y="868.50" width="63.40" height="62.60" fill="#fff" stroke="#555" stroke-width="0.6"/>
<line x1="96.00" y1="876.50" x2="97.40" y2="876.50" stroke="#444" stroke-width="0.5"/>
<line x1="96.00" y1="888.50" x2="97.40" y2="888.50" stroke="#444" stroke-width="0.5"/>
<line x1="96.00" y1="900.50" x2="97.40" y2="900.50" stroke="#444" stroke-width="0.5"/>
<line x1="96.00" y1="912.50" x2="97.40" y2="912.50" stroke="#444" stroke-width="0.5"/>
<line x1="96.00" y1="924.50" x2="97.40" y2="924.50" stroke="#444" stroke-width="0.5"/>
<line x1="103.60" y1="930.70" x2="103.60" y2="929.30" stroke="#444" stroke-width="0.5"/>
<line x1="115.60" y1="930.70" x2="115.60" y2="929.30" stroke="#444" stroke-width="0.5"/>
<line x1="127.60" y1="930.70" x2="127.60" y2="929.30" stroke="#444" stroke-width="0.5"/>
<line x1="139.60" y1="930.70" x2="139.60" y2="929.30" stroke="#444" stroke-width="0.5"/>
<line x1="151.60" y1="930.70" x2="151.60" y2="929.30" stroke="#444" stroke-width="0.5"/>
<rect x="96.4" y="929.6" width="61.8" height="0.9" fill="#888" opacity="0.5"/>
<path d="M128.2,887.2h0.6 M128.9,894.3h0.6 M125.8,915.3h0.6 M130.7,915.2h0.6 M128.8,915.3h0.6 M134.0,885.6h0.6 M131.5,916.6h0.6 M130.6,904.2h0.6 M127.7,913.9h0.6 M132.2,908.3h0.6 M128.3,912.4h0.6 M130.9,914.2h0.6 M133.8,907.2h0.6 M133.2,907.6h0.6 M131.9,913.2h0.6 M127.9,912.5h0.6 M126.4,917.4h0.6 M132.2,911.8h0.6 M127.3,917.3h0.6 M129.3,906.5h0.6 M133.4,916.0h0.6 M130.1,917.1h0.6 M130.3,916.0h0.6 M130.8,907.1h0.6 M129.5,907.9h0.6 M127.2,911.7h0.6 M124.1,914.1h0.6 M129.9,899.1h0.6 M128.3,917.4h0.6 M125.9,916.7h0.6 M132.4,891.2h0.6 M130.4,898.7h0.6 M130.6,906.4h0.6 M128.6,904.1h0.6 M131.6,916.1h0.6 M125.2,915.7h0.6 M131.0,897.4h0.6 M125.4,912.1h0.6 M131.0,889.1h0.6 M128.9,898.0h0.6 M129.3,910.3h0.6 M130.7,906.9h0.6 M129.3,914.5h0.6 M130.6,901.8h0.6 M135.4,914.9h0.6 M133.4,915.4h0.6 M135.8,896.6h0.6 M134.9,914.0h0.6 M133.2,897.8h0.6 M132.1,917.3h0.6 M126.1,911.9h0.6 M125.7,909.9h0.6 M130.5,914.6h0.6 M127.9,907.7h0.6 M126.6,913.8h0.6 M128.7,892.6h0.6 M128.8,897.2h0.6 M133.9,912.8h0.6 M131.7,916.8h0.6 M130.5,916.0h0.6 M131.7,913.3h0.6 M131.6,912.1h0.6 M127.7,907.0h0.6 M126.2,913.4h0.6 M128.0,916.2h0.6 M126.8,910.4h0.6 M128.1,905.5h0.6 M133.7,915.0h0.6 M127.0,914.3h0.6 M131.1,917.1h0.6 M138.2,905.3h0.6 M132.5,912.3h0.6 M128.7,906.3h0.6 M127.9,890.3h0.6 M126.7,894.5h0.6 M132.5,912.0h0.6 M130.9,914.6h0.6 M128.7,905.1h0.6 M128.8,899.9h0.6 M133.8,914.7h0.6 M131.5,908.3h0.6 M127.1,903.1h0.6 M122.7,913.7h0.6 M129.6,906.2h0.6 M128.3,912.6h0.6 M129.6,915.3h0.6 M131.9,903.1h0.6 M131.5,915.5h0.6 M131.0,915.9h0.6 M129.4,907.6h0.6 M126.1,896.7h0.6 M129.1,915.6h0.6 M130.1,910.9h0.6 M128.5,911.0h0.6 M123.7,915.1h0.6 M124.4,913.8h0.6 M126.2,893.4h0.6 M132.9,911.6h0.6 M127.7,916.2h0.6 M130.5,909.0h0.6 M130.4,906.2h0.6 M129.7,912.8h0.6 M130.5,914.4h0.6 M130.6,910.6h0.6 M132.2,915.0h0.6 M129.6,905.9h0.6 M127.1,916.0h0.6 M132.1,900.2h0.6 M133.9,892.8h0.6 M127.6,913.8h0.6 M132.2,896.9h0.6 M130.3,911.8h0.6 M130.3,915.8h0.6 M131.4,912.3h0.6 M135.0,904.7h0.6 M127.0,920.5h0.6 M127.9,920.7h0.6 M127.7,920.0h0.6 M129.7,921.1h0.6 M128.9,918.5h0.6 M127.4,919.0h0.6 M126.3,918.5h0.6 M133.7,922.5h0.6 M128.3,923.5h0.6 M129.1,922.7h0.6 M131.4,922.4h0.6 M132.2,918.3h0.6 M134.1,924.2h0.6 M131.8,921.0h0.6 M130.1,921.3h0.6 M129.9,923.5h0.6 M129.3,921.3h0.6 M128.9,919.4h0.6 M124.9,920.3h0.6 M127.5,923.0h0.6 M129.0,919.9h0.6 M127.6,918.3h0.6 M132.9,918.6h0.6 M129.5,921.9h0.6 M128.3,920.8h0.6 M129.1,918.0h0.6 M128.9,922.9h0.6 M130.1,920.0h0.6 M133.9,919.8h0.6 M128.7,921.6h0.6 M129.1,921.6h0.6 M132.3,921.1h0.6 M130.4,920.5h0.6 M128.5,917.2h0.6 M128.2,917.6h0.6 M131.4,920.9h0.6 M128.3,922.9h0.6 M132.3,922.5h0.6 M125.5,920.0h0.6 M126.3,923.0h0.6 M128.5,920.7h0.6 M123.2,922.9h0.6 M131.5,920.2h0.6 M129.6,920.4h0.6 M134.6,918.4h0.6 M129.1,920.0h0.6 M133.6,923.7h0.6 M124.1,918.0h0.6 M128.3,921.2h0.6 M130.7,917.7h0.6 M127.8,921.1h0.6 M131.0,919.1h0.6 M129.8,921.1h0.6 M131.2,917.9h0.6 M132.3,921.8h0.6 M134.6,921.5h0.6 M130.9,920.4h0.6 M129.5,920.1h0.6 M131.4,920.9h0.6 M136.0,921.8h0.6 M133.9,921.5h0.6 M128.6,921.4h0.6 M127.8,920.8h0.6 M125.9,918.5h0.6 M134.9,920.0h0.6 M127.4,919.3h0.6 M128.7,919.6h0.6 M136.7,921.4h0.6 M129.6,922.6h0.6 M127.5,921.2h0.6 M129.9,917.4h0.6 M132.3,921.3h0.6 M128.2,917.0h0.6 M132.1,920.6h0.6 M131.2,918.4h0.6 M132.1,922.7h0.6 M125.4,921.4h0.6 M130.0,921.9h0.6 M132.8,917.5h0.6 M133.6,918.8h0.6 M127.1,920.0h0.6 M128.0,923.0h0.6 M126.2,921.7h0.6 M125.1,920.7h0.6 M130.7,918.8h0.6 M133.4,921.4h0.6 M135.6,922.0h0.6 M126.2,919.5h0.6 M130.0,920.8h0.6 M128.1,917.8h0.6" stroke="#4050f0" stroke-width="0.75" opacity="0.7"/>
<g transform="rotate(-12 129.3 920.5)" filter="url(#fblur)"><ellipse cx="129.3" cy="920.5" rx="7.2" ry="3.3" fill="#6a80f0" opacity="0.6"/><ellipse cx="129.3" cy="920.5" rx="5.2" ry="2.4" fill="#2f9ae0"/><ellipse cx="128.7" cy="920.5" rx="4.2" ry="1.9" fill="#22c060"/><ellipse cx="128.5" cy="920.5" rx="2.2" ry="1.1" fill="#d8d020"/><ellipse cx="128.5" cy="920.5" rx="0.9" ry="0.5" fill="#e07020"/></g>
<rect x="119.90" y="887.20" width="26.10" height="26.00" fill="none" stroke="#333" stroke-width="0.7"/>
<text x="132.45" y="883.59" font-size="7.2" font-weight="bold" text-anchor="middle" fill="#000">4.12%</text>
<rect x="161.20" y="868.50" width="63.40" height="62.60" fill="#fff" stroke="#555" stroke-width="0.6"/>
<line x1="161.60" y1="876.50" x2="163.00" y2="876.50" stroke="#444" stroke-width="0.5"/>
<line x1="161.60" y1="888.50" x2="163.00" y2="888.50" stroke="#444" stroke-width="0.5"/>
<line x1="161.60" y1="900.50" x2="163.00" y2="900.50" stroke="#444" stroke-width="0.5"/>
<line x1="161.60" y1="912.50" x2="163.00" y2="912.50" stroke="#444" stroke-width="0.5"/>
<line x1="161.60" y1="924.50" x2="163.00" y2="924.50" stroke="#444" stroke-width="0.5"/>
<line x1="169.20" y1="930.70" x2="169.20" y2="929.30" stroke="#444" stroke-width="0.5"/>
<line x1="181.20" y1="930.70" x2="181.20" y2="929.30" stroke="#444" stroke-width="0.5"/>
<line x1="193.20" y1="930.70" x2="193.20" y2="929.30" stroke="#444" stroke-width="0.5"/>
<line x1="205.20" y1="930.70" x2="205.20" y2="929.30" stroke="#444" stroke-width="0.5"/>
<line x1="217.20" y1="930.70" x2="217.20" y2="929.30" stroke="#444" stroke-width="0.5"/>
<rect x="162.0" y="929.6" width="61.8" height="0.9" fill="#888" opacity="0.5"/>
<path d="M197.7,915.8h0.6 M198.5,906.2h0.6 M193.3,908.8h0.6 M193.7,909.9h0.6 M198.8,908.8h0.6 M196.4,910.9h0.6 M198.8,913.2h0.6 M192.3,915.1h0.6 M199.0,906.9h0.6 M199.1,909.0h0.6 M192.4,915.2h0.6 M196.6,910.7h0.6 M197.8,908.5h0.6 M198.5,907.5h0.6 M195.5,913.8h0.6 M196.7,907.0h0.6 M190.8,912.4h0.6 M195.1,912.9h0.6 M196.9,915.4h0.6 M194.5,909.5h0.6 M193.4,910.1h0.6 M193.2,912.2h0.6 M192.6,901.8h0.6 M190.3,908.3h0.6 M188.8,912.1h0.6 M196.7,908.6h0.6 M198.3,913.0h0.6 M192.3,905.2h0.6 M190.4,908.7h0.6 M191.8,910.6h0.6 M198.8,912.9h0.6 M194.9,892.5h0.6 M197.1,916.8h0.6 M194.8,899.9h0.6 M197.5,914.8h0.6 M193.6,907.1h0.6 M197.2,912.1h0.6 M194.7,907.7h0.6 M196.0,916.1h0.6 M198.3,911.6h0.6 M195.6,913.0h0.6 M196.6,916.0h0.6 M196.6,912.6h0.6 M196.5,914.0h0.6 M195.0,914.9h0.6 M192.6,915.6h0.6 M194.1,915.4h0.6 M199.9,911.8h0.6 M197.3,911.9h0.6 M190.5,900.8h0.6 M194.2,916.6h0.6 M193.9,915.8h0.6 M196.1,901.1h0.6 M192.7,886.6h0.6 M198.2,917.4h0.6 M193.9,914.5h0.6 M196.2,906.6h0.6 M199.4,894.5h0.6 M193.5,908.3h0.6 M188.6,911.7h0.6 M196.6,903.9h0.6 M193.5,905.8h0.6 M196.1,915.6h0.6 M194.7,890.5h0.6 M197.4,909.2h0.6 M197.8,911.5h0.6 M200.5,913.7h0.6 M190.6,916.2h0.6 M198.1,914.9h0.6 M193.9,916.1h0.6 M199.1,914.5h0.6 M195.6,910.1h0.6 M198.3,889.9h0.6 M194.0,916.8h0.6 M195.7,888.7h0.6 M190.7,917.2h0.6 M191.9,909.3h0.6 M195.3,911.7h0.6 M194.6,898.5h0.6 M201.4,906.6h0.6 M198.9,916.7h0.6 M194.5,906.8h0.6 M199.1,908.0h0.6 M198.3,915.4h0.6 M196.0,915.7h0.6 M196.3,883.1h0.6 M196.2,916.2h0.6 M201.2,913.7h0.6 M192.8,887.5h0.6 M195.9,915.0h0.6 M193.5,916.4h0.6 M195.6,906.9h0.6 M193.7,906.8h0.6 M198.2,916.6h0.6 M196.9,917.3h0.6 M186.8,901.3h0.6 M188.1,916.9h0.6 M194.1,911.7h0.6 M197.0,912.2h0.6 M193.2,912.1h0.6 M191.7,885.0h0.6 M199.0,915.1h0.6 M193.2,905.2h0.6 M200.0,902.3h0.6 M192.9,900.7h0.6 M189.8,908.4h0.6 M195.2,899.8h0.6 M196.6,899.9h0.6 M197.1,905.4h0.6 M194.1,893.5h0.6 M195.6,915.7h0.6 M196.0,915.2h0.6 M193.2,902.1h0.6 M190.7,906.9h0.6 M202.9,912.2h0.6 M194.4,894.6h0.6 M195.0,909.5h0.6 M193.4,915.8h0.6 M191.3,917.4h0.6 M198.5,910.5h0.6 M193.3,916.9h0.6 M196.3,910.8h0.6 M194.8,912.8h0.6 M196.5,907.2h0.6 M199.7,916.7h0.6 M197.8,911.7h0.6 M191.7,897.4h0.6 M199.5,905.4h0.6 M194.8,901.8h0.6 M197.8,911.0h0.6 M192.5,915.5h0.6 M192.1,913.1h0.6 M197.8,900.5h0.6 M194.7,915.9h0.6 M198.7,914.5h0.6 M195.7,909.3h0.6 M195.5,911.2h0.6 M194.7,913.2h0.6 M199.9,898.0h0.6 M192.4,905.3h0.6 M193.2,910.4h0.6 M198.9,919.6h0.6 M197.3,918.4h0.6 M190.3,920.5h0.6 M198.2,921.3h0.6 M197.8,919.9h0.6 M196.3,919.6h0.6 M193.3,920.9h0.6 M193.3,920.0h0.6 M187.1,921.2h0.6 M198.0,922.1h0.6 M194.9,920.0h0.6 M197.0,921.1h0.6 M193.1,921.9h0.6 M192.8,922.6h0.6 M204.0,922.6h0.6 M192.5,918.3h0.6 M192.4,921.5h0.6 M194.8,920.6h0.6 M200.5,916.4h0.6 M199.7,921.4h0.6 M192.3,921.6h0.6 M198.9,918.8h0.6 M193.1,920.8h0.6 M192.1,922.1h0.6 M192.9,922.0h0.6 M200.1,922.2h0.6 M201.1,921.4h0.6 M194.6,921.2h0.6 M199.9,919.0h0.6 M196.2,920.5h0.6 M192.7,921.8h0.6 M198.2,923.4h0.6 M190.1,922.5h0.6 M198.5,918.6h0.6 M202.6,919.9h0.6 M196.3,919.5h0.6 M198.6,921.7h0.6 M200.0,919.2h0.6 M199.8,920.7h0.6 M198.9,919.9h0.6 M193.7,919.7h0.6 M201.0,919.3h0.6 M197.1,918.6h0.6 M192.3,921.8h0.6 M192.5,922.5h0.6 M190.4,923.7h0.6 M192.4,919.6h0.6 M191.1,919.9h0.6 M196.4,921.9h0.6 M194.0,919.4h0.6 M198.7,920.6h0.6 M189.8,922.6h0.6 M198.9,924.6h0.6 M192.4,922.4h0.6 M194.0,922.1h0.6 M192.9,923.3h0.6 M188.0,919.9h0.6 M196.5,920.5h0.6 M188.4,921.9h0.6 M193.5,919.7h0.6 M195.9,921.2h0.6 M193.5,921.0h0.6 M196.4,922.0h0.6 M194.1,920.6h0.6 M194.3,917.8h0.6 M196.0,920.6h0.6 M193.5,917.5h0.6 M196.1,921.1h0.6 M194.7,917.6h0.6 M192.1,918.4h0.6 M191.8,919.9h0.6 M198.8,923.3h0.6 M195.9,919.5h0.6 M194.7,921.5h0.6 M194.7,923.0h0.6 M196.4,922.5h0.6 M197.6,920.7h0.6 M195.9,920.3h0.6 M191.3,919.1h0.6 M191.5,920.3h0.6 M193.6,918.6h0.6 M197.3,922.0h0.6 M192.2,917.5h0.6 M195.9,921.1h0.6 M193.5,920.5h0.6 M195.7,921.2h0.6 M193.9,918.7h0.6 M193.7,918.4h0.6 M189.5,919.9h0.6 M193.9,919.5h0.6" stroke="#4050f0" stroke-width="0.75" opacity="0.7"/>
<g transform="rotate(-12 194.9 920.5)" filter="url(#fblur)"><ellipse cx="194.9" cy="920.5" rx="7.2" ry="3.3" fill="#6a80f0" opacity="0.6"/><ellipse cx="194.9" cy="920.5" rx="5.2" ry="2.4" fill="#2f9ae0"/><ellipse cx="194.3" cy="920.5" rx="4.2" ry="1.9" fill="#22c060"/><ellipse cx="194.1" cy="920.5" rx="2.2" ry="1.1" fill="#d8d020"/><ellipse cx="194.1" cy="920.5" rx="0.9" ry="0.5" fill="#e07020"/></g>
<rect x="185.50" y="887.20" width="26.10" height="26.00" fill="none" stroke="#333" stroke-width="0.7"/>
<text x="198.05" y="883.59" font-size="7.2" font-weight="bold" text-anchor="middle" fill="#000">5.93%</text>
<rect x="226.40" y="868.50" width="63.40" height="62.60" fill="#fff" stroke="#555" stroke-width="0.6"/>
<line x1="226.80" y1="876.50" x2="228.20" y2="876.50" stroke="#444" stroke-width="0.5"/>
<line x1="226.80" y1="888.50" x2="228.20" y2="888.50" stroke="#444" stroke-width="0.5"/>
<line x1="226.80" y1="900.50" x2="228.20" y2="900.50" stroke="#444" stroke-width="0.5"/>
<line x1="226.80" y1="912.50" x2="228.20" y2="912.50" stroke="#444" stroke-width="0.5"/>
<line x1="226.80" y1="924.50" x2="228.20" y2="924.50" stroke="#444" stroke-width="0.5"/>
<line x1="234.40" y1="930.70" x2="234.40" y2="929.30" stroke="#444" stroke-width="0.5"/>
<line x1="246.40" y1="930.70" x2="246.40" y2="929.30" stroke="#444" stroke-width="0.5"/>
<line x1="258.40" y1="930.70" x2="258.40" y2="929.30" stroke="#444" stroke-width="0.5"/>
<line x1="270.40" y1="930.70" x2="270.40" y2="929.30" stroke="#444" stroke-width="0.5"/>
<line x1="282.40" y1="930.70" x2="282.40" y2="929.30" stroke="#444" stroke-width="0.5"/>
<rect x="227.2" y="929.6" width="61.8" height="0.9" fill="#888" opacity="0.5"/>
<path d="M263.7,906.0h0.6 M260.2,905.5h0.6 M260.9,909.1h0.6 M261.7,916.3h0.6 M256.3,898.9h0.6 M264.6,916.3h0.6 M262.4,901.6h0.6 M261.6,917.2h0.6 M260.8,916.2h0.6 M262.0,910.8h0.6 M261.8,905.6h0.6 M263.3,905.9h0.6 M256.4,909.8h0.6 M263.1,901.7h0.6 M260.7,909.6h0.6 M263.3,891.2h0.6 M258.3,914.9h0.6 M258.5,914.5h0.6 M262.4,897.9h0.6 M268.7,897.2h0.6 M256.3,914.3h0.6 M259.9,911.5h0.6 M262.4,914.8h0.6 M263.0,916.5h0.6 M261.7,902.4h0.6 M260.0,906.6h0.6 M256.2,906.4h0.6 M258.8,914.4h0.6 M257.0,912.9h0.6 M259.5,902.1h0.6 M256.3,916.9h0.6 M262.2,912.2h0.6 M264.5,898.9h0.6 M261.7,910.4h0.6 M257.1,915.1h0.6 M259.1,913.1h0.6 M257.1,913.2h0.6 M258.7,911.6h0.6 M258.9,907.3h0.6 M263.7,913.9h0.6 M258.5,910.5h0.6 M255.6,882.1h0.6 M258.3,915.7h0.6 M266.5,913.4h0.6 M260.9,908.9h0.6 M260.0,899.0h0.6 M264.6,913.6h0.6 M259.2,913.8h0.6 M259.9,917.2h0.6 M259.9,898.3h0.6 M259.5,912.4h0.6 M259.4,914.4h0.6 M262.2,905.9h0.6 M259.0,905.2h0.6 M259.7,910.8h0.6 M262.6,912.9h0.6 M258.6,903.2h0.6 M259.2,912.6h0.6 M263.8,897.2h0.6 M264.3,907.2h0.6 M255.2,893.0h0.6 M259.0,917.4h0.6 M260.1,913.8h0.6 M260.7,915.0h0.6 M256.5,899.7h0.6 M261.6,914.7h0.6 M271.1,903.7h0.6 M261.4,910.3h0.6 M261.3,893.0h0.6 M261.2,910.7h0.6 M263.8,904.9h0.6 M256.9,902.7h0.6 M260.6,912.3h0.6 M262.7,904.3h0.6 M261.9,909.7h0.6 M256.1,911.6h0.6 M262.1,907.9h0.6 M264.5,911.0h0.6 M259.5,891.6h0.6 M252.9,916.4h0.6 M259.7,906.9h0.6 M264.4,914.4h0.6 M263.5,904.4h0.6 M259.3,917.0h0.6 M260.5,903.4h0.6 M261.2,910.8h0.6 M264.3,913.9h0.6 M259.5,913.5h0.6 M259.3,916.4h0.6 M262.0,908.0h0.6 M259.4,906.3h0.6 M263.5,914.6h0.6 M258.3,913.9h0.6 M261.6,907.6h0.6 M262.9,916.4h0.6 M262.3,907.5h0.6 M258.5,911.5h0.6 M267.6,907.7h0.6 M255.5,906.6h0.6 M259.9,908.2h0.6 M262.2,904.9h0.6 M260.9,912.7h0.6 M264.6,901.9h0.6 M260.0,905.2h0.6 M264.6,892.5h0.6 M259.7,912.5h0.6 M260.5,914.8h0.6 M262.0,897.2h0.6 M260.2,917.2h0.6 M259.9,911.9h0.6 M258.1,917.3h0.6 M259.9,914.7h0.6 M263.9,902.1h0.6 M257.5,914.6h0.6 M259.7,914.2h0.6 M259.0,889.3h0.6 M261.2,915.2h0.6 M262.9,899.2h0.6 M259.2,900.3h0.6 M257.2,911.9h0.6 M264.8,914.3h0.6 M258.2,915.0h0.6 M257.7,903.4h0.6 M259.9,908.0h0.6 M260.5,914.7h0.6 M256.8,905.2h0.6 M264.6,906.3h0.6 M260.2,915.1h0.6 M262.9,909.4h0.6 M262.7,905.8h0.6 M257.2,916.6h0.6 M261.2,917.0h0.6 M262.4,914.9h0.6 M262.3,916.1h0.6 M259.3,901.8h0.6 M262.8,892.8h0.6 M265.2,917.4h0.6 M260.5,915.0h0.6 M265.0,899.9h0.6 M260.6,915.5h0.6 M260.7,910.8h0.6 M261.9,913.4h0.6 M259.1,917.2h0.6 M260.9,913.1h0.6 M264.3,909.8h0.6 M258.8,916.9h0.6 M258.2,908.5h0.6 M261.7,912.8h0.6 M261.4,905.7h0.6 M258.5,917.4h0.6 M263.7,900.2h0.6 M264.6,914.2h0.6 M262.9,909.4h0.6 M267.4,916.6h0.6 M264.2,914.3h0.6 M260.4,911.1h0.6 M258.1,912.7h0.6 M263.3,913.2h0.6 M260.4,901.5h0.6 M258.3,905.1h0.6 M262.2,899.7h0.6 M260.1,906.2h0.6 M263.2,911.2h0.6 M266.3,915.7h0.6 M263.3,902.9h0.6 M270.7,915.1h0.6 M261.2,906.7h0.6 M260.1,908.4h0.6 M264.8,905.6h0.6 M256.2,900.8h0.6 M254.3,912.4h0.6 M262.1,905.7h0.6 M260.7,902.0h0.6 M257.8,906.1h0.6 M262.6,911.5h0.6 M263.8,909.3h0.6 M264.9,912.9h0.6 M261.4,905.4h0.6 M260.7,911.8h0.6 M261.2,908.3h0.6 M261.3,898.3h0.6 M257.2,915.8h0.6 M262.7,907.8h0.6 M262.6,904.4h0.6 M264.1,913.6h0.6 M262.1,910.7h0.6 M262.0,908.3h0.6 M261.6,913.7h0.6 M263.9,913.6h0.6 M260.1,915.6h0.6 M257.3,914.8h0.6 M260.1,886.1h0.6 M255.8,907.1h0.6 M260.4,901.4h0.6 M266.4,909.3h0.6 M265.0,915.8h0.6 M259.8,912.5h0.6 M260.1,916.5h0.6 M263.6,901.0h0.6 M261.6,904.7h0.6 M265.1,908.8h0.6 M258.7,909.2h0.6 M262.1,910.9h0.6 M260.3,910.4h0.6 M266.3,907.2h0.6 M261.1,913.7h0.6 M261.5,905.8h0.6 M257.6,910.3h0.6 M262.8,916.6h0.6 M258.1,904.5h0.6 M261.1,893.1h0.6 M264.3,905.9h0.6 M265.8,921.7h0.6 M263.9,920.1h0.6 M260.5,922.2h0.6 M259.7,920.4h0.6 M263.1,918.6h0.6 M256.2,922.2h0.6 M263.6,923.4h0.6 M262.8,919.1h0.6 M263.1,921.6h0.6 M263.6,921.7h0.6 M262.9,922.0h0.6 M258.4,921.2h0.6 M257.4,919.5h0.6 M263.0,919.3h0.6 M256.3,919.3h0.6 M262.6,922.2h0.6 M262.1,922.2h0.6 M254.1,920.3h0.6 M263.1,920.1h0.6 M262.4,919.2h0.6 M260.6,922.6h0.6 M258.3,924.1h0.6 M261.3,920.2h0.6 M266.9,920.1h0.6 M263.5,922.2h0.6 M259.0,920.1h0.6 M260.5,920.2h0.6 M258.6,922.0h0.6 M261.6,918.9h0.6 M259.8,922.2h0.6 M257.7,920.1h0.6 M265.3,922.2h0.6 M261.2,921.4h0.6 M262.2,924.5h0.6 M264.3,921.5h0.6 M258.7,920.0h0.6 M261.0,919.5h0.6 M261.2,920.7h0.6 M260.1,920.0h0.6 M257.4,918.9h0.6 M266.9,923.0h0.6 M262.4,921.5h0.6 M261.4,919.3h0.6 M261.5,918.0h0.6 M260.8,918.9h0.6 M260.1,922.2h0.6 M260.2,920.2h0.6 M262.6,921.2h0.6 M265.4,921.3h0.6 M264.2,920.1h0.6 M259.1,921.9h0.6 M264.0,918.7h0.6 M256.7,919.6h0.6 M264.2,919.3h0.6 M262.2,923.7h0.6 M262.2,920.7h0.6 M261.7,921.9h0.6 M255.6,919.1h0.6 M260.5,923.7h0.6 M266.7,920.4h0.6 M262.1,918.5h0.6 M259.0,920.7h0.6 M259.0,921.2h0.6 M259.9,920.9h0.6 M263.7,920.1h0.6 M261.9,920.9h0.6 M259.5,920.7h0.6 M259.4,919.2h0.6 M258.9,919.3h0.6 M255.9,922.6h0.6 M254.2,921.4h0.6 M258.4,918.1h0.6 M260.2,918.4h0.6 M258.9,922.7h0.6 M262.8,920.7h0.6 M262.6,917.6h0.6 M265.8,920.8h0.6 M258.7,920.8h0.6 M264.1,919.4h0.6 M260.7,924.0h0.6 M264.9,921.5h0.6 M259.9,917.9h0.6 M258.1,920.7h0.6 M261.6,923.1h0.6 M259.9,920.5h0.6 M259.0,918.0h0.6 M261.5,918.7h0.6 M258.9,918.5h0.6 M261.3,919.2h0.6 M261.8,923.5h0.6" stroke="#4050f0" stroke-width="0.75" opacity="0.7"/>
<g transform="rotate(-12 260.1 920.5)" filter="url(#fblur)"><ellipse cx="260.1" cy="920.5" rx="7.2" ry="3.3" fill="#6a80f0" opacity="0.6"/><ellipse cx="260.1" cy="920.5" rx="5.2" ry="2.4" fill="#2f9ae0"/><ellipse cx="259.5" cy="920.5" rx="4.2" ry="1.9" fill="#22c060"/><ellipse cx="259.3" cy="920.5" rx="2.2" ry="1.1" fill="#d8d020"/><ellipse cx="259.3" cy="920.5" rx="0.9" ry="0.5" fill="#e07020"/></g>
<rect x="250.70" y="887.20" width="26.10" height="26.00" fill="none" stroke="#333" stroke-width="0.7"/>
<text x="263.25" y="883.59" font-size="7.2" font-weight="bold" text-anchor="middle" fill="#000">11.0%</text>
<text x="292.50" y="904.56" font-size="7.1" font-weight="bold" text-anchor="start" fill="#000">Ratio=1:1</text>
<rect x="30.30" y="933.30" width="63.40" height="62.60" fill="#fff" stroke="#555" stroke-width="0.6"/>
<line x1="30.70" y1="941.30" x2="32.10" y2="941.30" stroke="#444" stroke-width="0.5"/>
<line x1="30.70" y1="953.30" x2="32.10" y2="953.30" stroke="#444" stroke-width="0.5"/>
<line x1="30.70" y1="965.30" x2="32.10" y2="965.30" stroke="#444" stroke-width="0.5"/>
<line x1="30.70" y1="977.30" x2="32.10" y2="977.30" stroke="#444" stroke-width="0.5"/>
<line x1="30.70" y1="989.30" x2="32.10" y2="989.30" stroke="#444" stroke-width="0.5"/>
<line x1="38.30" y1="995.50" x2="38.30" y2="994.10" stroke="#444" stroke-width="0.5"/>
<line x1="50.30" y1="995.50" x2="50.30" y2="994.10" stroke="#444" stroke-width="0.5"/>
<line x1="62.30" y1="995.50" x2="62.30" y2="994.10" stroke="#444" stroke-width="0.5"/>
<line x1="74.30" y1="995.50" x2="74.30" y2="994.10" stroke="#444" stroke-width="0.5"/>
<line x1="86.30" y1="995.50" x2="86.30" y2="994.10" stroke="#444" stroke-width="0.5"/>
<rect x="31.1" y="994.4" width="61.8" height="0.9" fill="#888" opacity="0.5"/>
<path d="M67.1,966.7h0.6 M63.4,979.7h0.6 M62.3,975.2h0.6 M64.8,981.6h0.6 M62.4,981.9h0.6 M65.8,967.0h0.6 M65.9,973.3h0.6 M63.7,975.5h0.6 M61.2,972.5h0.6 M66.2,979.3h0.6 M67.1,958.2h0.6 M65.1,960.7h0.6 M61.5,947.5h0.6 M65.9,977.5h0.6 M63.3,979.9h0.6 M59.3,976.1h0.6 M66.2,978.7h0.6 M65.3,966.7h0.6 M65.9,954.9h0.6 M64.7,979.5h0.6 M64.4,980.9h0.6 M62.7,976.2h0.6 M65.0,976.9h0.6 M62.3,976.0h0.6 M62.1,981.8h0.6 M67.3,963.9h0.6 M63.5,978.7h0.6 M71.8,976.1h0.6 M69.2,980.6h0.6 M70.8,981.2h0.6 M63.1,955.2h0.6 M65.5,980.8h0.6 M65.6,963.5h0.6 M61.7,971.5h0.6 M62.3,979.1h0.6 M65.6,979.8h0.6 M65.0,974.3h0.6 M65.3,980.2h0.6 M64.9,982.2h0.6 M66.0,981.1h0.6 M65.1,978.6h0.6 M67.0,982.2h0.6 M61.2,981.6h0.6 M62.9,976.8h0.6 M67.2,975.3h0.6 M63.8,979.7h0.6 M60.6,979.4h0.6 M67.9,959.9h0.6 M64.4,958.6h0.6 M66.0,970.1h0.6 M60.9,979.2h0.6 M65.3,980.4h0.6 M67.2,980.5h0.6 M65.9,982.1h0.6 M65.7,980.9h0.6 M64.5,971.2h0.6 M63.7,971.2h0.6 M66.1,974.0h0.6 M67.3,956.7h0.6 M63.4,981.7h0.6 M63.6,980.5h0.6 M67.9,965.4h0.6 M68.5,981.2h0.6 M65.4,980.0h0.6 M58.5,976.0h0.6 M64.8,969.2h0.6 M67.5,980.2h0.6 M60.6,964.0h0.6 M64.5,952.9h0.6 M66.9,978.4h0.6 M62.9,960.7h0.6 M67.8,973.8h0.6 M60.6,954.2h0.6 M65.7,969.4h0.6 M65.9,979.4h0.6 M62.0,973.6h0.6 M61.8,979.5h0.6 M68.0,982.2h0.6 M63.7,978.8h0.6 M59.0,973.8h0.6 M63.8,955.6h0.6 M64.1,976.9h0.6 M65.4,960.1h0.6 M59.2,966.0h0.6 M63.2,961.7h0.6 M63.9,974.6h0.6 M64.5,981.3h0.6 M63.1,978.2h0.6 M66.0,976.4h0.6 M61.8,965.2h0.6 M58.1,966.8h0.6 M66.6,977.9h0.6 M67.6,977.1h0.6 M67.2,953.1h0.6 M66.1,963.4h0.6 M65.1,965.6h0.6 M63.4,977.6h0.6 M62.7,978.8h0.6 M67.3,979.6h0.6 M67.6,976.7h0.6 M62.4,975.5h0.6 M65.7,982.0h0.6 M65.1,978.3h0.6 M65.1,979.1h0.6 M64.0,963.4h0.6 M65.6,961.5h0.6 M67.7,969.3h0.6 M62.7,979.4h0.6 M66.0,978.7h0.6 M68.2,977.1h0.6 M64.2,957.6h0.6 M62.9,975.7h0.6 M65.8,981.2h0.6 M64.7,978.0h0.6 M64.5,982.0h0.6 M65.8,980.8h0.6 M70.1,968.8h0.6 M64.0,953.0h0.6 M63.8,981.8h0.6 M67.9,977.6h0.6 M58.4,978.0h0.6 M61.2,986.9h0.6 M63.3,984.6h0.6 M65.7,986.0h0.6 M65.7,985.6h0.6 M62.9,985.3h0.6 M63.4,984.0h0.6 M65.6,985.1h0.6 M62.2,984.0h0.6 M64.5,984.9h0.6 M67.3,988.7h0.6 M61.8,985.6h0.6 M68.0,986.3h0.6 M68.6,984.8h0.6 M68.6,984.6h0.6 M68.7,985.5h0.6 M56.6,983.6h0.6 M65.8,982.9h0.6 M66.7,986.5h0.6 M64.7,983.3h0.6 M63.4,984.9h0.6 M63.3,985.1h0.6 M69.4,985.6h0.6 M62.8,985.8h0.6 M63.3,985.4h0.6 M59.1,982.3h0.6 M66.4,982.2h0.6 M61.1,981.7h0.6 M63.2,985.6h0.6 M64.7,985.5h0.6 M64.9,986.0h0.6 M67.2,987.6h0.6 M62.6,986.3h0.6 M68.3,987.1h0.6 M64.3,988.6h0.6 M64.9,985.4h0.6 M66.1,983.6h0.6 M67.3,983.2h0.6 M63.9,984.1h0.6 M63.7,984.6h0.6 M69.5,983.6h0.6 M63.5,984.7h0.6 M65.2,987.0h0.6 M70.0,988.3h0.6 M67.6,984.4h0.6 M64.8,987.2h0.6 M67.8,985.2h0.6 M64.4,983.5h0.6 M66.2,986.3h0.6 M60.4,986.3h0.6 M62.9,986.0h0.6 M70.6,987.2h0.6 M66.3,983.8h0.6 M64.6,983.6h0.6 M64.4,985.9h0.6 M64.3,985.1h0.6 M66.0,984.7h0.6 M67.2,984.5h0.6 M63.7,984.3h0.6 M66.0,987.9h0.6 M60.9,984.7h0.6 M61.9,987.0h0.6 M72.2,984.8h0.6 M67.2,983.8h0.6 M59.2,986.5h0.6 M65.9,983.8h0.6 M64.2,985.2h0.6 M62.1,983.8h0.6 M69.5,988.1h0.6 M63.7,983.4h0.6 M66.4,983.5h0.6 M64.0,985.2h0.6 M63.6,983.5h0.6 M60.6,984.9h0.6 M64.2,982.8h0.6 M60.1,980.2h0.6 M57.8,987.8h0.6 M69.5,987.0h0.6 M61.7,984.2h0.6 M64.5,986.2h0.6 M62.0,986.5h0.6 M69.2,985.4h0.6 M67.3,983.7h0.6 M64.1,984.5h0.6 M64.2,985.6h0.6 M71.6,984.8h0.6 M62.5,985.6h0.6 M60.8,983.4h0.6 M65.3,986.4h0.6 M66.1,983.0h0.6 M66.1,986.4h0.6" stroke="#4050f0" stroke-width="0.75" opacity="0.7"/>
<g transform="rotate(-12 64.0 985.3)" filter="url(#fblur)"><ellipse cx="64.0" cy="985.3" rx="7.2" ry="3.3" fill="#6a80f0" opacity="0.6"/><ellipse cx="64.0" cy="985.3" rx="5.2" ry="2.4" fill="#2f9ae0"/><ellipse cx="63.4" cy="985.3" rx="4.2" ry="1.9" fill="#22c060"/><ellipse cx="63.2" cy="985.3" rx="2.2" ry="1.1" fill="#d8d020"/><ellipse cx="63.2" cy="985.3" rx="0.9" ry="0.5" fill="#e07020"/></g>
<rect x="54.60" y="952.00" width="26.10" height="26.00" fill="none" stroke="#333" stroke-width="0.7"/>
<text x="67.15" y="948.39" font-size="7.2" font-weight="bold" text-anchor="middle" fill="#000">4.46%</text>
<rect x="95.60" y="933.30" width="63.40" height="62.60" fill="#fff" stroke="#555" stroke-width="0.6"/>
<line x1="96.00" y1="941.30" x2="97.40" y2="941.30" stroke="#444" stroke-width="0.5"/>
<line x1="96.00" y1="953.30" x2="97.40" y2="953.30" stroke="#444" stroke-width="0.5"/>
<line x1="96.00" y1="965.30" x2="97.40" y2="965.30" stroke="#444" stroke-width="0.5"/>
<line x1="96.00" y1="977.30" x2="97.40" y2="977.30" stroke="#444" stroke-width="0.5"/>
<line x1="96.00" y1="989.30" x2="97.40" y2="989.30" stroke="#444" stroke-width="0.5"/>
<line x1="103.60" y1="995.50" x2="103.60" y2="994.10" stroke="#444" stroke-width="0.5"/>
<line x1="115.60" y1="995.50" x2="115.60" y2="994.10" stroke="#444" stroke-width="0.5"/>
<line x1="127.60" y1="995.50" x2="127.60" y2="994.10" stroke="#444" stroke-width="0.5"/>
<line x1="139.60" y1="995.50" x2="139.60" y2="994.10" stroke="#444" stroke-width="0.5"/>
<line x1="151.60" y1="995.50" x2="151.60" y2="994.10" stroke="#444" stroke-width="0.5"/>
<rect x="96.4" y="994.4" width="61.8" height="0.9" fill="#888" opacity="0.5"/>
<path d="M130.7,956.6h0.6 M128.1,976.1h0.6 M126.7,980.6h0.6 M132.2,980.3h0.6 M128.1,972.3h0.6 M130.8,977.4h0.6 M128.2,980.0h0.6 M131.3,970.9h0.6 M132.0,967.6h0.6 M128.3,978.9h0.6 M130.0,974.7h0.6 M127.8,977.5h0.6 M133.1,981.2h0.6 M126.4,981.3h0.6 M127.9,979.8h0.6 M130.3,955.1h0.6 M130.3,982.1h0.6 M129.6,973.4h0.6 M135.4,971.6h0.6 M127.9,970.2h0.6 M126.6,964.8h0.6 M130.2,981.2h0.6 M128.0,980.7h0.6 M125.8,969.0h0.6 M133.4,969.3h0.6 M136.2,976.8h0.6 M123.3,978.1h0.6 M126.0,980.2h0.6 M127.6,980.7h0.6 M124.2,969.3h0.6 M126.6,976.4h0.6 M132.6,955.2h0.6 M123.4,952.6h0.6 M126.5,981.0h0.6 M134.2,980.9h0.6 M128.0,974.5h0.6 M129.7,981.7h0.6 M130.7,978.2h0.6 M130.6,974.3h0.6 M129.1,963.7h0.6 M126.9,974.2h0.6 M133.2,969.4h0.6 M122.0,977.7h0.6 M130.7,980.1h0.6 M131.4,981.1h0.6 M131.3,956.8h0.6 M133.4,969.0h0.6 M133.8,976.6h0.6 M131.6,957.6h0.6 M130.4,977.4h0.6 M130.1,981.8h0.6 M128.4,978.2h0.6 M128.7,973.1h0.6 M131.4,974.5h0.6 M127.6,977.5h0.6 M128.9,979.4h0.6 M127.2,972.8h0.6 M128.9,952.6h0.6 M128.2,981.4h0.6 M133.2,966.3h0.6 M126.2,974.8h0.6 M129.1,981.2h0.6 M130.1,980.3h0.6 M129.5,976.3h0.6 M133.7,961.3h0.6 M127.8,978.5h0.6 M126.2,979.9h0.6 M128.6,981.4h0.6 M129.2,982.2h0.6 M130.8,980.5h0.6 M132.3,969.8h0.6 M126.9,974.6h0.6 M124.0,978.5h0.6 M130.5,979.5h0.6 M129.6,982.1h0.6 M130.9,979.4h0.6 M128.6,976.4h0.6 M128.5,979.2h0.6 M129.9,976.9h0.6 M127.8,969.9h0.6 M128.7,982.1h0.6 M124.0,976.6h0.6 M132.0,979.7h0.6 M135.3,967.6h0.6 M125.1,967.9h0.6 M129.3,964.5h0.6 M132.0,972.2h0.6 M128.0,959.8h0.6 M130.7,966.4h0.6 M126.9,968.6h0.6 M127.0,977.1h0.6 M130.9,957.3h0.6 M130.7,980.9h0.6 M136.8,979.6h0.6 M129.5,979.0h0.6 M125.5,979.1h0.6 M125.5,977.9h0.6 M127.9,976.6h0.6 M125.1,961.2h0.6 M132.1,973.3h0.6 M129.8,977.4h0.6 M132.8,973.4h0.6 M128.3,975.6h0.6 M133.4,975.2h0.6 M132.7,979.6h0.6 M129.2,982.2h0.6 M134.1,962.2h0.6 M130.1,972.4h0.6 M130.0,976.9h0.6 M130.5,981.6h0.6 M133.4,980.8h0.6 M131.6,976.3h0.6 M131.7,977.9h0.6 M127.2,975.9h0.6 M131.4,971.1h0.6 M129.0,979.9h0.6 M129.3,981.8h0.6 M129.3,980.2h0.6 M129.3,970.6h0.6 M127.8,978.9h0.6 M133.4,969.8h0.6 M124.7,985.4h0.6 M130.9,984.0h0.6 M130.5,987.8h0.6 M130.5,986.7h0.6 M124.7,987.0h0.6 M127.7,980.3h0.6 M129.2,983.3h0.6 M133.3,984.4h0.6 M136.8,981.2h0.6 M122.9,986.6h0.6 M126.5,984.3h0.6 M129.7,985.5h0.6 M131.0,984.4h0.6 M128.5,987.4h0.6 M130.3,984.9h0.6 M128.7,985.4h0.6 M136.1,984.3h0.6 M124.9,985.2h0.6 M130.8,984.1h0.6 M126.5,984.8h0.6 M129.3,983.0h0.6 M125.9,983.3h0.6 M130.2,986.1h0.6 M132.3,985.4h0.6 M131.0,986.5h0.6 M129.3,986.8h0.6 M132.6,986.3h0.6 M135.0,985.6h0.6 M132.5,985.1h0.6 M130.7,986.0h0.6 M126.1,982.3h0.6 M124.9,987.4h0.6 M133.5,984.2h0.6 M135.7,986.9h0.6 M129.2,986.1h0.6 M127.3,986.6h0.6 M131.7,983.9h0.6 M127.3,984.5h0.6 M130.1,983.4h0.6 M126.5,984.4h0.6 M128.4,984.6h0.6 M124.7,984.6h0.6 M132.1,983.3h0.6 M131.5,987.9h0.6 M128.4,986.6h0.6 M130.0,982.1h0.6 M126.2,983.4h0.6 M125.2,985.8h0.6 M131.9,985.0h0.6 M131.2,984.8h0.6 M125.7,984.4h0.6 M125.5,985.1h0.6 M129.1,983.3h0.6 M129.2,985.4h0.6 M132.1,985.6h0.6 M128.8,988.5h0.6 M130.5,986.5h0.6 M127.8,983.1h0.6 M133.5,984.0h0.6 M127.6,983.8h0.6 M132.9,984.1h0.6 M130.5,987.2h0.6 M129.8,983.8h0.6 M133.7,985.7h0.6 M131.9,984.8h0.6 M129.9,984.7h0.6 M130.4,985.2h0.6 M125.9,985.8h0.6 M128.4,986.7h0.6 M132.9,984.2h0.6 M128.3,987.0h0.6 M131.0,987.9h0.6 M129.3,987.2h0.6 M132.5,985.3h0.6 M127.4,987.5h0.6 M132.7,987.3h0.6 M130.4,988.4h0.6 M131.2,984.6h0.6 M133.5,984.1h0.6 M126.5,984.9h0.6 M128.3,987.5h0.6 M132.1,986.1h0.6 M130.2,982.6h0.6 M128.8,986.4h0.6 M131.4,988.0h0.6 M130.4,986.1h0.6 M132.6,985.0h0.6 M130.8,986.1h0.6 M129.2,987.5h0.6 M130.5,986.6h0.6" stroke="#4050f0" stroke-width="0.75" opacity="0.7"/>
<g transform="rotate(-12 129.3 985.3)" filter="url(#fblur)"><ellipse cx="129.3" cy="985.3" rx="7.2" ry="3.3" fill="#6a80f0" opacity="0.6"/><ellipse cx="129.3" cy="985.3" rx="5.2" ry="2.4" fill="#2f9ae0"/><ellipse cx="128.7" cy="985.3" rx="4.2" ry="1.9" fill="#22c060"/><ellipse cx="128.5" cy="985.3" rx="2.2" ry="1.1" fill="#d8d020"/><ellipse cx="128.5" cy="985.3" rx="0.9" ry="0.5" fill="#e07020"/></g>
<rect x="119.90" y="952.00" width="26.10" height="26.00" fill="none" stroke="#333" stroke-width="0.7"/>
<text x="132.45" y="948.39" font-size="7.2" font-weight="bold" text-anchor="middle" fill="#000">4.39%</text>
<rect x="161.20" y="933.30" width="63.40" height="62.60" fill="#fff" stroke="#555" stroke-width="0.6"/>
<line x1="161.60" y1="941.30" x2="163.00" y2="941.30" stroke="#444" stroke-width="0.5"/>
<line x1="161.60" y1="953.30" x2="163.00" y2="953.30" stroke="#444" stroke-width="0.5"/>
<line x1="161.60" y1="965.30" x2="163.00" y2="965.30" stroke="#444" stroke-width="0.5"/>
<line x1="161.60" y1="977.30" x2="163.00" y2="977.30" stroke="#444" stroke-width="0.5"/>
<line x1="161.60" y1="989.30" x2="163.00" y2="989.30" stroke="#444" stroke-width="0.5"/>
<line x1="169.20" y1="995.50" x2="169.20" y2="994.10" stroke="#444" stroke-width="0.5"/>
<line x1="181.20" y1="995.50" x2="181.20" y2="994.10" stroke="#444" stroke-width="0.5"/>
<line x1="193.20" y1="995.50" x2="193.20" y2="994.10" stroke="#444" stroke-width="0.5"/>
<line x1="205.20" y1="995.50" x2="205.20" y2="994.10" stroke="#444" stroke-width="0.5"/>
<line x1="217.20" y1="995.50" x2="217.20" y2="994.10" stroke="#444" stroke-width="0.5"/>
<rect x="162.0" y="994.4" width="61.8" height="0.9" fill="#888" opacity="0.5"/>
<path d="M191.3,973.6h0.6 M195.9,971.4h0.6 M199.3,980.7h0.6 M192.7,980.0h0.6 M192.8,952.6h0.6 M196.2,970.5h0.6 M192.9,979.9h0.6 M196.0,973.9h0.6 M196.9,976.8h0.6 M194.7,978.5h0.6 M193.8,981.7h0.6 M194.1,972.1h0.6 M194.0,960.8h0.6 M199.2,974.4h0.6 M199.7,981.7h0.6 M192.8,979.7h0.6 M193.8,982.2h0.6 M192.7,966.7h0.6 M193.7,975.6h0.6 M193.0,980.6h0.6 M194.0,972.4h0.6 M195.0,956.7h0.6 M195.9,974.5h0.6 M197.6,963.5h0.6 M196.8,973.9h0.6 M197.9,980.6h0.6 M199.7,973.5h0.6 M197.4,974.4h0.6 M194.2,976.4h0.6 M195.1,976.2h0.6 M193.8,981.6h0.6 M195.3,975.7h0.6 M194.0,957.4h0.6 M191.5,978.1h0.6 M193.5,975.9h0.6 M197.0,972.3h0.6 M196.2,974.5h0.6 M194.5,969.1h0.6 M195.4,981.6h0.6 M192.5,978.8h0.6 M191.4,980.0h0.6 M192.7,978.7h0.6 M194.8,949.9h0.6 M196.1,978.4h0.6 M188.5,968.6h0.6 M198.1,979.4h0.6 M200.3,974.8h0.6 M193.5,977.0h0.6 M199.1,972.3h0.6 M190.3,978.8h0.6 M198.3,958.3h0.6 M192.5,967.0h0.6 M193.3,977.0h0.6 M189.9,973.9h0.6 M195.4,981.0h0.6 M192.4,966.4h0.6 M192.4,975.4h0.6 M194.7,979.2h0.6 M196.7,979.7h0.6 M193.5,973.3h0.6 M193.0,981.5h0.6 M195.6,977.0h0.6 M192.4,972.9h0.6 M197.3,979.4h0.6 M196.3,975.1h0.6 M195.8,957.5h0.6 M195.0,980.8h0.6 M189.0,980.2h0.6 M194.8,977.3h0.6 M192.6,966.2h0.6 M201.3,980.4h0.6 M198.7,974.3h0.6 M193.4,971.2h0.6 M192.5,979.0h0.6 M195.9,956.0h0.6 M199.5,981.7h0.6 M202.1,981.8h0.6 M200.6,981.0h0.6 M193.0,971.3h0.6 M195.4,976.6h0.6 M195.8,980.0h0.6 M194.1,980.3h0.6 M198.9,978.0h0.6 M185.3,980.0h0.6 M197.0,945.3h0.6 M196.2,955.0h0.6 M197.0,981.6h0.6 M194.4,961.9h0.6 M189.7,963.8h0.6 M201.1,974.7h0.6 M195.9,945.9h0.6 M196.3,981.1h0.6 M198.1,969.3h0.6 M190.7,974.9h0.6 M192.5,968.3h0.6 M194.8,981.6h0.6 M196.2,981.6h0.6 M199.9,970.5h0.6 M195.8,980.5h0.6 M193.6,978.2h0.6 M194.6,969.0h0.6 M196.7,970.6h0.6 M192.2,974.0h0.6 M197.2,974.8h0.6 M192.9,979.0h0.6 M196.8,974.0h0.6 M196.2,976.3h0.6 M198.6,960.6h0.6 M193.9,965.8h0.6 M194.2,972.3h0.6 M197.1,977.5h0.6 M195.9,966.3h0.6 M196.2,948.0h0.6 M195.3,982.1h0.6 M194.0,973.6h0.6 M190.2,976.8h0.6 M199.3,971.6h0.6 M196.2,969.6h0.6 M195.6,973.5h0.6 M197.5,975.0h0.6 M193.7,976.5h0.6 M195.9,965.4h0.6 M191.6,980.8h0.6 M193.9,968.3h0.6 M193.3,977.5h0.6 M195.7,975.9h0.6 M195.8,981.0h0.6 M195.8,978.7h0.6 M189.7,969.8h0.6 M193.8,981.5h0.6 M192.3,949.7h0.6 M195.0,969.2h0.6 M196.4,954.1h0.6 M196.9,978.7h0.6 M191.6,949.9h0.6 M191.0,968.4h0.6 M196.2,977.7h0.6 M198.3,971.9h0.6 M195.2,980.1h0.6 M195.6,980.8h0.6 M198.7,971.6h0.6 M196.4,961.6h0.6 M197.7,964.3h0.6 M199.9,978.7h0.6 M193.7,978.7h0.6 M196.1,959.1h0.6 M191.9,959.1h0.6 M193.9,962.7h0.6 M196.0,967.2h0.6 M191.5,972.3h0.6 M194.9,975.9h0.6 M194.7,962.2h0.6 M198.2,963.8h0.6 M200.8,976.1h0.6 M191.9,978.5h0.6 M195.6,964.5h0.6 M195.3,981.9h0.6 M195.0,978.8h0.6 M194.5,981.4h0.6 M192.4,963.7h0.6 M195.3,982.9h0.6 M198.4,988.7h0.6 M192.0,983.5h0.6 M201.4,985.5h0.6 M198.6,987.0h0.6 M193.3,985.7h0.6 M198.4,983.8h0.6 M201.5,983.6h0.6 M188.0,982.4h0.6 M187.9,986.0h0.6 M198.3,986.1h0.6 M198.4,982.0h0.6 M195.2,983.7h0.6 M192.4,982.3h0.6 M192.6,986.1h0.6 M193.3,983.8h0.6 M195.6,986.4h0.6 M195.9,984.6h0.6 M201.6,986.1h0.6 M195.3,983.9h0.6 M199.1,986.6h0.6 M197.5,983.4h0.6 M198.2,988.2h0.6 M194.1,985.4h0.6 M197.3,983.4h0.6 M196.3,984.4h0.6 M190.9,985.5h0.6 M193.3,984.1h0.6 M199.9,982.0h0.6 M195.2,984.7h0.6 M192.7,987.2h0.6 M195.0,985.6h0.6 M197.6,986.3h0.6 M194.7,985.0h0.6 M198.2,986.9h0.6 M192.0,983.1h0.6 M193.0,986.4h0.6 M193.3,985.5h0.6 M194.9,982.3h0.6 M197.1,985.9h0.6 M198.9,983.8h0.6 M196.6,987.6h0.6 M198.4,989.7h0.6 M193.9,986.9h0.6 M193.1,982.1h0.6 M191.7,985.6h0.6 M195.6,982.5h0.6 M194.5,984.9h0.6 M194.7,983.4h0.6 M193.9,985.2h0.6 M194.7,984.0h0.6 M193.4,982.5h0.6 M194.8,984.8h0.6 M197.3,987.3h0.6 M198.9,985.1h0.6 M192.9,982.9h0.6 M192.8,985.1h0.6 M192.8,983.7h0.6 M196.2,987.2h0.6 M197.9,985.3h0.6 M199.9,984.0h0.6 M193.9,983.8h0.6 M200.0,982.0h0.6 M194.6,987.3h0.6 M193.5,985.4h0.6 M191.1,983.7h0.6 M194.6,983.8h0.6 M191.4,987.2h0.6 M199.0,989.6h0.6 M188.8,982.8h0.6 M189.2,984.9h0.6 M195.2,982.9h0.6 M194.0,984.4h0.6 M198.1,983.5h0.6 M193.2,983.5h0.6 M192.9,982.6h0.6 M194.3,985.3h0.6 M195.8,985.1h0.6 M195.7,985.9h0.6 M198.6,983.8h0.6 M199.6,987.7h0.6 M195.7,986.1h0.6 M195.0,986.6h0.6 M193.3,987.1h0.6 M196.5,988.1h0.6 M192.5,984.2h0.6 M198.8,984.8h0.6 M194.3,985.2h0.6 M197.3,983.2h0.6 M187.9,985.3h0.6" stroke="#4050f0" stroke-width="0.75" opacity="0.7"/>
<g transform="rotate(-12 194.9 985.3)" filter="url(#fblur)"><ellipse cx="194.9" cy="985.3" rx="7.2" ry="3.3" fill="#6a80f0" opacity="0.6"/><ellipse cx="194.9" cy="985.3" rx="5.2" ry="2.4" fill="#2f9ae0"/><ellipse cx="194.3" cy="985.3" rx="4.2" ry="1.9" fill="#22c060"/><ellipse cx="194.1" cy="985.3" rx="2.2" ry="1.1" fill="#d8d020"/><ellipse cx="194.1" cy="985.3" rx="0.9" ry="0.5" fill="#e07020"/></g>
<rect x="185.50" y="952.00" width="26.10" height="26.00" fill="none" stroke="#333" stroke-width="0.7"/>
<text x="198.05" y="948.39" font-size="7.2" font-weight="bold" text-anchor="middle" fill="#000">7.41%</text>
<rect x="226.40" y="933.30" width="63.40" height="62.60" fill="#fff" stroke="#555" stroke-width="0.6"/>
<line x1="226.80" y1="941.30" x2="228.20" y2="941.30" stroke="#444" stroke-width="0.5"/>
<line x1="226.80" y1="953.30" x2="228.20" y2="953.30" stroke="#444" stroke-width="0.5"/>
<line x1="226.80" y1="965.30" x2="228.20" y2="965.30" stroke="#444" stroke-width="0.5"/>
<line x1="226.80" y1="977.30" x2="228.20" y2="977.30" stroke="#444" stroke-width="0.5"/>
<line x1="226.80" y1="989.30" x2="228.20" y2="989.30" stroke="#444" stroke-width="0.5"/>
<line x1="234.40" y1="995.50" x2="234.40" y2="994.10" stroke="#444" stroke-width="0.5"/>
<line x1="246.40" y1="995.50" x2="246.40" y2="994.10" stroke="#444" stroke-width="0.5"/>
<line x1="258.40" y1="995.50" x2="258.40" y2="994.10" stroke="#444" stroke-width="0.5"/>
<line x1="270.40" y1="995.50" x2="270.40" y2="994.10" stroke="#444" stroke-width="0.5"/>
<line x1="282.40" y1="995.50" x2="282.40" y2="994.10" stroke="#444" stroke-width="0.5"/>
<rect x="227.2" y="994.4" width="61.8" height="0.9" fill="#888" opacity="0.5"/>
<path d="M266.2,970.7h0.6 M261.7,982.1h0.6 M258.7,963.0h0.6 M260.0,965.0h0.6 M259.4,976.1h0.6 M264.2,979.3h0.6 M258.1,976.6h0.6 M261.8,954.9h0.6 M260.5,978.3h0.6 M259.9,951.3h0.6 M260.9,972.9h0.6 M256.8,971.9h0.6 M262.1,979.3h0.6 M263.1,980.3h0.6 M260.4,980.5h0.6 M259.9,971.1h0.6 M262.5,965.0h0.6 M259.2,966.2h0.6 M264.2,980.6h0.6 M265.7,976.5h0.6 M261.7,972.4h0.6 M261.3,965.8h0.6 M262.5,973.8h0.6 M262.3,974.1h0.6 M263.4,981.3h0.6 M263.9,957.9h0.6 M258.6,959.2h0.6 M257.1,979.8h0.6 M261.8,962.0h0.6 M264.4,958.2h0.6 M261.7,978.3h0.6 M257.0,968.3h0.6 M256.9,969.6h0.6 M256.3,976.2h0.6 M259.5,979.3h0.6 M259.1,969.2h0.6 M260.5,980.2h0.6 M260.0,977.4h0.6 M258.3,978.0h0.6 M259.5,956.1h0.6 M258.3,957.1h0.6 M262.6,978.7h0.6 M259.0,965.2h0.6 M260.3,966.7h0.6 M260.9,979.8h0.6 M264.5,965.9h0.6 M258.3,950.4h0.6 M260.7,976.3h0.6 M253.9,979.2h0.6 M257.8,976.8h0.6 M262.8,964.8h0.6 M259.2,973.6h0.6 M264.2,962.6h0.6 M259.6,976.2h0.6 M261.1,976.2h0.6 M263.2,973.7h0.6 M258.1,979.5h0.6 M261.3,975.9h0.6 M259.2,981.9h0.6 M256.9,979.6h0.6 M259.2,979.2h0.6 M257.7,974.3h0.6 M263.8,957.3h0.6 M261.5,978.3h0.6 M263.0,973.9h0.6 M264.2,978.6h0.6 M260.6,981.3h0.6 M260.8,968.0h0.6 M255.9,951.2h0.6 M263.4,970.2h0.6 M259.8,960.6h0.6 M261.7,980.6h0.6 M262.5,979.4h0.6 M262.9,979.3h0.6 M261.1,982.0h0.6 M261.5,958.7h0.6 M263.1,973.0h0.6 M262.3,974.7h0.6 M265.6,973.9h0.6 M255.5,977.2h0.6 M258.9,980.5h0.6 M258.6,976.3h0.6 M258.5,976.8h0.6 M260.5,978.1h0.6 M267.0,975.4h0.6 M264.0,974.7h0.6 M262.7,981.8h0.6 M261.9,963.3h0.6 M258.6,971.6h0.6 M258.0,977.1h0.6 M251.4,981.2h0.6 M259.5,972.2h0.6 M259.1,980.6h0.6 M261.6,974.5h0.6 M265.1,977.4h0.6 M263.2,979.0h0.6 M258.0,977.0h0.6 M261.8,979.0h0.6 M258.8,969.7h0.6 M261.9,974.3h0.6 M259.1,978.5h0.6 M262.6,950.7h0.6 M257.4,962.3h0.6 M254.9,970.7h0.6 M258.8,973.9h0.6 M259.0,981.2h0.6 M256.4,975.9h0.6 M261.4,976.0h0.6 M258.6,974.8h0.6 M257.6,974.8h0.6 M257.9,982.3h0.6 M262.9,973.8h0.6 M261.3,981.6h0.6 M264.7,975.2h0.6 M259.7,965.5h0.6 M263.6,970.6h0.6 M262.5,963.2h0.6 M262.0,981.1h0.6 M259.2,978.7h0.6 M260.0,975.7h0.6 M262.1,982.1h0.6 M260.3,975.8h0.6 M261.5,951.5h0.6 M258.5,981.1h0.6 M269.1,970.7h0.6 M256.7,972.6h0.6 M259.5,982.2h0.6 M258.8,972.2h0.6 M260.4,978.2h0.6 M258.0,981.5h0.6 M265.0,977.6h0.6 M262.6,970.8h0.6 M261.1,982.1h0.6 M260.2,959.2h0.6 M261.0,976.0h0.6 M262.5,970.1h0.6 M255.8,948.8h0.6 M258.2,981.6h0.6 M259.5,969.3h0.6 M258.7,970.1h0.6 M263.7,979.6h0.6 M259.2,967.6h0.6 M265.1,973.1h0.6 M260.4,975.2h0.6 M258.6,972.7h0.6 M256.6,979.6h0.6 M257.4,979.7h0.6 M261.0,972.8h0.6 M256.5,976.6h0.6 M256.3,972.0h0.6 M264.5,971.2h0.6 M258.0,975.0h0.6 M261.8,977.0h0.6 M261.2,976.2h0.6 M264.0,981.7h0.6 M261.5,979.0h0.6 M259.6,981.7h0.6 M263.0,981.0h0.6 M261.8,975.2h0.6 M258.5,979.7h0.6 M262.0,981.8h0.6 M262.3,980.6h0.6 M261.2,970.8h0.6 M261.8,964.8h0.6 M259.9,980.3h0.6 M262.2,976.0h0.6 M260.0,980.1h0.6 M265.9,977.4h0.6 M261.6,972.3h0.6 M261.0,981.6h0.6 M260.3,980.0h0.6 M261.0,959.8h0.6 M262.3,965.5h0.6 M259.9,954.7h0.6 M257.6,963.8h0.6 M260.6,980.7h0.6 M262.2,976.4h0.6 M263.8,976.3h0.6 M265.3,982.2h0.6 M259.4,969.9h0.6 M260.8,978.6h0.6 M261.9,975.5h0.6 M258.8,962.8h0.6 M263.2,978.3h0.6 M263.4,964.0h0.6 M259.3,976.4h0.6 M258.8,978.1h0.6 M261.8,960.4h0.6 M258.5,970.7h0.6 M265.2,981.9h0.6 M258.9,982.0h0.6 M259.1,967.3h0.6 M260.1,978.8h0.6 M261.1,978.9h0.6 M260.6,976.0h0.6 M262.3,969.1h0.6 M259.7,947.7h0.6 M262.8,975.2h0.6 M261.4,972.7h0.6 M262.7,977.7h0.6 M256.6,973.1h0.6 M261.0,977.8h0.6 M260.6,980.8h0.6 M261.2,979.6h0.6 M261.3,976.1h0.6 M256.4,982.0h0.6 M261.6,984.8h0.6 M261.5,983.0h0.6 M256.5,984.1h0.6 M259.0,985.3h0.6 M257.2,983.6h0.6 M260.8,985.7h0.6 M261.9,982.6h0.6 M255.9,984.5h0.6 M255.3,987.0h0.6 M261.4,982.7h0.6 M263.2,985.7h0.6 M258.8,984.6h0.6 M259.0,985.2h0.6 M255.6,982.8h0.6 M259.2,984.1h0.6 M264.0,983.4h0.6 M261.7,986.4h0.6 M261.4,984.4h0.6 M259.3,985.0h0.6 M262.3,983.2h0.6 M265.5,985.7h0.6 M256.8,985.2h0.6 M256.6,987.8h0.6 M264.9,982.4h0.6 M259.1,983.8h0.6 M263.0,987.0h0.6 M264.2,984.2h0.6 M253.1,986.2h0.6 M263.4,984.3h0.6 M266.4,985.6h0.6 M258.1,986.3h0.6 M269.2,983.9h0.6 M262.3,985.1h0.6 M256.7,984.6h0.6 M260.1,985.4h0.6 M264.7,983.7h0.6 M257.6,984.3h0.6 M263.9,985.5h0.6 M261.7,983.3h0.6 M263.1,984.1h0.6 M260.5,984.5h0.6 M260.0,986.0h0.6 M262.0,983.1h0.6 M260.6,985.6h0.6 M253.3,984.5h0.6 M258.3,986.3h0.6 M262.1,986.0h0.6 M260.5,984.4h0.6 M262.9,985.0h0.6 M264.2,983.6h0.6 M259.1,984.3h0.6 M258.5,985.4h0.6 M263.1,984.4h0.6 M260.7,982.9h0.6 M260.0,986.0h0.6 M262.4,986.7h0.6 M257.4,986.3h0.6 M257.6,982.3h0.6 M266.2,985.7h0.6 M262.9,985.4h0.6 M263.7,984.4h0.6 M257.9,984.4h0.6 M257.5,985.9h0.6 M262.1,987.4h0.6 M264.4,985.6h0.6 M264.1,985.3h0.6 M259.3,985.5h0.6 M262.8,986.3h0.6 M253.3,983.0h0.6 M261.7,984.1h0.6 M264.7,984.0h0.6 M264.4,986.0h0.6 M266.5,987.0h0.6 M259.6,985.1h0.6 M261.3,984.6h0.6 M268.2,986.3h0.6 M258.8,986.0h0.6 M267.3,984.8h0.6 M261.2,982.9h0.6 M261.1,984.0h0.6 M263.5,986.0h0.6 M260.1,985.7h0.6 M263.8,981.1h0.6 M262.8,986.8h0.6 M254.2,986.4h0.6 M258.0,987.2h0.6 M261.6,986.7h0.6 M265.2,986.3h0.6 M262.5,985.5h0.6 M256.0,985.6h0.6" stroke="#4050f0" stroke-width="0.75" opacity="0.7"/>
<g transform="rotate(-12 260.1 985.3)" filter="url(#fblur)"><ellipse cx="260.1" cy="985.3" rx="7.2" ry="3.3" fill="#6a80f0" opacity="0.6"/><ellipse cx="260.1" cy="985.3" rx="5.2" ry="2.4" fill="#2f9ae0"/><ellipse cx="259.5" cy="985.3" rx="4.2" ry="1.9" fill="#22c060"/><ellipse cx="259.3" cy="985.3" rx="2.2" ry="1.1" fill="#d8d020"/><ellipse cx="259.3" cy="985.3" rx="0.9" ry="0.5" fill="#e07020"/></g>
<rect x="250.70" y="952.00" width="26.10" height="26.00" fill="none" stroke="#333" stroke-width="0.7"/>
<text x="263.25" y="948.39" font-size="7.2" font-weight="bold" text-anchor="middle" fill="#000">10.6%</text>
<text x="292.50" y="969.36" font-size="7.1" font-weight="bold" text-anchor="start" fill="#000">Ratio=1:2</text>
<rect x="30.30" y="998.90" width="63.40" height="62.60" fill="#fff" stroke="#555" stroke-width="0.6"/>
<line x1="30.70" y1="1006.90" x2="32.10" y2="1006.90" stroke="#444" stroke-width="0.5"/>
<line x1="30.70" y1="1018.90" x2="32.10" y2="1018.90" stroke="#444" stroke-width="0.5"/>
<line x1="30.70" y1="1030.90" x2="32.10" y2="1030.90" stroke="#444" stroke-width="0.5"/>
<line x1="30.70" y1="1042.90" x2="32.10" y2="1042.90" stroke="#444" stroke-width="0.5"/>
<line x1="30.70" y1="1054.90" x2="32.10" y2="1054.90" stroke="#444" stroke-width="0.5"/>
<line x1="38.30" y1="1061.10" x2="38.30" y2="1059.70" stroke="#444" stroke-width="0.5"/>
<line x1="50.30" y1="1061.10" x2="50.30" y2="1059.70" stroke="#444" stroke-width="0.5"/>
<line x1="62.30" y1="1061.10" x2="62.30" y2="1059.70" stroke="#444" stroke-width="0.5"/>
<line x1="74.30" y1="1061.10" x2="74.30" y2="1059.70" stroke="#444" stroke-width="0.5"/>
<line x1="86.30" y1="1061.10" x2="86.30" y2="1059.70" stroke="#444" stroke-width="0.5"/>
<rect x="31.1" y="1060.0" width="61.8" height="0.9" fill="#888" opacity="0.5"/>
<path d="M62.7,1020.4h0.6 M64.4,1038.8h0.6 M58.9,1047.0h0.6 M61.0,1033.7h0.6 M64.9,1044.4h0.6 M66.6,1035.8h0.6 M68.6,1044.4h0.6 M63.0,1046.6h0.6 M64.1,1041.6h0.6 M66.4,1041.5h0.6 M66.0,1028.9h0.6 M65.8,1037.0h0.6 M69.2,1042.5h0.6 M67.7,1043.5h0.6 M66.0,1042.7h0.6 M60.5,1043.5h0.6 M59.4,1036.8h0.6 M63.1,1047.0h0.6 M67.1,1044.8h0.6 M65.0,1034.3h0.6 M63.3,1042.9h0.6 M63.6,1040.1h0.6 M62.4,1037.3h0.6 M64.8,1044.9h0.6 M67.3,1041.6h0.6 M64.4,1033.2h0.6 M60.9,1040.6h0.6 M69.4,1040.8h0.6 M64.7,1041.1h0.6 M67.0,1032.5h0.6 M67.6,1024.7h0.6 M69.0,1047.1h0.6 M63.3,1046.9h0.6 M62.9,1014.1h0.6 M64.6,1036.9h0.6 M67.4,1039.4h0.6 M70.7,1042.2h0.6 M60.1,1046.8h0.6 M65.4,1043.8h0.6 M63.2,1045.6h0.6 M65.4,1032.8h0.6 M62.9,1040.6h0.6 M61.0,1044.0h0.6 M61.6,1046.1h0.6 M64.3,1043.0h0.6 M60.6,1046.0h0.6 M66.1,1037.7h0.6 M67.1,1044.6h0.6 M67.6,1045.5h0.6 M64.8,1035.5h0.6 M63.6,1047.1h0.6 M61.4,1037.6h0.6 M59.9,1033.7h0.6 M65.6,1046.5h0.6 M63.6,1046.9h0.6 M68.0,1046.2h0.6 M64.4,1045.3h0.6 M63.6,1046.6h0.6 M68.2,1035.1h0.6 M62.0,1032.5h0.6 M65.4,1043.9h0.6 M69.6,1043.4h0.6 M66.5,1043.5h0.6 M65.6,1032.7h0.6 M62.3,1039.5h0.6 M64.6,1044.6h0.6 M65.5,1045.7h0.6 M62.2,1043.4h0.6 M61.0,1045.0h0.6 M62.5,1040.8h0.6 M63.4,1044.5h0.6 M62.9,1042.8h0.6 M65.0,1045.1h0.6 M63.1,1027.0h0.6 M64.3,1040.8h0.6 M64.5,1014.6h0.6 M59.6,1032.3h0.6 M64.1,1046.5h0.6 M65.1,1047.1h0.6 M64.0,1037.4h0.6 M60.7,1042.9h0.6 M67.4,1040.5h0.6 M60.2,1030.1h0.6 M63.3,1014.0h0.6 M58.0,1047.5h0.6 M69.5,1036.3h0.6 M63.8,1044.9h0.6 M64.0,1036.5h0.6 M67.4,1037.7h0.6 M65.2,1045.6h0.6 M63.7,1046.6h0.6 M64.3,1047.1h0.6 M61.7,1034.1h0.6 M64.5,1036.7h0.6 M64.5,1041.9h0.6 M60.7,1033.5h0.6 M63.7,1046.2h0.6 M67.2,1041.4h0.6 M68.9,1046.5h0.6 M66.0,1034.2h0.6 M62.7,1041.7h0.6 M68.9,1037.2h0.6 M68.4,1034.5h0.6 M62.0,1045.6h0.6 M64.9,1046.1h0.6 M60.4,1042.0h0.6 M61.6,1037.7h0.6 M65.0,1046.9h0.6 M69.0,1047.3h0.6 M59.7,1047.4h0.6 M61.8,1042.8h0.6 M64.9,1042.6h0.6 M64.1,1043.7h0.6 M67.5,1044.1h0.6 M65.4,1018.6h0.6 M61.0,1029.5h0.6 M66.0,1036.8h0.6 M62.7,1041.9h0.6 M66.0,1047.5h0.6 M65.9,1043.1h0.6 M63.7,1038.6h0.6 M63.7,1050.8h0.6 M66.0,1053.0h0.6 M66.2,1050.9h0.6 M68.0,1049.0h0.6 M67.6,1050.0h0.6 M59.1,1050.6h0.6 M61.3,1049.5h0.6 M64.8,1051.9h0.6 M65.7,1049.5h0.6 M63.7,1053.8h0.6 M61.6,1049.5h0.6 M68.8,1050.0h0.6 M62.6,1050.6h0.6 M64.2,1050.1h0.6 M68.1,1049.0h0.6 M61.3,1053.9h0.6 M60.5,1051.8h0.6 M60.9,1049.4h0.6 M65.4,1050.3h0.6 M65.8,1050.2h0.6 M68.1,1050.3h0.6 M66.2,1050.3h0.6 M62.0,1050.2h0.6 M63.8,1049.6h0.6 M62.6,1051.6h0.6 M64.3,1050.4h0.6 M69.4,1048.7h0.6 M65.7,1052.9h0.6 M64.0,1051.6h0.6 M65.7,1050.8h0.6 M63.5,1051.0h0.6 M62.4,1052.8h0.6 M69.8,1049.8h0.6 M63.9,1051.9h0.6 M60.0,1054.1h0.6 M61.4,1047.8h0.6 M66.1,1053.0h0.6 M65.1,1050.3h0.6 M67.4,1052.8h0.6 M63.2,1049.0h0.6 M65.9,1051.5h0.6 M64.5,1050.6h0.6 M65.9,1048.3h0.6 M62.2,1052.8h0.6 M65.4,1046.7h0.6 M63.3,1050.6h0.6 M70.2,1048.2h0.6 M67.3,1052.3h0.6 M63.4,1049.9h0.6 M65.0,1051.2h0.6 M58.0,1049.8h0.6 M68.6,1048.7h0.6 M63.9,1051.7h0.6 M63.2,1048.3h0.6 M63.1,1048.1h0.6 M68.4,1055.7h0.6 M62.2,1050.7h0.6 M71.6,1051.1h0.6 M63.2,1051.2h0.6 M64.8,1050.0h0.6 M60.3,1053.3h0.6 M64.7,1054.0h0.6 M68.0,1051.2h0.6 M68.5,1048.3h0.6 M64.1,1050.7h0.6 M63.9,1050.8h0.6 M61.9,1049.3h0.6 M65.3,1051.5h0.6 M64.6,1050.5h0.6 M65.9,1050.2h0.6 M69.4,1052.2h0.6 M66.7,1050.5h0.6 M65.2,1051.0h0.6 M62.0,1052.2h0.6 M63.7,1050.6h0.6 M60.5,1051.6h0.6 M60.0,1053.8h0.6 M65.6,1052.0h0.6 M57.4,1052.9h0.6 M61.9,1051.6h0.6 M64.3,1049.2h0.6 M63.7,1051.6h0.6 M64.6,1049.6h0.6 M63.5,1051.2h0.6 M64.9,1049.3h0.6 M64.0,1050.2h0.6 M57.4,1047.9h0.6 M62.7,1052.9h0.6 M70.8,1049.3h0.6 M68.9,1051.3h0.6" stroke="#4050f0" stroke-width="0.75" opacity="0.7"/>
<g transform="rotate(-12 64.0 1050.9)" filter="url(#fblur)"><ellipse cx="64.0" cy="1050.9" rx="7.2" ry="3.3" fill="#6a80f0" opacity="0.6"/><ellipse cx="64.0" cy="1050.9" rx="5.2" ry="2.4" fill="#2f9ae0"/><ellipse cx="63.4" cy="1050.9" rx="4.2" ry="1.9" fill="#22c060"/><ellipse cx="63.2" cy="1050.9" rx="2.2" ry="1.1" fill="#d8d020"/><ellipse cx="63.2" cy="1050.9" rx="0.9" ry="0.5" fill="#e07020"/></g>
<rect x="54.60" y="1017.60" width="26.10" height="26.00" fill="none" stroke="#333" stroke-width="0.7"/>
<text x="67.15" y="1013.99" font-size="7.2" font-weight="bold" text-anchor="middle" fill="#000">4.52%</text>
<rect x="95.60" y="998.90" width="63.40" height="62.60" fill="#fff" stroke="#555" stroke-width="0.6"/>
<line x1="96.00" y1="1006.90" x2="97.40" y2="1006.90" stroke="#444" stroke-width="0.5"/>
<line x1="96.00" y1="1018.90" x2="97.40" y2="1018.90" stroke="#444" stroke-width="0.5"/>
<line x1="96.00" y1="1030.90" x2="97.40" y2="1030.90" stroke="#444" stroke-width="0.5"/>
<line x1="96.00" y1="1042.90" x2="97.40" y2="1042.90" stroke="#444" stroke-width="0.5"/>
<line x1="96.00" y1="1054.90" x2="97.40" y2="1054.90" stroke="#444" stroke-width="0.5"/>
<line x1="103.60" y1="1061.10" x2="103.60" y2="1059.70" stroke="#444" stroke-width="0.5"/>
<line x1="115.60" y1="1061.10" x2="115.60" y2="1059.70" stroke="#444" stroke-width="0.5"/>
<line x1="127.60" y1="1061.10" x2="127.60" y2="1059.70" stroke="#444" stroke-width="0.5"/>
<line x1="139.60" y1="1061.10" x2="139.60" y2="1059.70" stroke="#444" stroke-width="0.5"/>
<line x1="151.60" y1="1061.10" x2="151.60" y2="1059.70" stroke="#444" stroke-width="0.5"/>
<rect x="96.4" y="1060.0" width="61.8" height="0.9" fill="#888" opacity="0.5"/>
<path d="M133.0,1043.3h0.6 M131.8,1025.7h0.6 M127.3,1022.8h0.6 M127.6,1044.8h0.6 M131.5,1037.7h0.6 M127.4,1016.7h0.6 M131.2,1033.1h0.6 M126.3,1047.6h0.6 M124.8,1035.3h0.6 M132.2,1042.5h0.6 M130.2,1042.8h0.6 M132.4,1046.8h0.6 M133.6,1041.1h0.6 M128.3,1046.0h0.6 M128.6,1046.4h0.6 M132.4,1044.2h0.6 M126.8,1026.5h0.6 M133.2,1047.8h0.6 M133.4,1047.8h0.6 M134.0,1045.2h0.6 M126.7,1045.7h0.6 M128.5,1035.3h0.6 M129.8,1036.7h0.6 M129.6,1043.6h0.6 M126.2,1038.4h0.6 M130.0,1033.3h0.6 M130.6,1045.8h0.6 M131.5,1046.0h0.6 M131.2,1043.8h0.6 M124.5,1037.4h0.6 M131.3,1034.6h0.6 M124.5,1040.0h0.6 M130.6,1039.7h0.6 M127.5,1045.0h0.6 M127.6,1041.7h0.6 M131.4,1047.8h0.6 M126.8,1026.3h0.6 M131.1,1036.7h0.6 M131.5,1035.2h0.6 M132.1,1047.1h0.6 M130.4,1037.8h0.6 M129.2,1040.4h0.6 M132.4,1044.5h0.6 M129.1,1046.1h0.6 M129.4,1040.1h0.6 M132.2,1044.9h0.6 M132.2,1047.2h0.6 M134.9,1019.8h0.6 M129.6,1035.9h0.6 M134.6,1020.0h0.6 M129.9,1035.0h0.6 M129.5,1016.5h0.6 M130.6,1047.4h0.6 M126.5,1047.7h0.6 M129.9,1046.3h0.6 M134.3,1040.5h0.6 M129.9,1036.1h0.6 M126.2,1033.3h0.6 M129.8,1038.1h0.6 M129.5,1040.2h0.6 M130.8,1046.5h0.6 M127.9,1047.4h0.6 M128.2,1034.6h0.6 M130.3,1040.0h0.6 M128.0,1047.0h0.6 M131.6,1046.6h0.6 M131.2,1040.9h0.6 M128.8,1040.2h0.6 M129.9,1043.3h0.6 M128.2,1046.6h0.6 M131.9,1041.1h0.6 M131.6,1044.4h0.6 M127.1,1047.6h0.6 M132.1,1030.6h0.6 M132.7,1036.6h0.6 M130.2,1047.8h0.6 M130.2,1046.5h0.6 M130.3,1040.0h0.6 M129.6,1041.0h0.6 M122.6,1028.8h0.6 M126.9,1019.4h0.6 M131.6,1047.6h0.6 M131.8,1042.6h0.6 M128.6,1023.0h0.6 M124.0,1037.8h0.6 M132.3,1046.4h0.6 M130.5,1037.3h0.6 M129.7,1044.4h0.6 M131.9,1046.0h0.6 M129.4,1045.2h0.6 M129.2,1039.4h0.6 M127.1,1026.0h0.6 M128.7,1045.0h0.6 M124.7,1047.1h0.6 M128.1,1035.0h0.6 M129.7,1040.7h0.6 M128.2,1043.3h0.6 M128.7,1032.0h0.6 M128.2,1040.7h0.6 M127.9,1041.3h0.6 M132.2,1046.9h0.6 M126.6,1047.0h0.6 M130.8,1043.6h0.6 M135.0,1047.8h0.6 M128.0,1045.5h0.6 M127.4,1047.2h0.6 M128.9,1024.0h0.6 M126.5,1045.8h0.6 M126.4,1036.2h0.6 M133.8,1045.5h0.6 M129.9,1043.0h0.6 M134.3,1047.9h0.6 M123.6,1041.7h0.6 M131.3,1043.3h0.6 M129.0,1029.4h0.6 M130.6,1046.5h0.6 M127.1,1045.0h0.6 M131.3,1047.4h0.6 M135.4,1022.7h0.6 M131.6,1040.8h0.6 M135.4,1037.5h0.6 M129.2,1045.9h0.6 M130.0,1036.0h0.6 M130.6,1047.7h0.6 M133.5,1030.5h0.6 M127.9,1042.3h0.6 M131.7,1044.5h0.6 M127.2,1051.2h0.6 M129.3,1051.3h0.6 M126.1,1053.2h0.6 M125.7,1052.2h0.6 M131.3,1048.7h0.6 M130.3,1053.6h0.6 M133.1,1051.2h0.6 M130.1,1052.5h0.6 M127.7,1052.0h0.6 M128.2,1054.6h0.6 M129.0,1051.9h0.6 M131.8,1052.7h0.6 M131.5,1053.1h0.6 M132.6,1050.8h0.6 M136.3,1049.8h0.6 M131.0,1051.5h0.6 M135.8,1048.4h0.6 M131.8,1048.5h0.6 M132.5,1052.3h0.6 M133.8,1054.4h0.6 M136.4,1052.7h0.6 M132.4,1051.3h0.6 M130.1,1053.1h0.6 M123.2,1052.3h0.6 M130.4,1050.5h0.6 M130.6,1049.6h0.6 M131.5,1048.8h0.6 M132.5,1050.5h0.6 M130.2,1050.2h0.6 M128.2,1048.5h0.6 M130.7,1054.6h0.6 M131.2,1052.6h0.6 M128.9,1052.1h0.6 M132.2,1051.3h0.6 M125.3,1053.1h0.6 M126.8,1051.4h0.6 M125.2,1050.4h0.6 M131.9,1051.7h0.6 M126.2,1049.3h0.6 M135.1,1054.0h0.6 M131.5,1052.0h0.6 M133.0,1048.7h0.6 M128.5,1053.1h0.6 M130.2,1051.7h0.6 M130.6,1049.9h0.6 M136.4,1051.8h0.6 M134.3,1052.8h0.6 M125.3,1049.3h0.6 M128.0,1049.8h0.6 M131.6,1047.6h0.6 M128.1,1050.8h0.6 M128.7,1050.9h0.6 M129.3,1051.4h0.6 M128.6,1053.2h0.6 M130.9,1051.9h0.6 M133.0,1050.3h0.6 M130.6,1052.6h0.6 M134.2,1054.6h0.6 M126.6,1054.4h0.6 M128.4,1052.4h0.6 M130.8,1054.1h0.6 M129.4,1052.2h0.6 M128.8,1051.6h0.6 M131.1,1050.7h0.6 M131.2,1049.7h0.6 M130.1,1049.7h0.6 M131.7,1054.8h0.6 M128.8,1050.7h0.6 M125.4,1051.7h0.6 M135.3,1050.0h0.6 M129.1,1052.2h0.6 M126.8,1050.1h0.6 M131.0,1050.7h0.6 M128.4,1052.9h0.6 M134.5,1052.0h0.6 M134.2,1049.2h0.6 M131.1,1048.8h0.6 M127.8,1052.9h0.6 M134.5,1053.4h0.6 M131.8,1049.7h0.6 M128.2,1053.2h0.6 M128.3,1049.0h0.6 M135.2,1051.1h0.6 M128.7,1052.2h0.6 M132.3,1049.0h0.6 M126.2,1054.2h0.6 M129.5,1049.6h0.6 M133.3,1048.6h0.6 M129.7,1051.5h0.6 M132.3,1047.6h0.6" stroke="#4050f0" stroke-width="0.75" opacity="0.7"/>
<g transform="rotate(-12 129.3 1050.9)" filter="url(#fblur)"><ellipse cx="129.3" cy="1050.9" rx="7.2" ry="3.3" fill="#6a80f0" opacity="0.6"/><ellipse cx="129.3" cy="1050.9" rx="5.2" ry="2.4" fill="#2f9ae0"/><ellipse cx="128.7" cy="1050.9" rx="4.2" ry="1.9" fill="#22c060"/><ellipse cx="128.5" cy="1050.9" rx="2.2" ry="1.1" fill="#d8d020"/><ellipse cx="128.5" cy="1050.9" rx="0.9" ry="0.5" fill="#e07020"/></g>
<rect x="119.90" y="1017.60" width="26.10" height="26.00" fill="none" stroke="#333" stroke-width="0.7"/>
<text x="132.45" y="1013.99" font-size="7.2" font-weight="bold" text-anchor="middle" fill="#000">4.83%</text>
<rect x="161.20" y="998.90" width="63.40" height="62.60" fill="#fff" stroke="#555" stroke-width="0.6"/>
<line x1="161.60" y1="1006.90" x2="163.00" y2="1006.90" stroke="#444" stroke-width="0.5"/>
<line x1="161.60" y1="1018.90" x2="163.00" y2="1018.90" stroke="#444" stroke-width="0.5"/>
<line x1="161.60" y1="1030.90" x2="163.00" y2="1030.90" stroke="#444" stroke-width="0.5"/>
<line x1="161.60" y1="1042.90" x2="163.00" y2="1042.90" stroke="#444" stroke-width="0.5"/>
<line x1="161.60" y1="1054.90" x2="163.00" y2="1054.90" stroke="#444" stroke-width="0.5"/>
<line x1="169.20" y1="1061.10" x2="169.20" y2="1059.70" stroke="#444" stroke-width="0.5"/>
<line x1="181.20" y1="1061.10" x2="181.20" y2="1059.70" stroke="#444" stroke-width="0.5"/>
<line x1="193.20" y1="1061.10" x2="193.20" y2="1059.70" stroke="#444" stroke-width="0.5"/>
<line x1="205.20" y1="1061.10" x2="205.20" y2="1059.70" stroke="#444" stroke-width="0.5"/>
<line x1="217.20" y1="1061.10" x2="217.20" y2="1059.70" stroke="#444" stroke-width="0.5"/>
<rect x="162.0" y="1060.0" width="61.8" height="0.9" fill="#888" opacity="0.5"/>
<path d="M191.7,1044.6h0.6 M195.2,1023.9h0.6 M194.8,1042.3h0.6 M190.7,1031.6h0.6 M195.1,1046.8h0.6 M191.7,1042.5h0.6 M199.0,1043.6h0.6 M194.8,1039.0h0.6 M197.0,1034.3h0.6 M197.4,1042.1h0.6 M189.7,1041.2h0.6 M200.3,1042.5h0.6 M198.7,1041.7h0.6 M197.3,1044.9h0.6 M199.0,1040.9h0.6 M193.8,1030.1h0.6 M189.3,1037.4h0.6 M200.1,1043.5h0.6 M188.4,1039.4h0.6 M197.5,1047.7h0.6 M197.2,1044.7h0.6 M193.1,1041.9h0.6 M196.6,1039.2h0.6 M199.4,1042.3h0.6 M192.9,1037.2h0.6 M195.7,1031.7h0.6 M199.2,1033.1h0.6 M196.6,1038.7h0.6 M188.6,1030.9h0.6 M195.3,1036.5h0.6 M193.3,1039.2h0.6 M193.4,1022.1h0.6 M195.0,1033.0h0.6 M195.9,1046.2h0.6 M193.4,1046.0h0.6 M193.6,1035.5h0.6 M197.2,1043.3h0.6 M196.4,1043.3h0.6 M195.4,1029.1h0.6 M191.3,1030.9h0.6 M195.4,1038.8h0.6 M195.9,1012.7h0.6 M196.2,1043.1h0.6 M194.1,1041.5h0.6 M195.3,1043.9h0.6 M197.6,1037.6h0.6 M199.1,1039.4h0.6 M199.1,1030.8h0.6 M189.1,1047.2h0.6 M191.3,1028.0h0.6 M194.8,1040.9h0.6 M193.2,1045.6h0.6 M196.1,1031.6h0.6 M200.0,1014.7h0.6 M195.9,1047.4h0.6 M196.4,1032.7h0.6 M197.5,1032.7h0.6 M198.8,1041.2h0.6 M193.6,1041.8h0.6 M191.2,1044.7h0.6 M193.8,1026.7h0.6 M198.5,1042.2h0.6 M202.6,1047.5h0.6 M198.8,1026.3h0.6 M197.9,1047.0h0.6 M197.9,1033.9h0.6 M195.8,1045.9h0.6 M193.6,1047.8h0.6 M196.7,1046.8h0.6 M193.1,1036.9h0.6 M198.6,1038.1h0.6 M198.5,1038.7h0.6 M193.3,1036.7h0.6 M191.9,1046.6h0.6 M203.5,1027.0h0.6 M193.5,1043.9h0.6 M195.8,1040.4h0.6 M196.0,1045.1h0.6 M196.4,1018.4h0.6 M195.6,1036.9h0.6 M192.8,1045.6h0.6 M197.6,1044.0h0.6 M197.6,1015.0h0.6 M199.4,1046.9h0.6 M198.1,1021.9h0.6 M195.4,1038.3h0.6 M188.4,1046.7h0.6 M201.7,1037.1h0.6 M193.1,1036.1h0.6 M194.3,1044.9h0.6 M192.7,1045.3h0.6 M193.3,1038.9h0.6 M194.4,1044.8h0.6 M200.3,1039.1h0.6 M197.8,1040.7h0.6 M193.9,1040.7h0.6 M188.9,1044.4h0.6 M196.7,1041.9h0.6 M195.3,1039.2h0.6 M196.0,1013.1h0.6 M197.7,1025.9h0.6 M197.4,1022.5h0.6 M199.8,1039.4h0.6 M196.5,1044.6h0.6 M194.1,1046.9h0.6 M191.2,1044.4h0.6 M195.6,1044.6h0.6 M193.4,1031.2h0.6 M190.3,1041.6h0.6 M198.4,1046.7h0.6 M196.6,1033.2h0.6 M199.9,1047.1h0.6 M199.0,1043.6h0.6 M192.5,1043.9h0.6 M193.3,1047.7h0.6 M192.4,1042.8h0.6 M198.2,1021.7h0.6 M193.3,1047.6h0.6 M193.3,1046.7h0.6 M194.5,1025.2h0.6 M201.2,1042.3h0.6 M195.4,1040.8h0.6 M197.4,1039.7h0.6 M194.6,1042.9h0.6 M200.0,1045.7h0.6 M198.3,1036.0h0.6 M198.6,1021.7h0.6 M194.0,1029.8h0.6 M197.2,1044.8h0.6 M192.3,1046.6h0.6 M198.4,1044.1h0.6 M201.3,1039.6h0.6 M199.2,1031.0h0.6 M194.9,1040.4h0.6 M199.7,1041.3h0.6 M194.3,1038.9h0.6 M193.8,1039.5h0.6 M197.6,1044.6h0.6 M196.4,1044.7h0.6 M195.9,1042.1h0.6 M195.2,1038.8h0.6 M198.5,1046.9h0.6 M195.2,1039.1h0.6 M194.7,1047.3h0.6 M195.5,1043.1h0.6 M184.8,1046.9h0.6 M195.7,1046.7h0.6 M196.1,1036.4h0.6 M199.6,1045.7h0.6 M196.7,1047.5h0.6 M201.7,1039.4h0.6 M195.5,1025.4h0.6 M193.0,1033.8h0.6 M195.0,1044.8h0.6 M194.4,1042.3h0.6 M194.4,1047.6h0.6 M189.7,1040.5h0.6 M198.0,1027.6h0.6 M192.4,1019.1h0.6 M205.2,1044.4h0.6 M196.1,1050.2h0.6 M195.5,1050.2h0.6 M195.9,1051.4h0.6 M195.9,1048.4h0.6 M199.2,1049.2h0.6 M194.1,1050.7h0.6 M198.6,1051.4h0.6 M197.5,1051.0h0.6 M193.5,1052.6h0.6 M196.3,1050.9h0.6 M196.8,1051.3h0.6 M196.6,1050.2h0.6 M199.9,1050.7h0.6 M195.3,1053.1h0.6 M187.3,1050.9h0.6 M196.7,1046.9h0.6 M197.0,1051.0h0.6 M194.6,1046.4h0.6 M193.5,1048.6h0.6 M195.3,1049.9h0.6 M196.6,1052.1h0.6 M200.6,1048.3h0.6 M199.3,1051.6h0.6 M191.9,1051.6h0.6 M192.5,1053.0h0.6 M198.7,1051.1h0.6 M200.9,1050.9h0.6 M192.4,1053.1h0.6 M195.1,1051.8h0.6 M196.4,1050.1h0.6 M188.8,1049.2h0.6 M195.1,1050.1h0.6 M197.9,1052.5h0.6 M195.6,1049.4h0.6 M190.3,1053.5h0.6 M192.5,1048.8h0.6 M199.9,1049.5h0.6 M194.9,1050.2h0.6 M192.2,1051.3h0.6 M195.6,1049.2h0.6 M188.5,1050.9h0.6 M199.4,1052.5h0.6 M195.4,1051.0h0.6 M198.2,1049.6h0.6 M191.4,1048.9h0.6 M193.8,1051.9h0.6 M195.6,1052.2h0.6 M197.6,1050.2h0.6 M204.4,1052.7h0.6 M196.9,1051.4h0.6 M199.0,1052.3h0.6 M191.9,1053.0h0.6 M196.9,1047.4h0.6 M192.7,1049.1h0.6 M194.7,1050.6h0.6 M194.3,1050.3h0.6 M193.5,1052.2h0.6 M199.7,1050.9h0.6 M192.1,1051.2h0.6 M195.4,1050.5h0.6 M193.8,1050.4h0.6 M193.5,1050.5h0.6 M199.0,1048.7h0.6 M197.5,1050.4h0.6 M197.7,1047.9h0.6 M199.0,1047.1h0.6 M192.5,1051.8h0.6 M192.7,1050.2h0.6 M194.0,1050.2h0.6 M194.7,1050.7h0.6 M191.3,1051.7h0.6 M189.2,1052.9h0.6 M192.9,1051.7h0.6 M196.1,1051.6h0.6 M197.2,1049.4h0.6 M198.4,1050.8h0.6 M201.7,1050.5h0.6 M194.0,1048.6h0.6 M193.7,1053.7h0.6 M196.1,1050.3h0.6 M193.9,1052.9h0.6 M194.7,1050.7h0.6 M191.7,1052.6h0.6 M195.1,1046.4h0.6 M192.2,1049.2h0.6 M197.2,1051.2h0.6 M196.6,1052.0h0.6 M198.8,1050.9h0.6 M195.0,1051.5h0.6 M200.4,1050.0h0.6" stroke="#4050f0" stroke-width="0.75" opacity="0.7"/>
<g transform="rotate(-12 194.9 1050.9)" filter="url(#fblur)"><ellipse cx="194.9" cy="1050.9" rx="7.2" ry="3.3" fill="#6a80f0" opacity="0.6"/><ellipse cx="194.9" cy="1050.9" rx="5.2" ry="2.4" fill="#2f9ae0"/><ellipse cx="194.3" cy="1050.9" rx="4.2" ry="1.9" fill="#22c060"/><ellipse cx="194.1" cy="1050.9" rx="2.2" ry="1.1" fill="#d8d020"/><ellipse cx="194.1" cy="1050.9" rx="0.9" ry="0.5" fill="#e07020"/></g>
<rect x="185.50" y="1017.60" width="26.10" height="26.00" fill="none" stroke="#333" stroke-width="0.7"/>
<text x="198.05" y="1013.99" font-size="7.2" font-weight="bold" text-anchor="middle" fill="#000">7.26%</text>
<rect x="226.40" y="998.90" width="63.40" height="62.60" fill="#fff" stroke="#555" stroke-width="0.6"/>
<line x1="226.80" y1="1006.90" x2="228.20" y2="1006.90" stroke="#444" stroke-width="0.5"/>
<line x1="226.80" y1="1018.90" x2="228.20" y2="1018.90" stroke="#444" stroke-width="0.5"/>
<line x1="226.80" y1="1030.90" x2="228.20" y2="1030.90" stroke="#444" stroke-width="0.5"/>
<line x1="226.80" y1="1042.90" x2="228.20" y2="1042.90" stroke="#444" stroke-width="0.5"/>
<line x1="226.80" y1="1054.90" x2="228.20" y2="1054.90" stroke="#444" stroke-width="0.5"/>
<line x1="234.40" y1="1061.10" x2="234.40" y2="1059.70" stroke="#444" stroke-width="0.5"/>
<line x1="246.40" y1="1061.10" x2="246.40" y2="1059.70" stroke="#444" stroke-width="0.5"/>
<line x1="258.40" y1="1061.10" x2="258.40" y2="1059.70" stroke="#444" stroke-width="0.5"/>
<line x1="270.40" y1="1061.10" x2="270.40" y2="1059.70" stroke="#444" stroke-width="0.5"/>
<line x1="282.40" y1="1061.10" x2="282.40" y2="1059.70" stroke="#444" stroke-width="0.5"/>
<rect x="227.2" y="1060.0" width="61.8" height="0.9" fill="#888" opacity="0.5"/>
<path d="M261.8,1043.2h0.6 M261.0,1046.8h0.6 M261.3,1040.9h0.6 M260.2,1044.2h0.6 M261.6,1044.2h0.6 M259.3,1044.2h0.6 M260.6,1042.7h0.6 M260.8,1047.0h0.6 M259.8,1044.4h0.6 M260.0,1042.5h0.6 M261.7,1046.5h0.6 M259.9,1033.8h0.6 M266.7,1040.2h0.6 M261.5,1045.1h0.6 M263.1,1044.1h0.6 M256.6,1033.3h0.6 M261.7,1041.1h0.6 M264.3,1032.9h0.6 M259.5,1034.7h0.6 M263.2,1041.4h0.6 M259.0,1038.0h0.6 M257.0,1028.0h0.6 M256.5,1043.6h0.6 M261.0,1047.6h0.6 M260.7,1032.4h0.6 M258.9,1025.8h0.6 M259.7,1044.2h0.6 M259.2,1043.4h0.6 M263.4,1040.2h0.6 M262.0,1044.2h0.6 M261.1,1039.0h0.6 M261.8,1047.7h0.6 M259.4,1041.0h0.6 M262.3,1036.3h0.6 M258.5,1017.9h0.6 M259.2,1041.9h0.6 M259.1,1046.1h0.6 M263.7,1035.3h0.6 M260.5,1047.5h0.6 M261.9,1045.2h0.6 M262.0,1044.0h0.6 M260.2,1042.9h0.6 M263.6,1046.8h0.6 M263.1,1047.0h0.6 M261.6,1042.7h0.6 M264.1,1047.2h0.6 M260.8,1037.2h0.6 M253.9,1045.1h0.6 M265.2,1042.1h0.6 M260.6,1044.0h0.6 M258.1,1038.7h0.6 M266.3,1043.0h0.6 M259.5,1036.5h0.6 M259.5,1045.4h0.6 M258.2,1047.1h0.6 M261.3,1041.3h0.6 M260.0,1040.9h0.6 M263.1,1025.6h0.6 M263.9,1034.4h0.6 M259.5,1014.7h0.6 M261.6,1041.3h0.6 M257.2,1043.5h0.6 M257.0,1047.3h0.6 M263.4,1044.0h0.6 M263.8,1029.4h0.6 M260.2,1037.9h0.6 M252.8,1044.6h0.6 M260.8,1041.2h0.6 M260.0,1029.4h0.6 M259.1,1041.6h0.6 M260.5,1040.8h0.6 M256.6,1044.1h0.6 M265.0,1045.0h0.6 M258.7,1044.4h0.6 M260.6,1043.3h0.6 M261.7,1045.9h0.6 M260.2,1045.9h0.6 M266.5,1045.9h0.6 M260.5,1040.4h0.6 M262.7,1044.1h0.6 M261.9,1040.9h0.6 M265.2,1041.0h0.6 M258.4,1034.0h0.6 M256.1,1034.4h0.6 M261.1,1045.2h0.6 M262.5,1041.9h0.6 M257.4,1043.3h0.6 M261.2,1046.6h0.6 M263.9,1038.8h0.6 M264.6,1039.4h0.6 M257.7,1041.7h0.6 M260.2,1047.4h0.6 M259.3,1030.1h0.6 M257.9,1042.9h0.6 M263.8,1043.9h0.6 M261.0,1035.2h0.6 M258.1,1032.4h0.6 M263.9,1047.3h0.6 M267.6,1043.0h0.6 M255.4,1046.1h0.6 M260.6,1040.5h0.6 M256.4,1046.7h0.6 M265.3,1045.1h0.6 M261.7,1021.9h0.6 M258.4,1047.4h0.6 M259.6,1040.2h0.6 M261.5,1018.2h0.6 M258.8,1045.1h0.6 M264.2,1042.7h0.6 M258.7,1037.3h0.6 M259.7,1041.6h0.6 M262.5,1020.0h0.6 M259.4,1046.0h0.6 M264.7,1035.9h0.6 M261.1,1042.0h0.6 M270.2,1046.5h0.6 M263.3,1029.5h0.6 M262.2,1029.9h0.6 M259.4,1042.3h0.6 M265.4,1034.5h0.6 M257.2,1044.8h0.6 M253.7,1044.4h0.6 M256.8,1043.5h0.6 M260.3,1045.2h0.6 M259.7,1046.2h0.6 M258.1,1039.5h0.6 M262.1,1041.7h0.6 M261.1,1041.2h0.6 M261.4,1034.9h0.6 M265.4,1044.6h0.6 M258.3,1029.8h0.6 M258.4,1047.0h0.6 M261.1,1042.6h0.6 M258.5,1045.9h0.6 M260.0,1022.4h0.6 M266.7,1043.2h0.6 M263.4,1033.7h0.6 M263.4,1035.0h0.6 M263.0,1042.7h0.6 M258.6,1045.9h0.6 M263.2,1045.7h0.6 M260.7,1026.2h0.6 M261.4,1047.2h0.6 M261.0,1038.2h0.6 M260.5,1040.7h0.6 M267.1,1036.0h0.6 M262.4,1028.8h0.6 M258.5,1046.0h0.6 M261.6,1046.8h0.6 M258.2,1045.7h0.6 M256.1,1047.6h0.6 M259.6,1045.6h0.6 M261.9,1045.6h0.6 M259.1,1040.5h0.6 M258.1,1043.4h0.6 M263.9,1047.5h0.6 M260.3,1046.5h0.6 M259.9,1046.6h0.6 M254.5,1042.3h0.6 M262.9,1047.7h0.6 M257.9,1041.2h0.6 M260.2,1023.0h0.6 M262.5,1046.9h0.6 M262.9,1039.8h0.6 M256.5,1044.3h0.6 M264.2,1019.1h0.6 M262.7,1046.1h0.6 M262.9,1030.7h0.6 M262.9,1047.8h0.6 M260.9,1047.6h0.6 M259.5,1046.4h0.6 M254.3,1038.1h0.6 M262.4,1047.3h0.6 M262.4,1047.0h0.6 M263.2,1037.9h0.6 M256.2,1032.4h0.6 M266.1,1032.6h0.6 M260.9,1037.8h0.6 M263.6,1047.0h0.6 M263.1,1043.2h0.6 M260.8,1033.9h0.6 M261.0,1047.3h0.6 M259.7,1024.6h0.6 M260.3,1033.7h0.6 M262.0,1034.0h0.6 M256.9,1030.2h0.6 M257.7,1030.6h0.6 M263.6,1043.7h0.6 M256.8,1029.0h0.6 M256.8,1039.6h0.6 M258.1,1047.8h0.6 M264.1,1044.0h0.6 M260.9,1047.1h0.6 M256.6,1036.4h0.6 M258.3,1046.9h0.6 M258.7,1039.7h0.6 M260.6,1038.8h0.6 M258.8,1047.2h0.6 M261.4,1034.3h0.6 M263.2,1044.9h0.6 M266.8,1046.3h0.6 M255.5,1047.6h0.6 M260.0,1027.1h0.6 M255.9,1037.8h0.6 M261.1,1046.9h0.6 M258.9,1027.8h0.6 M259.3,1047.2h0.6 M262.6,1046.6h0.6 M261.4,1043.1h0.6 M258.2,1040.6h0.6 M258.3,1046.7h0.6 M253.2,1044.3h0.6 M259.0,1033.4h0.6 M257.6,1038.2h0.6 M257.0,1042.6h0.6 M260.8,1046.8h0.6 M261.9,1046.9h0.6 M261.2,1032.5h0.6 M255.3,1028.4h0.6 M258.0,1032.4h0.6 M263.9,1046.6h0.6 M262.6,1025.6h0.6 M260.6,1033.0h0.6 M264.4,1046.1h0.6 M264.6,1045.1h0.6 M263.5,1032.0h0.6 M265.7,1047.3h0.6 M265.5,1043.4h0.6 M261.4,1040.3h0.6 M258.4,1046.0h0.6 M258.0,1044.5h0.6 M256.6,1044.1h0.6 M257.8,1047.7h0.6 M262.0,1018.6h0.6 M262.5,1042.8h0.6 M257.7,1029.8h0.6 M260.7,1033.3h0.6 M263.0,1040.7h0.6 M264.1,1027.4h0.6 M264.0,1046.0h0.6 M262.0,1040.3h0.6 M261.9,1041.0h0.6 M257.9,1043.8h0.6 M265.9,1047.0h0.6 M258.7,1047.5h0.6 M258.3,1047.6h0.6 M260.1,1050.4h0.6 M259.1,1050.4h0.6 M259.6,1050.2h0.6 M255.1,1051.8h0.6 M254.7,1049.8h0.6 M258.8,1051.8h0.6 M264.6,1053.2h0.6 M259.9,1051.2h0.6 M261.2,1052.5h0.6 M265.1,1052.5h0.6 M264.2,1049.5h0.6 M259.2,1049.8h0.6 M261.8,1050.0h0.6 M261.7,1048.5h0.6 M259.8,1046.2h0.6 M257.8,1053.9h0.6 M257.8,1050.1h0.6 M259.6,1051.1h0.6 M253.5,1049.4h0.6 M258.7,1049.6h0.6 M257.1,1051.7h0.6 M257.6,1048.8h0.6 M264.6,1048.6h0.6 M261.6,1050.4h0.6 M264.3,1048.9h0.6 M259.1,1051.2h0.6 M258.0,1051.6h0.6 M263.2,1049.3h0.6 M258.8,1049.7h0.6 M262.9,1051.2h0.6 M261.9,1050.5h0.6 M259.7,1047.0h0.6 M257.0,1048.3h0.6 M260.4,1051.0h0.6 M257.2,1049.7h0.6 M260.3,1049.5h0.6 M258.0,1048.9h0.6 M266.7,1049.7h0.6 M258.3,1053.1h0.6 M257.7,1052.3h0.6 M260.1,1049.7h0.6 M260.9,1050.5h0.6 M254.9,1049.9h0.6 M256.2,1053.2h0.6 M266.1,1052.7h0.6 M264.8,1052.1h0.6 M264.6,1050.8h0.6 M258.8,1049.7h0.6 M259.8,1051.8h0.6 M260.1,1052.7h0.6 M260.3,1051.8h0.6 M260.7,1049.4h0.6 M264.3,1050.1h0.6 M259.0,1048.1h0.6 M263.2,1049.5h0.6 M261.1,1048.8h0.6 M256.1,1049.4h0.6 M252.7,1050.6h0.6 M260.8,1055.0h0.6 M262.5,1049.0h0.6 M264.5,1052.8h0.6 M259.9,1049.9h0.6 M257.2,1050.5h0.6 M255.1,1050.1h0.6 M256.5,1051.7h0.6 M261.0,1048.1h0.6 M262.4,1051.7h0.6 M257.9,1051.6h0.6 M258.3,1050.4h0.6 M259.4,1052.3h0.6 M259.8,1050.6h0.6 M261.7,1051.0h0.6 M261.5,1046.8h0.6 M257.7,1052.7h0.6 M260.9,1048.7h0.6 M262.9,1051.8h0.6 M261.4,1050.0h0.6 M262.8,1049.3h0.6 M262.4,1049.7h0.6 M262.4,1051.5h0.6 M260.1,1050.7h0.6 M265.2,1050.2h0.6 M262.1,1052.0h0.6 M258.3,1048.7h0.6 M255.3,1052.4h0.6 M259.3,1050.4h0.6 M260.9,1054.4h0.6 M262.9,1052.4h0.6 M259.7,1052.2h0.6 M256.4,1050.5h0.6" stroke="#4050f0" stroke-width="0.75" opacity="0.7"/>
<g transform="rotate(-12 260.1 1050.9)" filter="url(#fblur)"><ellipse cx="260.1" cy="1050.9" rx="7.2" ry="3.3" fill="#6a80f0" opacity="0.6"/><ellipse cx="260.1" cy="1050.9" rx="5.2" ry="2.4" fill="#2f9ae0"/><ellipse cx="259.5" cy="1050.9" rx="4.2" ry="1.9" fill="#22c060"/><ellipse cx="259.3" cy="1050.9" rx="2.2" ry="1.1" fill="#d8d020"/><ellipse cx="259.3" cy="1050.9" rx="0.9" ry="0.5" fill="#e07020"/></g>
<rect x="250.70" y="1017.60" width="26.10" height="26.00" fill="none" stroke="#333" stroke-width="0.7"/>
<text x="263.25" y="1013.99" font-size="7.2" font-weight="bold" text-anchor="middle" fill="#000">13.5%</text>
<text x="292.50" y="1034.96" font-size="7.1" font-weight="bold" text-anchor="start" fill="#000">Ratio=1:4</text>
<line x1="24.10" y1="1067.20" x2="24.10" y2="1029.50" stroke="#111" stroke-width="1.1"/>
<polygon points="21.8,1030 26.4,1030 24.1,1025.5" fill="#111"/>
<line x1="24.10" y1="1067.20" x2="72.50" y2="1067.20" stroke="#111" stroke-width="1.1"/>
<polygon points="72,1064.9 72,1069.5 76.5,1067.2" fill="#111"/>
<text x="0.20" y="1050.66" font-size="7.1" font-weight="bold" text-anchor="start" fill="#000">7AAD</text>
<text x="49.60" y="1076.26" font-size="7.1" font-weight="bold" text-anchor="middle" fill="#000">CFSE</text>
<text x="331.70" y="856.88" font-size="13" font-weight="bold" text-anchor="start" fill="#000">N</text>
<text x="437.90" y="877.54" font-size="7.9" font-weight="bold" text-anchor="middle" fill="#000">MS751 cells</text>
<text x="389.80" y="890.84" font-size="7.9" font-weight="bold" text-anchor="middle" fill="#000">Ratio=1:1</text>
<text x="436.80" y="890.84" font-size="7.9" font-weight="bold" text-anchor="middle" fill="#000">Ratio=1:2</text>
<text x="482.60" y="890.84" font-size="7.9" font-weight="bold" text-anchor="middle" fill="#000">Ratio=1:4</text>
<line x1="361.80" y1="914.40" x2="361.80" y2="1011.10" stroke="#000" stroke-width="1.3"/>
<line x1="358.80" y1="914.40" x2="361.80" y2="914.40" stroke="#000" stroke-width="1.3"/>
<text x="357.00" y="917.14" font-size="7.6" font-weight="bold" text-anchor="end" fill="#000">15</text>
<line x1="358.80" y1="946.50" x2="361.80" y2="946.50" stroke="#000" stroke-width="1.3"/>
<text x="357.00" y="949.24" font-size="7.6" font-weight="bold" text-anchor="end" fill="#000">10</text>
<line x1="358.80" y1="978.80" x2="361.80" y2="978.80" stroke="#000" stroke-width="1.3"/>
<text x="357.00" y="981.54" font-size="7.6" font-weight="bold" text-anchor="end" fill="#000">5</text>
<line x1="358.80" y1="1011.10" x2="361.80" y2="1011.10" stroke="#000" stroke-width="1.3"/>
<text x="357.00" y="1013.84" font-size="7.6" font-weight="bold" text-anchor="end" fill="#000">0</text>
<text x="341.70" y="970.88" font-size="8.0" font-weight="bold" text-anchor="middle" fill="#000" transform="rotate(-90 341.70 968.00)">Percentage of killing (%)</text>
<line x1="361.80" y1="1011.10" x2="507.50" y2="1011.10" stroke="#000" stroke-width="1.3"/>
<line x1="369.80" y1="1011.10" x2="369.80" y2="1014.10" stroke="#000" stroke-width="1.3"/>
<line x1="381.50" y1="1011.10" x2="381.50" y2="1014.10" stroke="#000" stroke-width="1.3"/>
<line x1="393.20" y1="1011.10" x2="393.20" y2="1014.10" stroke="#000" stroke-width="1.3"/>
<line x1="405.30" y1="1011.10" x2="405.30" y2="1014.10" stroke="#000" stroke-width="1.3"/>
<line x1="417.00" y1="1011.10" x2="417.00" y2="1014.10" stroke="#000" stroke-width="1.3"/>
<line x1="428.60" y1="1011.10" x2="428.60" y2="1014.10" stroke="#000" stroke-width="1.3"/>
<line x1="440.30" y1="1011.10" x2="440.30" y2="1014.10" stroke="#000" stroke-width="1.3"/>
<line x1="452.40" y1="1011.10" x2="452.40" y2="1014.10" stroke="#000" stroke-width="1.3"/>
<line x1="464.10" y1="1011.10" x2="464.10" y2="1014.10" stroke="#000" stroke-width="1.3"/>
<line x1="476.10" y1="1011.10" x2="476.10" y2="1014.10" stroke="#000" stroke-width="1.3"/>
<line x1="487.80" y1="1011.10" x2="487.80" y2="1014.10" stroke="#000" stroke-width="1.3"/>
<line x1="499.50" y1="1011.10" x2="499.50" y2="1014.10" stroke="#000" stroke-width="1.3"/>
<line x1="411.10" y1="903.10" x2="411.10" y2="1010.50" stroke="#333" stroke-width="0.9" stroke-dasharray="1,1"/>
<line x1="458.30" y1="903.10" x2="458.30" y2="1010.50" stroke="#333" stroke-width="0.9" stroke-dasharray="1,1"/>
<circle cx="369.80" cy="972.10" r="2.4" fill="#000"/>
<circle cx="374.36" cy="973.80" r="2.4" fill="#000"/>
<circle cx="369.80" cy="979.60" r="2.4" fill="#000"/>
<circle cx="372.08" cy="983.80" r="2.4" fill="#000"/>
<circle cx="367.52" cy="986.30" r="2.4" fill="#000"/>
<circle cx="372.08" cy="986.30" r="2.4" fill="#000"/>
<line x1="369.80" y1="975.80" x2="369.80" y2="983.80" stroke="#222" stroke-width="1.0"/>
<line x1="366.80" y1="975.80" x2="372.80" y2="975.80" stroke="#222" stroke-width="1.0"/>
<line x1="366.80" y1="983.80" x2="372.80" y2="983.80" stroke="#222" stroke-width="1.0"/>
<line x1="364.30" y1="979.60" x2="375.30" y2="979.60" stroke="#222" stroke-width="1.2"/>
<circle cx="381.50" cy="969.60" r="2.4" fill="#6a6a6a"/>
<circle cx="383.78" cy="973.80" r="2.4" fill="#6a6a6a"/>
<circle cx="379.22" cy="977.10" r="2.4" fill="#6a6a6a"/>
<circle cx="379.22" cy="984.10" r="2.4" fill="#6a6a6a"/>
<circle cx="383.78" cy="984.10" r="2.4" fill="#6a6a6a"/>
<line x1="381.50" y1="973.00" x2="381.50" y2="982.10" stroke="#888" stroke-width="1.0"/>
<line x1="378.50" y1="973.00" x2="384.50" y2="973.00" stroke="#888" stroke-width="1.0"/>
<line x1="378.50" y1="982.10" x2="384.50" y2="982.10" stroke="#888" stroke-width="1.0"/>
<line x1="376.00" y1="978.00" x2="387.00" y2="978.00" stroke="#888" stroke-width="1.2"/>
<circle cx="393.20" cy="967.10" r="2.4" fill="#0a12e0"/>
<circle cx="395.48" cy="968.80" r="2.4" fill="#0a12e0"/>
<circle cx="393.20" cy="970.10" r="2.4" fill="#0a12e0"/>
<circle cx="397.76" cy="972.10" r="2.4" fill="#0a12e0"/>
<circle cx="390.92" cy="973.00" r="2.4" fill="#0a12e0"/>
<circle cx="390.92" cy="969.50" r="2.4" fill="#0a12e0"/>
<line x1="387.70" y1="970.40" x2="398.70" y2="970.40" stroke="#222" stroke-width="1.2"/>
<circle cx="405.30" cy="940.00" r="2.4" fill="#f01818"/>
<circle cx="407.58" cy="944.50" r="2.4" fill="#f01818"/>
<circle cx="405.30" cy="950.00" r="2.4" fill="#f01818"/>
<circle cx="405.30" cy="960.40" r="2.4" fill="#f01818"/>
<circle cx="407.58" cy="964.60" r="2.4" fill="#f01818"/>
<circle cx="403.02" cy="967.10" r="2.4" fill="#f01818"/>
<line x1="405.30" y1="944.50" x2="405.30" y2="964.60" stroke="#222" stroke-width="1.0"/>
<line x1="402.30" y1="944.50" x2="408.30" y2="944.50" stroke="#222" stroke-width="1.0"/>
<line x1="402.30" y1="964.60" x2="408.30" y2="964.60" stroke="#222" stroke-width="1.0"/>
<line x1="399.80" y1="953.70" x2="410.80" y2="953.70" stroke="#222" stroke-width="1.2"/>
<circle cx="417.00" cy="982.70" r="2.4" fill="#000"/>
<circle cx="421.56" cy="985.60" r="2.4" fill="#000"/>
<circle cx="414.72" cy="987.10" r="2.4" fill="#000"/>
<circle cx="419.28" cy="987.10" r="2.4" fill="#000"/>
<circle cx="414.72" cy="989.30" r="2.4" fill="#000"/>
<circle cx="419.28" cy="989.30" r="2.4" fill="#000"/>
<line x1="411.50" y1="986.00" x2="422.50" y2="986.00" stroke="#222" stroke-width="1.2"/>
<circle cx="428.60" cy="980.50" r="2.4" fill="#6a6a6a"/>
<circle cx="430.88" cy="983.40" r="2.4" fill="#6a6a6a"/>
<circle cx="426.32" cy="983.40" r="2.4" fill="#6a6a6a"/>
<circle cx="428.60" cy="985.60" r="2.4" fill="#6a6a6a"/>
<circle cx="433.16" cy="989.30" r="2.4" fill="#6a6a6a"/>
<line x1="423.10" y1="984.60" x2="434.10" y2="984.60" stroke="#888" stroke-width="1.2"/>
<circle cx="438.02" cy="962.70" r="2.4" fill="#0a12e0"/>
<circle cx="442.58" cy="962.70" r="2.4" fill="#0a12e0"/>
<circle cx="435.74" cy="964.50" r="2.4" fill="#0a12e0"/>
<circle cx="442.58" cy="965.90" r="2.4" fill="#0a12e0"/>
<circle cx="438.02" cy="967.40" r="2.4" fill="#0a12e0"/>
<circle cx="444.86" cy="970.00" r="2.4" fill="#0a12e0"/>
<line x1="434.80" y1="965.20" x2="445.80" y2="965.20" stroke="#222" stroke-width="1.2"/>
<circle cx="452.40" cy="942.30" r="2.4" fill="#f01818"/>
<circle cx="456.96" cy="945.50" r="2.4" fill="#f01818"/>
<circle cx="452.40" cy="948.70" r="2.4" fill="#f01818"/>
<circle cx="456.96" cy="952.50" r="2.4" fill="#f01818"/>
<circle cx="450.12" cy="964.70" r="2.4" fill="#f01818"/>
<circle cx="454.68" cy="964.70" r="2.4" fill="#f01818"/>
<line x1="452.40" y1="945.20" x2="452.40" y2="962.30" stroke="#222" stroke-width="1.0"/>
<line x1="449.40" y1="945.20" x2="455.40" y2="945.20" stroke="#222" stroke-width="1.0"/>
<line x1="449.40" y1="962.30" x2="455.40" y2="962.30" stroke="#222" stroke-width="1.0"/>
<line x1="446.90" y1="953.10" x2="457.90" y2="953.10" stroke="#222" stroke-width="1.2"/>
<circle cx="464.10" cy="979.80" r="2.4" fill="#000"/>
<circle cx="468.66" cy="981.20" r="2.4" fill="#000"/>
<circle cx="459.54" cy="982.30" r="2.4" fill="#000"/>
<circle cx="461.82" cy="983.40" r="2.4" fill="#000"/>
<circle cx="466.38" cy="984.20" r="2.4" fill="#000"/>
<circle cx="464.10" cy="994.00" r="2.4" fill="#000"/>
<line x1="464.10" y1="980.80" x2="464.10" y2="989.30" stroke="#222" stroke-width="1.0"/>
<line x1="461.10" y1="980.80" x2="467.10" y2="980.80" stroke="#222" stroke-width="1.0"/>
<line x1="461.10" y1="989.30" x2="467.10" y2="989.30" stroke="#222" stroke-width="1.0"/>
<line x1="458.60" y1="983.40" x2="469.60" y2="983.40" stroke="#222" stroke-width="1.2"/>
<circle cx="476.10" cy="965.90" r="2.4" fill="#6a6a6a"/>
<circle cx="480.66" cy="969.60" r="2.4" fill="#6a6a6a"/>
<circle cx="476.10" cy="974.70" r="2.4" fill="#6a6a6a"/>
<circle cx="480.66" cy="977.30" r="2.4" fill="#6a6a6a"/>
<circle cx="473.82" cy="986.60" r="2.4" fill="#6a6a6a"/>
<circle cx="478.38" cy="986.60" r="2.4" fill="#6a6a6a"/>
<line x1="476.10" y1="968.80" x2="476.10" y2="986.40" stroke="#888" stroke-width="1.0"/>
<line x1="473.10" y1="968.80" x2="479.10" y2="968.80" stroke="#888" stroke-width="1.0"/>
<line x1="473.10" y1="986.40" x2="479.10" y2="986.40" stroke="#888" stroke-width="1.0"/>
<line x1="470.60" y1="977.90" x2="481.60" y2="977.90" stroke="#888" stroke-width="1.2"/>
<circle cx="485.52" cy="962.30" r="2.4" fill="#0a12e0"/>
<circle cx="490.08" cy="962.30" r="2.4" fill="#0a12e0"/>
<circle cx="485.52" cy="965.90" r="2.4" fill="#0a12e0"/>
<circle cx="490.08" cy="965.90" r="2.4" fill="#0a12e0"/>
<circle cx="485.52" cy="972.50" r="2.4" fill="#0a12e0"/>
<circle cx="490.08" cy="972.50" r="2.4" fill="#0a12e0"/>
<line x1="487.80" y1="962.50" x2="487.80" y2="972.00" stroke="#222" stroke-width="1.0"/>
<line x1="484.80" y1="962.50" x2="490.80" y2="962.50" stroke="#222" stroke-width="1.0"/>
<line x1="484.80" y1="972.00" x2="490.80" y2="972.00" stroke="#222" stroke-width="1.0"/>
<line x1="482.30" y1="967.40" x2="493.30" y2="967.40" stroke="#222" stroke-width="1.2"/>
<circle cx="499.50" cy="923.90" r="2.4" fill="#f01818"/>
<circle cx="499.50" cy="936.40" r="2.4" fill="#f01818"/>
<circle cx="499.50" cy="944.30" r="2.4" fill="#f01818"/>
<circle cx="504.06" cy="946.90" r="2.4" fill="#f01818"/>
<circle cx="497.22" cy="948.40" r="2.4" fill="#f01818"/>
<circle cx="501.78" cy="948.40" r="2.4" fill="#f01818"/>
<line x1="499.50" y1="931.60" x2="499.50" y2="949.90" stroke="#222" stroke-width="1.0"/>
<line x1="496.50" y1="931.60" x2="502.50" y2="931.60" stroke="#222" stroke-width="1.0"/>
<line x1="496.50" y1="949.90" x2="502.50" y2="949.90" stroke="#222" stroke-width="1.0"/>
<line x1="494.00" y1="941.10" x2="505.00" y2="941.10" stroke="#222" stroke-width="1.2"/>
<polyline points="381.50,937.00 381.50,915.30 405.30,915.30 405.30,921.10" fill="none" stroke="#111" stroke-width="1.0"/>
<path d="M387.90,906.58L387.90,910.62M389.65,907.59L386.15,909.61M389.65,909.61L386.15,907.59" stroke="#000" stroke-width="1.10" stroke-linecap="round"/>
<circle cx="387.90" cy="908.60" r="0.84" fill="#000"/>
<path d="M393.40,906.58L393.40,910.62M395.15,907.59L391.65,909.61M395.15,909.61L391.65,907.59" stroke="#000" stroke-width="1.10" stroke-linecap="round"/>
<circle cx="393.40" cy="908.60" r="0.84" fill="#000"/>
<path d="M398.90,906.58L398.90,910.62M400.65,907.59L397.15,909.61M400.65,909.61L397.15,907.59" stroke="#000" stroke-width="1.10" stroke-linecap="round"/>
<circle cx="398.90" cy="908.60" r="0.84" fill="#000"/>
<polyline points="393.20,948.70 393.20,929.10 405.30,929.10 405.30,935.30" fill="none" stroke="#111" stroke-width="1.0"/>
<path d="M396.50,920.78L396.50,924.82M398.25,921.79L394.75,923.81M398.25,923.81L394.75,921.79" stroke="#000" stroke-width="1.10" stroke-linecap="round"/>
<circle cx="396.50" cy="922.80" r="0.84" fill="#000"/>
<path d="M402.00,920.78L402.00,924.82M403.75,921.79L400.25,923.81M403.75,923.81L400.25,921.79" stroke="#000" stroke-width="1.10" stroke-linecap="round"/>
<circle cx="402.00" cy="922.80" r="0.84" fill="#000"/>
<polyline points="381.50,956.20 381.50,948.40 393.20,948.40 393.20,967.10" fill="none" stroke="#111" stroke-width="1.0"/>
<path d="M384.60,939.98L384.60,944.02M386.35,940.99L382.85,943.01M386.35,943.01L382.85,940.99" stroke="#000" stroke-width="1.10" stroke-linecap="round"/>
<circle cx="384.60" cy="942.00" r="0.84" fill="#000"/>
<path d="M390.10,939.98L390.10,944.02M391.85,940.99L388.35,943.01M391.85,943.01L388.35,940.99" stroke="#000" stroke-width="1.10" stroke-linecap="round"/>
<circle cx="390.10" cy="942.00" r="0.84" fill="#000"/>
<polyline points="369.80,967.10 369.80,960.10 381.50,960.10 381.50,967.10" fill="none" stroke="#111" stroke-width="1.0"/>
<text x="376.00" y="956.58" font-size="8.0" font-weight="normal" text-anchor="middle" fill="#000">ns</text>
<polyline points="428.60,941.10 428.60,913.80 452.40,913.80 452.40,921.40" fill="none" stroke="#111" stroke-width="1.0"/>
<path d="M432.25,905.78L432.25,909.82M434.00,906.79L430.50,908.81M434.00,908.81L430.50,906.79" stroke="#000" stroke-width="1.10" stroke-linecap="round"/>
<circle cx="432.25" cy="907.80" r="0.84" fill="#000"/>
<path d="M437.75,905.78L437.75,909.82M439.50,906.79L436.00,908.81M439.50,908.81L436.00,906.79" stroke="#000" stroke-width="1.10" stroke-linecap="round"/>
<circle cx="437.75" cy="907.80" r="0.84" fill="#000"/>
<path d="M443.25,905.78L443.25,909.82M445.00,906.79L441.50,908.81M445.00,908.81L441.50,906.79" stroke="#000" stroke-width="1.10" stroke-linecap="round"/>
<circle cx="443.25" cy="907.80" r="0.84" fill="#000"/>
<path d="M448.75,905.78L448.75,909.82M450.50,906.79L447.00,908.81M450.50,908.81L447.00,906.79" stroke="#000" stroke-width="1.10" stroke-linecap="round"/>
<circle cx="448.75" cy="907.80" r="0.84" fill="#000"/>
<polyline points="440.30,939.60 440.30,929.40 452.40,929.40 452.40,939.60" fill="none" stroke="#111" stroke-width="1.0"/>
<path d="M446.35,921.58L446.35,925.62M448.10,922.59L444.60,924.61M448.10,924.61L444.60,922.59" stroke="#000" stroke-width="1.10" stroke-linecap="round"/>
<circle cx="446.35" cy="923.60" r="0.84" fill="#000"/>
<polyline points="428.60,958.30 428.60,951.60 440.30,951.60 440.30,961.20" fill="none" stroke="#111" stroke-width="1.0"/>
<path d="M426.65,943.18L426.65,947.22M428.40,944.19L424.90,946.21M428.40,946.21L424.90,944.19" stroke="#000" stroke-width="1.10" stroke-linecap="round"/>
<circle cx="426.65" cy="945.20" r="0.84" fill="#000"/>
<path d="M432.15,943.18L432.15,947.22M433.90,944.19L430.40,946.21M433.90,946.21L430.40,944.19" stroke="#000" stroke-width="1.10" stroke-linecap="round"/>
<circle cx="432.15" cy="945.20" r="0.84" fill="#000"/>
<path d="M437.65,943.18L437.65,947.22M439.40,944.19L435.90,946.21M439.40,946.21L435.90,944.19" stroke="#000" stroke-width="1.10" stroke-linecap="round"/>
<circle cx="437.65" cy="945.20" r="0.84" fill="#000"/>
<path d="M443.15,943.18L443.15,947.22M444.90,944.19L441.40,946.21M444.90,946.21L441.40,944.19" stroke="#000" stroke-width="1.10" stroke-linecap="round"/>
<circle cx="443.15" cy="945.20" r="0.84" fill="#000"/>
<polyline points="417.00,973.90 417.00,966.20 428.60,966.20 428.60,973.90" fill="none" stroke="#111" stroke-width="1.0"/>
<text x="423.20" y="962.68" font-size="8.0" font-weight="normal" text-anchor="middle" fill="#000">ns</text>
<polyline points="476.10,939.60 476.10,904.30 499.50,904.30 499.50,906.80" fill="none" stroke="#111" stroke-width="1.0"/>
<path d="M479.55,895.98L479.55,900.02M481.30,896.99L477.80,899.01M481.30,899.01L477.80,896.99" stroke="#000" stroke-width="1.10" stroke-linecap="round"/>
<circle cx="479.55" cy="898.00" r="0.84" fill="#000"/>
<path d="M485.05,895.98L485.05,900.02M486.80,896.99L483.30,899.01M486.80,899.01L483.30,896.99" stroke="#000" stroke-width="1.10" stroke-linecap="round"/>
<circle cx="485.05" cy="898.00" r="0.84" fill="#000"/>
<path d="M490.55,895.98L490.55,900.02M492.30,896.99L488.80,899.01M492.30,899.01L488.80,896.99" stroke="#000" stroke-width="1.10" stroke-linecap="round"/>
<circle cx="490.55" cy="898.00" r="0.84" fill="#000"/>
<path d="M496.05,895.98L496.05,900.02M497.80,896.99L494.30,899.01M497.80,899.01L494.30,896.99" stroke="#000" stroke-width="1.10" stroke-linecap="round"/>
<circle cx="496.05" cy="898.00" r="0.84" fill="#000"/>
<polyline points="487.80,941.80 487.80,916.00 499.50,916.00 499.50,918.50" fill="none" stroke="#111" stroke-width="1.0"/>
<path d="M485.40,907.68L485.40,911.72M487.15,908.69L483.65,910.71M487.15,910.71L483.65,908.69" stroke="#000" stroke-width="1.10" stroke-linecap="round"/>
<circle cx="485.40" cy="909.70" r="0.84" fill="#000"/>
<path d="M490.90,907.68L490.90,911.72M492.65,908.69L489.15,910.71M492.65,910.71L489.15,908.69" stroke="#000" stroke-width="1.10" stroke-linecap="round"/>
<circle cx="490.90" cy="909.70" r="0.84" fill="#000"/>
<path d="M496.40,907.68L496.40,911.72M498.15,908.69L494.65,910.71M498.15,910.71L494.65,908.69" stroke="#000" stroke-width="1.10" stroke-linecap="round"/>
<circle cx="496.40" cy="909.70" r="0.84" fill="#000"/>
<path d="M501.90,907.68L501.90,911.72M503.65,908.69L500.15,910.71M503.65,910.71L500.15,908.69" stroke="#000" stroke-width="1.10" stroke-linecap="round"/>
<circle cx="501.90" cy="909.70" r="0.84" fill="#000"/>
<polyline points="476.10,949.90 476.10,946.20 487.80,946.20 487.80,957.20" fill="none" stroke="#111" stroke-width="1.0"/>
<path d="M481.95,938.38L481.95,942.42M483.70,939.39L480.20,941.41M483.70,941.41L480.20,939.39" stroke="#000" stroke-width="1.10" stroke-linecap="round"/>
<circle cx="481.95" cy="940.40" r="0.84" fill="#000"/>
<polyline points="464.10,975.40 464.10,952.50 476.10,952.50 476.10,963.00" fill="none" stroke="#111" stroke-width="1.0"/>
<text x="469.20" y="949.08" font-size="8.0" font-weight="normal" text-anchor="middle" fill="#000">ns</text>
<circle cx="371.10" cy="1023.10" r="3.0" fill="#000"/>
<text x="375.80" y="1025.98" font-size="8.0" font-weight="bold" text-anchor="start" fill="#000">PBS</text>
<circle cx="371.10" cy="1033.20" r="3.0" fill="#6a6a6a"/>
<text x="375.80" y="1036.08" font-size="8.0" font-weight="bold" text-anchor="start" fill="#000">L1+MF59</text>
<circle cx="371.10" cy="1043.00" r="3.0" fill="#0a12e8"/>
<text x="375.80" y="1045.88" font-size="8.0" font-weight="bold" text-anchor="start" fill="#000">L1+GP96</text>
<circle cx="371.10" cy="1053.00" r="3.0" fill="#ff1010"/>
<text x="375.80" y="1055.88" font-size="8.0" font-weight="bold" text-anchor="start" fill="#000">L1-GP96-Fusion</text>
<text x="513.00" y="856.88" font-size="13" font-weight="bold" text-anchor="start" fill="#000">O</text>
<text x="552.50" y="882.87" font-size="7.7" font-weight="bold" text-anchor="start" fill="#000">R squared=0.7466</text>
<text x="552.50" y="891.27" font-size="7.7" font-weight="bold" text-anchor="start" fill="#000">P&lt; 0.0001</text>
<line x1="542.90" y1="895.30" x2="542.90" y2="988.00" stroke="#000" stroke-width="1.3"/>
<line x1="539.90" y1="895.30" x2="542.90" y2="895.30" stroke="#000" stroke-width="1.3"/>
<text x="538.50" y="898.04" font-size="7.6" font-weight="bold" text-anchor="end" fill="#000">15</text>
<line x1="539.90" y1="926.10" x2="542.90" y2="926.10" stroke="#000" stroke-width="1.3"/>
<text x="538.50" y="928.84" font-size="7.6" font-weight="bold" text-anchor="end" fill="#000">10</text>
<line x1="539.90" y1="957.20" x2="542.90" y2="957.20" stroke="#000" stroke-width="1.3"/>
<text x="538.50" y="959.94" font-size="7.6" font-weight="bold" text-anchor="end" fill="#000">5</text>
<line x1="539.90" y1="988.00" x2="542.90" y2="988.00" stroke="#000" stroke-width="1.3"/>
<text x="538.50" y="990.74" font-size="7.6" font-weight="bold" text-anchor="end" fill="#000">0</text>
<line x1="542.90" y1="988.00" x2="681.40" y2="988.00" stroke="#000" stroke-width="1.3"/>
<line x1="542.90" y1="988.00" x2="542.90" y2="991.00" stroke="#000" stroke-width="1.3"/>
<text x="542.90" y="999.94" font-size="7.6" font-weight="bold" text-anchor="middle" fill="#000">0</text>
<line x1="577.80" y1="988.00" x2="577.80" y2="991.00" stroke="#000" stroke-width="1.3"/>
<text x="577.80" y="999.94" font-size="7.6" font-weight="bold" text-anchor="middle" fill="#000">2</text>
<line x1="612.70" y1="988.00" x2="612.70" y2="991.00" stroke="#000" stroke-width="1.3"/>
<text x="612.70" y="999.94" font-size="7.6" font-weight="bold" text-anchor="middle" fill="#000">4</text>
<line x1="647.60" y1="988.00" x2="647.60" y2="991.00" stroke="#000" stroke-width="1.3"/>
<text x="647.60" y="999.94" font-size="7.6" font-weight="bold" text-anchor="middle" fill="#000">6</text>
<line x1="681.40" y1="988.00" x2="681.40" y2="991.00" stroke="#000" stroke-width="1.3"/>
<text x="681.40" y="999.94" font-size="7.6" font-weight="bold" text-anchor="middle" fill="#000">8</text>
<text x="611.8" y="1012.7" font-size="8" font-weight="bold" text-anchor="middle">CD8<tspan dy="-3" font-size="5.2">+</tspan><tspan dy="3"> IFN-γ</tspan><tspan dy="-3" font-size="5.2">+</tspan><tspan dy="3"> T cells (%)</tspan></text>
<text x="523.60" y="940.31" font-size="7.8" font-weight="bold" text-anchor="middle" fill="#000" transform="rotate(-90 523.60 937.50)">Percentage of killing</text>
<line x1="547.70" y1="958.60" x2="669.30" y2="924.90" stroke="#111" stroke-width="1.0"/>
<circle cx="555.60" cy="950.70" r="2.6" fill="#000"/>
<circle cx="556.10" cy="952.60" r="2.6" fill="#000"/>
<circle cx="553.70" cy="960.30" r="2.6" fill="#000"/>
<circle cx="556.10" cy="963.40" r="2.6" fill="#000"/>
<circle cx="566.20" cy="959.60" r="2.6" fill="#000"/>
<circle cx="567.00" cy="962.20" r="2.6" fill="#000"/>
<circle cx="548.40" cy="962.70" r="2.6" fill="#8a8a8a"/>
<circle cx="568.90" cy="948.80" r="2.6" fill="#8a8a8a"/>
<circle cx="567.00" cy="954.80" r="2.6" fill="#8a8a8a"/>
<circle cx="570.60" cy="954.30" r="2.6" fill="#8a8a8a"/>
<circle cx="560.90" cy="951.40" r="2.6" fill="#0a12e8"/>
<circle cx="562.90" cy="948.30" r="2.6" fill="#0a12e8"/>
<circle cx="583.10" cy="947.60" r="2.6" fill="#0a12e8"/>
<circle cx="583.10" cy="949.50" r="2.6" fill="#0a12e8"/>
<circle cx="618.70" cy="949.00" r="2.6" fill="#0a12e8"/>
<circle cx="624.30" cy="945.90" r="2.6" fill="#0a12e8"/>
<circle cx="565.00" cy="945.40" r="2.6" fill="#f01818"/>
<circle cx="578.50" cy="941.80" r="2.6" fill="#f01818"/>
<circle cx="582.10" cy="938.20" r="2.6" fill="#f01818"/>
<circle cx="649.30" cy="929.50" r="2.6" fill="#f01818"/>
<circle cx="668.60" cy="924.70" r="2.6" fill="#f01818"/>
<circle cx="670.50" cy="920.10" r="2.6" fill="#f01818"/>
<circle cx="550.10" cy="1022.70" r="3.0" fill="#000"/>
<text x="554.70" y="1025.58" font-size="8.0" font-weight="bold" text-anchor="start" fill="#000">PBS</text>
<circle cx="550.10" cy="1032.10" r="3.0" fill="#6a6a6a"/>
<text x="554.70" y="1034.98" font-size="8.0" font-weight="bold" text-anchor="start" fill="#000">L1+MF59</text>
<circle cx="550.10" cy="1041.80" r="3.0" fill="#0a12e8"/>
<text x="554.70" y="1044.68" font-size="8.0" font-weight="bold" text-anchor="start" fill="#000">L1+GP96</text>
<circle cx="550.10" cy="1051.30" r="3.0" fill="#ff1010"/>
<text x="554.70" y="1054.18" font-size="8.0" font-weight="bold" text-anchor="start" fill="#000">L1-GP96-Fusion</text>
</svg></body></html>
